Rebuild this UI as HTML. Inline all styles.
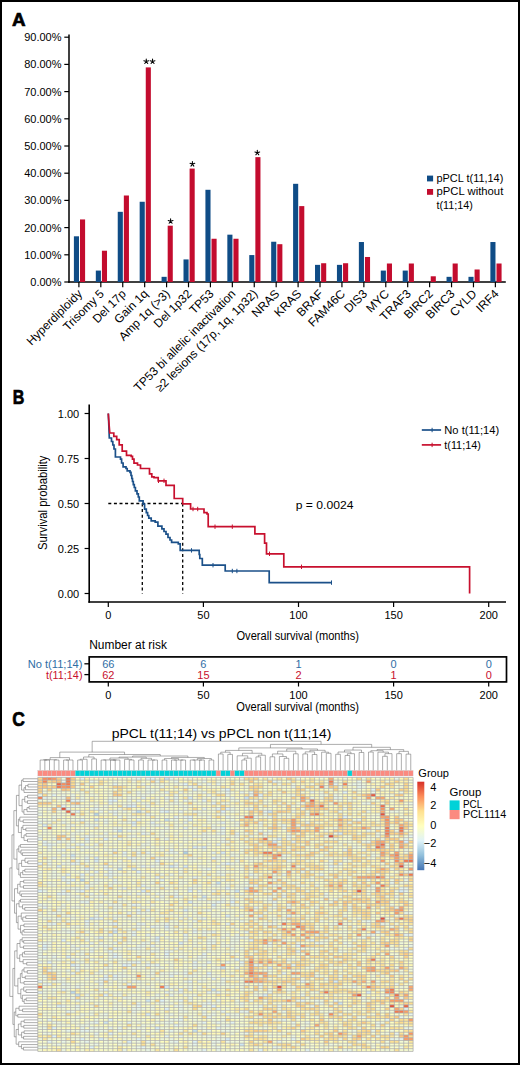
<!DOCTYPE html>
<html><head><meta charset="utf-8"><style>
html,body{margin:0;padding:0;background:#fff;}
svg{display:block;}
text{font-family:"Liberation Sans", sans-serif;}
</style></head><body>
<svg width="520" height="1065" viewBox="0 0 520 1065">
<rect width="520" height="1065" fill="#fff"/>
<text x="12.00" y="26.00" font-size="19" text-anchor="start" fill="#000" font-weight="bold" textLength="13.60" lengthAdjust="spacingAndGlyphs" stroke="#000" stroke-width="0.7">A</text>
<line x1="64.30" y1="282.00" x2="69.00" y2="282.00" stroke="#000" stroke-width="1.2" />
<text x="61.50" y="286.00" font-size="11" text-anchor="end" fill="#000" >0.00%</text>
<line x1="64.30" y1="254.80" x2="69.00" y2="254.80" stroke="#000" stroke-width="1.2" />
<text x="61.50" y="258.80" font-size="11" text-anchor="end" fill="#000" >10.00%</text>
<line x1="64.30" y1="227.60" x2="69.00" y2="227.60" stroke="#000" stroke-width="1.2" />
<text x="61.50" y="231.60" font-size="11" text-anchor="end" fill="#000" >20.00%</text>
<line x1="64.30" y1="200.40" x2="69.00" y2="200.40" stroke="#000" stroke-width="1.2" />
<text x="61.50" y="204.40" font-size="11" text-anchor="end" fill="#000" >30.00%</text>
<line x1="64.30" y1="173.20" x2="69.00" y2="173.20" stroke="#000" stroke-width="1.2" />
<text x="61.50" y="177.20" font-size="11" text-anchor="end" fill="#000" >40.00%</text>
<line x1="64.30" y1="146.00" x2="69.00" y2="146.00" stroke="#000" stroke-width="1.2" />
<text x="61.50" y="150.00" font-size="11" text-anchor="end" fill="#000" >50.00%</text>
<line x1="64.30" y1="118.80" x2="69.00" y2="118.80" stroke="#000" stroke-width="1.2" />
<text x="61.50" y="122.80" font-size="11" text-anchor="end" fill="#000" >60.00%</text>
<line x1="64.30" y1="91.60" x2="69.00" y2="91.60" stroke="#000" stroke-width="1.2" />
<text x="61.50" y="95.60" font-size="11" text-anchor="end" fill="#000" >70.00%</text>
<line x1="64.30" y1="64.40" x2="69.00" y2="64.40" stroke="#000" stroke-width="1.2" />
<text x="61.50" y="68.40" font-size="11" text-anchor="end" fill="#000" >80.00%</text>
<line x1="64.30" y1="37.20" x2="69.00" y2="37.20" stroke="#000" stroke-width="1.2" />
<text x="61.50" y="41.20" font-size="11" text-anchor="end" fill="#000" >90.00%</text>
<line x1="69.00" y1="34.60" x2="69.00" y2="282.75" stroke="#000" stroke-width="1.5" />
<line x1="68.30" y1="282.00" x2="505.80" y2="282.00" stroke="#000" stroke-width="1.5" />
<line x1="78.90" y1="282.00" x2="78.90" y2="287.30" stroke="#000" stroke-width="1.2" />
<rect x="73.90" y="236.30" width="5.1" height="45.70" fill="#0f4c86"/>
<rect x="80.00" y="219.44" width="5.1" height="62.56" fill="#c30c2e"/>
<text x="0" y="0" font-size="12" text-anchor="end" transform="translate(82.90,294.50) rotate(-45)">Hyperdiploidy</text>
<line x1="100.82" y1="282.00" x2="100.82" y2="287.30" stroke="#000" stroke-width="1.2" />
<rect x="95.82" y="270.58" width="5.1" height="11.42" fill="#0f4c86"/>
<rect x="101.92" y="250.72" width="5.1" height="31.28" fill="#c30c2e"/>
<text x="0" y="0" font-size="12" text-anchor="end" transform="translate(104.82,294.50) rotate(-45)">Trisomy 5</text>
<line x1="122.74" y1="282.00" x2="122.74" y2="287.30" stroke="#000" stroke-width="1.2" />
<rect x="117.74" y="211.82" width="5.1" height="70.18" fill="#0f4c86"/>
<rect x="123.84" y="195.50" width="5.1" height="86.50" fill="#c30c2e"/>
<text x="0" y="0" font-size="12" text-anchor="end" transform="translate(126.74,294.50) rotate(-45)">Del 17p</text>
<line x1="144.66" y1="282.00" x2="144.66" y2="287.30" stroke="#000" stroke-width="1.2" />
<rect x="139.66" y="201.76" width="5.1" height="80.24" fill="#0f4c86"/>
<rect x="145.76" y="67.39" width="5.1" height="214.61" fill="#c30c2e"/>
<text x="0" y="0" font-size="12" text-anchor="end" transform="translate(148.66,294.50) rotate(-45)">Gain 1q</text>
<line x1="166.58" y1="282.00" x2="166.58" y2="287.30" stroke="#000" stroke-width="1.2" />
<rect x="161.58" y="276.83" width="5.1" height="5.17" fill="#0f4c86"/>
<rect x="167.68" y="225.70" width="5.1" height="56.30" fill="#c30c2e"/>
<text x="0" y="0" font-size="12" text-anchor="end" transform="translate(170.58,294.50) rotate(-45)">Amp 1q (&gt;3)</text>
<line x1="188.50" y1="282.00" x2="188.50" y2="287.30" stroke="#000" stroke-width="1.2" />
<rect x="183.50" y="259.42" width="5.1" height="22.58" fill="#0f4c86"/>
<rect x="189.60" y="168.58" width="5.1" height="113.42" fill="#c30c2e"/>
<text x="0" y="0" font-size="12" text-anchor="end" transform="translate(192.50,294.50) rotate(-45)">Del 1p32</text>
<line x1="210.42" y1="282.00" x2="210.42" y2="287.30" stroke="#000" stroke-width="1.2" />
<rect x="205.42" y="189.79" width="5.1" height="92.21" fill="#0f4c86"/>
<rect x="211.52" y="238.75" width="5.1" height="43.25" fill="#c30c2e"/>
<text x="0" y="0" font-size="12" text-anchor="end" transform="translate(214.42,294.50) rotate(-45)">TP53</text>
<line x1="232.34" y1="282.00" x2="232.34" y2="287.30" stroke="#000" stroke-width="1.2" />
<rect x="227.34" y="234.67" width="5.1" height="47.33" fill="#0f4c86"/>
<rect x="233.44" y="238.75" width="5.1" height="43.25" fill="#c30c2e"/>
<text x="0" y="0" font-size="12" text-anchor="end" transform="translate(236.34,294.50) rotate(-45)">TP53 bi allelic inactivation</text>
<line x1="254.26" y1="282.00" x2="254.26" y2="287.30" stroke="#000" stroke-width="1.2" />
<rect x="249.26" y="255.07" width="5.1" height="26.93" fill="#0f4c86"/>
<rect x="255.36" y="157.15" width="5.1" height="124.85" fill="#c30c2e"/>
<text x="0" y="0" font-size="12" text-anchor="end" transform="translate(258.26,294.50) rotate(-45)">≥2 lesions (17p, 1q, 1p32)</text>
<line x1="276.18" y1="282.00" x2="276.18" y2="287.30" stroke="#000" stroke-width="1.2" />
<rect x="271.18" y="241.74" width="5.1" height="40.26" fill="#0f4c86"/>
<rect x="277.28" y="244.19" width="5.1" height="37.81" fill="#c30c2e"/>
<text x="0" y="0" font-size="12" text-anchor="end" transform="translate(280.18,294.50) rotate(-45)">NRAS</text>
<line x1="298.10" y1="282.00" x2="298.10" y2="287.30" stroke="#000" stroke-width="1.2" />
<rect x="293.10" y="183.81" width="5.1" height="98.19" fill="#0f4c86"/>
<rect x="299.20" y="206.11" width="5.1" height="75.89" fill="#c30c2e"/>
<text x="0" y="0" font-size="12" text-anchor="end" transform="translate(302.10,294.50) rotate(-45)">KRAS</text>
<line x1="320.02" y1="282.00" x2="320.02" y2="287.30" stroke="#000" stroke-width="1.2" />
<rect x="315.02" y="264.86" width="5.1" height="17.14" fill="#0f4c86"/>
<rect x="321.12" y="263.23" width="5.1" height="18.77" fill="#c30c2e"/>
<text x="0" y="0" font-size="12" text-anchor="end" transform="translate(324.02,294.50) rotate(-45)">BRAF</text>
<line x1="341.94" y1="282.00" x2="341.94" y2="287.30" stroke="#000" stroke-width="1.2" />
<rect x="336.94" y="264.86" width="5.1" height="17.14" fill="#0f4c86"/>
<rect x="343.04" y="263.23" width="5.1" height="18.77" fill="#c30c2e"/>
<text x="0" y="0" font-size="12" text-anchor="end" transform="translate(345.94,294.50) rotate(-45)">FAM46C</text>
<line x1="363.86" y1="282.00" x2="363.86" y2="287.30" stroke="#000" stroke-width="1.2" />
<rect x="358.86" y="242.02" width="5.1" height="39.98" fill="#0f4c86"/>
<rect x="364.96" y="256.98" width="5.1" height="25.02" fill="#c30c2e"/>
<text x="0" y="0" font-size="12" text-anchor="end" transform="translate(367.86,294.50) rotate(-45)">DIS3</text>
<line x1="385.78" y1="282.00" x2="385.78" y2="287.30" stroke="#000" stroke-width="1.2" />
<rect x="380.78" y="270.58" width="5.1" height="11.42" fill="#0f4c86"/>
<rect x="386.88" y="263.50" width="5.1" height="18.50" fill="#c30c2e"/>
<text x="0" y="0" font-size="12" text-anchor="end" transform="translate(389.78,294.50) rotate(-45)">MYC</text>
<line x1="407.70" y1="282.00" x2="407.70" y2="287.30" stroke="#000" stroke-width="1.2" />
<rect x="402.70" y="270.58" width="5.1" height="11.42" fill="#0f4c86"/>
<rect x="408.80" y="263.50" width="5.1" height="18.50" fill="#c30c2e"/>
<text x="0" y="0" font-size="12" text-anchor="end" transform="translate(411.70,294.50) rotate(-45)">TRAF3</text>
<line x1="429.62" y1="282.00" x2="429.62" y2="287.30" stroke="#000" stroke-width="1.2" />
<rect x="430.72" y="276.29" width="5.1" height="5.71" fill="#c30c2e"/>
<text x="0" y="0" font-size="12" text-anchor="end" transform="translate(433.62,294.50) rotate(-45)">BIRC2</text>
<line x1="451.54" y1="282.00" x2="451.54" y2="287.30" stroke="#000" stroke-width="1.2" />
<rect x="446.54" y="276.83" width="5.1" height="5.17" fill="#0f4c86"/>
<rect x="452.64" y="263.50" width="5.1" height="18.50" fill="#c30c2e"/>
<text x="0" y="0" font-size="12" text-anchor="end" transform="translate(455.54,294.50) rotate(-45)">BIRC3</text>
<line x1="473.46" y1="282.00" x2="473.46" y2="287.30" stroke="#000" stroke-width="1.2" />
<rect x="468.46" y="276.83" width="5.1" height="5.17" fill="#0f4c86"/>
<rect x="474.56" y="269.49" width="5.1" height="12.51" fill="#c30c2e"/>
<text x="0" y="0" font-size="12" text-anchor="end" transform="translate(477.46,294.50) rotate(-45)">CYLD</text>
<line x1="495.38" y1="282.00" x2="495.38" y2="287.30" stroke="#000" stroke-width="1.2" />
<rect x="490.38" y="242.02" width="5.1" height="39.98" fill="#0f4c86"/>
<rect x="496.48" y="263.50" width="5.1" height="18.50" fill="#c30c2e"/>
<text x="0" y="0" font-size="12" text-anchor="end" transform="translate(499.38,294.50) rotate(-45)">IRF4</text>
<path d="M146.25 61.50L146.25 59.00M146.25 61.50L148.63 60.73M146.25 61.50L147.72 63.52M146.25 61.50L144.78 63.52M146.25 61.50L143.87 60.73" stroke="#000" stroke-width="1.05" stroke-linecap="round" fill="none"/>
<path d="M152.55 61.50L152.55 59.00M152.55 61.50L154.93 60.73M152.55 61.50L154.02 63.52M152.55 61.50L151.08 63.52M152.55 61.50L150.17 60.73" stroke="#000" stroke-width="1.05" stroke-linecap="round" fill="none"/>
<path d="M170.60 221.20L170.60 218.70M170.60 221.20L172.98 220.43M170.60 221.20L172.07 223.22M170.60 221.20L169.13 223.22M170.60 221.20L168.22 220.43" stroke="#000" stroke-width="1.05" stroke-linecap="round" fill="none"/>
<path d="M192.40 164.10L192.40 161.60M192.40 164.10L194.78 163.33M192.40 164.10L193.87 166.12M192.40 164.10L190.93 166.12M192.40 164.10L190.02 163.33" stroke="#000" stroke-width="1.05" stroke-linecap="round" fill="none"/>
<path d="M257.30 152.80L257.30 150.30M257.30 152.80L259.68 152.03M257.30 152.80L258.77 154.82M257.30 152.80L255.83 154.82M257.30 152.80L254.92 152.03" stroke="#000" stroke-width="1.05" stroke-linecap="round" fill="none"/>
<rect x="427" y="175.6" width="6.1" height="5.8" fill="#0f4c86"/>
<rect x="427" y="189" width="6.1" height="5.8" fill="#c30c2e"/>
<text x="436.50" y="181.50" font-size="10.8" text-anchor="start" fill="#000" textLength="66.80" lengthAdjust="spacingAndGlyphs" >pPCL t(11,14)</text>
<text x="436.50" y="195.00" font-size="10.8" text-anchor="start" fill="#000" textLength="66.80" lengthAdjust="spacingAndGlyphs" >pPCL without</text>
<text x="436.50" y="208.50" font-size="10.8" text-anchor="start" fill="#000" >t(11;14)</text>
<text x="12.70" y="403.80" font-size="19.5" text-anchor="start" fill="#000" font-weight="bold" textLength="11.60" lengthAdjust="spacingAndGlyphs" stroke="#000" stroke-width="0.7">B</text>
<line x1="84.60" y1="413.50" x2="89.20" y2="413.50" stroke="#000" stroke-width="1.2" />
<text x="79.20" y="417.50" font-size="11" text-anchor="end" fill="#000" >1.00</text>
<line x1="84.60" y1="458.50" x2="89.20" y2="458.50" stroke="#000" stroke-width="1.2" />
<text x="79.20" y="462.50" font-size="11" text-anchor="end" fill="#000" >0.75</text>
<line x1="84.60" y1="503.50" x2="89.20" y2="503.50" stroke="#000" stroke-width="1.2" />
<text x="79.20" y="507.50" font-size="11" text-anchor="end" fill="#000" >0.50</text>
<line x1="84.60" y1="548.50" x2="89.20" y2="548.50" stroke="#000" stroke-width="1.2" />
<text x="79.20" y="552.50" font-size="11" text-anchor="end" fill="#000" >0.25</text>
<line x1="84.60" y1="593.50" x2="89.20" y2="593.50" stroke="#000" stroke-width="1.2" />
<text x="79.20" y="597.50" font-size="11" text-anchor="end" fill="#000" >0.00</text>
<line x1="89.20" y1="404.60" x2="89.20" y2="602.80" stroke="#000" stroke-width="1.6" />
<line x1="88.40" y1="602.00" x2="506.00" y2="602.00" stroke="#000" stroke-width="1.6" />
<line x1="108.30" y1="602.00" x2="108.30" y2="607.00" stroke="#000" stroke-width="1.2" />
<text x="108.30" y="619.00" font-size="11" text-anchor="middle" fill="#000" >0</text>
<line x1="203.40" y1="602.00" x2="203.40" y2="607.00" stroke="#000" stroke-width="1.2" />
<text x="203.40" y="619.00" font-size="11" text-anchor="middle" fill="#000" >50</text>
<line x1="298.50" y1="602.00" x2="298.50" y2="607.00" stroke="#000" stroke-width="1.2" />
<text x="298.50" y="619.00" font-size="11" text-anchor="middle" fill="#000" >100</text>
<line x1="393.60" y1="602.00" x2="393.60" y2="607.00" stroke="#000" stroke-width="1.2" />
<text x="393.60" y="619.00" font-size="11" text-anchor="middle" fill="#000" >150</text>
<line x1="488.70" y1="602.00" x2="488.70" y2="607.00" stroke="#000" stroke-width="1.2" />
<text x="488.70" y="619.00" font-size="11" text-anchor="middle" fill="#000" >200</text>
<text x="0" y="0" font-size="12" text-anchor="middle" textLength="94.5" lengthAdjust="spacingAndGlyphs" transform="translate(46.5,502.75) rotate(-90)">Survival probability</text>
<text x="236.50" y="639.80" font-size="12.5" text-anchor="start" fill="#000" textLength="122.50" lengthAdjust="spacingAndGlyphs" >Overall survival (months)</text>
<g stroke="#000" stroke-width="1.3" stroke-dasharray="3,2.6" fill="none">
<line x1="108.3" y1="503.5" x2="182.7" y2="503.5"/><line x1="142.3" y1="503.5" x2="142.3" y2="593.5"/><line x1="182.7" y1="503.5" x2="182.7" y2="593.5"/>
</g>
<polyline points="108.30,413.50 108.60,420.00 109.00,430.00 109.30,438.00 111.50,438.00 111.50,441.50 112.80,441.50 112.80,445.00 114.00,445.00 114.00,449.00 115.40,449.00 115.40,457.00 120.50,457.00 120.50,459.20 121.60,459.20 121.60,463.00 123.10,463.00 123.10,466.90 126.00,466.90 126.00,468.50 127.20,468.50 127.20,470.80 130.00,470.80 130.00,472.30 131.00,472.30 131.00,475.50 131.80,475.50 131.80,478.50 132.50,478.50 132.50,481.50 133.30,481.50 133.30,484.60 134.30,484.60 134.30,487.50 135.40,487.50 135.40,490.80 137.00,490.80 137.00,493.80 138.30,493.80 138.30,497.00 139.30,497.00 139.30,500.80 143.10,500.80 143.10,504.20 144.60,504.20 144.60,509.20 146.30,509.20 146.30,512.70 147.60,512.70 147.60,515.50 148.80,515.50 148.80,518.10 151.20,518.10 151.20,520.80 155.20,520.80 155.20,522.10 157.90,522.10 157.90,526.20 161.90,526.20 161.90,528.90 164.00,528.90 164.00,531.50 166.00,531.50 166.00,534.20 168.00,534.20 168.00,537.50 170.00,537.50 170.00,540.00 171.60,540.00 171.60,542.30 178.30,542.30 178.30,543.80 180.20,543.80 180.20,550.40 199.20,550.40 199.20,554.50 199.80,554.50 199.80,558.50 202.30,558.50 202.30,565.20 225.20,565.20 225.20,571.00 269.20,571.00 269.20,582.60 331.50,582.60" fill="none" stroke="#1b5089" stroke-width="1.7" stroke-linejoin="miter"/>
<polyline points="108.30,413.50 108.60,418.00 109.20,426.00 109.80,433.00 113.80,433.00 113.80,436.30 116.70,436.30 116.70,439.70 119.20,439.70 119.20,444.80 122.20,444.80 122.20,451.10 126.50,451.10 126.50,455.30 131.20,455.30 131.20,456.30 132.50,456.30 132.50,459.20 134.00,459.20 134.00,463.10 137.50,463.10 137.50,465.00 140.50,465.00 140.50,468.50 149.50,468.50 149.50,473.80 151.80,473.80 151.80,476.90 154.00,476.90 154.00,477.70 158.20,477.70 158.20,480.80 166.00,480.80 166.00,485.40 174.20,485.40 174.20,498.50 182.70,498.50 182.70,503.80 190.60,503.80 190.60,509.00 204.00,509.00 204.00,512.70 207.00,512.70 207.00,514.00 208.20,514.00 208.20,526.70 254.90,526.70 254.90,533.90 264.60,533.90 264.60,543.20 266.50,543.20 266.50,553.80 283.80,553.80 283.80,566.80 469.60,566.80 469.60,593.50" fill="none" stroke="#c8102e" stroke-width="1.7" stroke-linejoin="miter"/>
<line x1="158.50" y1="478.60" x2="158.50" y2="483.00" stroke="#c8102e" stroke-width="1.0" />
<line x1="164.00" y1="478.60" x2="164.00" y2="483.00" stroke="#c8102e" stroke-width="1.0" />
<line x1="193.00" y1="506.80" x2="193.00" y2="511.20" stroke="#c8102e" stroke-width="1.0" />
<line x1="197.70" y1="506.80" x2="197.70" y2="511.20" stroke="#c8102e" stroke-width="1.0" />
<line x1="215.00" y1="524.50" x2="215.00" y2="528.90" stroke="#c8102e" stroke-width="1.0" />
<line x1="232.30" y1="524.50" x2="232.30" y2="528.90" stroke="#c8102e" stroke-width="1.0" />
<line x1="269.50" y1="551.60" x2="269.50" y2="556.00" stroke="#c8102e" stroke-width="1.0" />
<line x1="301.50" y1="564.60" x2="301.50" y2="569.00" stroke="#c8102e" stroke-width="1.0" />
<line x1="191.50" y1="548.20" x2="191.50" y2="552.60" stroke="#1b5089" stroke-width="1.0" />
<line x1="213.00" y1="563.00" x2="213.00" y2="567.40" stroke="#1b5089" stroke-width="1.0" />
<line x1="232.30" y1="568.80" x2="232.30" y2="573.20" stroke="#1b5089" stroke-width="1.0" />
<line x1="236.90" y1="568.80" x2="236.90" y2="573.20" stroke="#1b5089" stroke-width="1.0" />
<line x1="331.50" y1="580.40" x2="331.50" y2="584.80" stroke="#1b5089" stroke-width="1.0" />
<line x1="421.80" y1="430.00" x2="441.10" y2="430.00" stroke="#1b5089" stroke-width="1.7" />
<line x1="432.10" y1="427.80" x2="432.10" y2="432.20" stroke="#1b5089" stroke-width="1.0" />
<line x1="421.80" y1="444.90" x2="441.10" y2="444.90" stroke="#c8102e" stroke-width="1.7" />
<line x1="432.10" y1="442.70" x2="432.10" y2="447.10" stroke="#c8102e" stroke-width="1.0" />
<text x="444.30" y="434.20" font-size="11.5" text-anchor="start" fill="#000" textLength="54.90" lengthAdjust="spacingAndGlyphs" >No t(11;14)</text>
<text x="444.30" y="449.10" font-size="11.5" text-anchor="start" fill="#000" textLength="36.50" lengthAdjust="spacingAndGlyphs" >t(11;14)</text>
<text x="295.70" y="508.80" font-size="11.5" text-anchor="start" fill="#000" textLength="57.70" lengthAdjust="spacingAndGlyphs" >p = 0.0024</text>
<text x="89.20" y="648.70" font-size="12" text-anchor="start" fill="#000" textLength="77.70" lengthAdjust="spacingAndGlyphs" >Number at risk</text>
<rect x="89.2" y="656.9" width="417.3" height="25" fill="none" stroke="#000" stroke-width="1.7"/>
<line x1="84.40" y1="663.80" x2="89.20" y2="663.80" stroke="#000" stroke-width="1.3" />
<line x1="84.40" y1="674.60" x2="89.20" y2="674.60" stroke="#000" stroke-width="1.3" />
<text x="82.50" y="667.60" font-size="11" text-anchor="end" fill="#2f6ea5" textLength="54.80" lengthAdjust="spacingAndGlyphs" >No t(11;14)</text>
<text x="82.50" y="679.40" font-size="11" text-anchor="end" fill="#c8102e" textLength="36.50" lengthAdjust="spacingAndGlyphs" >t(11;14)</text>
<text x="108.30" y="667.60" font-size="11" text-anchor="middle" fill="#2f6ea5" >66</text>
<text x="108.30" y="679.40" font-size="11" text-anchor="middle" fill="#c8102e" >62</text>
<line x1="108.30" y1="681.90" x2="108.30" y2="686.50" stroke="#000" stroke-width="1.2" />
<text x="108.30" y="699.00" font-size="11" text-anchor="middle" fill="#000" >0</text>
<text x="203.40" y="667.60" font-size="11" text-anchor="middle" fill="#2f6ea5" >6</text>
<text x="203.40" y="679.40" font-size="11" text-anchor="middle" fill="#c8102e" >15</text>
<line x1="203.40" y1="681.90" x2="203.40" y2="686.50" stroke="#000" stroke-width="1.2" />
<text x="203.40" y="699.00" font-size="11" text-anchor="middle" fill="#000" >50</text>
<text x="298.50" y="667.60" font-size="11" text-anchor="middle" fill="#2f6ea5" >1</text>
<text x="298.50" y="679.40" font-size="11" text-anchor="middle" fill="#c8102e" >2</text>
<line x1="298.50" y1="681.90" x2="298.50" y2="686.50" stroke="#000" stroke-width="1.2" />
<text x="298.50" y="699.00" font-size="11" text-anchor="middle" fill="#000" >100</text>
<text x="393.60" y="667.60" font-size="11" text-anchor="middle" fill="#2f6ea5" >0</text>
<text x="393.60" y="679.40" font-size="11" text-anchor="middle" fill="#c8102e" >1</text>
<line x1="393.60" y1="681.90" x2="393.60" y2="686.50" stroke="#000" stroke-width="1.2" />
<text x="393.60" y="699.00" font-size="11" text-anchor="middle" fill="#000" >150</text>
<text x="488.70" y="667.60" font-size="11" text-anchor="middle" fill="#2f6ea5" >0</text>
<text x="488.70" y="679.40" font-size="11" text-anchor="middle" fill="#c8102e" >0</text>
<line x1="488.70" y1="681.90" x2="488.70" y2="686.50" stroke="#000" stroke-width="1.2" />
<text x="488.70" y="699.00" font-size="11" text-anchor="middle" fill="#000" >200</text>
<text x="236.30" y="711.00" font-size="12.5" text-anchor="start" fill="#000" textLength="122.70" lengthAdjust="spacingAndGlyphs" >Overall survival (months)</text>
<text x="12.30" y="725.80" font-size="20" text-anchor="start" fill="#000" font-weight="bold" textLength="12.60" lengthAdjust="spacingAndGlyphs" stroke="#000" stroke-width="0.7">C</text>
<text x="111.70" y="738.20" font-size="12.5" text-anchor="start" fill="#000" textLength="219.80" lengthAdjust="spacingAndGlyphs" >pPCL t(11;14) vs pPCL non t(11;14)</text>
<rect x="37.80" y="770.5" width="4.69" height="5.5" fill="#fb8a80" stroke="#c8c8c8" stroke-width="0.3"/>
<rect x="42.49" y="770.5" width="4.69" height="5.5" fill="#fb8a80" stroke="#c8c8c8" stroke-width="0.3"/>
<rect x="47.18" y="770.5" width="4.69" height="5.5" fill="#fb8a80" stroke="#c8c8c8" stroke-width="0.3"/>
<rect x="51.87" y="770.5" width="4.69" height="5.5" fill="#fb8a80" stroke="#c8c8c8" stroke-width="0.3"/>
<rect x="56.56" y="770.5" width="4.69" height="5.5" fill="#fb8a80" stroke="#c8c8c8" stroke-width="0.3"/>
<rect x="61.26" y="770.5" width="4.69" height="5.5" fill="#fb8a80" stroke="#c8c8c8" stroke-width="0.3"/>
<rect x="65.95" y="770.5" width="4.69" height="5.5" fill="#fb8a80" stroke="#c8c8c8" stroke-width="0.3"/>
<rect x="70.64" y="770.5" width="4.69" height="5.5" fill="#fb8a80" stroke="#c8c8c8" stroke-width="0.3"/>
<rect x="75.33" y="770.5" width="4.69" height="5.5" fill="#00d2d8" stroke="#c8c8c8" stroke-width="0.3"/>
<rect x="80.02" y="770.5" width="4.69" height="5.5" fill="#00d2d8" stroke="#c8c8c8" stroke-width="0.3"/>
<rect x="84.71" y="770.5" width="4.69" height="5.5" fill="#00d2d8" stroke="#c8c8c8" stroke-width="0.3"/>
<rect x="89.40" y="770.5" width="4.69" height="5.5" fill="#00d2d8" stroke="#c8c8c8" stroke-width="0.3"/>
<rect x="94.09" y="770.5" width="4.69" height="5.5" fill="#00d2d8" stroke="#c8c8c8" stroke-width="0.3"/>
<rect x="98.79" y="770.5" width="4.69" height="5.5" fill="#00d2d8" stroke="#c8c8c8" stroke-width="0.3"/>
<rect x="103.48" y="770.5" width="4.69" height="5.5" fill="#00d2d8" stroke="#c8c8c8" stroke-width="0.3"/>
<rect x="108.17" y="770.5" width="4.69" height="5.5" fill="#00d2d8" stroke="#c8c8c8" stroke-width="0.3"/>
<rect x="112.86" y="770.5" width="4.69" height="5.5" fill="#00d2d8" stroke="#c8c8c8" stroke-width="0.3"/>
<rect x="117.55" y="770.5" width="4.69" height="5.5" fill="#00d2d8" stroke="#c8c8c8" stroke-width="0.3"/>
<rect x="122.24" y="770.5" width="4.69" height="5.5" fill="#00d2d8" stroke="#c8c8c8" stroke-width="0.3"/>
<rect x="126.93" y="770.5" width="4.69" height="5.5" fill="#00d2d8" stroke="#c8c8c8" stroke-width="0.3"/>
<rect x="131.62" y="770.5" width="4.69" height="5.5" fill="#00d2d8" stroke="#c8c8c8" stroke-width="0.3"/>
<rect x="136.32" y="770.5" width="4.69" height="5.5" fill="#00d2d8" stroke="#c8c8c8" stroke-width="0.3"/>
<rect x="141.01" y="770.5" width="4.69" height="5.5" fill="#00d2d8" stroke="#c8c8c8" stroke-width="0.3"/>
<rect x="145.70" y="770.5" width="4.69" height="5.5" fill="#00d2d8" stroke="#c8c8c8" stroke-width="0.3"/>
<rect x="150.39" y="770.5" width="4.69" height="5.5" fill="#00d2d8" stroke="#c8c8c8" stroke-width="0.3"/>
<rect x="155.08" y="770.5" width="4.69" height="5.5" fill="#00d2d8" stroke="#c8c8c8" stroke-width="0.3"/>
<rect x="159.77" y="770.5" width="4.69" height="5.5" fill="#00d2d8" stroke="#c8c8c8" stroke-width="0.3"/>
<rect x="164.46" y="770.5" width="4.69" height="5.5" fill="#00d2d8" stroke="#c8c8c8" stroke-width="0.3"/>
<rect x="169.16" y="770.5" width="4.69" height="5.5" fill="#00d2d8" stroke="#c8c8c8" stroke-width="0.3"/>
<rect x="173.85" y="770.5" width="4.69" height="5.5" fill="#00d2d8" stroke="#c8c8c8" stroke-width="0.3"/>
<rect x="178.54" y="770.5" width="4.69" height="5.5" fill="#00d2d8" stroke="#c8c8c8" stroke-width="0.3"/>
<rect x="183.23" y="770.5" width="4.69" height="5.5" fill="#00d2d8" stroke="#c8c8c8" stroke-width="0.3"/>
<rect x="187.92" y="770.5" width="4.69" height="5.5" fill="#00d2d8" stroke="#c8c8c8" stroke-width="0.3"/>
<rect x="192.61" y="770.5" width="4.69" height="5.5" fill="#00d2d8" stroke="#c8c8c8" stroke-width="0.3"/>
<rect x="197.30" y="770.5" width="4.69" height="5.5" fill="#00d2d8" stroke="#c8c8c8" stroke-width="0.3"/>
<rect x="201.99" y="770.5" width="4.69" height="5.5" fill="#00d2d8" stroke="#c8c8c8" stroke-width="0.3"/>
<rect x="206.69" y="770.5" width="4.69" height="5.5" fill="#00d2d8" stroke="#c8c8c8" stroke-width="0.3"/>
<rect x="211.38" y="770.5" width="4.69" height="5.5" fill="#00d2d8" stroke="#c8c8c8" stroke-width="0.3"/>
<rect x="216.07" y="770.5" width="4.69" height="5.5" fill="#fb8a80" stroke="#c8c8c8" stroke-width="0.3"/>
<rect x="220.76" y="770.5" width="4.69" height="5.5" fill="#00d2d8" stroke="#c8c8c8" stroke-width="0.3"/>
<rect x="225.45" y="770.5" width="4.69" height="5.5" fill="#00d2d8" stroke="#c8c8c8" stroke-width="0.3"/>
<rect x="230.14" y="770.5" width="4.69" height="5.5" fill="#fb8a80" stroke="#c8c8c8" stroke-width="0.3"/>
<rect x="234.83" y="770.5" width="4.69" height="5.5" fill="#00d2d8" stroke="#c8c8c8" stroke-width="0.3"/>
<rect x="239.52" y="770.5" width="4.69" height="5.5" fill="#00d2d8" stroke="#c8c8c8" stroke-width="0.3"/>
<rect x="244.22" y="770.5" width="4.69" height="5.5" fill="#fb8a80" stroke="#c8c8c8" stroke-width="0.3"/>
<rect x="248.91" y="770.5" width="4.69" height="5.5" fill="#fb8a80" stroke="#c8c8c8" stroke-width="0.3"/>
<rect x="253.60" y="770.5" width="4.69" height="5.5" fill="#fb8a80" stroke="#c8c8c8" stroke-width="0.3"/>
<rect x="258.29" y="770.5" width="4.69" height="5.5" fill="#fb8a80" stroke="#c8c8c8" stroke-width="0.3"/>
<rect x="262.98" y="770.5" width="4.69" height="5.5" fill="#fb8a80" stroke="#c8c8c8" stroke-width="0.3"/>
<rect x="267.67" y="770.5" width="4.69" height="5.5" fill="#fb8a80" stroke="#c8c8c8" stroke-width="0.3"/>
<rect x="272.36" y="770.5" width="4.69" height="5.5" fill="#fb8a80" stroke="#c8c8c8" stroke-width="0.3"/>
<rect x="277.05" y="770.5" width="4.69" height="5.5" fill="#fb8a80" stroke="#c8c8c8" stroke-width="0.3"/>
<rect x="281.75" y="770.5" width="4.69" height="5.5" fill="#fb8a80" stroke="#c8c8c8" stroke-width="0.3"/>
<rect x="286.44" y="770.5" width="4.69" height="5.5" fill="#fb8a80" stroke="#c8c8c8" stroke-width="0.3"/>
<rect x="291.13" y="770.5" width="4.69" height="5.5" fill="#fb8a80" stroke="#c8c8c8" stroke-width="0.3"/>
<rect x="295.82" y="770.5" width="4.69" height="5.5" fill="#fb8a80" stroke="#c8c8c8" stroke-width="0.3"/>
<rect x="300.51" y="770.5" width="4.69" height="5.5" fill="#fb8a80" stroke="#c8c8c8" stroke-width="0.3"/>
<rect x="305.20" y="770.5" width="4.69" height="5.5" fill="#fb8a80" stroke="#c8c8c8" stroke-width="0.3"/>
<rect x="309.89" y="770.5" width="4.69" height="5.5" fill="#fb8a80" stroke="#c8c8c8" stroke-width="0.3"/>
<rect x="314.58" y="770.5" width="4.69" height="5.5" fill="#fb8a80" stroke="#c8c8c8" stroke-width="0.3"/>
<rect x="319.28" y="770.5" width="4.69" height="5.5" fill="#fb8a80" stroke="#c8c8c8" stroke-width="0.3"/>
<rect x="323.97" y="770.5" width="4.69" height="5.5" fill="#fb8a80" stroke="#c8c8c8" stroke-width="0.3"/>
<rect x="328.66" y="770.5" width="4.69" height="5.5" fill="#fb8a80" stroke="#c8c8c8" stroke-width="0.3"/>
<rect x="333.35" y="770.5" width="4.69" height="5.5" fill="#fb8a80" stroke="#c8c8c8" stroke-width="0.3"/>
<rect x="338.04" y="770.5" width="4.69" height="5.5" fill="#fb8a80" stroke="#c8c8c8" stroke-width="0.3"/>
<rect x="342.73" y="770.5" width="4.69" height="5.5" fill="#fb8a80" stroke="#c8c8c8" stroke-width="0.3"/>
<rect x="347.42" y="770.5" width="4.69" height="5.5" fill="#00d2d8" stroke="#c8c8c8" stroke-width="0.3"/>
<rect x="352.11" y="770.5" width="4.69" height="5.5" fill="#fb8a80" stroke="#c8c8c8" stroke-width="0.3"/>
<rect x="356.81" y="770.5" width="4.69" height="5.5" fill="#fb8a80" stroke="#c8c8c8" stroke-width="0.3"/>
<rect x="361.50" y="770.5" width="4.69" height="5.5" fill="#fb8a80" stroke="#c8c8c8" stroke-width="0.3"/>
<rect x="366.19" y="770.5" width="4.69" height="5.5" fill="#fb8a80" stroke="#c8c8c8" stroke-width="0.3"/>
<rect x="370.88" y="770.5" width="4.69" height="5.5" fill="#fb8a80" stroke="#c8c8c8" stroke-width="0.3"/>
<rect x="375.57" y="770.5" width="4.69" height="5.5" fill="#fb8a80" stroke="#c8c8c8" stroke-width="0.3"/>
<rect x="380.26" y="770.5" width="4.69" height="5.5" fill="#fb8a80" stroke="#c8c8c8" stroke-width="0.3"/>
<rect x="384.95" y="770.5" width="4.69" height="5.5" fill="#fb8a80" stroke="#c8c8c8" stroke-width="0.3"/>
<rect x="389.64" y="770.5" width="4.69" height="5.5" fill="#fb8a80" stroke="#c8c8c8" stroke-width="0.3"/>
<rect x="394.34" y="770.5" width="4.69" height="5.5" fill="#fb8a80" stroke="#c8c8c8" stroke-width="0.3"/>
<rect x="399.03" y="770.5" width="4.69" height="5.5" fill="#fb8a80" stroke="#c8c8c8" stroke-width="0.3"/>
<rect x="403.72" y="770.5" width="4.69" height="5.5" fill="#fb8a80" stroke="#c8c8c8" stroke-width="0.3"/>
<rect x="408.41" y="770.5" width="4.69" height="5.5" fill="#fb8a80" stroke="#c8c8c8" stroke-width="0.3"/>
<path fill="#fed588" d="M37.80 777.40h4.69v2.74h-4.69zM253.60 777.40h4.69v2.74h-4.69zM150.39 780.14h4.69v2.74h-4.69zM300.51 780.14h4.69v2.74h-4.69zM394.34 780.14h4.69v2.74h-4.69zM230.14 782.88h4.69v2.74h-4.69zM319.28 782.88h4.69v2.74h-4.69zM384.95 782.88h4.69v2.74h-4.69zM403.72 782.88h4.69v2.74h-4.69zM89.40 785.62h4.69v2.74h-4.69zM112.86 785.62h4.69v2.74h-4.69zM117.55 785.62h4.69v2.74h-4.69zM248.91 785.62h4.69v2.74h-4.69zM380.26 785.62h4.69v2.74h-4.69zM37.80 788.36h4.69v2.74h-4.69zM47.18 788.36h4.69v2.74h-4.69zM183.23 788.36h4.69v2.74h-4.69zM253.60 788.36h4.69v2.74h-4.69zM295.82 788.36h4.69v2.74h-4.69zM300.51 788.36h4.69v2.74h-4.69zM333.35 788.36h4.69v2.74h-4.69zM399.03 788.36h4.69v2.74h-4.69zM37.80 791.10h4.69v2.74h-4.69zM112.86 791.10h4.69v2.74h-4.69zM352.11 791.10h4.69v2.74h-4.69zM300.51 793.84h4.69v2.74h-4.69zM394.34 793.84h4.69v2.74h-4.69zM291.13 796.58h4.69v2.74h-4.69zM305.20 796.58h4.69v2.74h-4.69zM187.92 802.06h4.69v2.74h-4.69zM244.22 802.06h4.69v2.74h-4.69zM248.91 802.06h4.69v2.74h-4.69zM281.75 802.06h4.69v2.74h-4.69zM305.20 802.06h4.69v2.74h-4.69zM319.28 802.06h4.69v2.74h-4.69zM347.42 802.06h4.69v2.74h-4.69zM370.88 802.06h4.69v2.74h-4.69zM384.95 802.06h4.69v2.74h-4.69zM220.76 804.80h4.69v2.74h-4.69zM253.60 804.80h4.69v2.74h-4.69zM286.44 807.54h4.69v2.74h-4.69zM305.20 807.54h4.69v2.74h-4.69zM314.58 807.54h4.69v2.74h-4.69zM319.28 807.54h4.69v2.74h-4.69zM323.97 807.54h4.69v2.74h-4.69zM51.87 810.28h4.69v2.74h-4.69zM281.75 810.28h4.69v2.74h-4.69zM314.58 810.28h4.69v2.74h-4.69zM248.91 813.02h4.69v2.74h-4.69zM272.36 813.02h4.69v2.74h-4.69zM300.51 813.02h4.69v2.74h-4.69zM295.82 815.76h4.69v2.74h-4.69zM239.52 818.50h4.69v2.74h-4.69zM248.91 818.50h4.69v2.74h-4.69zM281.75 818.50h4.69v2.74h-4.69zM380.26 818.50h4.69v2.74h-4.69zM338.04 821.24h4.69v2.74h-4.69zM403.72 821.24h4.69v2.74h-4.69zM300.51 823.98h4.69v2.74h-4.69zM309.89 823.98h4.69v2.74h-4.69zM347.42 823.98h4.69v2.74h-4.69zM403.72 823.98h4.69v2.74h-4.69zM295.82 826.72h4.69v2.74h-4.69zM338.04 826.72h4.69v2.74h-4.69zM403.72 826.72h4.69v2.74h-4.69zM300.51 829.46h4.69v2.74h-4.69zM333.35 829.46h4.69v2.74h-4.69zM375.57 829.46h4.69v2.74h-4.69zM389.64 829.46h4.69v2.74h-4.69zM291.13 832.20h4.69v2.74h-4.69zM300.51 832.20h4.69v2.74h-4.69zM328.66 832.20h4.69v2.74h-4.69zM389.64 832.20h4.69v2.74h-4.69zM394.34 832.20h4.69v2.74h-4.69zM319.28 834.94h4.69v2.74h-4.69zM333.35 834.94h4.69v2.74h-4.69zM352.11 834.94h4.69v2.74h-4.69zM258.29 837.68h4.69v2.74h-4.69zM352.11 837.68h4.69v2.74h-4.69zM384.95 837.68h4.69v2.74h-4.69zM394.34 837.68h4.69v2.74h-4.69zM258.29 840.42h4.69v2.74h-4.69zM370.88 840.42h4.69v2.74h-4.69zM408.41 840.42h4.69v2.74h-4.69zM253.60 843.16h4.69v2.74h-4.69zM305.20 843.16h4.69v2.74h-4.69zM366.19 843.16h4.69v2.74h-4.69zM389.64 843.16h4.69v2.74h-4.69zM403.72 843.16h4.69v2.74h-4.69zM253.60 845.90h4.69v2.74h-4.69zM267.67 845.90h4.69v2.74h-4.69zM277.05 845.90h4.69v2.74h-4.69zM366.19 845.90h4.69v2.74h-4.69zM389.64 845.90h4.69v2.74h-4.69zM253.60 848.64h4.69v2.74h-4.69zM272.36 848.64h4.69v2.74h-4.69zM319.28 848.64h4.69v2.74h-4.69zM112.86 851.38h4.69v2.74h-4.69zM244.22 851.38h4.69v2.74h-4.69zM258.29 851.38h4.69v2.74h-4.69zM277.05 851.38h4.69v2.74h-4.69zM384.95 851.38h4.69v2.74h-4.69zM408.41 851.38h4.69v2.74h-4.69zM187.92 854.12h4.69v2.74h-4.69zM295.82 854.12h4.69v2.74h-4.69zM309.89 854.12h4.69v2.74h-4.69zM328.66 854.12h4.69v2.74h-4.69zM403.72 854.12h4.69v2.74h-4.69zM150.39 856.86h4.69v2.74h-4.69zM399.03 856.86h4.69v2.74h-4.69zM272.36 859.60h4.69v2.74h-4.69zM319.28 859.60h4.69v2.74h-4.69zM103.48 862.34h4.69v2.74h-4.69zM159.77 862.34h4.69v2.74h-4.69zM291.13 862.34h4.69v2.74h-4.69zM384.95 862.34h4.69v2.74h-4.69zM394.34 862.34h4.69v2.74h-4.69zM244.22 865.08h4.69v2.74h-4.69zM277.05 865.08h4.69v2.74h-4.69zM314.58 865.08h4.69v2.74h-4.69zM272.36 867.82h4.69v2.74h-4.69zM277.05 867.82h4.69v2.74h-4.69zM319.28 867.82h4.69v2.74h-4.69zM384.95 867.82h4.69v2.74h-4.69zM394.34 867.82h4.69v2.74h-4.69zM380.26 870.56h4.69v2.74h-4.69zM333.35 873.30h4.69v2.74h-4.69zM380.26 873.30h4.69v2.74h-4.69zM192.61 878.78h4.69v2.74h-4.69zM408.41 878.78h4.69v2.74h-4.69zM155.08 881.52h4.69v2.74h-4.69zM281.75 881.52h4.69v2.74h-4.69zM291.13 884.26h4.69v2.74h-4.69zM352.11 884.26h4.69v2.74h-4.69zM384.95 884.26h4.69v2.74h-4.69zM108.17 887.00h4.69v2.74h-4.69zM338.04 887.00h4.69v2.74h-4.69zM244.22 889.74h4.69v2.74h-4.69zM281.75 889.74h4.69v2.74h-4.69zM295.82 889.74h4.69v2.74h-4.69zM342.73 889.74h4.69v2.74h-4.69zM389.64 889.74h4.69v2.74h-4.69zM291.13 892.48h4.69v2.74h-4.69zM375.57 892.48h4.69v2.74h-4.69zM384.95 892.48h4.69v2.74h-4.69zM244.22 897.96h4.69v2.74h-4.69zM272.36 897.96h4.69v2.74h-4.69zM305.20 897.96h4.69v2.74h-4.69zM366.19 897.96h4.69v2.74h-4.69zM380.26 897.96h4.69v2.74h-4.69zM248.91 900.70h4.69v2.74h-4.69zM295.82 900.70h4.69v2.74h-4.69zM309.89 900.70h4.69v2.74h-4.69zM347.42 900.70h4.69v2.74h-4.69zM361.50 900.70h4.69v2.74h-4.69zM380.26 900.70h4.69v2.74h-4.69zM399.03 900.70h4.69v2.74h-4.69zM169.16 903.44h4.69v2.74h-4.69zM328.66 903.44h4.69v2.74h-4.69zM352.11 903.44h4.69v2.74h-4.69zM366.19 903.44h4.69v2.74h-4.69zM244.22 906.18h4.69v2.74h-4.69zM248.91 906.18h4.69v2.74h-4.69zM262.98 906.18h4.69v2.74h-4.69zM319.28 906.18h4.69v2.74h-4.69zM352.11 906.18h4.69v2.74h-4.69zM37.80 908.92h4.69v2.74h-4.69zM277.05 908.92h4.69v2.74h-4.69zM314.58 911.66h4.69v2.74h-4.69zM361.50 911.66h4.69v2.74h-4.69zM366.19 911.66h4.69v2.74h-4.69zM126.93 914.40h4.69v2.74h-4.69zM277.05 914.40h4.69v2.74h-4.69zM286.44 917.14h4.69v2.74h-4.69zM300.51 917.14h4.69v2.74h-4.69zM342.73 917.14h4.69v2.74h-4.69zM403.72 917.14h4.69v2.74h-4.69zM408.41 917.14h4.69v2.74h-4.69zM248.91 919.88h4.69v2.74h-4.69zM338.04 919.88h4.69v2.74h-4.69zM408.41 919.88h4.69v2.74h-4.69zM65.95 922.62h4.69v2.74h-4.69zM230.14 922.62h4.69v2.74h-4.69zM375.57 922.62h4.69v2.74h-4.69zM248.91 925.36h4.69v2.74h-4.69zM309.89 925.36h4.69v2.74h-4.69zM375.57 925.36h4.69v2.74h-4.69zM380.26 925.36h4.69v2.74h-4.69zM309.89 928.10h4.69v2.74h-4.69zM356.81 928.10h4.69v2.74h-4.69zM80.02 930.84h4.69v2.74h-4.69zM248.91 930.84h4.69v2.74h-4.69zM262.98 930.84h4.69v2.74h-4.69zM380.26 930.84h4.69v2.74h-4.69zM399.03 933.58h4.69v2.74h-4.69zM122.24 936.32h4.69v2.74h-4.69zM323.97 936.32h4.69v2.74h-4.69zM338.04 936.32h4.69v2.74h-4.69zM253.60 939.06h4.69v2.74h-4.69zM300.51 939.06h4.69v2.74h-4.69zM333.35 939.06h4.69v2.74h-4.69zM408.41 939.06h4.69v2.74h-4.69zM380.26 941.80h4.69v2.74h-4.69zM305.20 944.54h4.69v2.74h-4.69zM361.50 944.54h4.69v2.74h-4.69zM248.91 947.28h4.69v2.74h-4.69zM286.44 947.28h4.69v2.74h-4.69zM244.22 950.02h4.69v2.74h-4.69zM262.98 950.02h4.69v2.74h-4.69zM323.97 950.02h4.69v2.74h-4.69zM375.57 952.76h4.69v2.74h-4.69zM136.32 955.50h4.69v2.74h-4.69zM230.14 955.50h4.69v2.74h-4.69zM300.51 955.50h4.69v2.74h-4.69zM338.04 955.50h4.69v2.74h-4.69zM389.64 955.50h4.69v2.74h-4.69zM403.72 955.50h4.69v2.74h-4.69zM173.85 958.24h4.69v2.74h-4.69zM300.51 958.24h4.69v2.74h-4.69zM342.73 958.24h4.69v2.74h-4.69zM366.19 958.24h4.69v2.74h-4.69zM244.22 960.98h4.69v2.74h-4.69zM272.36 960.98h4.69v2.74h-4.69zM281.75 960.98h4.69v2.74h-4.69zM399.03 960.98h4.69v2.74h-4.69zM295.82 963.72h4.69v2.74h-4.69zM300.51 963.72h4.69v2.74h-4.69zM319.28 963.72h4.69v2.74h-4.69zM122.24 966.46h4.69v2.74h-4.69zM253.60 966.46h4.69v2.74h-4.69zM281.75 966.46h4.69v2.74h-4.69zM361.50 966.46h4.69v2.74h-4.69zM42.49 969.20h4.69v2.74h-4.69zM277.05 969.20h4.69v2.74h-4.69zM333.35 969.20h4.69v2.74h-4.69zM389.64 969.20h4.69v2.74h-4.69zM155.08 971.94h4.69v2.74h-4.69zM356.81 974.68h4.69v2.74h-4.69zM361.50 974.68h4.69v2.74h-4.69zM262.98 977.42h4.69v2.74h-4.69zM291.13 977.42h4.69v2.74h-4.69zM295.82 977.42h4.69v2.74h-4.69zM399.03 977.42h4.69v2.74h-4.69zM103.48 980.16h4.69v2.74h-4.69zM267.67 980.16h4.69v2.74h-4.69zM286.44 980.16h4.69v2.74h-4.69zM328.66 980.16h4.69v2.74h-4.69zM319.28 982.90h4.69v2.74h-4.69zM338.04 982.90h4.69v2.74h-4.69zM253.60 985.64h4.69v2.74h-4.69zM272.36 985.64h4.69v2.74h-4.69zM305.20 985.64h4.69v2.74h-4.69zM389.64 985.64h4.69v2.74h-4.69zM253.60 988.38h4.69v2.74h-4.69zM309.89 988.38h4.69v2.74h-4.69zM370.88 988.38h4.69v2.74h-4.69zM319.28 991.12h4.69v2.74h-4.69zM352.11 991.12h4.69v2.74h-4.69zM399.03 991.12h4.69v2.74h-4.69zM244.22 993.86h4.69v2.74h-4.69zM291.13 996.60h4.69v2.74h-4.69zM384.95 996.60h4.69v2.74h-4.69zM244.22 999.34h4.69v2.74h-4.69zM281.75 999.34h4.69v2.74h-4.69zM323.97 999.34h4.69v2.74h-4.69zM375.57 999.34h4.69v2.74h-4.69zM380.26 999.34h4.69v2.74h-4.69zM295.82 1002.08h4.69v2.74h-4.69zM333.35 1002.08h4.69v2.74h-4.69zM352.11 1002.08h4.69v2.74h-4.69zM403.72 1002.08h4.69v2.74h-4.69zM94.09 1004.82h4.69v2.74h-4.69zM197.30 1004.82h4.69v2.74h-4.69zM295.82 1004.82h4.69v2.74h-4.69zM300.51 1004.82h4.69v2.74h-4.69zM314.58 1004.82h4.69v2.74h-4.69zM328.66 1004.82h4.69v2.74h-4.69zM366.19 1004.82h4.69v2.74h-4.69zM262.98 1007.56h4.69v2.74h-4.69zM267.67 1007.56h4.69v2.74h-4.69zM309.89 1007.56h4.69v2.74h-4.69zM384.95 1007.56h4.69v2.74h-4.69zM399.03 1007.56h4.69v2.74h-4.69zM248.91 1010.30h4.69v2.74h-4.69zM338.04 1010.30h4.69v2.74h-4.69zM366.19 1010.30h4.69v2.74h-4.69zM267.67 1013.04h4.69v2.74h-4.69zM277.05 1013.04h4.69v2.74h-4.69zM286.44 1013.04h4.69v2.74h-4.69zM375.57 1013.04h4.69v2.74h-4.69zM384.95 1013.04h4.69v2.74h-4.69zM272.36 1015.78h4.69v2.74h-4.69zM286.44 1015.78h4.69v2.74h-4.69zM338.04 1015.78h4.69v2.74h-4.69zM366.19 1015.78h4.69v2.74h-4.69zM384.95 1015.78h4.69v2.74h-4.69zM389.64 1018.52h4.69v2.74h-4.69zM267.67 1021.26h4.69v2.74h-4.69zM295.82 1024.00h4.69v2.74h-4.69zM342.73 1024.00h4.69v2.74h-4.69zM380.26 1024.00h4.69v2.74h-4.69zM291.13 1026.74h4.69v2.74h-4.69zM361.50 1026.74h4.69v2.74h-4.69zM244.22 1029.48h4.69v2.74h-4.69zM258.29 1029.48h4.69v2.74h-4.69zM262.98 1029.48h4.69v2.74h-4.69zM366.19 1029.48h4.69v2.74h-4.69zM220.76 1032.22h4.69v2.74h-4.69zM328.66 1032.22h4.69v2.74h-4.69zM356.81 1032.22h4.69v2.74h-4.69zM244.22 1034.96h4.69v2.74h-4.69zM319.28 1034.96h4.69v2.74h-4.69zM328.66 1034.96h4.69v2.74h-4.69zM370.88 1034.96h4.69v2.74h-4.69zM342.73 1037.70h4.69v2.74h-4.69zM352.11 1037.70h4.69v2.74h-4.69zM356.81 1037.70h4.69v2.74h-4.69zM248.91 1040.44h4.69v2.74h-4.69zM253.60 1043.18h4.69v2.74h-4.69zM286.44 1043.18h4.69v2.74h-4.69zM361.50 1043.18h4.69v2.74h-4.69zM291.13 1045.92h4.69v2.74h-4.69zM380.26 1045.92h4.69v2.74h-4.69z"/>
<path fill="#fc8d59" d="M42.49 777.40h4.69v2.74h-4.69zM61.26 782.88h4.69v2.74h-4.69zM65.95 785.62h4.69v2.74h-4.69zM384.95 818.50h4.69v2.74h-4.69zM394.34 859.60h4.69v2.74h-4.69zM399.03 873.30h4.69v2.74h-4.69zM384.95 991.12h4.69v2.74h-4.69zM328.66 1013.04h4.69v2.74h-4.69z"/>
<path fill="#f88354" d="M47.18 777.40h4.69v2.74h-4.69zM42.49 780.14h4.69v2.74h-4.69zM342.73 782.88h4.69v2.74h-4.69zM319.28 785.62h4.69v2.74h-4.69zM37.80 796.58h4.69v2.74h-4.69zM65.95 799.32h4.69v2.74h-4.69zM244.22 815.76h4.69v2.74h-4.69zM47.18 826.72h4.69v2.74h-4.69zM384.95 829.46h4.69v2.74h-4.69zM394.34 854.12h4.69v2.74h-4.69zM291.13 865.08h4.69v2.74h-4.69zM267.67 876.04h4.69v2.74h-4.69zM361.50 928.10h4.69v2.74h-4.69zM244.22 980.16h4.69v2.74h-4.69zM366.19 985.64h4.69v2.74h-4.69zM389.64 991.12h4.69v2.74h-4.69z"/>
<path fill="#fc965f" d="M51.87 777.40h4.69v2.74h-4.69zM61.26 785.62h4.69v2.74h-4.69zM380.26 807.54h4.69v2.74h-4.69zM291.13 829.46h4.69v2.74h-4.69zM253.60 865.08h4.69v2.74h-4.69zM399.03 908.92h4.69v2.74h-4.69zM281.75 928.10h4.69v2.74h-4.69zM291.13 928.10h4.69v2.74h-4.69zM262.98 939.06h4.69v2.74h-4.69zM220.76 963.72h4.69v2.74h-4.69zM136.32 974.68h4.69v2.74h-4.69zM258.29 1013.04h4.69v2.74h-4.69zM338.04 1032.22h4.69v2.74h-4.69zM408.41 1032.22h4.69v2.74h-4.69zM403.72 1034.96h4.69v2.74h-4.69z"/>
<path fill="#fecc83" d="M56.56 777.40h4.69v2.74h-4.69zM70.64 777.40h4.69v2.74h-4.69zM286.44 777.40h4.69v2.74h-4.69zM37.80 780.14h4.69v2.74h-4.69zM51.87 780.14h4.69v2.74h-4.69zM248.91 780.14h4.69v2.74h-4.69zM267.67 780.14h4.69v2.74h-4.69zM42.49 782.88h4.69v2.74h-4.69zM80.02 782.88h4.69v2.74h-4.69zM37.80 785.62h4.69v2.74h-4.69zM51.87 785.62h4.69v2.74h-4.69zM70.64 785.62h4.69v2.74h-4.69zM328.66 785.62h4.69v2.74h-4.69zM65.95 788.36h4.69v2.74h-4.69zM375.57 788.36h4.69v2.74h-4.69zM281.75 791.10h4.69v2.74h-4.69zM112.86 793.84h4.69v2.74h-4.69zM117.55 793.84h4.69v2.74h-4.69zM361.50 793.84h4.69v2.74h-4.69zM399.03 793.84h4.69v2.74h-4.69zM328.66 799.32h4.69v2.74h-4.69zM37.80 802.06h4.69v2.74h-4.69zM42.49 802.06h4.69v2.74h-4.69zM47.18 802.06h4.69v2.74h-4.69zM70.64 802.06h4.69v2.74h-4.69zM56.56 804.80h4.69v2.74h-4.69zM286.44 804.80h4.69v2.74h-4.69zM314.58 804.80h4.69v2.74h-4.69zM248.91 810.28h4.69v2.74h-4.69zM258.29 810.28h4.69v2.74h-4.69zM277.05 810.28h4.69v2.74h-4.69zM394.34 815.76h4.69v2.74h-4.69zM272.36 818.50h4.69v2.74h-4.69zM394.34 818.50h4.69v2.74h-4.69zM399.03 818.50h4.69v2.74h-4.69zM244.22 821.24h4.69v2.74h-4.69zM253.60 821.24h4.69v2.74h-4.69zM356.81 821.24h4.69v2.74h-4.69zM272.36 823.98h4.69v2.74h-4.69zM305.20 823.98h4.69v2.74h-4.69zM366.19 826.72h4.69v2.74h-4.69zM244.22 829.46h4.69v2.74h-4.69zM286.44 829.46h4.69v2.74h-4.69zM305.20 829.46h4.69v2.74h-4.69zM258.29 832.20h4.69v2.74h-4.69zM56.56 834.94h4.69v2.74h-4.69zM61.26 834.94h4.69v2.74h-4.69zM295.82 834.94h4.69v2.74h-4.69zM56.56 837.68h4.69v2.74h-4.69zM65.95 837.68h4.69v2.74h-4.69zM389.64 837.68h4.69v2.74h-4.69zM267.67 840.42h4.69v2.74h-4.69zM305.20 840.42h4.69v2.74h-4.69zM272.36 845.90h4.69v2.74h-4.69zM300.51 845.90h4.69v2.74h-4.69zM323.97 845.90h4.69v2.74h-4.69zM291.13 848.64h4.69v2.74h-4.69zM347.42 848.64h4.69v2.74h-4.69zM380.26 848.64h4.69v2.74h-4.69zM309.89 851.38h4.69v2.74h-4.69zM347.42 851.38h4.69v2.74h-4.69zM305.20 854.12h4.69v2.74h-4.69zM347.42 854.12h4.69v2.74h-4.69zM267.67 859.60h4.69v2.74h-4.69zM258.29 862.34h4.69v2.74h-4.69zM300.51 867.82h4.69v2.74h-4.69zM375.57 870.56h4.69v2.74h-4.69zM286.44 873.30h4.69v2.74h-4.69zM403.72 873.30h4.69v2.74h-4.69zM244.22 876.04h4.69v2.74h-4.69zM333.35 876.04h4.69v2.74h-4.69zM277.05 878.78h4.69v2.74h-4.69zM394.34 878.78h4.69v2.74h-4.69zM248.91 881.52h4.69v2.74h-4.69zM338.04 881.52h4.69v2.74h-4.69zM361.50 881.52h4.69v2.74h-4.69zM366.19 884.26h4.69v2.74h-4.69zM399.03 892.48h4.69v2.74h-4.69zM380.26 895.22h4.69v2.74h-4.69zM323.97 897.96h4.69v2.74h-4.69zM352.11 897.96h4.69v2.74h-4.69zM356.81 897.96h4.69v2.74h-4.69zM286.44 900.70h4.69v2.74h-4.69zM333.35 900.70h4.69v2.74h-4.69zM342.73 900.70h4.69v2.74h-4.69zM384.95 900.70h4.69v2.74h-4.69zM300.51 903.44h4.69v2.74h-4.69zM342.73 903.44h4.69v2.74h-4.69zM403.72 903.44h4.69v2.74h-4.69zM389.64 906.18h4.69v2.74h-4.69zM389.64 908.92h4.69v2.74h-4.69zM319.28 911.66h4.69v2.74h-4.69zM375.57 911.66h4.69v2.74h-4.69zM258.29 917.14h4.69v2.74h-4.69zM394.34 917.14h4.69v2.74h-4.69zM394.34 928.10h4.69v2.74h-4.69zM384.95 930.84h4.69v2.74h-4.69zM366.19 936.32h4.69v2.74h-4.69zM277.05 939.06h4.69v2.74h-4.69zM384.95 941.80h4.69v2.74h-4.69zM356.81 944.54h4.69v2.74h-4.69zM291.13 950.02h4.69v2.74h-4.69zM300.51 950.02h4.69v2.74h-4.69zM403.72 952.76h4.69v2.74h-4.69zM244.22 955.50h4.69v2.74h-4.69zM248.91 955.50h4.69v2.74h-4.69zM333.35 955.50h4.69v2.74h-4.69zM258.29 958.24h4.69v2.74h-4.69zM267.67 958.24h4.69v2.74h-4.69zM338.04 960.98h4.69v2.74h-4.69zM356.81 960.98h4.69v2.74h-4.69zM262.98 963.72h4.69v2.74h-4.69zM286.44 963.72h4.69v2.74h-4.69zM356.81 963.72h4.69v2.74h-4.69zM394.34 969.20h4.69v2.74h-4.69zM47.18 971.94h4.69v2.74h-4.69zM309.89 971.94h4.69v2.74h-4.69zM384.95 971.94h4.69v2.74h-4.69zM51.87 974.68h4.69v2.74h-4.69zM253.60 974.68h4.69v2.74h-4.69zM309.89 974.68h4.69v2.74h-4.69zM389.64 974.68h4.69v2.74h-4.69zM258.29 977.42h4.69v2.74h-4.69zM262.98 980.16h4.69v2.74h-4.69zM281.75 980.16h4.69v2.74h-4.69zM295.82 985.64h4.69v2.74h-4.69zM370.88 985.64h4.69v2.74h-4.69zM347.42 991.12h4.69v2.74h-4.69zM403.72 996.60h4.69v2.74h-4.69zM305.20 1002.08h4.69v2.74h-4.69zM366.19 1002.08h4.69v2.74h-4.69zM380.26 1002.08h4.69v2.74h-4.69zM394.34 1015.78h4.69v2.74h-4.69zM267.67 1018.52h4.69v2.74h-4.69zM319.28 1018.52h4.69v2.74h-4.69zM361.50 1021.26h4.69v2.74h-4.69zM253.60 1029.48h4.69v2.74h-4.69zM300.51 1029.48h4.69v2.74h-4.69zM333.35 1029.48h4.69v2.74h-4.69zM342.73 1032.22h4.69v2.74h-4.69zM399.03 1034.96h4.69v2.74h-4.69zM300.51 1037.70h4.69v2.74h-4.69zM323.97 1040.44h4.69v2.74h-4.69zM338.04 1045.92h4.69v2.74h-4.69z"/>
<path fill="#f0f9da" d="M61.26 777.40h4.69v2.74h-4.69zM155.08 777.40h4.69v2.74h-4.69zM187.92 777.40h4.69v2.74h-4.69zM220.76 777.40h4.69v2.74h-4.69zM342.73 777.40h4.69v2.74h-4.69zM94.09 780.14h4.69v2.74h-4.69zM112.86 780.14h4.69v2.74h-4.69zM131.62 780.14h4.69v2.74h-4.69zM216.07 780.14h4.69v2.74h-4.69zM220.76 780.14h4.69v2.74h-4.69zM333.35 780.14h4.69v2.74h-4.69zM408.41 780.14h4.69v2.74h-4.69zM75.33 782.88h4.69v2.74h-4.69zM150.39 782.88h4.69v2.74h-4.69zM155.08 782.88h4.69v2.74h-4.69zM164.46 782.88h4.69v2.74h-4.69zM173.85 782.88h4.69v2.74h-4.69zM277.05 782.88h4.69v2.74h-4.69zM291.13 782.88h4.69v2.74h-4.69zM361.50 782.88h4.69v2.74h-4.69zM192.61 785.62h4.69v2.74h-4.69zM244.22 785.62h4.69v2.74h-4.69zM399.03 785.62h4.69v2.74h-4.69zM51.87 788.36h4.69v2.74h-4.69zM145.70 788.36h4.69v2.74h-4.69zM150.39 788.36h4.69v2.74h-4.69zM155.08 788.36h4.69v2.74h-4.69zM42.49 791.10h4.69v2.74h-4.69zM56.56 791.10h4.69v2.74h-4.69zM80.02 791.10h4.69v2.74h-4.69zM187.92 791.10h4.69v2.74h-4.69zM216.07 791.10h4.69v2.74h-4.69zM319.28 791.10h4.69v2.74h-4.69zM80.02 793.84h4.69v2.74h-4.69zM89.40 793.84h4.69v2.74h-4.69zM145.70 793.84h4.69v2.74h-4.69zM159.77 793.84h4.69v2.74h-4.69zM286.44 793.84h4.69v2.74h-4.69zM291.13 793.84h4.69v2.74h-4.69zM131.62 796.58h4.69v2.74h-4.69zM155.08 796.58h4.69v2.74h-4.69zM201.99 796.58h4.69v2.74h-4.69zM258.29 796.58h4.69v2.74h-4.69zM319.28 796.58h4.69v2.74h-4.69zM347.42 796.58h4.69v2.74h-4.69zM37.80 799.32h4.69v2.74h-4.69zM150.39 799.32h4.69v2.74h-4.69zM253.60 799.32h4.69v2.74h-4.69zM338.04 799.32h4.69v2.74h-4.69zM347.42 799.32h4.69v2.74h-4.69zM89.40 802.06h4.69v2.74h-4.69zM126.93 802.06h4.69v2.74h-4.69zM155.08 802.06h4.69v2.74h-4.69zM169.16 802.06h4.69v2.74h-4.69zM220.76 802.06h4.69v2.74h-4.69zM225.45 802.06h4.69v2.74h-4.69zM262.98 802.06h4.69v2.74h-4.69zM300.51 802.06h4.69v2.74h-4.69zM80.02 804.80h4.69v2.74h-4.69zM164.46 804.80h4.69v2.74h-4.69zM178.54 804.80h4.69v2.74h-4.69zM291.13 804.80h4.69v2.74h-4.69zM211.38 807.54h4.69v2.74h-4.69zM37.80 810.28h4.69v2.74h-4.69zM169.16 810.28h4.69v2.74h-4.69zM201.99 813.02h4.69v2.74h-4.69zM216.07 813.02h4.69v2.74h-4.69zM220.76 813.02h4.69v2.74h-4.69zM305.20 813.02h4.69v2.74h-4.69zM375.57 813.02h4.69v2.74h-4.69zM126.93 815.76h4.69v2.74h-4.69zM131.62 815.76h4.69v2.74h-4.69zM286.44 815.76h4.69v2.74h-4.69zM70.64 818.50h4.69v2.74h-4.69zM126.93 818.50h4.69v2.74h-4.69zM206.69 818.50h4.69v2.74h-4.69zM408.41 818.50h4.69v2.74h-4.69zM84.71 821.24h4.69v2.74h-4.69zM117.55 821.24h4.69v2.74h-4.69zM347.42 821.24h4.69v2.74h-4.69zM65.95 823.98h4.69v2.74h-4.69zM173.85 823.98h4.69v2.74h-4.69zM178.54 823.98h4.69v2.74h-4.69zM89.40 826.72h4.69v2.74h-4.69zM173.85 826.72h4.69v2.74h-4.69zM192.61 826.72h4.69v2.74h-4.69zM333.35 826.72h4.69v2.74h-4.69zM375.57 826.72h4.69v2.74h-4.69zM42.49 829.46h4.69v2.74h-4.69zM136.32 829.46h4.69v2.74h-4.69zM164.46 829.46h4.69v2.74h-4.69zM159.77 832.20h4.69v2.74h-4.69zM173.85 832.20h4.69v2.74h-4.69zM244.22 832.20h4.69v2.74h-4.69zM253.60 832.20h4.69v2.74h-4.69zM333.35 832.20h4.69v2.74h-4.69zM375.57 832.20h4.69v2.74h-4.69zM37.80 834.94h4.69v2.74h-4.69zM70.64 834.94h4.69v2.74h-4.69zM103.48 834.94h4.69v2.74h-4.69zM211.38 834.94h4.69v2.74h-4.69zM216.07 834.94h4.69v2.74h-4.69zM262.98 834.94h4.69v2.74h-4.69zM61.26 837.68h4.69v2.74h-4.69zM136.32 837.68h4.69v2.74h-4.69zM145.70 837.68h4.69v2.74h-4.69zM183.23 837.68h4.69v2.74h-4.69zM272.36 837.68h4.69v2.74h-4.69zM47.18 840.42h4.69v2.74h-4.69zM61.26 840.42h4.69v2.74h-4.69zM145.70 840.42h4.69v2.74h-4.69zM197.30 840.42h4.69v2.74h-4.69zM225.45 840.42h4.69v2.74h-4.69zM65.95 843.16h4.69v2.74h-4.69zM178.54 843.16h4.69v2.74h-4.69zM206.69 843.16h4.69v2.74h-4.69zM141.01 845.90h4.69v2.74h-4.69zM150.39 845.90h4.69v2.74h-4.69zM159.77 845.90h4.69v2.74h-4.69zM225.45 845.90h4.69v2.74h-4.69zM244.22 845.90h4.69v2.74h-4.69zM286.44 845.90h4.69v2.74h-4.69zM384.95 845.90h4.69v2.74h-4.69zM103.48 848.64h4.69v2.74h-4.69zM136.32 848.64h4.69v2.74h-4.69zM201.99 848.64h4.69v2.74h-4.69zM239.52 848.64h4.69v2.74h-4.69zM70.64 851.38h4.69v2.74h-4.69zM164.46 851.38h4.69v2.74h-4.69zM230.14 851.38h4.69v2.74h-4.69zM295.82 851.38h4.69v2.74h-4.69zM403.72 851.38h4.69v2.74h-4.69zM84.71 854.12h4.69v2.74h-4.69zM89.40 854.12h4.69v2.74h-4.69zM112.86 854.12h4.69v2.74h-4.69zM136.32 854.12h4.69v2.74h-4.69zM150.39 854.12h4.69v2.74h-4.69zM234.83 854.12h4.69v2.74h-4.69zM286.44 854.12h4.69v2.74h-4.69zM192.61 856.86h4.69v2.74h-4.69zM225.45 856.86h4.69v2.74h-4.69zM244.22 856.86h4.69v2.74h-4.69zM248.91 856.86h4.69v2.74h-4.69zM309.89 856.86h4.69v2.74h-4.69zM65.95 859.60h4.69v2.74h-4.69zM136.32 859.60h4.69v2.74h-4.69zM141.01 859.60h4.69v2.74h-4.69zM187.92 859.60h4.69v2.74h-4.69zM206.69 859.60h4.69v2.74h-4.69zM216.07 859.60h4.69v2.74h-4.69zM248.91 859.60h4.69v2.74h-4.69zM342.73 859.60h4.69v2.74h-4.69zM65.95 862.34h4.69v2.74h-4.69zM323.97 862.34h4.69v2.74h-4.69zM403.72 862.34h4.69v2.74h-4.69zM47.18 865.08h4.69v2.74h-4.69zM112.86 865.08h4.69v2.74h-4.69zM117.55 865.08h4.69v2.74h-4.69zM136.32 865.08h4.69v2.74h-4.69zM145.70 865.08h4.69v2.74h-4.69zM155.08 865.08h4.69v2.74h-4.69zM295.82 865.08h4.69v2.74h-4.69zM333.35 865.08h4.69v2.74h-4.69zM80.02 867.82h4.69v2.74h-4.69zM220.76 867.82h4.69v2.74h-4.69zM366.19 867.82h4.69v2.74h-4.69zM112.86 870.56h4.69v2.74h-4.69zM178.54 870.56h4.69v2.74h-4.69zM220.76 870.56h4.69v2.74h-4.69zM309.89 870.56h4.69v2.74h-4.69zM56.56 873.30h4.69v2.74h-4.69zM145.70 873.30h4.69v2.74h-4.69zM178.54 873.30h4.69v2.74h-4.69zM201.99 873.30h4.69v2.74h-4.69zM216.07 873.30h4.69v2.74h-4.69zM338.04 876.04h4.69v2.74h-4.69zM98.79 878.78h4.69v2.74h-4.69zM178.54 878.78h4.69v2.74h-4.69zM389.64 878.78h4.69v2.74h-4.69zM108.17 881.52h4.69v2.74h-4.69zM117.55 881.52h4.69v2.74h-4.69zM131.62 881.52h4.69v2.74h-4.69zM178.54 881.52h4.69v2.74h-4.69zM183.23 881.52h4.69v2.74h-4.69zM291.13 881.52h4.69v2.74h-4.69zM399.03 881.52h4.69v2.74h-4.69zM51.87 884.26h4.69v2.74h-4.69zM89.40 884.26h4.69v2.74h-4.69zM192.61 884.26h4.69v2.74h-4.69zM234.83 884.26h4.69v2.74h-4.69zM239.52 884.26h4.69v2.74h-4.69zM277.05 884.26h4.69v2.74h-4.69zM300.51 884.26h4.69v2.74h-4.69zM98.79 887.00h4.69v2.74h-4.69zM117.55 887.00h4.69v2.74h-4.69zM192.61 887.00h4.69v2.74h-4.69zM220.76 887.00h4.69v2.74h-4.69zM234.83 887.00h4.69v2.74h-4.69zM239.52 887.00h4.69v2.74h-4.69zM370.88 887.00h4.69v2.74h-4.69zM305.20 889.74h4.69v2.74h-4.69zM394.34 889.74h4.69v2.74h-4.69zM117.55 892.48h4.69v2.74h-4.69zM122.24 892.48h4.69v2.74h-4.69zM164.46 892.48h4.69v2.74h-4.69zM169.16 892.48h4.69v2.74h-4.69zM197.30 892.48h4.69v2.74h-4.69zM281.75 892.48h4.69v2.74h-4.69zM366.19 892.48h4.69v2.74h-4.69zM65.95 895.22h4.69v2.74h-4.69zM70.64 895.22h4.69v2.74h-4.69zM103.48 895.22h4.69v2.74h-4.69zM150.39 895.22h4.69v2.74h-4.69zM211.38 895.22h4.69v2.74h-4.69zM216.07 895.22h4.69v2.74h-4.69zM225.45 895.22h4.69v2.74h-4.69zM300.51 895.22h4.69v2.74h-4.69zM84.71 897.96h4.69v2.74h-4.69zM159.77 897.96h4.69v2.74h-4.69zM234.83 897.96h4.69v2.74h-4.69zM239.52 897.96h4.69v2.74h-4.69zM319.28 897.96h4.69v2.74h-4.69zM370.88 897.96h4.69v2.74h-4.69zM408.41 897.96h4.69v2.74h-4.69zM103.48 900.70h4.69v2.74h-4.69zM145.70 900.70h4.69v2.74h-4.69zM164.46 900.70h4.69v2.74h-4.69zM206.69 900.70h4.69v2.74h-4.69zM267.67 900.70h4.69v2.74h-4.69zM328.66 900.70h4.69v2.74h-4.69zM42.49 903.44h4.69v2.74h-4.69zM389.64 903.44h4.69v2.74h-4.69zM56.56 906.18h4.69v2.74h-4.69zM61.26 906.18h4.69v2.74h-4.69zM94.09 906.18h4.69v2.74h-4.69zM141.01 906.18h4.69v2.74h-4.69zM98.79 908.92h4.69v2.74h-4.69zM112.86 908.92h4.69v2.74h-4.69zM187.92 908.92h4.69v2.74h-4.69zM192.61 908.92h4.69v2.74h-4.69zM201.99 908.92h4.69v2.74h-4.69zM225.45 908.92h4.69v2.74h-4.69zM267.67 908.92h4.69v2.74h-4.69zM347.42 908.92h4.69v2.74h-4.69zM37.80 911.66h4.69v2.74h-4.69zM56.56 911.66h4.69v2.74h-4.69zM94.09 911.66h4.69v2.74h-4.69zM141.01 911.66h4.69v2.74h-4.69zM145.70 911.66h4.69v2.74h-4.69zM169.16 911.66h4.69v2.74h-4.69zM192.61 911.66h4.69v2.74h-4.69zM262.98 911.66h4.69v2.74h-4.69zM37.80 914.40h4.69v2.74h-4.69zM61.26 914.40h4.69v2.74h-4.69zM122.24 914.40h4.69v2.74h-4.69zM131.62 914.40h4.69v2.74h-4.69zM173.85 914.40h4.69v2.74h-4.69zM192.61 914.40h4.69v2.74h-4.69zM211.38 914.40h4.69v2.74h-4.69zM216.07 914.40h4.69v2.74h-4.69zM126.93 917.14h4.69v2.74h-4.69zM131.62 917.14h4.69v2.74h-4.69zM272.36 917.14h4.69v2.74h-4.69zM281.75 917.14h4.69v2.74h-4.69zM328.66 917.14h4.69v2.74h-4.69zM56.56 919.88h4.69v2.74h-4.69zM131.62 919.88h4.69v2.74h-4.69zM169.16 919.88h4.69v2.74h-4.69zM272.36 919.88h4.69v2.74h-4.69zM281.75 919.88h4.69v2.74h-4.69zM300.51 919.88h4.69v2.74h-4.69zM122.24 922.62h4.69v2.74h-4.69zM159.77 922.62h4.69v2.74h-4.69zM173.85 922.62h4.69v2.74h-4.69zM187.92 922.62h4.69v2.74h-4.69zM366.19 922.62h4.69v2.74h-4.69zM384.95 922.62h4.69v2.74h-4.69zM70.64 925.36h4.69v2.74h-4.69zM131.62 925.36h4.69v2.74h-4.69zM159.77 925.36h4.69v2.74h-4.69zM169.16 925.36h4.69v2.74h-4.69zM230.14 925.36h4.69v2.74h-4.69zM65.95 928.10h4.69v2.74h-4.69zM103.48 928.10h4.69v2.74h-4.69zM126.93 928.10h4.69v2.74h-4.69zM155.08 928.10h4.69v2.74h-4.69zM169.16 928.10h4.69v2.74h-4.69zM272.36 928.10h4.69v2.74h-4.69zM37.80 930.84h4.69v2.74h-4.69zM51.87 930.84h4.69v2.74h-4.69zM61.26 930.84h4.69v2.74h-4.69zM126.93 930.84h4.69v2.74h-4.69zM70.64 933.58h4.69v2.74h-4.69zM323.97 933.58h4.69v2.74h-4.69zM150.39 936.32h4.69v2.74h-4.69zM277.05 936.32h4.69v2.74h-4.69zM356.81 936.32h4.69v2.74h-4.69zM51.87 939.06h4.69v2.74h-4.69zM108.17 939.06h4.69v2.74h-4.69zM126.93 939.06h4.69v2.74h-4.69zM305.20 939.06h4.69v2.74h-4.69zM323.97 939.06h4.69v2.74h-4.69zM352.11 939.06h4.69v2.74h-4.69zM131.62 941.80h4.69v2.74h-4.69zM155.08 941.80h4.69v2.74h-4.69zM192.61 941.80h4.69v2.74h-4.69zM220.76 941.80h4.69v2.74h-4.69zM234.83 941.80h4.69v2.74h-4.69zM399.03 941.80h4.69v2.74h-4.69zM94.09 944.54h4.69v2.74h-4.69zM192.61 944.54h4.69v2.74h-4.69zM206.69 944.54h4.69v2.74h-4.69zM220.76 944.54h4.69v2.74h-4.69zM230.14 944.54h4.69v2.74h-4.69zM37.80 947.28h4.69v2.74h-4.69zM56.56 947.28h4.69v2.74h-4.69zM70.64 947.28h4.69v2.74h-4.69zM103.48 947.28h4.69v2.74h-4.69zM206.69 947.28h4.69v2.74h-4.69zM394.34 947.28h4.69v2.74h-4.69zM65.95 950.02h4.69v2.74h-4.69zM70.64 950.02h4.69v2.74h-4.69zM103.48 950.02h4.69v2.74h-4.69zM178.54 950.02h4.69v2.74h-4.69zM253.60 950.02h4.69v2.74h-4.69zM352.11 950.02h4.69v2.74h-4.69zM51.87 952.76h4.69v2.74h-4.69zM75.33 952.76h4.69v2.74h-4.69zM117.55 952.76h4.69v2.74h-4.69zM136.32 952.76h4.69v2.74h-4.69zM145.70 952.76h4.69v2.74h-4.69zM211.38 952.76h4.69v2.74h-4.69zM155.08 955.50h4.69v2.74h-4.69zM169.16 955.50h4.69v2.74h-4.69zM183.23 955.50h4.69v2.74h-4.69zM394.34 955.50h4.69v2.74h-4.69zM47.18 958.24h4.69v2.74h-4.69zM51.87 958.24h4.69v2.74h-4.69zM117.55 958.24h4.69v2.74h-4.69zM141.01 958.24h4.69v2.74h-4.69zM291.13 958.24h4.69v2.74h-4.69zM122.24 960.98h4.69v2.74h-4.69zM145.70 960.98h4.69v2.74h-4.69zM164.46 960.98h4.69v2.74h-4.69zM169.16 963.72h4.69v2.74h-4.69zM197.30 963.72h4.69v2.74h-4.69zM328.66 963.72h4.69v2.74h-4.69zM342.73 963.72h4.69v2.74h-4.69zM51.87 966.46h4.69v2.74h-4.69zM84.71 966.46h4.69v2.74h-4.69zM108.17 966.46h4.69v2.74h-4.69zM141.01 966.46h4.69v2.74h-4.69zM155.08 966.46h4.69v2.74h-4.69zM169.16 966.46h4.69v2.74h-4.69zM201.99 966.46h4.69v2.74h-4.69zM211.38 966.46h4.69v2.74h-4.69zM305.20 966.46h4.69v2.74h-4.69zM356.81 966.46h4.69v2.74h-4.69zM37.80 969.20h4.69v2.74h-4.69zM51.87 969.20h4.69v2.74h-4.69zM56.56 969.20h4.69v2.74h-4.69zM122.24 969.20h4.69v2.74h-4.69zM150.39 969.20h4.69v2.74h-4.69zM262.98 969.20h4.69v2.74h-4.69zM291.13 969.20h4.69v2.74h-4.69zM295.82 969.20h4.69v2.74h-4.69zM399.03 969.20h4.69v2.74h-4.69zM408.41 969.20h4.69v2.74h-4.69zM56.56 971.94h4.69v2.74h-4.69zM94.09 971.94h4.69v2.74h-4.69zM164.46 971.94h4.69v2.74h-4.69zM178.54 971.94h4.69v2.74h-4.69zM192.61 971.94h4.69v2.74h-4.69zM230.14 971.94h4.69v2.74h-4.69zM267.67 971.94h4.69v2.74h-4.69zM394.34 971.94h4.69v2.74h-4.69zM399.03 971.94h4.69v2.74h-4.69zM126.93 974.68h4.69v2.74h-4.69zM150.39 974.68h4.69v2.74h-4.69zM159.77 974.68h4.69v2.74h-4.69zM201.99 974.68h4.69v2.74h-4.69zM216.07 974.68h4.69v2.74h-4.69zM277.05 974.68h4.69v2.74h-4.69zM291.13 974.68h4.69v2.74h-4.69zM347.42 974.68h4.69v2.74h-4.69zM380.26 974.68h4.69v2.74h-4.69zM408.41 974.68h4.69v2.74h-4.69zM70.64 977.42h4.69v2.74h-4.69zM75.33 977.42h4.69v2.74h-4.69zM117.55 977.42h4.69v2.74h-4.69zM201.99 977.42h4.69v2.74h-4.69zM234.83 977.42h4.69v2.74h-4.69zM239.52 977.42h4.69v2.74h-4.69zM267.67 977.42h4.69v2.74h-4.69zM300.51 977.42h4.69v2.74h-4.69zM108.17 980.16h4.69v2.74h-4.69zM117.55 980.16h4.69v2.74h-4.69zM201.99 980.16h4.69v2.74h-4.69zM375.57 980.16h4.69v2.74h-4.69zM75.33 982.90h4.69v2.74h-4.69zM80.02 982.90h4.69v2.74h-4.69zM164.46 982.90h4.69v2.74h-4.69zM187.92 982.90h4.69v2.74h-4.69zM211.38 982.90h4.69v2.74h-4.69zM216.07 982.90h4.69v2.74h-4.69zM234.83 982.90h4.69v2.74h-4.69zM239.52 982.90h4.69v2.74h-4.69zM244.22 982.90h4.69v2.74h-4.69zM286.44 982.90h4.69v2.74h-4.69zM352.11 982.90h4.69v2.74h-4.69zM61.26 985.64h4.69v2.74h-4.69zM98.79 985.64h4.69v2.74h-4.69zM117.55 985.64h4.69v2.74h-4.69zM173.85 985.64h4.69v2.74h-4.69zM216.07 985.64h4.69v2.74h-4.69zM230.14 985.64h4.69v2.74h-4.69zM239.52 985.64h4.69v2.74h-4.69zM399.03 985.64h4.69v2.74h-4.69zM42.49 988.38h4.69v2.74h-4.69zM65.95 988.38h4.69v2.74h-4.69zM136.32 988.38h4.69v2.74h-4.69zM150.39 988.38h4.69v2.74h-4.69zM197.30 988.38h4.69v2.74h-4.69zM291.13 988.38h4.69v2.74h-4.69zM42.49 991.12h4.69v2.74h-4.69zM89.40 991.12h4.69v2.74h-4.69zM108.17 991.12h4.69v2.74h-4.69zM117.55 991.12h4.69v2.74h-4.69zM173.85 991.12h4.69v2.74h-4.69zM211.38 991.12h4.69v2.74h-4.69zM253.60 991.12h4.69v2.74h-4.69zM314.58 991.12h4.69v2.74h-4.69zM42.49 993.86h4.69v2.74h-4.69zM51.87 993.86h4.69v2.74h-4.69zM112.86 993.86h4.69v2.74h-4.69zM253.60 993.86h4.69v2.74h-4.69zM277.05 993.86h4.69v2.74h-4.69zM42.49 996.60h4.69v2.74h-4.69zM80.02 996.60h4.69v2.74h-4.69zM98.79 996.60h4.69v2.74h-4.69zM136.32 996.60h4.69v2.74h-4.69zM286.44 996.60h4.69v2.74h-4.69zM47.18 999.34h4.69v2.74h-4.69zM112.86 999.34h4.69v2.74h-4.69zM173.85 999.34h4.69v2.74h-4.69zM262.98 999.34h4.69v2.74h-4.69zM319.28 999.34h4.69v2.74h-4.69zM361.50 999.34h4.69v2.74h-4.69zM403.72 999.34h4.69v2.74h-4.69zM117.55 1002.08h4.69v2.74h-4.69zM145.70 1002.08h4.69v2.74h-4.69zM155.08 1002.08h4.69v2.74h-4.69zM164.46 1002.08h4.69v2.74h-4.69zM178.54 1002.08h4.69v2.74h-4.69zM216.07 1002.08h4.69v2.74h-4.69zM234.83 1002.08h4.69v2.74h-4.69zM47.18 1004.82h4.69v2.74h-4.69zM89.40 1004.82h4.69v2.74h-4.69zM112.86 1004.82h4.69v2.74h-4.69zM150.39 1004.82h4.69v2.74h-4.69zM399.03 1004.82h4.69v2.74h-4.69zM206.69 1007.56h4.69v2.74h-4.69zM225.45 1007.56h4.69v2.74h-4.69zM277.05 1007.56h4.69v2.74h-4.69zM89.40 1010.30h4.69v2.74h-4.69zM211.38 1010.30h4.69v2.74h-4.69zM319.28 1010.30h4.69v2.74h-4.69zM328.66 1010.30h4.69v2.74h-4.69zM389.64 1010.30h4.69v2.74h-4.69zM61.26 1013.04h4.69v2.74h-4.69zM98.79 1013.04h4.69v2.74h-4.69zM131.62 1013.04h4.69v2.74h-4.69zM230.14 1013.04h4.69v2.74h-4.69zM323.97 1013.04h4.69v2.74h-4.69zM338.04 1013.04h4.69v2.74h-4.69zM65.95 1015.78h4.69v2.74h-4.69zM98.79 1015.78h4.69v2.74h-4.69zM103.48 1015.78h4.69v2.74h-4.69zM150.39 1015.78h4.69v2.74h-4.69zM155.08 1015.78h4.69v2.74h-4.69zM187.92 1015.78h4.69v2.74h-4.69zM230.14 1015.78h4.69v2.74h-4.69zM234.83 1015.78h4.69v2.74h-4.69zM258.29 1015.78h4.69v2.74h-4.69zM314.58 1015.78h4.69v2.74h-4.69zM347.42 1015.78h4.69v2.74h-4.69zM356.81 1015.78h4.69v2.74h-4.69zM131.62 1018.52h4.69v2.74h-4.69zM141.01 1018.52h4.69v2.74h-4.69zM192.61 1018.52h4.69v2.74h-4.69zM211.38 1018.52h4.69v2.74h-4.69zM328.66 1018.52h4.69v2.74h-4.69zM366.19 1018.52h4.69v2.74h-4.69zM70.64 1021.26h4.69v2.74h-4.69zM84.71 1021.26h4.69v2.74h-4.69zM159.77 1021.26h4.69v2.74h-4.69zM211.38 1021.26h4.69v2.74h-4.69zM220.76 1021.26h4.69v2.74h-4.69zM380.26 1021.26h4.69v2.74h-4.69zM56.56 1024.00h4.69v2.74h-4.69zM61.26 1024.00h4.69v2.74h-4.69zM65.95 1024.00h4.69v2.74h-4.69zM75.33 1024.00h4.69v2.74h-4.69zM164.46 1024.00h4.69v2.74h-4.69zM183.23 1024.00h4.69v2.74h-4.69zM197.30 1024.00h4.69v2.74h-4.69zM239.52 1024.00h4.69v2.74h-4.69zM262.98 1024.00h4.69v2.74h-4.69zM291.13 1024.00h4.69v2.74h-4.69zM305.20 1024.00h4.69v2.74h-4.69zM37.80 1026.74h4.69v2.74h-4.69zM126.93 1026.74h4.69v2.74h-4.69zM141.01 1026.74h4.69v2.74h-4.69zM159.77 1026.74h4.69v2.74h-4.69zM220.76 1026.74h4.69v2.74h-4.69zM262.98 1026.74h4.69v2.74h-4.69zM356.81 1026.74h4.69v2.74h-4.69zM61.26 1029.48h4.69v2.74h-4.69zM94.09 1029.48h4.69v2.74h-4.69zM164.46 1029.48h4.69v2.74h-4.69zM173.85 1029.48h4.69v2.74h-4.69zM234.83 1029.48h4.69v2.74h-4.69zM295.82 1029.48h4.69v2.74h-4.69zM145.70 1032.22h4.69v2.74h-4.69zM230.14 1032.22h4.69v2.74h-4.69zM258.29 1032.22h4.69v2.74h-4.69zM277.05 1032.22h4.69v2.74h-4.69zM384.95 1032.22h4.69v2.74h-4.69zM84.71 1034.96h4.69v2.74h-4.69zM94.09 1034.96h4.69v2.74h-4.69zM117.55 1034.96h4.69v2.74h-4.69zM126.93 1034.96h4.69v2.74h-4.69zM201.99 1034.96h4.69v2.74h-4.69zM267.67 1034.96h4.69v2.74h-4.69zM309.89 1034.96h4.69v2.74h-4.69zM61.26 1037.70h4.69v2.74h-4.69zM103.48 1037.70h4.69v2.74h-4.69zM122.24 1037.70h4.69v2.74h-4.69zM131.62 1037.70h4.69v2.74h-4.69zM141.01 1037.70h4.69v2.74h-4.69zM159.77 1037.70h4.69v2.74h-4.69zM281.75 1037.70h4.69v2.74h-4.69zM51.87 1040.44h4.69v2.74h-4.69zM65.95 1040.44h4.69v2.74h-4.69zM103.48 1040.44h4.69v2.74h-4.69zM112.86 1040.44h4.69v2.74h-4.69zM117.55 1040.44h4.69v2.74h-4.69zM230.14 1040.44h4.69v2.74h-4.69zM234.83 1040.44h4.69v2.74h-4.69zM239.52 1040.44h4.69v2.74h-4.69zM305.20 1040.44h4.69v2.74h-4.69zM366.19 1040.44h4.69v2.74h-4.69zM375.57 1040.44h4.69v2.74h-4.69zM384.95 1040.44h4.69v2.74h-4.69zM51.87 1043.18h4.69v2.74h-4.69zM80.02 1043.18h4.69v2.74h-4.69zM89.40 1043.18h4.69v2.74h-4.69zM117.55 1043.18h4.69v2.74h-4.69zM126.93 1043.18h4.69v2.74h-4.69zM155.08 1043.18h4.69v2.74h-4.69zM159.77 1043.18h4.69v2.74h-4.69zM187.92 1043.18h4.69v2.74h-4.69zM295.82 1043.18h4.69v2.74h-4.69zM319.28 1043.18h4.69v2.74h-4.69zM384.95 1043.18h4.69v2.74h-4.69zM131.62 1045.92h4.69v2.74h-4.69zM145.70 1045.92h4.69v2.74h-4.69zM169.16 1045.92h4.69v2.74h-4.69zM187.92 1045.92h4.69v2.74h-4.69zM192.61 1045.92h4.69v2.74h-4.69zM211.38 1045.92h4.69v2.74h-4.69zM253.60 1045.92h4.69v2.74h-4.69zM356.81 1045.92h4.69v2.74h-4.69zM370.88 1045.92h4.69v2.74h-4.69zM141.01 1048.66h4.69v2.74h-4.69zM169.16 1048.66h4.69v2.74h-4.69zM187.92 1048.66h4.69v2.74h-4.69zM192.61 1048.66h4.69v2.74h-4.69zM314.58 1048.66h4.69v2.74h-4.69zM319.28 1048.66h4.69v2.74h-4.69zM384.95 1048.66h4.69v2.74h-4.69z"/>
<path fill="#f4794e" d="M65.95 777.40h4.69v2.74h-4.69zM65.95 780.14h4.69v2.74h-4.69zM328.66 780.14h4.69v2.74h-4.69zM65.95 782.88h4.69v2.74h-4.69zM56.56 785.62h4.69v2.74h-4.69zM319.28 804.80h4.69v2.74h-4.69zM70.64 813.02h4.69v2.74h-4.69zM314.58 813.02h4.69v2.74h-4.69zM248.91 815.76h4.69v2.74h-4.69zM384.95 826.72h4.69v2.74h-4.69zM399.03 826.72h4.69v2.74h-4.69zM399.03 829.46h4.69v2.74h-4.69zM384.95 832.20h4.69v2.74h-4.69zM262.98 837.68h4.69v2.74h-4.69zM262.98 851.38h4.69v2.74h-4.69zM267.67 851.38h4.69v2.74h-4.69zM277.05 854.12h4.69v2.74h-4.69zM403.72 859.60h4.69v2.74h-4.69zM408.41 873.30h4.69v2.74h-4.69zM375.57 876.04h4.69v2.74h-4.69zM380.26 884.26h4.69v2.74h-4.69zM399.03 917.14h4.69v2.74h-4.69zM281.75 922.62h4.69v2.74h-4.69zM338.04 922.62h4.69v2.74h-4.69zM295.82 925.36h4.69v2.74h-4.69zM370.88 958.24h4.69v2.74h-4.69zM248.91 960.98h4.69v2.74h-4.69zM248.91 971.94h4.69v2.74h-4.69zM248.91 980.16h4.69v2.74h-4.69zM37.80 985.64h4.69v2.74h-4.69zM159.77 985.64h4.69v2.74h-4.69zM389.64 988.38h4.69v2.74h-4.69zM323.97 991.12h4.69v2.74h-4.69zM394.34 1010.30h4.69v2.74h-4.69zM399.03 1010.30h4.69v2.74h-4.69z"/>
<path fill="#fefec1" d="M75.33 777.40h4.69v2.74h-4.69zM94.09 777.40h4.69v2.74h-4.69zM112.86 777.40h4.69v2.74h-4.69zM126.93 777.40h4.69v2.74h-4.69zM197.30 777.40h4.69v2.74h-4.69zM206.69 777.40h4.69v2.74h-4.69zM314.58 777.40h4.69v2.74h-4.69zM338.04 777.40h4.69v2.74h-4.69zM183.23 780.14h4.69v2.74h-4.69zM225.45 780.14h4.69v2.74h-4.69zM347.42 780.14h4.69v2.74h-4.69zM47.18 782.88h4.69v2.74h-4.69zM51.87 782.88h4.69v2.74h-4.69zM89.40 782.88h4.69v2.74h-4.69zM94.09 782.88h4.69v2.74h-4.69zM136.32 782.88h4.69v2.74h-4.69zM225.45 782.88h4.69v2.74h-4.69zM244.22 782.88h4.69v2.74h-4.69zM248.91 782.88h4.69v2.74h-4.69zM262.98 782.88h4.69v2.74h-4.69zM295.82 782.88h4.69v2.74h-4.69zM399.03 782.88h4.69v2.74h-4.69zM408.41 782.88h4.69v2.74h-4.69zM80.02 785.62h4.69v2.74h-4.69zM103.48 785.62h4.69v2.74h-4.69zM150.39 785.62h4.69v2.74h-4.69zM178.54 785.62h4.69v2.74h-4.69zM201.99 785.62h4.69v2.74h-4.69zM239.52 785.62h4.69v2.74h-4.69zM267.67 785.62h4.69v2.74h-4.69zM277.05 785.62h4.69v2.74h-4.69zM286.44 785.62h4.69v2.74h-4.69zM366.19 785.62h4.69v2.74h-4.69zM122.24 788.36h4.69v2.74h-4.69zM169.16 788.36h4.69v2.74h-4.69zM201.99 788.36h4.69v2.74h-4.69zM258.29 788.36h4.69v2.74h-4.69zM267.67 788.36h4.69v2.74h-4.69zM272.36 788.36h4.69v2.74h-4.69zM281.75 788.36h4.69v2.74h-4.69zM323.97 788.36h4.69v2.74h-4.69zM342.73 788.36h4.69v2.74h-4.69zM384.95 788.36h4.69v2.74h-4.69zM394.34 788.36h4.69v2.74h-4.69zM408.41 788.36h4.69v2.74h-4.69zM47.18 791.10h4.69v2.74h-4.69zM70.64 791.10h4.69v2.74h-4.69zM98.79 791.10h4.69v2.74h-4.69zM272.36 791.10h4.69v2.74h-4.69zM384.95 791.10h4.69v2.74h-4.69zM122.24 793.84h4.69v2.74h-4.69zM164.46 793.84h4.69v2.74h-4.69zM201.99 793.84h4.69v2.74h-4.69zM230.14 793.84h4.69v2.74h-4.69zM281.75 793.84h4.69v2.74h-4.69zM305.20 793.84h4.69v2.74h-4.69zM375.57 793.84h4.69v2.74h-4.69zM403.72 793.84h4.69v2.74h-4.69zM122.24 796.58h4.69v2.74h-4.69zM136.32 796.58h4.69v2.74h-4.69zM145.70 796.58h4.69v2.74h-4.69zM206.69 796.58h4.69v2.74h-4.69zM220.76 796.58h4.69v2.74h-4.69zM234.83 796.58h4.69v2.74h-4.69zM281.75 796.58h4.69v2.74h-4.69zM286.44 796.58h4.69v2.74h-4.69zM384.95 796.58h4.69v2.74h-4.69zM394.34 796.58h4.69v2.74h-4.69zM403.72 796.58h4.69v2.74h-4.69zM178.54 799.32h4.69v2.74h-4.69zM216.07 799.32h4.69v2.74h-4.69zM286.44 799.32h4.69v2.74h-4.69zM319.28 799.32h4.69v2.74h-4.69zM356.81 799.32h4.69v2.74h-4.69zM51.87 802.06h4.69v2.74h-4.69zM159.77 802.06h4.69v2.74h-4.69zM89.40 804.80h4.69v2.74h-4.69zM108.17 804.80h4.69v2.74h-4.69zM155.08 804.80h4.69v2.74h-4.69zM197.30 804.80h4.69v2.74h-4.69zM206.69 804.80h4.69v2.74h-4.69zM248.91 804.80h4.69v2.74h-4.69zM333.35 804.80h4.69v2.74h-4.69zM356.81 804.80h4.69v2.74h-4.69zM366.19 804.80h4.69v2.74h-4.69zM384.95 804.80h4.69v2.74h-4.69zM389.64 804.80h4.69v2.74h-4.69zM399.03 804.80h4.69v2.74h-4.69zM403.72 804.80h4.69v2.74h-4.69zM75.33 807.54h4.69v2.74h-4.69zM239.52 807.54h4.69v2.74h-4.69zM366.19 807.54h4.69v2.74h-4.69zM408.41 807.54h4.69v2.74h-4.69zM103.48 810.28h4.69v2.74h-4.69zM239.52 810.28h4.69v2.74h-4.69zM342.73 810.28h4.69v2.74h-4.69zM408.41 810.28h4.69v2.74h-4.69zM65.95 813.02h4.69v2.74h-4.69zM155.08 813.02h4.69v2.74h-4.69zM164.46 813.02h4.69v2.74h-4.69zM169.16 813.02h4.69v2.74h-4.69zM225.45 813.02h4.69v2.74h-4.69zM230.14 813.02h4.69v2.74h-4.69zM244.22 813.02h4.69v2.74h-4.69zM253.60 813.02h4.69v2.74h-4.69zM333.35 813.02h4.69v2.74h-4.69zM389.64 813.02h4.69v2.74h-4.69zM94.09 815.76h4.69v2.74h-4.69zM136.32 815.76h4.69v2.74h-4.69zM169.16 815.76h4.69v2.74h-4.69zM192.61 815.76h4.69v2.74h-4.69zM309.89 815.76h4.69v2.74h-4.69zM356.81 815.76h4.69v2.74h-4.69zM145.70 818.50h4.69v2.74h-4.69zM159.77 818.50h4.69v2.74h-4.69zM192.61 818.50h4.69v2.74h-4.69zM234.83 818.50h4.69v2.74h-4.69zM253.60 818.50h4.69v2.74h-4.69zM366.19 818.50h4.69v2.74h-4.69zM239.52 821.24h4.69v2.74h-4.69zM319.28 821.24h4.69v2.74h-4.69zM56.56 823.98h4.69v2.74h-4.69zM108.17 823.98h4.69v2.74h-4.69zM183.23 823.98h4.69v2.74h-4.69zM206.69 823.98h4.69v2.74h-4.69zM42.49 826.72h4.69v2.74h-4.69zM56.56 826.72h4.69v2.74h-4.69zM84.71 826.72h4.69v2.74h-4.69zM145.70 826.72h4.69v2.74h-4.69zM178.54 826.72h4.69v2.74h-4.69zM187.92 826.72h4.69v2.74h-4.69zM225.45 826.72h4.69v2.74h-4.69zM262.98 826.72h4.69v2.74h-4.69zM323.97 826.72h4.69v2.74h-4.69zM328.66 826.72h4.69v2.74h-4.69zM408.41 826.72h4.69v2.74h-4.69zM51.87 829.46h4.69v2.74h-4.69zM56.56 829.46h4.69v2.74h-4.69zM89.40 829.46h4.69v2.74h-4.69zM225.45 829.46h4.69v2.74h-4.69zM253.60 829.46h4.69v2.74h-4.69zM319.28 829.46h4.69v2.74h-4.69zM51.87 832.20h4.69v2.74h-4.69zM56.56 832.20h4.69v2.74h-4.69zM122.24 832.20h4.69v2.74h-4.69zM178.54 832.20h4.69v2.74h-4.69zM211.38 832.20h4.69v2.74h-4.69zM225.45 832.20h4.69v2.74h-4.69zM281.75 832.20h4.69v2.74h-4.69zM187.92 834.94h4.69v2.74h-4.69zM253.60 834.94h4.69v2.74h-4.69zM305.20 834.94h4.69v2.74h-4.69zM309.89 834.94h4.69v2.74h-4.69zM389.64 834.94h4.69v2.74h-4.69zM112.86 837.68h4.69v2.74h-4.69zM131.62 837.68h4.69v2.74h-4.69zM150.39 837.68h4.69v2.74h-4.69zM197.30 837.68h4.69v2.74h-4.69zM319.28 837.68h4.69v2.74h-4.69zM342.73 837.68h4.69v2.74h-4.69zM108.17 840.42h4.69v2.74h-4.69zM136.32 840.42h4.69v2.74h-4.69zM141.01 840.42h4.69v2.74h-4.69zM178.54 840.42h4.69v2.74h-4.69zM37.80 843.16h4.69v2.74h-4.69zM117.55 843.16h4.69v2.74h-4.69zM131.62 843.16h4.69v2.74h-4.69zM150.39 843.16h4.69v2.74h-4.69zM183.23 843.16h4.69v2.74h-4.69zM230.14 843.16h4.69v2.74h-4.69zM234.83 843.16h4.69v2.74h-4.69zM328.66 843.16h4.69v2.74h-4.69zM347.42 843.16h4.69v2.74h-4.69zM56.56 845.90h4.69v2.74h-4.69zM61.26 845.90h4.69v2.74h-4.69zM117.55 845.90h4.69v2.74h-4.69zM145.70 845.90h4.69v2.74h-4.69zM216.07 845.90h4.69v2.74h-4.69zM248.91 845.90h4.69v2.74h-4.69zM262.98 845.90h4.69v2.74h-4.69zM98.79 848.64h4.69v2.74h-4.69zM122.24 848.64h4.69v2.74h-4.69zM192.61 848.64h4.69v2.74h-4.69zM333.35 848.64h4.69v2.74h-4.69zM338.04 848.64h4.69v2.74h-4.69zM352.11 848.64h4.69v2.74h-4.69zM356.81 848.64h4.69v2.74h-4.69zM84.71 851.38h4.69v2.74h-4.69zM89.40 851.38h4.69v2.74h-4.69zM103.48 851.38h4.69v2.74h-4.69zM178.54 851.38h4.69v2.74h-4.69zM201.99 851.38h4.69v2.74h-4.69zM319.28 851.38h4.69v2.74h-4.69zM338.04 851.38h4.69v2.74h-4.69zM352.11 851.38h4.69v2.74h-4.69zM389.64 851.38h4.69v2.74h-4.69zM94.09 854.12h4.69v2.74h-4.69zM126.93 854.12h4.69v2.74h-4.69zM201.99 854.12h4.69v2.74h-4.69zM211.38 854.12h4.69v2.74h-4.69zM244.22 854.12h4.69v2.74h-4.69zM122.24 856.86h4.69v2.74h-4.69zM178.54 856.86h4.69v2.74h-4.69zM267.67 856.86h4.69v2.74h-4.69zM286.44 856.86h4.69v2.74h-4.69zM291.13 856.86h4.69v2.74h-4.69zM314.58 856.86h4.69v2.74h-4.69zM319.28 856.86h4.69v2.74h-4.69zM61.26 859.60h4.69v2.74h-4.69zM103.48 859.60h4.69v2.74h-4.69zM159.77 859.60h4.69v2.74h-4.69zM201.99 859.60h4.69v2.74h-4.69zM220.76 859.60h4.69v2.74h-4.69zM244.22 859.60h4.69v2.74h-4.69zM361.50 859.60h4.69v2.74h-4.69zM145.70 862.34h4.69v2.74h-4.69zM183.23 862.34h4.69v2.74h-4.69zM192.61 862.34h4.69v2.74h-4.69zM201.99 862.34h4.69v2.74h-4.69zM216.07 862.34h4.69v2.74h-4.69zM244.22 862.34h4.69v2.74h-4.69zM314.58 862.34h4.69v2.74h-4.69zM408.41 862.34h4.69v2.74h-4.69zM94.09 865.08h4.69v2.74h-4.69zM211.38 865.08h4.69v2.74h-4.69zM286.44 865.08h4.69v2.74h-4.69zM122.24 867.82h4.69v2.74h-4.69zM65.95 870.56h4.69v2.74h-4.69zM80.02 870.56h4.69v2.74h-4.69zM117.55 870.56h4.69v2.74h-4.69zM145.70 870.56h4.69v2.74h-4.69zM192.61 870.56h4.69v2.74h-4.69zM323.97 870.56h4.69v2.74h-4.69zM70.64 873.30h4.69v2.74h-4.69zM173.85 873.30h4.69v2.74h-4.69zM187.92 873.30h4.69v2.74h-4.69zM295.82 873.30h4.69v2.74h-4.69zM323.97 873.30h4.69v2.74h-4.69zM384.95 873.30h4.69v2.74h-4.69zM65.95 876.04h4.69v2.74h-4.69zM131.62 876.04h4.69v2.74h-4.69zM150.39 876.04h4.69v2.74h-4.69zM169.16 876.04h4.69v2.74h-4.69zM281.75 876.04h4.69v2.74h-4.69zM342.73 876.04h4.69v2.74h-4.69zM399.03 876.04h4.69v2.74h-4.69zM47.18 878.78h4.69v2.74h-4.69zM51.87 878.78h4.69v2.74h-4.69zM89.40 878.78h4.69v2.74h-4.69zM108.17 878.78h4.69v2.74h-4.69zM122.24 878.78h4.69v2.74h-4.69zM155.08 878.78h4.69v2.74h-4.69zM164.46 878.78h4.69v2.74h-4.69zM262.98 878.78h4.69v2.74h-4.69zM286.44 878.78h4.69v2.74h-4.69zM352.11 878.78h4.69v2.74h-4.69zM61.26 881.52h4.69v2.74h-4.69zM70.64 881.52h4.69v2.74h-4.69zM103.48 881.52h4.69v2.74h-4.69zM122.24 884.26h4.69v2.74h-4.69zM131.62 884.26h4.69v2.74h-4.69zM183.23 884.26h4.69v2.74h-4.69zM187.92 884.26h4.69v2.74h-4.69zM201.99 884.26h4.69v2.74h-4.69zM206.69 884.26h4.69v2.74h-4.69zM230.14 887.00h4.69v2.74h-4.69zM272.36 887.00h4.69v2.74h-4.69zM47.18 889.74h4.69v2.74h-4.69zM51.87 889.74h4.69v2.74h-4.69zM89.40 889.74h4.69v2.74h-4.69zM117.55 889.74h4.69v2.74h-4.69zM136.32 889.74h4.69v2.74h-4.69zM323.97 889.74h4.69v2.74h-4.69zM333.35 889.74h4.69v2.74h-4.69zM75.33 892.48h4.69v2.74h-4.69zM94.09 892.48h4.69v2.74h-4.69zM187.92 892.48h4.69v2.74h-4.69zM192.61 892.48h4.69v2.74h-4.69zM333.35 892.48h4.69v2.74h-4.69zM338.04 892.48h4.69v2.74h-4.69zM37.80 895.22h4.69v2.74h-4.69zM258.29 895.22h4.69v2.74h-4.69zM333.35 895.22h4.69v2.74h-4.69zM370.88 895.22h4.69v2.74h-4.69zM403.72 895.22h4.69v2.74h-4.69zM94.09 897.96h4.69v2.74h-4.69zM103.48 897.96h4.69v2.74h-4.69zM150.39 897.96h4.69v2.74h-4.69zM173.85 897.96h4.69v2.74h-4.69zM225.45 897.96h4.69v2.74h-4.69zM281.75 897.96h4.69v2.74h-4.69zM47.18 900.70h4.69v2.74h-4.69zM141.01 900.70h4.69v2.74h-4.69zM155.08 900.70h4.69v2.74h-4.69zM159.77 900.70h4.69v2.74h-4.69zM244.22 900.70h4.69v2.74h-4.69zM319.28 900.70h4.69v2.74h-4.69zM389.64 900.70h4.69v2.74h-4.69zM51.87 903.44h4.69v2.74h-4.69zM65.95 903.44h4.69v2.74h-4.69zM103.48 903.44h4.69v2.74h-4.69zM141.01 903.44h4.69v2.74h-4.69zM145.70 903.44h4.69v2.74h-4.69zM220.76 903.44h4.69v2.74h-4.69zM248.91 903.44h4.69v2.74h-4.69zM295.82 903.44h4.69v2.74h-4.69zM323.97 903.44h4.69v2.74h-4.69zM338.04 903.44h4.69v2.74h-4.69zM84.71 906.18h4.69v2.74h-4.69zM89.40 906.18h4.69v2.74h-4.69zM122.24 906.18h4.69v2.74h-4.69zM136.32 906.18h4.69v2.74h-4.69zM173.85 906.18h4.69v2.74h-4.69zM192.61 906.18h4.69v2.74h-4.69zM225.45 906.18h4.69v2.74h-4.69zM258.29 906.18h4.69v2.74h-4.69zM65.95 908.92h4.69v2.74h-4.69zM70.64 908.92h4.69v2.74h-4.69zM75.33 908.92h4.69v2.74h-4.69zM126.93 908.92h4.69v2.74h-4.69zM211.38 908.92h4.69v2.74h-4.69zM234.83 908.92h4.69v2.74h-4.69zM305.20 908.92h4.69v2.74h-4.69zM370.88 908.92h4.69v2.74h-4.69zM375.57 908.92h4.69v2.74h-4.69zM70.64 911.66h4.69v2.74h-4.69zM112.86 911.66h4.69v2.74h-4.69zM122.24 911.66h4.69v2.74h-4.69zM187.92 911.66h4.69v2.74h-4.69zM206.69 911.66h4.69v2.74h-4.69zM300.51 911.66h4.69v2.74h-4.69zM309.89 911.66h4.69v2.74h-4.69zM75.33 914.40h4.69v2.74h-4.69zM98.79 914.40h4.69v2.74h-4.69zM136.32 914.40h4.69v2.74h-4.69zM155.08 914.40h4.69v2.74h-4.69zM187.92 914.40h4.69v2.74h-4.69zM201.99 914.40h4.69v2.74h-4.69zM253.60 914.40h4.69v2.74h-4.69zM375.57 914.40h4.69v2.74h-4.69zM399.03 914.40h4.69v2.74h-4.69zM117.55 917.14h4.69v2.74h-4.69zM192.61 917.14h4.69v2.74h-4.69zM239.52 917.14h4.69v2.74h-4.69zM319.28 917.14h4.69v2.74h-4.69zM338.04 917.14h4.69v2.74h-4.69zM375.57 917.14h4.69v2.74h-4.69zM37.80 919.88h4.69v2.74h-4.69zM70.64 919.88h4.69v2.74h-4.69zM80.02 919.88h4.69v2.74h-4.69zM206.69 919.88h4.69v2.74h-4.69zM234.83 919.88h4.69v2.74h-4.69zM399.03 919.88h4.69v2.74h-4.69zM201.99 922.62h4.69v2.74h-4.69zM220.76 922.62h4.69v2.74h-4.69zM323.97 922.62h4.69v2.74h-4.69zM56.56 925.36h4.69v2.74h-4.69zM103.48 925.36h4.69v2.74h-4.69zM108.17 925.36h4.69v2.74h-4.69zM145.70 925.36h4.69v2.74h-4.69zM197.30 925.36h4.69v2.74h-4.69zM253.60 925.36h4.69v2.74h-4.69zM281.75 925.36h4.69v2.74h-4.69zM286.44 925.36h4.69v2.74h-4.69zM366.19 925.36h4.69v2.74h-4.69zM384.95 925.36h4.69v2.74h-4.69zM141.01 928.10h4.69v2.74h-4.69zM178.54 928.10h4.69v2.74h-4.69zM211.38 928.10h4.69v2.74h-4.69zM248.91 928.10h4.69v2.74h-4.69zM42.49 930.84h4.69v2.74h-4.69zM89.40 930.84h4.69v2.74h-4.69zM164.46 930.84h4.69v2.74h-4.69zM216.07 930.84h4.69v2.74h-4.69zM234.83 930.84h4.69v2.74h-4.69zM347.42 930.84h4.69v2.74h-4.69zM94.09 933.58h4.69v2.74h-4.69zM112.86 933.58h4.69v2.74h-4.69zM136.32 933.58h4.69v2.74h-4.69zM141.01 933.58h4.69v2.74h-4.69zM164.46 933.58h4.69v2.74h-4.69zM169.16 933.58h4.69v2.74h-4.69zM187.92 933.58h4.69v2.74h-4.69zM258.29 933.58h4.69v2.74h-4.69zM295.82 933.58h4.69v2.74h-4.69zM352.11 933.58h4.69v2.74h-4.69zM70.64 936.32h4.69v2.74h-4.69zM352.11 936.32h4.69v2.74h-4.69zM42.49 939.06h4.69v2.74h-4.69zM239.52 939.06h4.69v2.74h-4.69zM338.04 939.06h4.69v2.74h-4.69zM347.42 939.06h4.69v2.74h-4.69zM225.45 941.80h4.69v2.74h-4.69zM244.22 941.80h4.69v2.74h-4.69zM300.51 941.80h4.69v2.74h-4.69zM65.95 944.54h4.69v2.74h-4.69zM89.40 944.54h4.69v2.74h-4.69zM112.86 944.54h4.69v2.74h-4.69zM131.62 944.54h4.69v2.74h-4.69zM187.92 944.54h4.69v2.74h-4.69zM258.29 944.54h4.69v2.74h-4.69zM323.97 944.54h4.69v2.74h-4.69zM80.02 947.28h4.69v2.74h-4.69zM84.71 947.28h4.69v2.74h-4.69zM122.24 947.28h4.69v2.74h-4.69zM183.23 947.28h4.69v2.74h-4.69zM197.30 947.28h4.69v2.74h-4.69zM277.05 947.28h4.69v2.74h-4.69zM281.75 947.28h4.69v2.74h-4.69zM295.82 947.28h4.69v2.74h-4.69zM342.73 947.28h4.69v2.74h-4.69zM356.81 947.28h4.69v2.74h-4.69zM370.88 947.28h4.69v2.74h-4.69zM98.79 950.02h4.69v2.74h-4.69zM183.23 950.02h4.69v2.74h-4.69zM309.89 950.02h4.69v2.74h-4.69zM389.64 950.02h4.69v2.74h-4.69zM197.30 952.76h4.69v2.74h-4.69zM206.69 952.76h4.69v2.74h-4.69zM220.76 952.76h4.69v2.74h-4.69zM309.89 952.76h4.69v2.74h-4.69zM323.97 952.76h4.69v2.74h-4.69zM338.04 952.76h4.69v2.74h-4.69zM356.81 952.76h4.69v2.74h-4.69zM89.40 955.50h4.69v2.74h-4.69zM122.24 955.50h4.69v2.74h-4.69zM131.62 955.50h4.69v2.74h-4.69zM141.01 955.50h4.69v2.74h-4.69zM267.67 955.50h4.69v2.74h-4.69zM281.75 955.50h4.69v2.74h-4.69zM384.95 955.50h4.69v2.74h-4.69zM131.62 958.24h4.69v2.74h-4.69zM159.77 958.24h4.69v2.74h-4.69zM211.38 958.24h4.69v2.74h-4.69zM408.41 958.24h4.69v2.74h-4.69zM89.40 960.98h4.69v2.74h-4.69zM155.08 960.98h4.69v2.74h-4.69zM183.23 960.98h4.69v2.74h-4.69zM216.07 960.98h4.69v2.74h-4.69zM323.97 960.98h4.69v2.74h-4.69zM352.11 960.98h4.69v2.74h-4.69zM56.56 963.72h4.69v2.74h-4.69zM61.26 963.72h4.69v2.74h-4.69zM112.86 963.72h4.69v2.74h-4.69zM173.85 963.72h4.69v2.74h-4.69zM206.69 963.72h4.69v2.74h-4.69zM230.14 963.72h4.69v2.74h-4.69zM361.50 963.72h4.69v2.74h-4.69zM384.95 963.72h4.69v2.74h-4.69zM206.69 966.46h4.69v2.74h-4.69zM230.14 966.46h4.69v2.74h-4.69zM277.05 966.46h4.69v2.74h-4.69zM84.71 969.20h4.69v2.74h-4.69zM117.55 969.20h4.69v2.74h-4.69zM187.92 969.20h4.69v2.74h-4.69zM201.99 969.20h4.69v2.74h-4.69zM211.38 969.20h4.69v2.74h-4.69zM216.07 969.20h4.69v2.74h-4.69zM272.36 969.20h4.69v2.74h-4.69zM281.75 969.20h4.69v2.74h-4.69zM286.44 969.20h4.69v2.74h-4.69zM305.20 969.20h4.69v2.74h-4.69zM361.50 969.20h4.69v2.74h-4.69zM201.99 971.94h4.69v2.74h-4.69zM80.02 974.68h4.69v2.74h-4.69zM155.08 974.68h4.69v2.74h-4.69zM173.85 974.68h4.69v2.74h-4.69zM94.09 977.42h4.69v2.74h-4.69zM169.16 977.42h4.69v2.74h-4.69zM206.69 977.42h4.69v2.74h-4.69zM375.57 977.42h4.69v2.74h-4.69zM47.18 980.16h4.69v2.74h-4.69zM112.86 980.16h4.69v2.74h-4.69zM173.85 980.16h4.69v2.74h-4.69zM112.86 982.90h4.69v2.74h-4.69zM230.14 982.90h4.69v2.74h-4.69zM314.58 982.90h4.69v2.74h-4.69zM342.73 982.90h4.69v2.74h-4.69zM366.19 982.90h4.69v2.74h-4.69zM51.87 985.64h4.69v2.74h-4.69zM103.48 985.64h4.69v2.74h-4.69zM108.17 985.64h4.69v2.74h-4.69zM178.54 985.64h4.69v2.74h-4.69zM248.91 985.64h4.69v2.74h-4.69zM267.67 985.64h4.69v2.74h-4.69zM70.64 988.38h4.69v2.74h-4.69zM89.40 988.38h4.69v2.74h-4.69zM112.86 988.38h4.69v2.74h-4.69zM122.24 988.38h4.69v2.74h-4.69zM201.99 988.38h4.69v2.74h-4.69zM305.20 988.38h4.69v2.74h-4.69zM375.57 988.38h4.69v2.74h-4.69zM399.03 988.38h4.69v2.74h-4.69zM403.72 988.38h4.69v2.74h-4.69zM122.24 991.12h4.69v2.74h-4.69zM136.32 991.12h4.69v2.74h-4.69zM141.01 991.12h4.69v2.74h-4.69zM197.30 991.12h4.69v2.74h-4.69zM230.14 991.12h4.69v2.74h-4.69zM234.83 991.12h4.69v2.74h-4.69zM239.52 991.12h4.69v2.74h-4.69zM380.26 991.12h4.69v2.74h-4.69zM37.80 993.86h4.69v2.74h-4.69zM47.18 993.86h4.69v2.74h-4.69zM56.56 993.86h4.69v2.74h-4.69zM201.99 993.86h4.69v2.74h-4.69zM366.19 993.86h4.69v2.74h-4.69zM56.56 996.60h4.69v2.74h-4.69zM159.77 996.60h4.69v2.74h-4.69zM192.61 996.60h4.69v2.74h-4.69zM211.38 996.60h4.69v2.74h-4.69zM216.07 996.60h4.69v2.74h-4.69zM220.76 996.60h4.69v2.74h-4.69zM225.45 996.60h4.69v2.74h-4.69zM234.83 996.60h4.69v2.74h-4.69zM248.91 996.60h4.69v2.74h-4.69zM253.60 996.60h4.69v2.74h-4.69zM356.81 996.60h4.69v2.74h-4.69zM42.49 999.34h4.69v2.74h-4.69zM122.24 999.34h4.69v2.74h-4.69zM192.61 999.34h4.69v2.74h-4.69zM347.42 999.34h4.69v2.74h-4.69zM42.49 1002.08h4.69v2.74h-4.69zM84.71 1002.08h4.69v2.74h-4.69zM230.14 1002.08h4.69v2.74h-4.69zM342.73 1002.08h4.69v2.74h-4.69zM384.95 1002.08h4.69v2.74h-4.69zM394.34 1002.08h4.69v2.74h-4.69zM80.02 1004.82h4.69v2.74h-4.69zM98.79 1004.82h4.69v2.74h-4.69zM141.01 1004.82h4.69v2.74h-4.69zM155.08 1004.82h4.69v2.74h-4.69zM225.45 1004.82h4.69v2.74h-4.69zM230.14 1004.82h4.69v2.74h-4.69zM342.73 1004.82h4.69v2.74h-4.69zM356.81 1004.82h4.69v2.74h-4.69zM375.57 1004.82h4.69v2.74h-4.69zM65.95 1007.56h4.69v2.74h-4.69zM89.40 1007.56h4.69v2.74h-4.69zM159.77 1007.56h4.69v2.74h-4.69zM220.76 1007.56h4.69v2.74h-4.69zM248.91 1007.56h4.69v2.74h-4.69zM258.29 1007.56h4.69v2.74h-4.69zM291.13 1007.56h4.69v2.74h-4.69zM319.28 1007.56h4.69v2.74h-4.69zM380.26 1007.56h4.69v2.74h-4.69zM84.71 1010.30h4.69v2.74h-4.69zM94.09 1010.30h4.69v2.74h-4.69zM108.17 1010.30h4.69v2.74h-4.69zM197.30 1010.30h4.69v2.74h-4.69zM295.82 1010.30h4.69v2.74h-4.69zM239.52 1013.04h4.69v2.74h-4.69zM380.26 1013.04h4.69v2.74h-4.69zM389.64 1013.04h4.69v2.74h-4.69zM399.03 1013.04h4.69v2.74h-4.69zM89.40 1015.78h4.69v2.74h-4.69zM94.09 1015.78h4.69v2.74h-4.69zM141.01 1015.78h4.69v2.74h-4.69zM323.97 1015.78h4.69v2.74h-4.69zM89.40 1018.52h4.69v2.74h-4.69zM117.55 1018.52h4.69v2.74h-4.69zM122.24 1018.52h4.69v2.74h-4.69zM314.58 1018.52h4.69v2.74h-4.69zM333.35 1018.52h4.69v2.74h-4.69zM356.81 1018.52h4.69v2.74h-4.69zM370.88 1018.52h4.69v2.74h-4.69zM47.18 1021.26h4.69v2.74h-4.69zM80.02 1021.26h4.69v2.74h-4.69zM98.79 1021.26h4.69v2.74h-4.69zM112.86 1021.26h4.69v2.74h-4.69zM244.22 1021.26h4.69v2.74h-4.69zM281.75 1021.26h4.69v2.74h-4.69zM309.89 1021.26h4.69v2.74h-4.69zM370.88 1021.26h4.69v2.74h-4.69zM389.64 1021.26h4.69v2.74h-4.69zM51.87 1024.00h4.69v2.74h-4.69zM103.48 1024.00h4.69v2.74h-4.69zM112.86 1024.00h4.69v2.74h-4.69zM206.69 1024.00h4.69v2.74h-4.69zM281.75 1024.00h4.69v2.74h-4.69zM366.19 1024.00h4.69v2.74h-4.69zM389.64 1024.00h4.69v2.74h-4.69zM394.34 1024.00h4.69v2.74h-4.69zM65.95 1026.74h4.69v2.74h-4.69zM84.71 1026.74h4.69v2.74h-4.69zM192.61 1026.74h4.69v2.74h-4.69zM234.83 1026.74h4.69v2.74h-4.69zM239.52 1026.74h4.69v2.74h-4.69zM253.60 1026.74h4.69v2.74h-4.69zM314.58 1026.74h4.69v2.74h-4.69zM366.19 1026.74h4.69v2.74h-4.69zM384.95 1026.74h4.69v2.74h-4.69zM47.18 1029.48h4.69v2.74h-4.69zM145.70 1029.48h4.69v2.74h-4.69zM216.07 1029.48h4.69v2.74h-4.69zM239.52 1029.48h4.69v2.74h-4.69zM281.75 1029.48h4.69v2.74h-4.69zM291.13 1029.48h4.69v2.74h-4.69zM394.34 1029.48h4.69v2.74h-4.69zM37.80 1032.22h4.69v2.74h-4.69zM51.87 1032.22h4.69v2.74h-4.69zM61.26 1032.22h4.69v2.74h-4.69zM98.79 1032.22h4.69v2.74h-4.69zM295.82 1032.22h4.69v2.74h-4.69zM305.20 1032.22h4.69v2.74h-4.69zM309.89 1032.22h4.69v2.74h-4.69zM333.35 1032.22h4.69v2.74h-4.69zM98.79 1034.96h4.69v2.74h-4.69zM159.77 1034.96h4.69v2.74h-4.69zM169.16 1034.96h4.69v2.74h-4.69zM183.23 1034.96h4.69v2.74h-4.69zM230.14 1034.96h4.69v2.74h-4.69zM286.44 1034.96h4.69v2.74h-4.69zM323.97 1034.96h4.69v2.74h-4.69zM366.19 1034.96h4.69v2.74h-4.69zM145.70 1037.70h4.69v2.74h-4.69zM178.54 1037.70h4.69v2.74h-4.69zM267.67 1037.70h4.69v2.74h-4.69zM98.79 1040.44h4.69v2.74h-4.69zM159.77 1040.44h4.69v2.74h-4.69zM244.22 1040.44h4.69v2.74h-4.69zM291.13 1040.44h4.69v2.74h-4.69zM300.51 1040.44h4.69v2.74h-4.69zM370.88 1040.44h4.69v2.74h-4.69zM47.18 1043.18h4.69v2.74h-4.69zM65.95 1043.18h4.69v2.74h-4.69zM70.64 1043.18h4.69v2.74h-4.69zM112.86 1043.18h4.69v2.74h-4.69zM131.62 1043.18h4.69v2.74h-4.69zM234.83 1043.18h4.69v2.74h-4.69zM244.22 1043.18h4.69v2.74h-4.69zM305.20 1043.18h4.69v2.74h-4.69zM399.03 1043.18h4.69v2.74h-4.69zM122.24 1045.92h4.69v2.74h-4.69zM126.93 1045.92h4.69v2.74h-4.69zM164.46 1045.92h4.69v2.74h-4.69zM201.99 1045.92h4.69v2.74h-4.69zM206.69 1045.92h4.69v2.74h-4.69zM244.22 1045.92h4.69v2.74h-4.69zM258.29 1045.92h4.69v2.74h-4.69zM98.79 1048.66h4.69v2.74h-4.69zM211.38 1048.66h4.69v2.74h-4.69zM234.83 1048.66h4.69v2.74h-4.69zM281.75 1048.66h4.69v2.74h-4.69zM291.13 1048.66h4.69v2.74h-4.69zM295.82 1048.66h4.69v2.74h-4.69zM338.04 1048.66h4.69v2.74h-4.69zM361.50 1048.66h4.69v2.74h-4.69zM366.19 1048.66h4.69v2.74h-4.69zM375.57 1048.66h4.69v2.74h-4.69z"/>
<path fill="#e3f4f2" d="M80.02 777.40h4.69v2.74h-4.69zM145.70 777.40h4.69v2.74h-4.69zM150.39 777.40h4.69v2.74h-4.69zM272.36 780.14h4.69v2.74h-4.69zM333.35 782.88h4.69v2.74h-4.69zM187.92 785.62h4.69v2.74h-4.69zM370.88 788.36h4.69v2.74h-4.69zM51.87 793.84h4.69v2.74h-4.69zM141.01 796.58h4.69v2.74h-4.69zM70.64 799.32h4.69v2.74h-4.69zM201.99 799.32h4.69v2.74h-4.69zM211.38 802.06h4.69v2.74h-4.69zM61.26 804.80h4.69v2.74h-4.69zM94.09 807.54h4.69v2.74h-4.69zM216.07 807.54h4.69v2.74h-4.69zM75.33 810.28h4.69v2.74h-4.69zM159.77 810.28h4.69v2.74h-4.69zM173.85 815.76h4.69v2.74h-4.69zM187.92 815.76h4.69v2.74h-4.69zM136.32 818.50h4.69v2.74h-4.69zM150.39 821.24h4.69v2.74h-4.69zM220.76 821.24h4.69v2.74h-4.69zM94.09 823.98h4.69v2.74h-4.69zM141.01 832.20h4.69v2.74h-4.69zM42.49 840.42h4.69v2.74h-4.69zM47.18 843.16h4.69v2.74h-4.69zM169.16 848.64h4.69v2.74h-4.69zM122.24 851.38h4.69v2.74h-4.69zM37.80 862.34h4.69v2.74h-4.69zM70.64 862.34h4.69v2.74h-4.69zM338.04 862.34h4.69v2.74h-4.69zM141.01 865.08h4.69v2.74h-4.69zM173.85 865.08h4.69v2.74h-4.69zM328.66 865.08h4.69v2.74h-4.69zM103.48 867.82h4.69v2.74h-4.69zM206.69 867.82h4.69v2.74h-4.69zM94.09 870.56h4.69v2.74h-4.69zM61.26 876.04h4.69v2.74h-4.69zM155.08 876.04h4.69v2.74h-4.69zM159.77 878.78h4.69v2.74h-4.69zM141.01 884.26h4.69v2.74h-4.69zM253.60 884.26h4.69v2.74h-4.69zM56.56 892.48h4.69v2.74h-4.69zM61.26 892.48h4.69v2.74h-4.69zM173.85 895.22h4.69v2.74h-4.69zM216.07 900.70h4.69v2.74h-4.69zM272.36 900.70h4.69v2.74h-4.69zM131.62 903.44h4.69v2.74h-4.69zM42.49 906.18h4.69v2.74h-4.69zM136.32 908.92h4.69v2.74h-4.69zM145.70 908.92h4.69v2.74h-4.69zM258.29 914.40h4.69v2.74h-4.69zM94.09 917.14h4.69v2.74h-4.69zM84.71 919.88h4.69v2.74h-4.69zM51.87 922.62h4.69v2.74h-4.69zM150.39 925.36h4.69v2.74h-4.69zM136.32 928.10h4.69v2.74h-4.69zM192.61 930.84h4.69v2.74h-4.69zM131.62 933.58h4.69v2.74h-4.69zM183.23 933.58h4.69v2.74h-4.69zM403.72 933.58h4.69v2.74h-4.69zM155.08 939.06h4.69v2.74h-4.69zM248.91 939.06h4.69v2.74h-4.69zM309.89 939.06h4.69v2.74h-4.69zM150.39 944.54h4.69v2.74h-4.69zM112.86 947.28h4.69v2.74h-4.69zM403.72 947.28h4.69v2.74h-4.69zM112.86 952.76h4.69v2.74h-4.69zM201.99 952.76h4.69v2.74h-4.69zM136.32 960.98h4.69v2.74h-4.69zM192.61 960.98h4.69v2.74h-4.69zM206.69 960.98h4.69v2.74h-4.69zM239.52 960.98h4.69v2.74h-4.69zM126.93 963.72h4.69v2.74h-4.69zM145.70 963.72h4.69v2.74h-4.69zM155.08 963.72h4.69v2.74h-4.69zM281.75 971.94h4.69v2.74h-4.69zM103.48 974.68h4.69v2.74h-4.69zM169.16 974.68h4.69v2.74h-4.69zM211.38 977.42h4.69v2.74h-4.69zM37.80 980.16h4.69v2.74h-4.69zM187.92 980.16h4.69v2.74h-4.69zM37.80 991.12h4.69v2.74h-4.69zM216.07 991.12h4.69v2.74h-4.69zM178.54 999.34h4.69v2.74h-4.69zM300.51 999.34h4.69v2.74h-4.69zM333.35 999.34h4.69v2.74h-4.69zM206.69 1002.08h4.69v2.74h-4.69zM136.32 1004.82h4.69v2.74h-4.69zM403.72 1007.56h4.69v2.74h-4.69zM47.18 1018.52h4.69v2.74h-4.69zM178.54 1018.52h4.69v2.74h-4.69zM384.95 1018.52h4.69v2.74h-4.69zM94.09 1021.26h4.69v2.74h-4.69zM126.93 1021.26h4.69v2.74h-4.69zM201.99 1021.26h4.69v2.74h-4.69zM230.14 1021.26h4.69v2.74h-4.69zM173.85 1024.00h4.69v2.74h-4.69zM216.07 1026.74h4.69v2.74h-4.69zM84.71 1029.48h4.69v2.74h-4.69zM164.46 1034.96h4.69v2.74h-4.69zM136.32 1037.70h4.69v2.74h-4.69zM291.13 1037.70h4.69v2.74h-4.69zM399.03 1037.70h4.69v2.74h-4.69zM47.18 1040.44h4.69v2.74h-4.69zM141.01 1045.92h4.69v2.74h-4.69zM201.99 1048.66h4.69v2.74h-4.69zM305.20 1048.66h4.69v2.74h-4.69z"/>
<path fill="#fff6b2" d="M84.71 777.40h4.69v2.74h-4.69zM272.36 777.40h4.69v2.74h-4.69zM384.95 777.40h4.69v2.74h-4.69zM80.02 780.14h4.69v2.74h-4.69zM103.48 780.14h4.69v2.74h-4.69zM211.38 782.88h4.69v2.74h-4.69zM141.01 785.62h4.69v2.74h-4.69zM206.69 788.36h4.69v2.74h-4.69zM183.23 791.10h4.69v2.74h-4.69zM380.26 791.10h4.69v2.74h-4.69zM380.26 793.84h4.69v2.74h-4.69zM89.40 796.58h4.69v2.74h-4.69zM150.39 796.58h4.69v2.74h-4.69zM277.05 796.58h4.69v2.74h-4.69zM295.82 796.58h4.69v2.74h-4.69zM361.50 796.58h4.69v2.74h-4.69zM225.45 799.32h4.69v2.74h-4.69zM403.72 799.32h4.69v2.74h-4.69zM408.41 799.32h4.69v2.74h-4.69zM352.11 802.06h4.69v2.74h-4.69zM394.34 802.06h4.69v2.74h-4.69zM42.49 804.80h4.69v2.74h-4.69zM323.97 804.80h4.69v2.74h-4.69zM333.35 807.54h4.69v2.74h-4.69zM370.88 807.54h4.69v2.74h-4.69zM375.57 807.54h4.69v2.74h-4.69zM295.82 810.28h4.69v2.74h-4.69zM347.42 810.28h4.69v2.74h-4.69zM370.88 810.28h4.69v2.74h-4.69zM408.41 813.02h4.69v2.74h-4.69zM211.38 815.76h4.69v2.74h-4.69zM281.75 815.76h4.69v2.74h-4.69zM323.97 815.76h4.69v2.74h-4.69zM201.99 818.50h4.69v2.74h-4.69zM309.89 818.50h4.69v2.74h-4.69zM112.86 821.24h4.69v2.74h-4.69zM361.50 821.24h4.69v2.74h-4.69zM61.26 823.98h4.69v2.74h-4.69zM112.86 823.98h4.69v2.74h-4.69zM333.35 823.98h4.69v2.74h-4.69zM366.19 823.98h4.69v2.74h-4.69zM201.99 826.72h4.69v2.74h-4.69zM394.34 826.72h4.69v2.74h-4.69zM197.30 829.46h4.69v2.74h-4.69zM84.71 832.20h4.69v2.74h-4.69zM136.32 832.20h4.69v2.74h-4.69zM272.36 832.20h4.69v2.74h-4.69zM122.24 834.94h4.69v2.74h-4.69zM370.88 834.94h4.69v2.74h-4.69zM169.16 837.68h4.69v2.74h-4.69zM192.61 837.68h4.69v2.74h-4.69zM300.51 837.68h4.69v2.74h-4.69zM389.64 840.42h4.69v2.74h-4.69zM295.82 843.16h4.69v2.74h-4.69zM75.33 845.90h4.69v2.74h-4.69zM187.92 845.90h4.69v2.74h-4.69zM230.14 845.90h4.69v2.74h-4.69zM65.95 848.64h4.69v2.74h-4.69zM164.46 848.64h4.69v2.74h-4.69zM220.76 848.64h4.69v2.74h-4.69zM258.29 848.64h4.69v2.74h-4.69zM399.03 848.64h4.69v2.74h-4.69zM155.08 851.38h4.69v2.74h-4.69zM159.77 851.38h4.69v2.74h-4.69zM216.07 851.38h4.69v2.74h-4.69zM272.36 851.38h4.69v2.74h-4.69zM305.20 851.38h4.69v2.74h-4.69zM399.03 851.38h4.69v2.74h-4.69zM356.81 854.12h4.69v2.74h-4.69zM197.30 856.86h4.69v2.74h-4.69zM122.24 859.60h4.69v2.74h-4.69zM126.93 859.60h4.69v2.74h-4.69zM230.14 859.60h4.69v2.74h-4.69zM370.88 859.60h4.69v2.74h-4.69zM347.42 865.08h4.69v2.74h-4.69zM380.26 865.08h4.69v2.74h-4.69zM145.70 867.82h4.69v2.74h-4.69zM225.45 867.82h4.69v2.74h-4.69zM333.35 867.82h4.69v2.74h-4.69zM98.79 870.56h4.69v2.74h-4.69zM173.85 870.56h4.69v2.74h-4.69zM197.30 870.56h4.69v2.74h-4.69zM258.29 870.56h4.69v2.74h-4.69zM314.58 870.56h4.69v2.74h-4.69zM230.14 873.30h4.69v2.74h-4.69zM244.22 873.30h4.69v2.74h-4.69zM291.13 873.30h4.69v2.74h-4.69zM103.48 876.04h4.69v2.74h-4.69zM126.93 876.04h4.69v2.74h-4.69zM225.45 876.04h4.69v2.74h-4.69zM56.56 878.78h4.69v2.74h-4.69zM295.82 878.78h4.69v2.74h-4.69zM314.58 878.78h4.69v2.74h-4.69zM201.99 881.52h4.69v2.74h-4.69zM408.41 881.52h4.69v2.74h-4.69zM56.56 884.26h4.69v2.74h-4.69zM399.03 884.26h4.69v2.74h-4.69zM342.73 887.00h4.69v2.74h-4.69zM98.79 889.74h4.69v2.74h-4.69zM408.41 889.74h4.69v2.74h-4.69zM244.22 892.48h4.69v2.74h-4.69zM347.42 892.48h4.69v2.74h-4.69zM126.93 895.22h4.69v2.74h-4.69zM42.49 897.96h4.69v2.74h-4.69zM136.32 900.70h4.69v2.74h-4.69zM183.23 900.70h4.69v2.74h-4.69zM230.14 906.18h4.69v2.74h-4.69zM234.83 906.18h4.69v2.74h-4.69zM403.72 906.18h4.69v2.74h-4.69zM319.28 908.92h4.69v2.74h-4.69zM403.72 908.92h4.69v2.74h-4.69zM131.62 911.66h4.69v2.74h-4.69zM272.36 911.66h4.69v2.74h-4.69zM380.26 911.66h4.69v2.74h-4.69zM80.02 917.14h4.69v2.74h-4.69zM141.01 917.14h4.69v2.74h-4.69zM183.23 917.14h4.69v2.74h-4.69zM277.05 917.14h4.69v2.74h-4.69zM75.33 922.62h4.69v2.74h-4.69zM89.40 922.62h4.69v2.74h-4.69zM206.69 922.62h4.69v2.74h-4.69zM80.02 928.10h4.69v2.74h-4.69zM89.40 928.10h4.69v2.74h-4.69zM183.23 928.10h4.69v2.74h-4.69zM216.07 928.10h4.69v2.74h-4.69zM239.52 928.10h4.69v2.74h-4.69zM338.04 928.10h4.69v2.74h-4.69zM94.09 930.84h4.69v2.74h-4.69zM291.13 930.84h4.69v2.74h-4.69zM51.87 933.58h4.69v2.74h-4.69zM248.91 933.58h4.69v2.74h-4.69zM291.13 936.32h4.69v2.74h-4.69zM70.64 939.06h4.69v2.74h-4.69zM112.86 939.06h4.69v2.74h-4.69zM159.77 939.06h4.69v2.74h-4.69zM356.81 939.06h4.69v2.74h-4.69zM51.87 941.80h4.69v2.74h-4.69zM197.30 941.80h4.69v2.74h-4.69zM159.77 947.28h4.69v2.74h-4.69zM169.16 947.28h4.69v2.74h-4.69zM192.61 947.28h4.69v2.74h-4.69zM328.66 947.28h4.69v2.74h-4.69zM347.42 947.28h4.69v2.74h-4.69zM347.42 950.02h4.69v2.74h-4.69zM394.34 950.02h4.69v2.74h-4.69zM61.26 952.76h4.69v2.74h-4.69zM225.45 952.76h4.69v2.74h-4.69zM267.67 952.76h4.69v2.74h-4.69zM281.75 952.76h4.69v2.74h-4.69zM295.82 955.50h4.69v2.74h-4.69zM403.72 958.24h4.69v2.74h-4.69zM173.85 960.98h4.69v2.74h-4.69zM187.92 960.98h4.69v2.74h-4.69zM389.64 960.98h4.69v2.74h-4.69zM394.34 960.98h4.69v2.74h-4.69zM216.07 963.72h4.69v2.74h-4.69zM267.67 963.72h4.69v2.74h-4.69zM375.57 963.72h4.69v2.74h-4.69zM70.64 969.20h4.69v2.74h-4.69zM89.40 969.20h4.69v2.74h-4.69zM286.44 971.94h4.69v2.74h-4.69zM403.72 974.68h4.69v2.74h-4.69zM281.75 977.42h4.69v2.74h-4.69zM126.93 980.16h4.69v2.74h-4.69zM295.82 982.90h4.69v2.74h-4.69zM37.80 988.38h4.69v2.74h-4.69zM126.93 988.38h4.69v2.74h-4.69zM173.85 988.38h4.69v2.74h-4.69zM216.07 988.38h4.69v2.74h-4.69zM201.99 991.12h4.69v2.74h-4.69zM145.70 993.86h4.69v2.74h-4.69zM239.52 993.86h4.69v2.74h-4.69zM112.86 996.60h4.69v2.74h-4.69zM277.05 996.60h4.69v2.74h-4.69zM375.57 996.60h4.69v2.74h-4.69zM117.55 999.34h4.69v2.74h-4.69zM201.99 999.34h4.69v2.74h-4.69zM220.76 999.34h4.69v2.74h-4.69zM239.52 999.34h4.69v2.74h-4.69zM75.33 1002.08h4.69v2.74h-4.69zM150.39 1002.08h4.69v2.74h-4.69zM183.23 1002.08h4.69v2.74h-4.69zM248.91 1002.08h4.69v2.74h-4.69zM347.42 1002.08h4.69v2.74h-4.69zM370.88 1004.82h4.69v2.74h-4.69zM155.08 1007.56h4.69v2.74h-4.69zM239.52 1007.56h4.69v2.74h-4.69zM338.04 1007.56h4.69v2.74h-4.69zM361.50 1007.56h4.69v2.74h-4.69zM75.33 1010.30h4.69v2.74h-4.69zM145.70 1010.30h4.69v2.74h-4.69zM370.88 1010.30h4.69v2.74h-4.69zM375.57 1010.30h4.69v2.74h-4.69zM220.76 1013.04h4.69v2.74h-4.69zM272.36 1013.04h4.69v2.74h-4.69zM225.45 1015.78h4.69v2.74h-4.69zM159.77 1018.52h4.69v2.74h-4.69zM65.95 1021.26h4.69v2.74h-4.69zM314.58 1021.26h4.69v2.74h-4.69zM136.32 1024.00h4.69v2.74h-4.69zM272.36 1024.00h4.69v2.74h-4.69zM286.44 1024.00h4.69v2.74h-4.69zM333.35 1024.00h4.69v2.74h-4.69zM169.16 1026.74h4.69v2.74h-4.69zM206.69 1026.74h4.69v2.74h-4.69zM244.22 1026.74h4.69v2.74h-4.69zM295.82 1026.74h4.69v2.74h-4.69zM305.20 1026.74h4.69v2.74h-4.69zM197.30 1029.48h4.69v2.74h-4.69zM328.66 1029.48h4.69v2.74h-4.69zM103.48 1032.22h4.69v2.74h-4.69zM159.77 1032.22h4.69v2.74h-4.69zM192.61 1032.22h4.69v2.74h-4.69zM347.42 1032.22h4.69v2.74h-4.69zM244.22 1037.70h4.69v2.74h-4.69zM277.05 1037.70h4.69v2.74h-4.69zM380.26 1037.70h4.69v2.74h-4.69zM206.69 1040.44h4.69v2.74h-4.69zM230.14 1043.18h4.69v2.74h-4.69zM75.33 1045.92h4.69v2.74h-4.69zM262.98 1045.92h4.69v2.74h-4.69zM286.44 1045.92h4.69v2.74h-4.69zM295.82 1045.92h4.69v2.74h-4.69zM408.41 1045.92h4.69v2.74h-4.69zM89.40 1048.66h4.69v2.74h-4.69zM277.05 1048.66h4.69v2.74h-4.69zM370.88 1048.66h4.69v2.74h-4.69z"/>
<path fill="#f7fcce" d="M89.40 777.40h4.69v2.74h-4.69zM98.79 777.40h4.69v2.74h-4.69zM122.24 777.40h4.69v2.74h-4.69zM173.85 777.40h4.69v2.74h-4.69zM319.28 777.40h4.69v2.74h-4.69zM375.57 777.40h4.69v2.74h-4.69zM122.24 780.14h4.69v2.74h-4.69zM145.70 780.14h4.69v2.74h-4.69zM192.61 780.14h4.69v2.74h-4.69zM262.98 780.14h4.69v2.74h-4.69zM352.11 780.14h4.69v2.74h-4.69zM108.17 782.88h4.69v2.74h-4.69zM117.55 782.88h4.69v2.74h-4.69zM131.62 782.88h4.69v2.74h-4.69zM201.99 782.88h4.69v2.74h-4.69zM155.08 785.62h4.69v2.74h-4.69zM206.69 785.62h4.69v2.74h-4.69zM211.38 785.62h4.69v2.74h-4.69zM230.14 785.62h4.69v2.74h-4.69zM262.98 785.62h4.69v2.74h-4.69zM314.58 785.62h4.69v2.74h-4.69zM347.42 785.62h4.69v2.74h-4.69zM42.49 788.36h4.69v2.74h-4.69zM70.64 788.36h4.69v2.74h-4.69zM108.17 788.36h4.69v2.74h-4.69zM141.01 788.36h4.69v2.74h-4.69zM234.83 788.36h4.69v2.74h-4.69zM262.98 788.36h4.69v2.74h-4.69zM61.26 791.10h4.69v2.74h-4.69zM75.33 791.10h4.69v2.74h-4.69zM89.40 791.10h4.69v2.74h-4.69zM103.48 791.10h4.69v2.74h-4.69zM122.24 791.10h4.69v2.74h-4.69zM131.62 791.10h4.69v2.74h-4.69zM141.01 791.10h4.69v2.74h-4.69zM155.08 791.10h4.69v2.74h-4.69zM159.77 791.10h4.69v2.74h-4.69zM244.22 791.10h4.69v2.74h-4.69zM262.98 791.10h4.69v2.74h-4.69zM277.05 791.10h4.69v2.74h-4.69zM300.51 791.10h4.69v2.74h-4.69zM338.04 791.10h4.69v2.74h-4.69zM56.56 793.84h4.69v2.74h-4.69zM187.92 793.84h4.69v2.74h-4.69zM384.95 793.84h4.69v2.74h-4.69zM51.87 796.58h4.69v2.74h-4.69zM94.09 796.58h4.69v2.74h-4.69zM272.36 796.58h4.69v2.74h-4.69zM356.81 796.58h4.69v2.74h-4.69zM399.03 796.58h4.69v2.74h-4.69zM42.49 799.32h4.69v2.74h-4.69zM84.71 799.32h4.69v2.74h-4.69zM248.91 799.32h4.69v2.74h-4.69zM267.67 799.32h4.69v2.74h-4.69zM305.20 799.32h4.69v2.74h-4.69zM61.26 802.06h4.69v2.74h-4.69zM112.86 802.06h4.69v2.74h-4.69zM117.55 802.06h4.69v2.74h-4.69zM239.52 802.06h4.69v2.74h-4.69zM380.26 802.06h4.69v2.74h-4.69zM403.72 802.06h4.69v2.74h-4.69zM51.87 804.80h4.69v2.74h-4.69zM112.86 804.80h4.69v2.74h-4.69zM169.16 804.80h4.69v2.74h-4.69zM187.92 804.80h4.69v2.74h-4.69zM230.14 804.80h4.69v2.74h-4.69zM272.36 804.80h4.69v2.74h-4.69zM281.75 804.80h4.69v2.74h-4.69zM370.88 804.80h4.69v2.74h-4.69zM42.49 807.54h4.69v2.74h-4.69zM145.70 807.54h4.69v2.74h-4.69zM155.08 807.54h4.69v2.74h-4.69zM169.16 807.54h4.69v2.74h-4.69zM234.83 807.54h4.69v2.74h-4.69zM258.29 807.54h4.69v2.74h-4.69zM384.95 807.54h4.69v2.74h-4.69zM399.03 807.54h4.69v2.74h-4.69zM61.26 810.28h4.69v2.74h-4.69zM84.71 810.28h4.69v2.74h-4.69zM187.92 810.28h4.69v2.74h-4.69zM201.99 810.28h4.69v2.74h-4.69zM206.69 810.28h4.69v2.74h-4.69zM211.38 810.28h4.69v2.74h-4.69zM225.45 810.28h4.69v2.74h-4.69zM305.20 810.28h4.69v2.74h-4.69zM384.95 810.28h4.69v2.74h-4.69zM399.03 810.28h4.69v2.74h-4.69zM47.18 813.02h4.69v2.74h-4.69zM51.87 813.02h4.69v2.74h-4.69zM56.56 813.02h4.69v2.74h-4.69zM89.40 813.02h4.69v2.74h-4.69zM117.55 813.02h4.69v2.74h-4.69zM126.93 813.02h4.69v2.74h-4.69zM277.05 813.02h4.69v2.74h-4.69zM281.75 813.02h4.69v2.74h-4.69zM286.44 813.02h4.69v2.74h-4.69zM323.97 813.02h4.69v2.74h-4.69zM342.73 813.02h4.69v2.74h-4.69zM361.50 813.02h4.69v2.74h-4.69zM399.03 813.02h4.69v2.74h-4.69zM70.64 815.76h4.69v2.74h-4.69zM197.30 815.76h4.69v2.74h-4.69zM201.99 815.76h4.69v2.74h-4.69zM234.83 815.76h4.69v2.74h-4.69zM262.98 815.76h4.69v2.74h-4.69zM333.35 815.76h4.69v2.74h-4.69zM347.42 815.76h4.69v2.74h-4.69zM366.19 815.76h4.69v2.74h-4.69zM375.57 815.76h4.69v2.74h-4.69zM399.03 815.76h4.69v2.74h-4.69zM408.41 815.76h4.69v2.74h-4.69zM47.18 818.50h4.69v2.74h-4.69zM65.95 818.50h4.69v2.74h-4.69zM98.79 818.50h4.69v2.74h-4.69zM108.17 818.50h4.69v2.74h-4.69zM211.38 818.50h4.69v2.74h-4.69zM225.45 818.50h4.69v2.74h-4.69zM375.57 818.50h4.69v2.74h-4.69zM403.72 818.50h4.69v2.74h-4.69zM42.49 821.24h4.69v2.74h-4.69zM56.56 821.24h4.69v2.74h-4.69zM89.40 821.24h4.69v2.74h-4.69zM94.09 821.24h4.69v2.74h-4.69zM108.17 821.24h4.69v2.74h-4.69zM159.77 821.24h4.69v2.74h-4.69zM211.38 821.24h4.69v2.74h-4.69zM225.45 821.24h4.69v2.74h-4.69zM230.14 821.24h4.69v2.74h-4.69zM277.05 821.24h4.69v2.74h-4.69zM314.58 821.24h4.69v2.74h-4.69zM37.80 823.98h4.69v2.74h-4.69zM80.02 823.98h4.69v2.74h-4.69zM145.70 823.98h4.69v2.74h-4.69zM164.46 823.98h4.69v2.74h-4.69zM220.76 823.98h4.69v2.74h-4.69zM389.64 823.98h4.69v2.74h-4.69zM80.02 826.72h4.69v2.74h-4.69zM370.88 826.72h4.69v2.74h-4.69zM389.64 826.72h4.69v2.74h-4.69zM47.18 829.46h4.69v2.74h-4.69zM122.24 829.46h4.69v2.74h-4.69zM155.08 829.46h4.69v2.74h-4.69zM187.92 829.46h4.69v2.74h-4.69zM192.61 829.46h4.69v2.74h-4.69zM234.83 829.46h4.69v2.74h-4.69zM239.52 829.46h4.69v2.74h-4.69zM281.75 829.46h4.69v2.74h-4.69zM370.88 829.46h4.69v2.74h-4.69zM37.80 832.20h4.69v2.74h-4.69zM131.62 832.20h4.69v2.74h-4.69zM192.61 832.20h4.69v2.74h-4.69zM239.52 832.20h4.69v2.74h-4.69zM380.26 832.20h4.69v2.74h-4.69zM42.49 834.94h4.69v2.74h-4.69zM47.18 834.94h4.69v2.74h-4.69zM108.17 834.94h4.69v2.74h-4.69zM155.08 834.94h4.69v2.74h-4.69zM220.76 834.94h4.69v2.74h-4.69zM225.45 834.94h4.69v2.74h-4.69zM258.29 834.94h4.69v2.74h-4.69zM277.05 834.94h4.69v2.74h-4.69zM342.73 834.94h4.69v2.74h-4.69zM347.42 834.94h4.69v2.74h-4.69zM394.34 834.94h4.69v2.74h-4.69zM47.18 837.68h4.69v2.74h-4.69zM108.17 837.68h4.69v2.74h-4.69zM126.93 837.68h4.69v2.74h-4.69zM206.69 837.68h4.69v2.74h-4.69zM211.38 837.68h4.69v2.74h-4.69zM323.97 837.68h4.69v2.74h-4.69zM328.66 837.68h4.69v2.74h-4.69zM347.42 837.68h4.69v2.74h-4.69zM366.19 837.68h4.69v2.74h-4.69zM51.87 840.42h4.69v2.74h-4.69zM65.95 840.42h4.69v2.74h-4.69zM89.40 840.42h4.69v2.74h-4.69zM173.85 840.42h4.69v2.74h-4.69zM192.61 840.42h4.69v2.74h-4.69zM201.99 840.42h4.69v2.74h-4.69zM206.69 840.42h4.69v2.74h-4.69zM239.52 840.42h4.69v2.74h-4.69zM309.89 840.42h4.69v2.74h-4.69zM338.04 840.42h4.69v2.74h-4.69zM342.73 840.42h4.69v2.74h-4.69zM108.17 843.16h4.69v2.74h-4.69zM112.86 843.16h4.69v2.74h-4.69zM239.52 843.16h4.69v2.74h-4.69zM258.29 843.16h4.69v2.74h-4.69zM352.11 843.16h4.69v2.74h-4.69zM384.95 843.16h4.69v2.74h-4.69zM94.09 845.90h4.69v2.74h-4.69zM103.48 845.90h4.69v2.74h-4.69zM164.46 845.90h4.69v2.74h-4.69zM178.54 845.90h4.69v2.74h-4.69zM183.23 845.90h4.69v2.74h-4.69zM206.69 845.90h4.69v2.74h-4.69zM305.20 845.90h4.69v2.74h-4.69zM333.35 845.90h4.69v2.74h-4.69zM370.88 845.90h4.69v2.74h-4.69zM51.87 848.64h4.69v2.74h-4.69zM84.71 848.64h4.69v2.74h-4.69zM155.08 848.64h4.69v2.74h-4.69zM178.54 848.64h4.69v2.74h-4.69zM197.30 848.64h4.69v2.74h-4.69zM277.05 848.64h4.69v2.74h-4.69zM286.44 848.64h4.69v2.74h-4.69zM314.58 848.64h4.69v2.74h-4.69zM328.66 848.64h4.69v2.74h-4.69zM47.18 851.38h4.69v2.74h-4.69zM75.33 851.38h4.69v2.74h-4.69zM187.92 851.38h4.69v2.74h-4.69zM234.83 851.38h4.69v2.74h-4.69zM300.51 851.38h4.69v2.74h-4.69zM51.87 854.12h4.69v2.74h-4.69zM141.01 854.12h4.69v2.74h-4.69zM197.30 854.12h4.69v2.74h-4.69zM206.69 854.12h4.69v2.74h-4.69zM220.76 854.12h4.69v2.74h-4.69zM314.58 854.12h4.69v2.74h-4.69zM47.18 856.86h4.69v2.74h-4.69zM103.48 856.86h4.69v2.74h-4.69zM220.76 856.86h4.69v2.74h-4.69zM234.83 856.86h4.69v2.74h-4.69zM262.98 856.86h4.69v2.74h-4.69zM300.51 856.86h4.69v2.74h-4.69zM328.66 856.86h4.69v2.74h-4.69zM366.19 856.86h4.69v2.74h-4.69zM89.40 859.60h4.69v2.74h-4.69zM98.79 859.60h4.69v2.74h-4.69zM145.70 859.60h4.69v2.74h-4.69zM389.64 859.60h4.69v2.74h-4.69zM51.87 862.34h4.69v2.74h-4.69zM84.71 862.34h4.69v2.74h-4.69zM178.54 862.34h4.69v2.74h-4.69zM206.69 862.34h4.69v2.74h-4.69zM267.67 862.34h4.69v2.74h-4.69zM286.44 862.34h4.69v2.74h-4.69zM389.64 862.34h4.69v2.74h-4.69zM65.95 865.08h4.69v2.74h-4.69zM159.77 865.08h4.69v2.74h-4.69zM206.69 865.08h4.69v2.74h-4.69zM220.76 865.08h4.69v2.74h-4.69zM230.14 865.08h4.69v2.74h-4.69zM239.52 865.08h4.69v2.74h-4.69zM338.04 865.08h4.69v2.74h-4.69zM384.95 865.08h4.69v2.74h-4.69zM37.80 867.82h4.69v2.74h-4.69zM51.87 867.82h4.69v2.74h-4.69zM112.86 867.82h4.69v2.74h-4.69zM141.01 867.82h4.69v2.74h-4.69zM155.08 867.82h4.69v2.74h-4.69zM187.92 867.82h4.69v2.74h-4.69zM197.30 867.82h4.69v2.74h-4.69zM216.07 867.82h4.69v2.74h-4.69zM286.44 867.82h4.69v2.74h-4.69zM305.20 867.82h4.69v2.74h-4.69zM352.11 867.82h4.69v2.74h-4.69zM47.18 870.56h4.69v2.74h-4.69zM70.64 870.56h4.69v2.74h-4.69zM126.93 870.56h4.69v2.74h-4.69zM141.01 870.56h4.69v2.74h-4.69zM155.08 870.56h4.69v2.74h-4.69zM187.92 870.56h4.69v2.74h-4.69zM201.99 870.56h4.69v2.74h-4.69zM230.14 870.56h4.69v2.74h-4.69zM319.28 870.56h4.69v2.74h-4.69zM394.34 870.56h4.69v2.74h-4.69zM94.09 873.30h4.69v2.74h-4.69zM122.24 873.30h4.69v2.74h-4.69zM141.01 873.30h4.69v2.74h-4.69zM234.83 873.30h4.69v2.74h-4.69zM253.60 873.30h4.69v2.74h-4.69zM389.64 873.30h4.69v2.74h-4.69zM56.56 876.04h4.69v2.74h-4.69zM84.71 876.04h4.69v2.74h-4.69zM94.09 876.04h4.69v2.74h-4.69zM136.32 876.04h4.69v2.74h-4.69zM187.92 876.04h4.69v2.74h-4.69zM230.14 876.04h4.69v2.74h-4.69zM272.36 876.04h4.69v2.74h-4.69zM403.72 876.04h4.69v2.74h-4.69zM84.71 878.78h4.69v2.74h-4.69zM126.93 878.78h4.69v2.74h-4.69zM145.70 878.78h4.69v2.74h-4.69zM169.16 878.78h4.69v2.74h-4.69zM183.23 878.78h4.69v2.74h-4.69zM244.22 878.78h4.69v2.74h-4.69zM267.67 878.78h4.69v2.74h-4.69zM281.75 878.78h4.69v2.74h-4.69zM305.20 878.78h4.69v2.74h-4.69zM319.28 878.78h4.69v2.74h-4.69zM347.42 878.78h4.69v2.74h-4.69zM375.57 878.78h4.69v2.74h-4.69zM42.49 881.52h4.69v2.74h-4.69zM56.56 881.52h4.69v2.74h-4.69zM98.79 881.52h4.69v2.74h-4.69zM164.46 881.52h4.69v2.74h-4.69zM230.14 881.52h4.69v2.74h-4.69zM314.58 881.52h4.69v2.74h-4.69zM323.97 881.52h4.69v2.74h-4.69zM155.08 884.26h4.69v2.74h-4.69zM169.16 884.26h4.69v2.74h-4.69zM220.76 884.26h4.69v2.74h-4.69zM248.91 884.26h4.69v2.74h-4.69zM342.73 884.26h4.69v2.74h-4.69zM389.64 884.26h4.69v2.74h-4.69zM394.34 884.26h4.69v2.74h-4.69zM61.26 887.00h4.69v2.74h-4.69zM183.23 887.00h4.69v2.74h-4.69zM56.56 889.74h4.69v2.74h-4.69zM70.64 889.74h4.69v2.74h-4.69zM126.93 889.74h4.69v2.74h-4.69zM155.08 889.74h4.69v2.74h-4.69zM169.16 889.74h4.69v2.74h-4.69zM178.54 889.74h4.69v2.74h-4.69zM225.45 889.74h4.69v2.74h-4.69zM366.19 889.74h4.69v2.74h-4.69zM370.88 889.74h4.69v2.74h-4.69zM37.80 892.48h4.69v2.74h-4.69zM42.49 892.48h4.69v2.74h-4.69zM70.64 892.48h4.69v2.74h-4.69zM84.71 892.48h4.69v2.74h-4.69zM108.17 892.48h4.69v2.74h-4.69zM220.76 892.48h4.69v2.74h-4.69zM230.14 892.48h4.69v2.74h-4.69zM295.82 892.48h4.69v2.74h-4.69zM131.62 895.22h4.69v2.74h-4.69zM248.91 895.22h4.69v2.74h-4.69zM272.36 895.22h4.69v2.74h-4.69zM295.82 895.22h4.69v2.74h-4.69zM356.81 895.22h4.69v2.74h-4.69zM37.80 897.96h4.69v2.74h-4.69zM70.64 897.96h4.69v2.74h-4.69zM108.17 897.96h4.69v2.74h-4.69zM145.70 897.96h4.69v2.74h-4.69zM178.54 897.96h4.69v2.74h-4.69zM211.38 897.96h4.69v2.74h-4.69zM258.29 897.96h4.69v2.74h-4.69zM262.98 897.96h4.69v2.74h-4.69zM277.05 897.96h4.69v2.74h-4.69zM65.95 900.70h4.69v2.74h-4.69zM70.64 900.70h4.69v2.74h-4.69zM108.17 900.70h4.69v2.74h-4.69zM126.93 900.70h4.69v2.74h-4.69zM201.99 900.70h4.69v2.74h-4.69zM225.45 900.70h4.69v2.74h-4.69zM239.52 900.70h4.69v2.74h-4.69zM262.98 900.70h4.69v2.74h-4.69zM305.20 900.70h4.69v2.74h-4.69zM70.64 903.44h4.69v2.74h-4.69zM314.58 903.44h4.69v2.74h-4.69zM47.18 906.18h4.69v2.74h-4.69zM103.48 906.18h4.69v2.74h-4.69zM145.70 906.18h4.69v2.74h-4.69zM169.16 906.18h4.69v2.74h-4.69zM267.67 906.18h4.69v2.74h-4.69zM370.88 906.18h4.69v2.74h-4.69zM108.17 908.92h4.69v2.74h-4.69zM131.62 908.92h4.69v2.74h-4.69zM173.85 908.92h4.69v2.74h-4.69zM216.07 908.92h4.69v2.74h-4.69zM281.75 908.92h4.69v2.74h-4.69zM333.35 908.92h4.69v2.74h-4.69zM408.41 908.92h4.69v2.74h-4.69zM61.26 911.66h4.69v2.74h-4.69zM80.02 911.66h4.69v2.74h-4.69zM89.40 911.66h4.69v2.74h-4.69zM155.08 911.66h4.69v2.74h-4.69zM239.52 911.66h4.69v2.74h-4.69zM244.22 911.66h4.69v2.74h-4.69zM342.73 911.66h4.69v2.74h-4.69zM42.49 914.40h4.69v2.74h-4.69zM47.18 914.40h4.69v2.74h-4.69zM51.87 914.40h4.69v2.74h-4.69zM141.01 914.40h4.69v2.74h-4.69zM164.46 914.40h4.69v2.74h-4.69zM267.67 914.40h4.69v2.74h-4.69zM272.36 914.40h4.69v2.74h-4.69zM281.75 914.40h4.69v2.74h-4.69zM291.13 914.40h4.69v2.74h-4.69zM37.80 917.14h4.69v2.74h-4.69zM75.33 917.14h4.69v2.74h-4.69zM216.07 917.14h4.69v2.74h-4.69zM225.45 917.14h4.69v2.74h-4.69zM248.91 917.14h4.69v2.74h-4.69zM267.67 917.14h4.69v2.74h-4.69zM370.88 917.14h4.69v2.74h-4.69zM51.87 919.88h4.69v2.74h-4.69zM89.40 919.88h4.69v2.74h-4.69zM136.32 919.88h4.69v2.74h-4.69zM145.70 919.88h4.69v2.74h-4.69zM173.85 919.88h4.69v2.74h-4.69zM183.23 919.88h4.69v2.74h-4.69zM220.76 919.88h4.69v2.74h-4.69zM230.14 919.88h4.69v2.74h-4.69zM244.22 919.88h4.69v2.74h-4.69zM253.60 919.88h4.69v2.74h-4.69zM262.98 919.88h4.69v2.74h-4.69zM277.05 919.88h4.69v2.74h-4.69zM309.89 919.88h4.69v2.74h-4.69zM333.35 919.88h4.69v2.74h-4.69zM342.73 919.88h4.69v2.74h-4.69zM370.88 919.88h4.69v2.74h-4.69zM61.26 922.62h4.69v2.74h-4.69zM126.93 922.62h4.69v2.74h-4.69zM169.16 922.62h4.69v2.74h-4.69zM347.42 922.62h4.69v2.74h-4.69zM37.80 925.36h4.69v2.74h-4.69zM61.26 925.36h4.69v2.74h-4.69zM94.09 925.36h4.69v2.74h-4.69zM122.24 925.36h4.69v2.74h-4.69zM141.01 925.36h4.69v2.74h-4.69zM183.23 925.36h4.69v2.74h-4.69zM206.69 925.36h4.69v2.74h-4.69zM262.98 925.36h4.69v2.74h-4.69zM342.73 925.36h4.69v2.74h-4.69zM70.64 928.10h4.69v2.74h-4.69zM94.09 928.10h4.69v2.74h-4.69zM108.17 928.10h4.69v2.74h-4.69zM122.24 928.10h4.69v2.74h-4.69zM342.73 928.10h4.69v2.74h-4.69zM366.19 928.10h4.69v2.74h-4.69zM47.18 930.84h4.69v2.74h-4.69zM103.48 930.84h4.69v2.74h-4.69zM187.92 930.84h4.69v2.74h-4.69zM197.30 930.84h4.69v2.74h-4.69zM258.29 930.84h4.69v2.74h-4.69zM333.35 930.84h4.69v2.74h-4.69zM47.18 933.58h4.69v2.74h-4.69zM61.26 933.58h4.69v2.74h-4.69zM65.95 933.58h4.69v2.74h-4.69zM122.24 933.58h4.69v2.74h-4.69zM150.39 933.58h4.69v2.74h-4.69zM220.76 933.58h4.69v2.74h-4.69zM277.05 933.58h4.69v2.74h-4.69zM380.26 933.58h4.69v2.74h-4.69zM42.49 936.32h4.69v2.74h-4.69zM47.18 936.32h4.69v2.74h-4.69zM56.56 936.32h4.69v2.74h-4.69zM65.95 936.32h4.69v2.74h-4.69zM80.02 936.32h4.69v2.74h-4.69zM103.48 936.32h4.69v2.74h-4.69zM108.17 936.32h4.69v2.74h-4.69zM131.62 936.32h4.69v2.74h-4.69zM206.69 936.32h4.69v2.74h-4.69zM300.51 936.32h4.69v2.74h-4.69zM333.35 936.32h4.69v2.74h-4.69zM75.33 939.06h4.69v2.74h-4.69zM94.09 939.06h4.69v2.74h-4.69zM103.48 939.06h4.69v2.74h-4.69zM136.32 939.06h4.69v2.74h-4.69zM145.70 939.06h4.69v2.74h-4.69zM244.22 939.06h4.69v2.74h-4.69zM291.13 939.06h4.69v2.74h-4.69zM319.28 939.06h4.69v2.74h-4.69zM342.73 939.06h4.69v2.74h-4.69zM370.88 939.06h4.69v2.74h-4.69zM384.95 939.06h4.69v2.74h-4.69zM56.56 941.80h4.69v2.74h-4.69zM75.33 941.80h4.69v2.74h-4.69zM103.48 941.80h4.69v2.74h-4.69zM108.17 941.80h4.69v2.74h-4.69zM122.24 941.80h4.69v2.74h-4.69zM239.52 941.80h4.69v2.74h-4.69zM323.97 941.80h4.69v2.74h-4.69zM347.42 941.80h4.69v2.74h-4.69zM403.72 941.80h4.69v2.74h-4.69zM61.26 944.54h4.69v2.74h-4.69zM117.55 944.54h4.69v2.74h-4.69zM145.70 944.54h4.69v2.74h-4.69zM155.08 944.54h4.69v2.74h-4.69zM197.30 944.54h4.69v2.74h-4.69zM234.83 944.54h4.69v2.74h-4.69zM262.98 944.54h4.69v2.74h-4.69zM281.75 944.54h4.69v2.74h-4.69zM352.11 944.54h4.69v2.74h-4.69zM389.64 944.54h4.69v2.74h-4.69zM150.39 947.28h4.69v2.74h-4.69zM234.83 947.28h4.69v2.74h-4.69zM305.20 947.28h4.69v2.74h-4.69zM366.19 947.28h4.69v2.74h-4.69zM399.03 947.28h4.69v2.74h-4.69zM84.71 950.02h4.69v2.74h-4.69zM159.77 950.02h4.69v2.74h-4.69zM192.61 950.02h4.69v2.74h-4.69zM201.99 950.02h4.69v2.74h-4.69zM211.38 950.02h4.69v2.74h-4.69zM216.07 950.02h4.69v2.74h-4.69zM220.76 950.02h4.69v2.74h-4.69zM225.45 950.02h4.69v2.74h-4.69zM277.05 950.02h4.69v2.74h-4.69zM314.58 950.02h4.69v2.74h-4.69zM328.66 950.02h4.69v2.74h-4.69zM370.88 950.02h4.69v2.74h-4.69zM65.95 952.76h4.69v2.74h-4.69zM89.40 952.76h4.69v2.74h-4.69zM131.62 952.76h4.69v2.74h-4.69zM155.08 952.76h4.69v2.74h-4.69zM173.85 952.76h4.69v2.74h-4.69zM178.54 952.76h4.69v2.74h-4.69zM216.07 952.76h4.69v2.74h-4.69zM248.91 952.76h4.69v2.74h-4.69zM295.82 952.76h4.69v2.74h-4.69zM300.51 952.76h4.69v2.74h-4.69zM314.58 952.76h4.69v2.74h-4.69zM380.26 952.76h4.69v2.74h-4.69zM389.64 952.76h4.69v2.74h-4.69zM56.56 955.50h4.69v2.74h-4.69zM70.64 955.50h4.69v2.74h-4.69zM173.85 955.50h4.69v2.74h-4.69zM192.61 955.50h4.69v2.74h-4.69zM206.69 955.50h4.69v2.74h-4.69zM216.07 955.50h4.69v2.74h-4.69zM272.36 955.50h4.69v2.74h-4.69zM42.49 958.24h4.69v2.74h-4.69zM80.02 958.24h4.69v2.74h-4.69zM230.14 958.24h4.69v2.74h-4.69zM239.52 958.24h4.69v2.74h-4.69zM272.36 958.24h4.69v2.74h-4.69zM295.82 958.24h4.69v2.74h-4.69zM309.89 958.24h4.69v2.74h-4.69zM399.03 958.24h4.69v2.74h-4.69zM42.49 960.98h4.69v2.74h-4.69zM51.87 960.98h4.69v2.74h-4.69zM56.56 960.98h4.69v2.74h-4.69zM75.33 960.98h4.69v2.74h-4.69zM286.44 960.98h4.69v2.74h-4.69zM408.41 960.98h4.69v2.74h-4.69zM94.09 963.72h4.69v2.74h-4.69zM187.92 963.72h4.69v2.74h-4.69zM211.38 963.72h4.69v2.74h-4.69zM37.80 966.46h4.69v2.74h-4.69zM80.02 966.46h4.69v2.74h-4.69zM89.40 966.46h4.69v2.74h-4.69zM225.45 966.46h4.69v2.74h-4.69zM333.35 966.46h4.69v2.74h-4.69zM61.26 969.20h4.69v2.74h-4.69zM131.62 969.20h4.69v2.74h-4.69zM169.16 969.20h4.69v2.74h-4.69zM197.30 969.20h4.69v2.74h-4.69zM206.69 969.20h4.69v2.74h-4.69zM225.45 969.20h4.69v2.74h-4.69zM84.71 971.94h4.69v2.74h-4.69zM103.48 971.94h4.69v2.74h-4.69zM131.62 971.94h4.69v2.74h-4.69zM145.70 971.94h4.69v2.74h-4.69zM314.58 971.94h4.69v2.74h-4.69zM403.72 971.94h4.69v2.74h-4.69zM75.33 974.68h4.69v2.74h-4.69zM84.71 974.68h4.69v2.74h-4.69zM295.82 974.68h4.69v2.74h-4.69zM319.28 974.68h4.69v2.74h-4.69zM122.24 977.42h4.69v2.74h-4.69zM159.77 977.42h4.69v2.74h-4.69zM164.46 977.42h4.69v2.74h-4.69zM178.54 977.42h4.69v2.74h-4.69zM197.30 977.42h4.69v2.74h-4.69zM230.14 977.42h4.69v2.74h-4.69zM352.11 977.42h4.69v2.74h-4.69zM370.88 977.42h4.69v2.74h-4.69zM384.95 977.42h4.69v2.74h-4.69zM403.72 977.42h4.69v2.74h-4.69zM80.02 980.16h4.69v2.74h-4.69zM84.71 980.16h4.69v2.74h-4.69zM155.08 980.16h4.69v2.74h-4.69zM178.54 980.16h4.69v2.74h-4.69zM206.69 980.16h4.69v2.74h-4.69zM216.07 980.16h4.69v2.74h-4.69zM366.19 980.16h4.69v2.74h-4.69zM70.64 982.90h4.69v2.74h-4.69zM253.60 982.90h4.69v2.74h-4.69zM277.05 982.90h4.69v2.74h-4.69zM384.95 982.90h4.69v2.74h-4.69zM89.40 985.64h4.69v2.74h-4.69zM136.32 985.64h4.69v2.74h-4.69zM150.39 985.64h4.69v2.74h-4.69zM169.16 985.64h4.69v2.74h-4.69zM220.76 985.64h4.69v2.74h-4.69zM286.44 985.64h4.69v2.74h-4.69zM347.42 985.64h4.69v2.74h-4.69zM356.81 985.64h4.69v2.74h-4.69zM403.72 985.64h4.69v2.74h-4.69zM56.56 988.38h4.69v2.74h-4.69zM80.02 988.38h4.69v2.74h-4.69zM47.18 991.12h4.69v2.74h-4.69zM80.02 991.12h4.69v2.74h-4.69zM84.71 991.12h4.69v2.74h-4.69zM94.09 991.12h4.69v2.74h-4.69zM225.45 991.12h4.69v2.74h-4.69zM262.98 991.12h4.69v2.74h-4.69zM70.64 993.86h4.69v2.74h-4.69zM173.85 993.86h4.69v2.74h-4.69zM309.89 993.86h4.69v2.74h-4.69zM61.26 996.60h4.69v2.74h-4.69zM84.71 996.60h4.69v2.74h-4.69zM145.70 996.60h4.69v2.74h-4.69zM164.46 996.60h4.69v2.74h-4.69zM178.54 996.60h4.69v2.74h-4.69zM380.26 996.60h4.69v2.74h-4.69zM51.87 999.34h4.69v2.74h-4.69zM56.56 999.34h4.69v2.74h-4.69zM70.64 999.34h4.69v2.74h-4.69zM80.02 999.34h4.69v2.74h-4.69zM98.79 999.34h4.69v2.74h-4.69zM108.17 999.34h4.69v2.74h-4.69zM126.93 999.34h4.69v2.74h-4.69zM131.62 999.34h4.69v2.74h-4.69zM141.01 999.34h4.69v2.74h-4.69zM169.16 999.34h4.69v2.74h-4.69zM338.04 999.34h4.69v2.74h-4.69zM47.18 1002.08h4.69v2.74h-4.69zM141.01 1002.08h4.69v2.74h-4.69zM197.30 1002.08h4.69v2.74h-4.69zM225.45 1002.08h4.69v2.74h-4.69zM262.98 1002.08h4.69v2.74h-4.69zM272.36 1002.08h4.69v2.74h-4.69zM277.05 1002.08h4.69v2.74h-4.69zM286.44 1002.08h4.69v2.74h-4.69zM51.87 1004.82h4.69v2.74h-4.69zM122.24 1004.82h4.69v2.74h-4.69zM183.23 1004.82h4.69v2.74h-4.69zM220.76 1004.82h4.69v2.74h-4.69zM248.91 1004.82h4.69v2.74h-4.69zM267.67 1004.82h4.69v2.74h-4.69zM94.09 1007.56h4.69v2.74h-4.69zM103.48 1007.56h4.69v2.74h-4.69zM145.70 1007.56h4.69v2.74h-4.69zM183.23 1007.56h4.69v2.74h-4.69zM187.92 1007.56h4.69v2.74h-4.69zM197.30 1007.56h4.69v2.74h-4.69zM253.60 1007.56h4.69v2.74h-4.69zM295.82 1007.56h4.69v2.74h-4.69zM328.66 1007.56h4.69v2.74h-4.69zM389.64 1007.56h4.69v2.74h-4.69zM47.18 1010.30h4.69v2.74h-4.69zM61.26 1010.30h4.69v2.74h-4.69zM103.48 1010.30h4.69v2.74h-4.69zM159.77 1010.30h4.69v2.74h-4.69zM187.92 1010.30h4.69v2.74h-4.69zM305.20 1010.30h4.69v2.74h-4.69zM309.89 1010.30h4.69v2.74h-4.69zM323.97 1010.30h4.69v2.74h-4.69zM51.87 1013.04h4.69v2.74h-4.69zM173.85 1013.04h4.69v2.74h-4.69zM183.23 1013.04h4.69v2.74h-4.69zM187.92 1013.04h4.69v2.74h-4.69zM216.07 1013.04h4.69v2.74h-4.69zM394.34 1013.04h4.69v2.74h-4.69zM42.49 1015.78h4.69v2.74h-4.69zM47.18 1015.78h4.69v2.74h-4.69zM126.93 1015.78h4.69v2.74h-4.69zM136.32 1015.78h4.69v2.74h-4.69zM173.85 1015.78h4.69v2.74h-4.69zM192.61 1015.78h4.69v2.74h-4.69zM197.30 1015.78h4.69v2.74h-4.69zM211.38 1015.78h4.69v2.74h-4.69zM112.86 1018.52h4.69v2.74h-4.69zM136.32 1018.52h4.69v2.74h-4.69zM187.92 1018.52h4.69v2.74h-4.69zM197.30 1018.52h4.69v2.74h-4.69zM206.69 1018.52h4.69v2.74h-4.69zM286.44 1018.52h4.69v2.74h-4.69zM323.97 1018.52h4.69v2.74h-4.69zM394.34 1018.52h4.69v2.74h-4.69zM42.49 1021.26h4.69v2.74h-4.69zM61.26 1021.26h4.69v2.74h-4.69zM131.62 1021.26h4.69v2.74h-4.69zM192.61 1021.26h4.69v2.74h-4.69zM225.45 1021.26h4.69v2.74h-4.69zM234.83 1021.26h4.69v2.74h-4.69zM239.52 1021.26h4.69v2.74h-4.69zM333.35 1021.26h4.69v2.74h-4.69zM37.80 1024.00h4.69v2.74h-4.69zM89.40 1024.00h4.69v2.74h-4.69zM117.55 1024.00h4.69v2.74h-4.69zM131.62 1024.00h4.69v2.74h-4.69zM169.16 1024.00h4.69v2.74h-4.69zM201.99 1024.00h4.69v2.74h-4.69zM230.14 1024.00h4.69v2.74h-4.69zM277.05 1024.00h4.69v2.74h-4.69zM328.66 1024.00h4.69v2.74h-4.69zM338.04 1024.00h4.69v2.74h-4.69zM399.03 1024.00h4.69v2.74h-4.69zM56.56 1026.74h4.69v2.74h-4.69zM112.86 1026.74h4.69v2.74h-4.69zM131.62 1026.74h4.69v2.74h-4.69zM173.85 1026.74h4.69v2.74h-4.69zM258.29 1026.74h4.69v2.74h-4.69zM328.66 1026.74h4.69v2.74h-4.69zM375.57 1026.74h4.69v2.74h-4.69zM37.80 1029.48h4.69v2.74h-4.69zM112.86 1029.48h4.69v2.74h-4.69zM126.93 1029.48h4.69v2.74h-4.69zM323.97 1029.48h4.69v2.74h-4.69zM338.04 1029.48h4.69v2.74h-4.69zM384.95 1029.48h4.69v2.74h-4.69zM141.01 1032.22h4.69v2.74h-4.69zM169.16 1032.22h4.69v2.74h-4.69zM267.67 1032.22h4.69v2.74h-4.69zM370.88 1032.22h4.69v2.74h-4.69zM380.26 1032.22h4.69v2.74h-4.69zM61.26 1034.96h4.69v2.74h-4.69zM65.95 1034.96h4.69v2.74h-4.69zM70.64 1034.96h4.69v2.74h-4.69zM272.36 1034.96h4.69v2.74h-4.69zM277.05 1034.96h4.69v2.74h-4.69zM300.51 1034.96h4.69v2.74h-4.69zM394.34 1034.96h4.69v2.74h-4.69zM89.40 1037.70h4.69v2.74h-4.69zM94.09 1037.70h4.69v2.74h-4.69zM183.23 1037.70h4.69v2.74h-4.69zM197.30 1037.70h4.69v2.74h-4.69zM211.38 1037.70h4.69v2.74h-4.69zM230.14 1037.70h4.69v2.74h-4.69zM234.83 1037.70h4.69v2.74h-4.69zM286.44 1037.70h4.69v2.74h-4.69zM295.82 1037.70h4.69v2.74h-4.69zM42.49 1040.44h4.69v2.74h-4.69zM150.39 1040.44h4.69v2.74h-4.69zM187.92 1040.44h4.69v2.74h-4.69zM272.36 1040.44h4.69v2.74h-4.69zM37.80 1043.18h4.69v2.74h-4.69zM42.49 1043.18h4.69v2.74h-4.69zM61.26 1043.18h4.69v2.74h-4.69zM98.79 1043.18h4.69v2.74h-4.69zM136.32 1043.18h4.69v2.74h-4.69zM164.46 1043.18h4.69v2.74h-4.69zM178.54 1043.18h4.69v2.74h-4.69zM267.67 1043.18h4.69v2.74h-4.69zM291.13 1043.18h4.69v2.74h-4.69zM309.89 1043.18h4.69v2.74h-4.69zM338.04 1043.18h4.69v2.74h-4.69zM342.73 1043.18h4.69v2.74h-4.69zM389.64 1043.18h4.69v2.74h-4.69zM394.34 1043.18h4.69v2.74h-4.69zM61.26 1045.92h4.69v2.74h-4.69zM98.79 1045.92h4.69v2.74h-4.69zM112.86 1045.92h4.69v2.74h-4.69zM197.30 1045.92h4.69v2.74h-4.69zM300.51 1045.92h4.69v2.74h-4.69zM319.28 1045.92h4.69v2.74h-4.69zM328.66 1045.92h4.69v2.74h-4.69zM389.64 1045.92h4.69v2.74h-4.69zM37.80 1048.66h4.69v2.74h-4.69zM70.64 1048.66h4.69v2.74h-4.69zM94.09 1048.66h4.69v2.74h-4.69zM206.69 1048.66h4.69v2.74h-4.69zM230.14 1048.66h4.69v2.74h-4.69zM253.60 1048.66h4.69v2.74h-4.69zM272.36 1048.66h4.69v2.74h-4.69zM300.51 1048.66h4.69v2.74h-4.69zM352.11 1048.66h4.69v2.74h-4.69zM389.64 1048.66h4.69v2.74h-4.69zM399.03 1048.66h4.69v2.74h-4.69zM403.72 1048.66h4.69v2.74h-4.69z"/>
<path fill="#f4fbd4" d="M103.48 777.40h4.69v2.74h-4.69zM117.55 777.40h4.69v2.74h-4.69zM183.23 777.40h4.69v2.74h-4.69zM201.99 777.40h4.69v2.74h-4.69zM216.07 777.40h4.69v2.74h-4.69zM267.67 777.40h4.69v2.74h-4.69zM361.50 777.40h4.69v2.74h-4.69zM169.16 780.14h4.69v2.74h-4.69zM197.30 780.14h4.69v2.74h-4.69zM234.83 780.14h4.69v2.74h-4.69zM239.52 780.14h4.69v2.74h-4.69zM286.44 780.14h4.69v2.74h-4.69zM323.97 780.14h4.69v2.74h-4.69zM338.04 780.14h4.69v2.74h-4.69zM370.88 780.14h4.69v2.74h-4.69zM384.95 780.14h4.69v2.74h-4.69zM84.71 782.88h4.69v2.74h-4.69zM122.24 782.88h4.69v2.74h-4.69zM159.77 782.88h4.69v2.74h-4.69zM309.89 782.88h4.69v2.74h-4.69zM347.42 782.88h4.69v2.74h-4.69zM75.33 785.62h4.69v2.74h-4.69zM98.79 785.62h4.69v2.74h-4.69zM183.23 785.62h4.69v2.74h-4.69zM272.36 785.62h4.69v2.74h-4.69zM281.75 785.62h4.69v2.74h-4.69zM300.51 785.62h4.69v2.74h-4.69zM394.34 785.62h4.69v2.74h-4.69zM84.71 788.36h4.69v2.74h-4.69zM126.93 788.36h4.69v2.74h-4.69zM173.85 788.36h4.69v2.74h-4.69zM197.30 788.36h4.69v2.74h-4.69zM305.20 788.36h4.69v2.74h-4.69zM328.66 788.36h4.69v2.74h-4.69zM356.81 788.36h4.69v2.74h-4.69zM380.26 788.36h4.69v2.74h-4.69zM389.64 788.36h4.69v2.74h-4.69zM51.87 791.10h4.69v2.74h-4.69zM65.95 791.10h4.69v2.74h-4.69zM108.17 791.10h4.69v2.74h-4.69zM192.61 791.10h4.69v2.74h-4.69zM197.30 791.10h4.69v2.74h-4.69zM220.76 791.10h4.69v2.74h-4.69zM230.14 791.10h4.69v2.74h-4.69zM356.81 791.10h4.69v2.74h-4.69zM47.18 793.84h4.69v2.74h-4.69zM94.09 793.84h4.69v2.74h-4.69zM108.17 793.84h4.69v2.74h-4.69zM126.93 793.84h4.69v2.74h-4.69zM183.23 793.84h4.69v2.74h-4.69zM323.97 793.84h4.69v2.74h-4.69zM338.04 793.84h4.69v2.74h-4.69zM389.64 793.84h4.69v2.74h-4.69zM112.86 796.58h4.69v2.74h-4.69zM216.07 796.58h4.69v2.74h-4.69zM56.56 799.32h4.69v2.74h-4.69zM103.48 799.32h4.69v2.74h-4.69zM187.92 799.32h4.69v2.74h-4.69zM211.38 799.32h4.69v2.74h-4.69zM230.14 799.32h4.69v2.74h-4.69zM262.98 799.32h4.69v2.74h-4.69zM352.11 799.32h4.69v2.74h-4.69zM366.19 799.32h4.69v2.74h-4.69zM370.88 799.32h4.69v2.74h-4.69zM375.57 799.32h4.69v2.74h-4.69zM389.64 799.32h4.69v2.74h-4.69zM94.09 802.06h4.69v2.74h-4.69zM122.24 802.06h4.69v2.74h-4.69zM145.70 802.06h4.69v2.74h-4.69zM178.54 802.06h4.69v2.74h-4.69zM197.30 802.06h4.69v2.74h-4.69zM201.99 802.06h4.69v2.74h-4.69zM277.05 802.06h4.69v2.74h-4.69zM295.82 802.06h4.69v2.74h-4.69zM328.66 802.06h4.69v2.74h-4.69zM84.71 804.80h4.69v2.74h-4.69zM352.11 804.80h4.69v2.74h-4.69zM408.41 804.80h4.69v2.74h-4.69zM98.79 807.54h4.69v2.74h-4.69zM103.48 807.54h4.69v2.74h-4.69zM150.39 807.54h4.69v2.74h-4.69zM262.98 807.54h4.69v2.74h-4.69zM267.67 807.54h4.69v2.74h-4.69zM356.81 807.54h4.69v2.74h-4.69zM47.18 810.28h4.69v2.74h-4.69zM56.56 810.28h4.69v2.74h-4.69zM117.55 810.28h4.69v2.74h-4.69zM173.85 810.28h4.69v2.74h-4.69zM234.83 810.28h4.69v2.74h-4.69zM61.26 813.02h4.69v2.74h-4.69zM103.48 813.02h4.69v2.74h-4.69zM150.39 813.02h4.69v2.74h-4.69zM197.30 813.02h4.69v2.74h-4.69zM56.56 815.76h4.69v2.74h-4.69zM80.02 815.76h4.69v2.74h-4.69zM145.70 815.76h4.69v2.74h-4.69zM155.08 815.76h4.69v2.74h-4.69zM164.46 815.76h4.69v2.74h-4.69zM178.54 815.76h4.69v2.74h-4.69zM230.14 815.76h4.69v2.74h-4.69zM277.05 815.76h4.69v2.74h-4.69zM370.88 815.76h4.69v2.74h-4.69zM403.72 815.76h4.69v2.74h-4.69zM61.26 818.50h4.69v2.74h-4.69zM84.71 818.50h4.69v2.74h-4.69zM150.39 818.50h4.69v2.74h-4.69zM183.23 818.50h4.69v2.74h-4.69zM352.11 818.50h4.69v2.74h-4.69zM65.95 821.24h4.69v2.74h-4.69zM122.24 821.24h4.69v2.74h-4.69zM145.70 821.24h4.69v2.74h-4.69zM173.85 821.24h4.69v2.74h-4.69zM206.69 821.24h4.69v2.74h-4.69zM103.48 823.98h4.69v2.74h-4.69zM187.92 823.98h4.69v2.74h-4.69zM201.99 823.98h4.69v2.74h-4.69zM230.14 823.98h4.69v2.74h-4.69zM267.67 823.98h4.69v2.74h-4.69zM277.05 823.98h4.69v2.74h-4.69zM150.39 826.72h4.69v2.74h-4.69zM300.51 826.72h4.69v2.74h-4.69zM65.95 829.46h4.69v2.74h-4.69zM94.09 829.46h4.69v2.74h-4.69zM98.79 829.46h4.69v2.74h-4.69zM103.48 829.46h4.69v2.74h-4.69zM108.17 829.46h4.69v2.74h-4.69zM150.39 829.46h4.69v2.74h-4.69zM178.54 829.46h4.69v2.74h-4.69zM216.07 829.46h4.69v2.74h-4.69zM403.72 829.46h4.69v2.74h-4.69zM42.49 832.20h4.69v2.74h-4.69zM47.18 832.20h4.69v2.74h-4.69zM75.33 832.20h4.69v2.74h-4.69zM89.40 832.20h4.69v2.74h-4.69zM183.23 832.20h4.69v2.74h-4.69zM187.92 832.20h4.69v2.74h-4.69zM206.69 832.20h4.69v2.74h-4.69zM267.67 832.20h4.69v2.74h-4.69zM286.44 832.20h4.69v2.74h-4.69zM356.81 832.20h4.69v2.74h-4.69zM408.41 832.20h4.69v2.74h-4.69zM51.87 834.94h4.69v2.74h-4.69zM65.95 834.94h4.69v2.74h-4.69zM150.39 834.94h4.69v2.74h-4.69zM164.46 834.94h4.69v2.74h-4.69zM173.85 834.94h4.69v2.74h-4.69zM183.23 834.94h4.69v2.74h-4.69zM230.14 834.94h4.69v2.74h-4.69zM366.19 834.94h4.69v2.74h-4.69zM403.72 834.94h4.69v2.74h-4.69zM159.77 837.68h4.69v2.74h-4.69zM178.54 837.68h4.69v2.74h-4.69zM187.92 837.68h4.69v2.74h-4.69zM216.07 837.68h4.69v2.74h-4.69zM234.83 837.68h4.69v2.74h-4.69zM244.22 837.68h4.69v2.74h-4.69zM370.88 837.68h4.69v2.74h-4.69zM98.79 840.42h4.69v2.74h-4.69zM112.86 840.42h4.69v2.74h-4.69zM183.23 840.42h4.69v2.74h-4.69zM347.42 840.42h4.69v2.74h-4.69zM103.48 843.16h4.69v2.74h-4.69zM169.16 843.16h4.69v2.74h-4.69zM338.04 843.16h4.69v2.74h-4.69zM37.80 845.90h4.69v2.74h-4.69zM80.02 845.90h4.69v2.74h-4.69zM126.93 845.90h4.69v2.74h-4.69zM136.32 845.90h4.69v2.74h-4.69zM169.16 845.90h4.69v2.74h-4.69zM239.52 845.90h4.69v2.74h-4.69zM356.81 845.90h4.69v2.74h-4.69zM37.80 848.64h4.69v2.74h-4.69zM89.40 848.64h4.69v2.74h-4.69zM108.17 848.64h4.69v2.74h-4.69zM145.70 848.64h4.69v2.74h-4.69zM309.89 848.64h4.69v2.74h-4.69zM394.34 848.64h4.69v2.74h-4.69zM56.56 851.38h4.69v2.74h-4.69zM108.17 851.38h4.69v2.74h-4.69zM239.52 851.38h4.69v2.74h-4.69zM370.88 851.38h4.69v2.74h-4.69zM37.80 854.12h4.69v2.74h-4.69zM65.95 854.12h4.69v2.74h-4.69zM75.33 854.12h4.69v2.74h-4.69zM80.02 854.12h4.69v2.74h-4.69zM145.70 854.12h4.69v2.74h-4.69zM178.54 854.12h4.69v2.74h-4.69zM319.28 854.12h4.69v2.74h-4.69zM361.50 854.12h4.69v2.74h-4.69zM375.57 854.12h4.69v2.74h-4.69zM61.26 856.86h4.69v2.74h-4.69zM80.02 856.86h4.69v2.74h-4.69zM173.85 856.86h4.69v2.74h-4.69zM253.60 856.86h4.69v2.74h-4.69zM258.29 856.86h4.69v2.74h-4.69zM323.97 856.86h4.69v2.74h-4.69zM370.88 856.86h4.69v2.74h-4.69zM56.56 859.60h4.69v2.74h-4.69zM164.46 859.60h4.69v2.74h-4.69zM178.54 859.60h4.69v2.74h-4.69zM192.61 859.60h4.69v2.74h-4.69zM197.30 859.60h4.69v2.74h-4.69zM225.45 859.60h4.69v2.74h-4.69zM258.29 859.60h4.69v2.74h-4.69zM291.13 859.60h4.69v2.74h-4.69zM305.20 859.60h4.69v2.74h-4.69zM347.42 859.60h4.69v2.74h-4.69zM94.09 862.34h4.69v2.74h-4.69zM112.86 862.34h4.69v2.74h-4.69zM117.55 862.34h4.69v2.74h-4.69zM122.24 862.34h4.69v2.74h-4.69zM136.32 862.34h4.69v2.74h-4.69zM141.01 862.34h4.69v2.74h-4.69zM150.39 862.34h4.69v2.74h-4.69zM187.92 862.34h4.69v2.74h-4.69zM234.83 862.34h4.69v2.74h-4.69zM328.66 862.34h4.69v2.74h-4.69zM380.26 862.34h4.69v2.74h-4.69zM80.02 865.08h4.69v2.74h-4.69zM89.40 865.08h4.69v2.74h-4.69zM98.79 865.08h4.69v2.74h-4.69zM122.24 865.08h4.69v2.74h-4.69zM201.99 865.08h4.69v2.74h-4.69zM70.64 867.82h4.69v2.74h-4.69zM234.83 867.82h4.69v2.74h-4.69zM248.91 867.82h4.69v2.74h-4.69zM328.66 867.82h4.69v2.74h-4.69zM75.33 870.56h4.69v2.74h-4.69zM225.45 870.56h4.69v2.74h-4.69zM239.52 870.56h4.69v2.74h-4.69zM248.91 870.56h4.69v2.74h-4.69zM291.13 870.56h4.69v2.74h-4.69zM328.66 870.56h4.69v2.74h-4.69zM342.73 870.56h4.69v2.74h-4.69zM366.19 870.56h4.69v2.74h-4.69zM37.80 873.30h4.69v2.74h-4.69zM47.18 873.30h4.69v2.74h-4.69zM126.93 873.30h4.69v2.74h-4.69zM131.62 873.30h4.69v2.74h-4.69zM136.32 873.30h4.69v2.74h-4.69zM375.57 873.30h4.69v2.74h-4.69zM47.18 876.04h4.69v2.74h-4.69zM145.70 876.04h4.69v2.74h-4.69zM164.46 876.04h4.69v2.74h-4.69zM197.30 876.04h4.69v2.74h-4.69zM295.82 876.04h4.69v2.74h-4.69zM309.89 876.04h4.69v2.74h-4.69zM323.97 876.04h4.69v2.74h-4.69zM347.42 876.04h4.69v2.74h-4.69zM384.95 876.04h4.69v2.74h-4.69zM103.48 878.78h4.69v2.74h-4.69zM150.39 878.78h4.69v2.74h-4.69zM234.83 878.78h4.69v2.74h-4.69zM51.87 881.52h4.69v2.74h-4.69zM75.33 881.52h4.69v2.74h-4.69zM141.01 881.52h4.69v2.74h-4.69zM145.70 881.52h4.69v2.74h-4.69zM211.38 881.52h4.69v2.74h-4.69zM225.45 881.52h4.69v2.74h-4.69zM239.52 881.52h4.69v2.74h-4.69zM295.82 881.52h4.69v2.74h-4.69zM356.81 881.52h4.69v2.74h-4.69zM403.72 881.52h4.69v2.74h-4.69zM47.18 884.26h4.69v2.74h-4.69zM145.70 884.26h4.69v2.74h-4.69zM178.54 884.26h4.69v2.74h-4.69zM244.22 884.26h4.69v2.74h-4.69zM267.67 884.26h4.69v2.74h-4.69zM295.82 884.26h4.69v2.74h-4.69zM37.80 887.00h4.69v2.74h-4.69zM150.39 887.00h4.69v2.74h-4.69zM155.08 887.00h4.69v2.74h-4.69zM206.69 887.00h4.69v2.74h-4.69zM216.07 887.00h4.69v2.74h-4.69zM262.98 887.00h4.69v2.74h-4.69zM281.75 887.00h4.69v2.74h-4.69zM347.42 887.00h4.69v2.74h-4.69zM366.19 887.00h4.69v2.74h-4.69zM94.09 889.74h4.69v2.74h-4.69zM131.62 889.74h4.69v2.74h-4.69zM150.39 889.74h4.69v2.74h-4.69zM159.77 889.74h4.69v2.74h-4.69zM267.67 889.74h4.69v2.74h-4.69zM291.13 889.74h4.69v2.74h-4.69zM47.18 892.48h4.69v2.74h-4.69zM98.79 892.48h4.69v2.74h-4.69zM112.86 892.48h4.69v2.74h-4.69zM141.01 892.48h4.69v2.74h-4.69zM159.77 892.48h4.69v2.74h-4.69zM183.23 892.48h4.69v2.74h-4.69zM201.99 892.48h4.69v2.74h-4.69zM206.69 892.48h4.69v2.74h-4.69zM342.73 892.48h4.69v2.74h-4.69zM56.56 895.22h4.69v2.74h-4.69zM89.40 895.22h4.69v2.74h-4.69zM220.76 895.22h4.69v2.74h-4.69zM244.22 895.22h4.69v2.74h-4.69zM338.04 895.22h4.69v2.74h-4.69zM384.95 895.22h4.69v2.74h-4.69zM61.26 897.96h4.69v2.74h-4.69zM75.33 897.96h4.69v2.74h-4.69zM98.79 897.96h4.69v2.74h-4.69zM122.24 897.96h4.69v2.74h-4.69zM253.60 897.96h4.69v2.74h-4.69zM117.55 900.70h4.69v2.74h-4.69zM122.24 900.70h4.69v2.74h-4.69zM178.54 900.70h4.69v2.74h-4.69zM192.61 900.70h4.69v2.74h-4.69zM197.30 900.70h4.69v2.74h-4.69zM47.18 903.44h4.69v2.74h-4.69zM75.33 903.44h4.69v2.74h-4.69zM84.71 903.44h4.69v2.74h-4.69zM94.09 903.44h4.69v2.74h-4.69zM126.93 903.44h4.69v2.74h-4.69zM178.54 903.44h4.69v2.74h-4.69zM197.30 903.44h4.69v2.74h-4.69zM216.07 903.44h4.69v2.74h-4.69zM272.36 903.44h4.69v2.74h-4.69zM37.80 906.18h4.69v2.74h-4.69zM80.02 906.18h4.69v2.74h-4.69zM98.79 906.18h4.69v2.74h-4.69zM126.93 906.18h4.69v2.74h-4.69zM183.23 906.18h4.69v2.74h-4.69zM187.92 906.18h4.69v2.74h-4.69zM216.07 906.18h4.69v2.74h-4.69zM338.04 906.18h4.69v2.74h-4.69zM380.26 906.18h4.69v2.74h-4.69zM47.18 908.92h4.69v2.74h-4.69zM122.24 908.92h4.69v2.74h-4.69zM155.08 908.92h4.69v2.74h-4.69zM178.54 908.92h4.69v2.74h-4.69zM230.14 908.92h4.69v2.74h-4.69zM309.89 908.92h4.69v2.74h-4.69zM183.23 911.66h4.69v2.74h-4.69zM211.38 911.66h4.69v2.74h-4.69zM216.07 911.66h4.69v2.74h-4.69zM230.14 911.66h4.69v2.74h-4.69zM248.91 911.66h4.69v2.74h-4.69zM333.35 911.66h4.69v2.74h-4.69zM70.64 914.40h4.69v2.74h-4.69zM84.71 914.40h4.69v2.74h-4.69zM197.30 914.40h4.69v2.74h-4.69zM230.14 914.40h4.69v2.74h-4.69zM295.82 914.40h4.69v2.74h-4.69zM305.20 914.40h4.69v2.74h-4.69zM323.97 914.40h4.69v2.74h-4.69zM370.88 914.40h4.69v2.74h-4.69zM394.34 914.40h4.69v2.74h-4.69zM51.87 917.14h4.69v2.74h-4.69zM122.24 917.14h4.69v2.74h-4.69zM136.32 917.14h4.69v2.74h-4.69zM150.39 917.14h4.69v2.74h-4.69zM230.14 917.14h4.69v2.74h-4.69zM253.60 917.14h4.69v2.74h-4.69zM347.42 917.14h4.69v2.74h-4.69zM384.95 917.14h4.69v2.74h-4.69zM389.64 917.14h4.69v2.74h-4.69zM103.48 919.88h4.69v2.74h-4.69zM108.17 919.88h4.69v2.74h-4.69zM150.39 919.88h4.69v2.74h-4.69zM286.44 919.88h4.69v2.74h-4.69zM352.11 919.88h4.69v2.74h-4.69zM389.64 919.88h4.69v2.74h-4.69zM103.48 922.62h4.69v2.74h-4.69zM155.08 922.62h4.69v2.74h-4.69zM267.67 922.62h4.69v2.74h-4.69zM328.66 922.62h4.69v2.74h-4.69zM342.73 922.62h4.69v2.74h-4.69zM394.34 922.62h4.69v2.74h-4.69zM47.18 925.36h4.69v2.74h-4.69zM98.79 925.36h4.69v2.74h-4.69zM117.55 925.36h4.69v2.74h-4.69zM220.76 925.36h4.69v2.74h-4.69zM314.58 925.36h4.69v2.74h-4.69zM328.66 925.36h4.69v2.74h-4.69zM338.04 925.36h4.69v2.74h-4.69zM173.85 928.10h4.69v2.74h-4.69zM201.99 928.10h4.69v2.74h-4.69zM220.76 928.10h4.69v2.74h-4.69zM295.82 928.10h4.69v2.74h-4.69zM319.28 928.10h4.69v2.74h-4.69zM155.08 930.84h4.69v2.74h-4.69zM169.16 930.84h4.69v2.74h-4.69zM178.54 930.84h4.69v2.74h-4.69zM220.76 930.84h4.69v2.74h-4.69zM225.45 930.84h4.69v2.74h-4.69zM239.52 930.84h4.69v2.74h-4.69zM338.04 930.84h4.69v2.74h-4.69zM342.73 930.84h4.69v2.74h-4.69zM75.33 933.58h4.69v2.74h-4.69zM80.02 933.58h4.69v2.74h-4.69zM89.40 933.58h4.69v2.74h-4.69zM126.93 933.58h4.69v2.74h-4.69zM192.61 933.58h4.69v2.74h-4.69zM267.67 933.58h4.69v2.74h-4.69zM342.73 933.58h4.69v2.74h-4.69zM61.26 936.32h4.69v2.74h-4.69zM126.93 936.32h4.69v2.74h-4.69zM136.32 936.32h4.69v2.74h-4.69zM211.38 936.32h4.69v2.74h-4.69zM272.36 936.32h4.69v2.74h-4.69zM342.73 936.32h4.69v2.74h-4.69zM47.18 939.06h4.69v2.74h-4.69zM173.85 939.06h4.69v2.74h-4.69zM192.61 939.06h4.69v2.74h-4.69zM197.30 939.06h4.69v2.74h-4.69zM286.44 939.06h4.69v2.74h-4.69zM375.57 939.06h4.69v2.74h-4.69zM403.72 939.06h4.69v2.74h-4.69zM183.23 941.80h4.69v2.74h-4.69zM375.57 941.80h4.69v2.74h-4.69zM408.41 941.80h4.69v2.74h-4.69zM98.79 944.54h4.69v2.74h-4.69zM122.24 944.54h4.69v2.74h-4.69zM178.54 944.54h4.69v2.74h-4.69zM47.18 947.28h4.69v2.74h-4.69zM94.09 947.28h4.69v2.74h-4.69zM141.01 947.28h4.69v2.74h-4.69zM164.46 947.28h4.69v2.74h-4.69zM187.92 947.28h4.69v2.74h-4.69zM319.28 947.28h4.69v2.74h-4.69zM338.04 947.28h4.69v2.74h-4.69zM384.95 947.28h4.69v2.74h-4.69zM42.49 950.02h4.69v2.74h-4.69zM136.32 950.02h4.69v2.74h-4.69zM141.01 950.02h4.69v2.74h-4.69zM145.70 950.02h4.69v2.74h-4.69zM230.14 950.02h4.69v2.74h-4.69zM239.52 950.02h4.69v2.74h-4.69zM281.75 950.02h4.69v2.74h-4.69zM342.73 950.02h4.69v2.74h-4.69zM366.19 950.02h4.69v2.74h-4.69zM47.18 952.76h4.69v2.74h-4.69zM56.56 952.76h4.69v2.74h-4.69zM98.79 952.76h4.69v2.74h-4.69zM141.01 952.76h4.69v2.74h-4.69zM183.23 952.76h4.69v2.74h-4.69zM230.14 952.76h4.69v2.74h-4.69zM277.05 952.76h4.69v2.74h-4.69zM366.19 952.76h4.69v2.74h-4.69zM394.34 952.76h4.69v2.74h-4.69zM47.18 955.50h4.69v2.74h-4.69zM80.02 955.50h4.69v2.74h-4.69zM159.77 955.50h4.69v2.74h-4.69zM239.52 955.50h4.69v2.74h-4.69zM352.11 955.50h4.69v2.74h-4.69zM37.80 958.24h4.69v2.74h-4.69zM61.26 958.24h4.69v2.74h-4.69zM94.09 958.24h4.69v2.74h-4.69zM98.79 958.24h4.69v2.74h-4.69zM122.24 958.24h4.69v2.74h-4.69zM136.32 958.24h4.69v2.74h-4.69zM183.23 958.24h4.69v2.74h-4.69zM192.61 958.24h4.69v2.74h-4.69zM201.99 958.24h4.69v2.74h-4.69zM206.69 958.24h4.69v2.74h-4.69zM338.04 958.24h4.69v2.74h-4.69zM375.57 958.24h4.69v2.74h-4.69zM65.95 960.98h4.69v2.74h-4.69zM98.79 960.98h4.69v2.74h-4.69zM169.16 960.98h4.69v2.74h-4.69zM201.99 960.98h4.69v2.74h-4.69zM230.14 960.98h4.69v2.74h-4.69zM117.55 963.72h4.69v2.74h-4.69zM136.32 963.72h4.69v2.74h-4.69zM141.01 963.72h4.69v2.74h-4.69zM183.23 963.72h4.69v2.74h-4.69zM258.29 963.72h4.69v2.74h-4.69zM309.89 963.72h4.69v2.74h-4.69zM70.64 966.46h4.69v2.74h-4.69zM136.32 966.46h4.69v2.74h-4.69zM150.39 966.46h4.69v2.74h-4.69zM183.23 966.46h4.69v2.74h-4.69zM309.89 966.46h4.69v2.74h-4.69zM338.04 966.46h4.69v2.74h-4.69zM408.41 966.46h4.69v2.74h-4.69zM136.32 969.20h4.69v2.74h-4.69zM145.70 969.20h4.69v2.74h-4.69zM173.85 969.20h4.69v2.74h-4.69zM267.67 969.20h4.69v2.74h-4.69zM338.04 969.20h4.69v2.74h-4.69zM37.80 971.94h4.69v2.74h-4.69zM65.95 971.94h4.69v2.74h-4.69zM112.86 971.94h4.69v2.74h-4.69zM122.24 971.94h4.69v2.74h-4.69zM197.30 971.94h4.69v2.74h-4.69zM211.38 971.94h4.69v2.74h-4.69zM328.66 971.94h4.69v2.74h-4.69zM375.57 971.94h4.69v2.74h-4.69zM389.64 971.94h4.69v2.74h-4.69zM37.80 974.68h4.69v2.74h-4.69zM56.56 974.68h4.69v2.74h-4.69zM89.40 974.68h4.69v2.74h-4.69zM131.62 974.68h4.69v2.74h-4.69zM164.46 974.68h4.69v2.74h-4.69zM211.38 974.68h4.69v2.74h-4.69zM258.29 974.68h4.69v2.74h-4.69zM370.88 974.68h4.69v2.74h-4.69zM56.56 977.42h4.69v2.74h-4.69zM131.62 977.42h4.69v2.74h-4.69zM187.92 977.42h4.69v2.74h-4.69zM225.45 977.42h4.69v2.74h-4.69zM42.49 980.16h4.69v2.74h-4.69zM141.01 980.16h4.69v2.74h-4.69zM145.70 980.16h4.69v2.74h-4.69zM150.39 980.16h4.69v2.74h-4.69zM164.46 980.16h4.69v2.74h-4.69zM239.52 980.16h4.69v2.74h-4.69zM295.82 980.16h4.69v2.74h-4.69zM305.20 980.16h4.69v2.74h-4.69zM408.41 980.16h4.69v2.74h-4.69zM84.71 982.90h4.69v2.74h-4.69zM89.40 982.90h4.69v2.74h-4.69zM108.17 982.90h4.69v2.74h-4.69zM117.55 982.90h4.69v2.74h-4.69zM136.32 982.90h4.69v2.74h-4.69zM141.01 982.90h4.69v2.74h-4.69zM150.39 982.90h4.69v2.74h-4.69zM178.54 982.90h4.69v2.74h-4.69zM225.45 982.90h4.69v2.74h-4.69zM375.57 982.90h4.69v2.74h-4.69zM408.41 982.90h4.69v2.74h-4.69zM56.56 985.64h4.69v2.74h-4.69zM70.64 985.64h4.69v2.74h-4.69zM80.02 985.64h4.69v2.74h-4.69zM94.09 985.64h4.69v2.74h-4.69zM141.01 985.64h4.69v2.74h-4.69zM183.23 985.64h4.69v2.74h-4.69zM206.69 985.64h4.69v2.74h-4.69zM225.45 985.64h4.69v2.74h-4.69zM291.13 985.64h4.69v2.74h-4.69zM342.73 985.64h4.69v2.74h-4.69zM47.18 988.38h4.69v2.74h-4.69zM159.77 988.38h4.69v2.74h-4.69zM248.91 988.38h4.69v2.74h-4.69zM258.29 988.38h4.69v2.74h-4.69zM51.87 991.12h4.69v2.74h-4.69zM65.95 991.12h4.69v2.74h-4.69zM98.79 991.12h4.69v2.74h-4.69zM112.86 991.12h4.69v2.74h-4.69zM169.16 991.12h4.69v2.74h-4.69zM286.44 991.12h4.69v2.74h-4.69zM300.51 991.12h4.69v2.74h-4.69zM309.89 991.12h4.69v2.74h-4.69zM61.26 993.86h4.69v2.74h-4.69zM65.95 993.86h4.69v2.74h-4.69zM126.93 993.86h4.69v2.74h-4.69zM136.32 993.86h4.69v2.74h-4.69zM159.77 993.86h4.69v2.74h-4.69zM187.92 993.86h4.69v2.74h-4.69zM234.83 993.86h4.69v2.74h-4.69zM333.35 993.86h4.69v2.74h-4.69zM380.26 993.86h4.69v2.74h-4.69zM89.40 996.60h4.69v2.74h-4.69zM108.17 996.60h4.69v2.74h-4.69zM155.08 996.60h4.69v2.74h-4.69zM197.30 996.60h4.69v2.74h-4.69zM230.14 996.60h4.69v2.74h-4.69zM305.20 996.60h4.69v2.74h-4.69zM370.88 996.60h4.69v2.74h-4.69zM61.26 999.34h4.69v2.74h-4.69zM89.40 999.34h4.69v2.74h-4.69zM136.32 999.34h4.69v2.74h-4.69zM150.39 999.34h4.69v2.74h-4.69zM305.20 999.34h4.69v2.74h-4.69zM309.89 999.34h4.69v2.74h-4.69zM366.19 999.34h4.69v2.74h-4.69zM408.41 999.34h4.69v2.74h-4.69zM80.02 1002.08h4.69v2.74h-4.69zM94.09 1002.08h4.69v2.74h-4.69zM98.79 1002.08h4.69v2.74h-4.69zM112.86 1002.08h4.69v2.74h-4.69zM126.93 1002.08h4.69v2.74h-4.69zM211.38 1002.08h4.69v2.74h-4.69zM281.75 1002.08h4.69v2.74h-4.69zM291.13 1002.08h4.69v2.74h-4.69zM314.58 1002.08h4.69v2.74h-4.69zM328.66 1002.08h4.69v2.74h-4.69zM37.80 1004.82h4.69v2.74h-4.69zM65.95 1004.82h4.69v2.74h-4.69zM70.64 1004.82h4.69v2.74h-4.69zM103.48 1004.82h4.69v2.74h-4.69zM117.55 1004.82h4.69v2.74h-4.69zM131.62 1004.82h4.69v2.74h-4.69zM159.77 1004.82h4.69v2.74h-4.69zM164.46 1004.82h4.69v2.74h-4.69zM206.69 1004.82h4.69v2.74h-4.69zM253.60 1004.82h4.69v2.74h-4.69zM352.11 1004.82h4.69v2.74h-4.69zM361.50 1004.82h4.69v2.74h-4.69zM380.26 1004.82h4.69v2.74h-4.69zM61.26 1007.56h4.69v2.74h-4.69zM70.64 1007.56h4.69v2.74h-4.69zM98.79 1007.56h4.69v2.74h-4.69zM117.55 1007.56h4.69v2.74h-4.69zM342.73 1007.56h4.69v2.74h-4.69zM347.42 1007.56h4.69v2.74h-4.69zM375.57 1007.56h4.69v2.74h-4.69zM42.49 1010.30h4.69v2.74h-4.69zM51.87 1010.30h4.69v2.74h-4.69zM136.32 1010.30h4.69v2.74h-4.69zM192.61 1010.30h4.69v2.74h-4.69zM347.42 1010.30h4.69v2.74h-4.69zM380.26 1010.30h4.69v2.74h-4.69zM42.49 1013.04h4.69v2.74h-4.69zM84.71 1013.04h4.69v2.74h-4.69zM122.24 1013.04h4.69v2.74h-4.69zM164.46 1013.04h4.69v2.74h-4.69zM178.54 1013.04h4.69v2.74h-4.69zM192.61 1013.04h4.69v2.74h-4.69zM206.69 1013.04h4.69v2.74h-4.69zM244.22 1013.04h4.69v2.74h-4.69zM305.20 1013.04h4.69v2.74h-4.69zM370.88 1013.04h4.69v2.74h-4.69zM80.02 1015.78h4.69v2.74h-4.69zM117.55 1015.78h4.69v2.74h-4.69zM131.62 1015.78h4.69v2.74h-4.69zM220.76 1015.78h4.69v2.74h-4.69zM239.52 1015.78h4.69v2.74h-4.69zM253.60 1015.78h4.69v2.74h-4.69zM403.72 1015.78h4.69v2.74h-4.69zM70.64 1018.52h4.69v2.74h-4.69zM75.33 1018.52h4.69v2.74h-4.69zM84.71 1018.52h4.69v2.74h-4.69zM155.08 1018.52h4.69v2.74h-4.69zM164.46 1018.52h4.69v2.74h-4.69zM239.52 1018.52h4.69v2.74h-4.69zM272.36 1018.52h4.69v2.74h-4.69zM295.82 1018.52h4.69v2.74h-4.69zM342.73 1018.52h4.69v2.74h-4.69zM75.33 1021.26h4.69v2.74h-4.69zM183.23 1021.26h4.69v2.74h-4.69zM300.51 1021.26h4.69v2.74h-4.69zM328.66 1021.26h4.69v2.74h-4.69zM42.49 1024.00h4.69v2.74h-4.69zM145.70 1024.00h4.69v2.74h-4.69zM234.83 1024.00h4.69v2.74h-4.69zM244.22 1024.00h4.69v2.74h-4.69zM248.91 1024.00h4.69v2.74h-4.69zM300.51 1024.00h4.69v2.74h-4.69zM352.11 1024.00h4.69v2.74h-4.69zM164.46 1026.74h4.69v2.74h-4.69zM225.45 1026.74h4.69v2.74h-4.69zM230.14 1026.74h4.69v2.74h-4.69zM42.49 1029.48h4.69v2.74h-4.69zM70.64 1029.48h4.69v2.74h-4.69zM122.24 1029.48h4.69v2.74h-4.69zM150.39 1029.48h4.69v2.74h-4.69zM201.99 1029.48h4.69v2.74h-4.69zM230.14 1029.48h4.69v2.74h-4.69zM286.44 1029.48h4.69v2.74h-4.69zM347.42 1029.48h4.69v2.74h-4.69zM80.02 1032.22h4.69v2.74h-4.69zM112.86 1032.22h4.69v2.74h-4.69zM126.93 1032.22h4.69v2.74h-4.69zM183.23 1032.22h4.69v2.74h-4.69zM262.98 1032.22h4.69v2.74h-4.69zM281.75 1032.22h4.69v2.74h-4.69zM352.11 1032.22h4.69v2.74h-4.69zM403.72 1032.22h4.69v2.74h-4.69zM75.33 1034.96h4.69v2.74h-4.69zM108.17 1034.96h4.69v2.74h-4.69zM173.85 1034.96h4.69v2.74h-4.69zM197.30 1034.96h4.69v2.74h-4.69zM211.38 1034.96h4.69v2.74h-4.69zM220.76 1034.96h4.69v2.74h-4.69zM314.58 1034.96h4.69v2.74h-4.69zM47.18 1037.70h4.69v2.74h-4.69zM56.56 1037.70h4.69v2.74h-4.69zM70.64 1037.70h4.69v2.74h-4.69zM84.71 1037.70h4.69v2.74h-4.69zM112.86 1037.70h4.69v2.74h-4.69zM164.46 1037.70h4.69v2.74h-4.69zM206.69 1037.70h4.69v2.74h-4.69zM319.28 1037.70h4.69v2.74h-4.69zM361.50 1037.70h4.69v2.74h-4.69zM89.40 1040.44h4.69v2.74h-4.69zM94.09 1040.44h4.69v2.74h-4.69zM108.17 1040.44h4.69v2.74h-4.69zM131.62 1040.44h4.69v2.74h-4.69zM399.03 1040.44h4.69v2.74h-4.69zM403.72 1040.44h4.69v2.74h-4.69zM103.48 1043.18h4.69v2.74h-4.69zM145.70 1043.18h4.69v2.74h-4.69zM169.16 1043.18h4.69v2.74h-4.69zM173.85 1043.18h4.69v2.74h-4.69zM333.35 1043.18h4.69v2.74h-4.69zM370.88 1043.18h4.69v2.74h-4.69zM380.26 1043.18h4.69v2.74h-4.69zM65.95 1045.92h4.69v2.74h-4.69zM70.64 1045.92h4.69v2.74h-4.69zM80.02 1045.92h4.69v2.74h-4.69zM103.48 1045.92h4.69v2.74h-4.69zM108.17 1045.92h4.69v2.74h-4.69zM178.54 1045.92h4.69v2.74h-4.69zM230.14 1045.92h4.69v2.74h-4.69zM234.83 1045.92h4.69v2.74h-4.69zM239.52 1045.92h4.69v2.74h-4.69zM309.89 1045.92h4.69v2.74h-4.69zM323.97 1045.92h4.69v2.74h-4.69zM80.02 1048.66h4.69v2.74h-4.69zM136.32 1048.66h4.69v2.74h-4.69zM150.39 1048.66h4.69v2.74h-4.69zM225.45 1048.66h4.69v2.74h-4.69zM244.22 1048.66h4.69v2.74h-4.69zM286.44 1048.66h4.69v2.74h-4.69zM380.26 1048.66h4.69v2.74h-4.69zM408.41 1048.66h4.69v2.74h-4.69z"/>
<path fill="#fafdc8" d="M108.17 777.40h4.69v2.74h-4.69zM141.01 777.40h4.69v2.74h-4.69zM192.61 777.40h4.69v2.74h-4.69zM225.45 777.40h4.69v2.74h-4.69zM230.14 777.40h4.69v2.74h-4.69zM258.29 777.40h4.69v2.74h-4.69zM333.35 777.40h4.69v2.74h-4.69zM352.11 777.40h4.69v2.74h-4.69zM408.41 777.40h4.69v2.74h-4.69zM75.33 780.14h4.69v2.74h-4.69zM108.17 780.14h4.69v2.74h-4.69zM117.55 780.14h4.69v2.74h-4.69zM141.01 780.14h4.69v2.74h-4.69zM244.22 780.14h4.69v2.74h-4.69zM253.60 780.14h4.69v2.74h-4.69zM314.58 780.14h4.69v2.74h-4.69zM361.50 780.14h4.69v2.74h-4.69zM103.48 782.88h4.69v2.74h-4.69zM126.93 782.88h4.69v2.74h-4.69zM169.16 782.88h4.69v2.74h-4.69zM220.76 782.88h4.69v2.74h-4.69zM234.83 782.88h4.69v2.74h-4.69zM267.67 782.88h4.69v2.74h-4.69zM323.97 782.88h4.69v2.74h-4.69zM338.04 782.88h4.69v2.74h-4.69zM375.57 782.88h4.69v2.74h-4.69zM394.34 782.88h4.69v2.74h-4.69zM131.62 785.62h4.69v2.74h-4.69zM169.16 785.62h4.69v2.74h-4.69zM216.07 785.62h4.69v2.74h-4.69zM234.83 785.62h4.69v2.74h-4.69zM352.11 785.62h4.69v2.74h-4.69zM370.88 785.62h4.69v2.74h-4.69zM384.95 785.62h4.69v2.74h-4.69zM408.41 785.62h4.69v2.74h-4.69zM56.56 788.36h4.69v2.74h-4.69zM89.40 788.36h4.69v2.74h-4.69zM103.48 788.36h4.69v2.74h-4.69zM112.86 788.36h4.69v2.74h-4.69zM136.32 788.36h4.69v2.74h-4.69zM187.92 788.36h4.69v2.74h-4.69zM244.22 788.36h4.69v2.74h-4.69zM286.44 788.36h4.69v2.74h-4.69zM338.04 788.36h4.69v2.74h-4.69zM361.50 788.36h4.69v2.74h-4.69zM314.58 791.10h4.69v2.74h-4.69zM333.35 791.10h4.69v2.74h-4.69zM65.95 793.84h4.69v2.74h-4.69zM84.71 793.84h4.69v2.74h-4.69zM103.48 793.84h4.69v2.74h-4.69zM131.62 793.84h4.69v2.74h-4.69zM150.39 793.84h4.69v2.74h-4.69zM155.08 793.84h4.69v2.74h-4.69zM192.61 793.84h4.69v2.74h-4.69zM272.36 793.84h4.69v2.74h-4.69zM277.05 793.84h4.69v2.74h-4.69zM408.41 793.84h4.69v2.74h-4.69zM84.71 796.58h4.69v2.74h-4.69zM103.48 796.58h4.69v2.74h-4.69zM169.16 796.58h4.69v2.74h-4.69zM178.54 796.58h4.69v2.74h-4.69zM192.61 796.58h4.69v2.74h-4.69zM225.45 796.58h4.69v2.74h-4.69zM239.52 796.58h4.69v2.74h-4.69zM267.67 796.58h4.69v2.74h-4.69zM370.88 796.58h4.69v2.74h-4.69zM408.41 796.58h4.69v2.74h-4.69zM61.26 799.32h4.69v2.74h-4.69zM94.09 799.32h4.69v2.74h-4.69zM122.24 799.32h4.69v2.74h-4.69zM197.30 799.32h4.69v2.74h-4.69zM281.75 799.32h4.69v2.74h-4.69zM291.13 799.32h4.69v2.74h-4.69zM333.35 799.32h4.69v2.74h-4.69zM361.50 799.32h4.69v2.74h-4.69zM84.71 802.06h4.69v2.74h-4.69zM164.46 802.06h4.69v2.74h-4.69zM192.61 802.06h4.69v2.74h-4.69zM206.69 802.06h4.69v2.74h-4.69zM267.67 802.06h4.69v2.74h-4.69zM286.44 802.06h4.69v2.74h-4.69zM389.64 802.06h4.69v2.74h-4.69zM65.95 804.80h4.69v2.74h-4.69zM98.79 804.80h4.69v2.74h-4.69zM141.01 804.80h4.69v2.74h-4.69zM159.77 804.80h4.69v2.74h-4.69zM173.85 804.80h4.69v2.74h-4.69zM201.99 804.80h4.69v2.74h-4.69zM216.07 804.80h4.69v2.74h-4.69zM234.83 804.80h4.69v2.74h-4.69zM258.29 804.80h4.69v2.74h-4.69zM295.82 804.80h4.69v2.74h-4.69zM342.73 804.80h4.69v2.74h-4.69zM361.50 804.80h4.69v2.74h-4.69zM80.02 807.54h4.69v2.74h-4.69zM112.86 807.54h4.69v2.74h-4.69zM136.32 807.54h4.69v2.74h-4.69zM164.46 807.54h4.69v2.74h-4.69zM173.85 807.54h4.69v2.74h-4.69zM178.54 807.54h4.69v2.74h-4.69zM206.69 807.54h4.69v2.74h-4.69zM291.13 807.54h4.69v2.74h-4.69zM361.50 807.54h4.69v2.74h-4.69zM126.93 810.28h4.69v2.74h-4.69zM150.39 810.28h4.69v2.74h-4.69zM155.08 810.28h4.69v2.74h-4.69zM183.23 810.28h4.69v2.74h-4.69zM323.97 810.28h4.69v2.74h-4.69zM352.11 810.28h4.69v2.74h-4.69zM42.49 813.02h4.69v2.74h-4.69zM75.33 813.02h4.69v2.74h-4.69zM84.71 813.02h4.69v2.74h-4.69zM98.79 813.02h4.69v2.74h-4.69zM122.24 813.02h4.69v2.74h-4.69zM159.77 813.02h4.69v2.74h-4.69zM178.54 813.02h4.69v2.74h-4.69zM206.69 813.02h4.69v2.74h-4.69zM352.11 813.02h4.69v2.74h-4.69zM370.88 813.02h4.69v2.74h-4.69zM384.95 813.02h4.69v2.74h-4.69zM37.80 815.76h4.69v2.74h-4.69zM42.49 815.76h4.69v2.74h-4.69zM47.18 815.76h4.69v2.74h-4.69zM61.26 815.76h4.69v2.74h-4.69zM75.33 815.76h4.69v2.74h-4.69zM84.71 815.76h4.69v2.74h-4.69zM141.01 815.76h4.69v2.74h-4.69zM159.77 815.76h4.69v2.74h-4.69zM258.29 815.76h4.69v2.74h-4.69zM89.40 818.50h4.69v2.74h-4.69zM112.86 818.50h4.69v2.74h-4.69zM117.55 818.50h4.69v2.74h-4.69zM141.01 818.50h4.69v2.74h-4.69zM216.07 818.50h4.69v2.74h-4.69zM300.51 818.50h4.69v2.74h-4.69zM305.20 818.50h4.69v2.74h-4.69zM370.88 818.50h4.69v2.74h-4.69zM75.33 821.24h4.69v2.74h-4.69zM155.08 821.24h4.69v2.74h-4.69zM178.54 821.24h4.69v2.74h-4.69zM192.61 821.24h4.69v2.74h-4.69zM375.57 821.24h4.69v2.74h-4.69zM141.01 823.98h4.69v2.74h-4.69zM216.07 823.98h4.69v2.74h-4.69zM225.45 823.98h4.69v2.74h-4.69zM51.87 826.72h4.69v2.74h-4.69zM61.26 826.72h4.69v2.74h-4.69zM75.33 826.72h4.69v2.74h-4.69zM98.79 826.72h4.69v2.74h-4.69zM103.48 826.72h4.69v2.74h-4.69zM108.17 826.72h4.69v2.74h-4.69zM122.24 826.72h4.69v2.74h-4.69zM126.93 826.72h4.69v2.74h-4.69zM136.32 826.72h4.69v2.74h-4.69zM159.77 826.72h4.69v2.74h-4.69zM230.14 826.72h4.69v2.74h-4.69zM234.83 826.72h4.69v2.74h-4.69zM239.52 826.72h4.69v2.74h-4.69zM258.29 826.72h4.69v2.74h-4.69zM309.89 826.72h4.69v2.74h-4.69zM380.26 826.72h4.69v2.74h-4.69zM84.71 829.46h4.69v2.74h-4.69zM145.70 829.46h4.69v2.74h-4.69zM169.16 829.46h4.69v2.74h-4.69zM173.85 829.46h4.69v2.74h-4.69zM183.23 829.46h4.69v2.74h-4.69zM206.69 829.46h4.69v2.74h-4.69zM262.98 829.46h4.69v2.74h-4.69zM80.02 832.20h4.69v2.74h-4.69zM94.09 832.20h4.69v2.74h-4.69zM117.55 832.20h4.69v2.74h-4.69zM155.08 832.20h4.69v2.74h-4.69zM164.46 832.20h4.69v2.74h-4.69zM277.05 832.20h4.69v2.74h-4.69zM295.82 832.20h4.69v2.74h-4.69zM136.32 834.94h4.69v2.74h-4.69zM291.13 834.94h4.69v2.74h-4.69zM89.40 837.68h4.69v2.74h-4.69zM122.24 837.68h4.69v2.74h-4.69zM141.01 837.68h4.69v2.74h-4.69zM230.14 837.68h4.69v2.74h-4.69zM267.67 837.68h4.69v2.74h-4.69zM305.20 837.68h4.69v2.74h-4.69zM399.03 837.68h4.69v2.74h-4.69zM408.41 837.68h4.69v2.74h-4.69zM37.80 840.42h4.69v2.74h-4.69zM75.33 840.42h4.69v2.74h-4.69zM80.02 840.42h4.69v2.74h-4.69zM103.48 840.42h4.69v2.74h-4.69zM122.24 840.42h4.69v2.74h-4.69zM131.62 840.42h4.69v2.74h-4.69zM150.39 840.42h4.69v2.74h-4.69zM159.77 840.42h4.69v2.74h-4.69zM211.38 840.42h4.69v2.74h-4.69zM216.07 840.42h4.69v2.74h-4.69zM234.83 840.42h4.69v2.74h-4.69zM253.60 840.42h4.69v2.74h-4.69zM277.05 840.42h4.69v2.74h-4.69zM314.58 840.42h4.69v2.74h-4.69zM352.11 840.42h4.69v2.74h-4.69zM56.56 843.16h4.69v2.74h-4.69zM84.71 843.16h4.69v2.74h-4.69zM159.77 843.16h4.69v2.74h-4.69zM187.92 843.16h4.69v2.74h-4.69zM192.61 843.16h4.69v2.74h-4.69zM300.51 843.16h4.69v2.74h-4.69zM323.97 843.16h4.69v2.74h-4.69zM356.81 843.16h4.69v2.74h-4.69zM51.87 845.90h4.69v2.74h-4.69zM112.86 845.90h4.69v2.74h-4.69zM131.62 845.90h4.69v2.74h-4.69zM155.08 845.90h4.69v2.74h-4.69zM211.38 845.90h4.69v2.74h-4.69zM220.76 845.90h4.69v2.74h-4.69zM234.83 845.90h4.69v2.74h-4.69zM309.89 845.90h4.69v2.74h-4.69zM342.73 845.90h4.69v2.74h-4.69zM361.50 845.90h4.69v2.74h-4.69zM42.49 848.64h4.69v2.74h-4.69zM70.64 848.64h4.69v2.74h-4.69zM126.93 848.64h4.69v2.74h-4.69zM150.39 848.64h4.69v2.74h-4.69zM173.85 848.64h4.69v2.74h-4.69zM187.92 848.64h4.69v2.74h-4.69zM206.69 848.64h4.69v2.74h-4.69zM216.07 848.64h4.69v2.74h-4.69zM267.67 848.64h4.69v2.74h-4.69zM305.20 848.64h4.69v2.74h-4.69zM408.41 848.64h4.69v2.74h-4.69zM42.49 851.38h4.69v2.74h-4.69zM51.87 851.38h4.69v2.74h-4.69zM61.26 851.38h4.69v2.74h-4.69zM65.95 851.38h4.69v2.74h-4.69zM80.02 851.38h4.69v2.74h-4.69zM98.79 851.38h4.69v2.74h-4.69zM126.93 851.38h4.69v2.74h-4.69zM150.39 851.38h4.69v2.74h-4.69zM192.61 851.38h4.69v2.74h-4.69zM197.30 851.38h4.69v2.74h-4.69zM206.69 851.38h4.69v2.74h-4.69zM248.91 851.38h4.69v2.74h-4.69zM42.49 854.12h4.69v2.74h-4.69zM47.18 854.12h4.69v2.74h-4.69zM117.55 854.12h4.69v2.74h-4.69zM173.85 854.12h4.69v2.74h-4.69zM192.61 854.12h4.69v2.74h-4.69zM258.29 854.12h4.69v2.74h-4.69zM37.80 856.86h4.69v2.74h-4.69zM56.56 856.86h4.69v2.74h-4.69zM98.79 856.86h4.69v2.74h-4.69zM136.32 856.86h4.69v2.74h-4.69zM145.70 856.86h4.69v2.74h-4.69zM206.69 856.86h4.69v2.74h-4.69zM239.52 856.86h4.69v2.74h-4.69zM333.35 856.86h4.69v2.74h-4.69zM42.49 859.60h4.69v2.74h-4.69zM80.02 859.60h4.69v2.74h-4.69zM108.17 859.60h4.69v2.74h-4.69zM150.39 859.60h4.69v2.74h-4.69zM253.60 859.60h4.69v2.74h-4.69zM314.58 859.60h4.69v2.74h-4.69zM89.40 862.34h4.69v2.74h-4.69zM131.62 862.34h4.69v2.74h-4.69zM197.30 862.34h4.69v2.74h-4.69zM211.38 862.34h4.69v2.74h-4.69zM239.52 862.34h4.69v2.74h-4.69zM248.91 862.34h4.69v2.74h-4.69zM281.75 862.34h4.69v2.74h-4.69zM352.11 862.34h4.69v2.74h-4.69zM356.81 862.34h4.69v2.74h-4.69zM370.88 862.34h4.69v2.74h-4.69zM42.49 865.08h4.69v2.74h-4.69zM51.87 865.08h4.69v2.74h-4.69zM70.64 865.08h4.69v2.74h-4.69zM178.54 865.08h4.69v2.74h-4.69zM234.83 865.08h4.69v2.74h-4.69zM323.97 865.08h4.69v2.74h-4.69zM408.41 865.08h4.69v2.74h-4.69zM56.56 867.82h4.69v2.74h-4.69zM94.09 867.82h4.69v2.74h-4.69zM150.39 867.82h4.69v2.74h-4.69zM159.77 867.82h4.69v2.74h-4.69zM169.16 867.82h4.69v2.74h-4.69zM173.85 867.82h4.69v2.74h-4.69zM323.97 867.82h4.69v2.74h-4.69zM338.04 867.82h4.69v2.74h-4.69zM56.56 870.56h4.69v2.74h-4.69zM103.48 870.56h4.69v2.74h-4.69zM159.77 870.56h4.69v2.74h-4.69zM164.46 870.56h4.69v2.74h-4.69zM206.69 870.56h4.69v2.74h-4.69zM234.83 870.56h4.69v2.74h-4.69zM267.67 870.56h4.69v2.74h-4.69zM281.75 870.56h4.69v2.74h-4.69zM333.35 870.56h4.69v2.74h-4.69zM61.26 873.30h4.69v2.74h-4.69zM75.33 873.30h4.69v2.74h-4.69zM150.39 873.30h4.69v2.74h-4.69zM183.23 873.30h4.69v2.74h-4.69zM211.38 873.30h4.69v2.74h-4.69zM258.29 873.30h4.69v2.74h-4.69zM314.58 873.30h4.69v2.74h-4.69zM352.11 873.30h4.69v2.74h-4.69zM356.81 873.30h4.69v2.74h-4.69zM173.85 876.04h4.69v2.74h-4.69zM183.23 876.04h4.69v2.74h-4.69zM234.83 876.04h4.69v2.74h-4.69zM248.91 876.04h4.69v2.74h-4.69zM277.05 876.04h4.69v2.74h-4.69zM328.66 876.04h4.69v2.74h-4.69zM37.80 878.78h4.69v2.74h-4.69zM117.55 878.78h4.69v2.74h-4.69zM131.62 878.78h4.69v2.74h-4.69zM141.01 878.78h4.69v2.74h-4.69zM187.92 878.78h4.69v2.74h-4.69zM201.99 878.78h4.69v2.74h-4.69zM239.52 878.78h4.69v2.74h-4.69zM333.35 878.78h4.69v2.74h-4.69zM80.02 881.52h4.69v2.74h-4.69zM122.24 881.52h4.69v2.74h-4.69zM159.77 881.52h4.69v2.74h-4.69zM197.30 881.52h4.69v2.74h-4.69zM220.76 881.52h4.69v2.74h-4.69zM234.83 881.52h4.69v2.74h-4.69zM258.29 881.52h4.69v2.74h-4.69zM286.44 881.52h4.69v2.74h-4.69zM319.28 881.52h4.69v2.74h-4.69zM347.42 881.52h4.69v2.74h-4.69zM94.09 884.26h4.69v2.74h-4.69zM98.79 884.26h4.69v2.74h-4.69zM150.39 884.26h4.69v2.74h-4.69zM164.46 884.26h4.69v2.74h-4.69zM173.85 884.26h4.69v2.74h-4.69zM305.20 884.26h4.69v2.74h-4.69zM347.42 884.26h4.69v2.74h-4.69zM375.57 884.26h4.69v2.74h-4.69zM42.49 887.00h4.69v2.74h-4.69zM51.87 887.00h4.69v2.74h-4.69zM56.56 887.00h4.69v2.74h-4.69zM80.02 887.00h4.69v2.74h-4.69zM94.09 887.00h4.69v2.74h-4.69zM112.86 887.00h4.69v2.74h-4.69zM131.62 887.00h4.69v2.74h-4.69zM169.16 887.00h4.69v2.74h-4.69zM178.54 887.00h4.69v2.74h-4.69zM197.30 887.00h4.69v2.74h-4.69zM211.38 887.00h4.69v2.74h-4.69zM319.28 887.00h4.69v2.74h-4.69zM384.95 887.00h4.69v2.74h-4.69zM108.17 889.74h4.69v2.74h-4.69zM112.86 889.74h4.69v2.74h-4.69zM164.46 889.74h4.69v2.74h-4.69zM183.23 889.74h4.69v2.74h-4.69zM201.99 889.74h4.69v2.74h-4.69zM206.69 889.74h4.69v2.74h-4.69zM239.52 889.74h4.69v2.74h-4.69zM262.98 889.74h4.69v2.74h-4.69zM277.05 889.74h4.69v2.74h-4.69zM51.87 892.48h4.69v2.74h-4.69zM131.62 892.48h4.69v2.74h-4.69zM394.34 892.48h4.69v2.74h-4.69zM403.72 892.48h4.69v2.74h-4.69zM61.26 895.22h4.69v2.74h-4.69zM80.02 895.22h4.69v2.74h-4.69zM108.17 895.22h4.69v2.74h-4.69zM112.86 895.22h4.69v2.74h-4.69zM122.24 895.22h4.69v2.74h-4.69zM141.01 895.22h4.69v2.74h-4.69zM164.46 895.22h4.69v2.74h-4.69zM187.92 895.22h4.69v2.74h-4.69zM197.30 895.22h4.69v2.74h-4.69zM206.69 895.22h4.69v2.74h-4.69zM239.52 895.22h4.69v2.74h-4.69zM262.98 895.22h4.69v2.74h-4.69zM328.66 895.22h4.69v2.74h-4.69zM352.11 895.22h4.69v2.74h-4.69zM80.02 897.96h4.69v2.74h-4.69zM112.86 897.96h4.69v2.74h-4.69zM131.62 897.96h4.69v2.74h-4.69zM164.46 897.96h4.69v2.74h-4.69zM169.16 897.96h4.69v2.74h-4.69zM187.92 897.96h4.69v2.74h-4.69zM295.82 897.96h4.69v2.74h-4.69zM314.58 897.96h4.69v2.74h-4.69zM328.66 897.96h4.69v2.74h-4.69zM394.34 897.96h4.69v2.74h-4.69zM403.72 897.96h4.69v2.74h-4.69zM42.49 900.70h4.69v2.74h-4.69zM75.33 900.70h4.69v2.74h-4.69zM94.09 900.70h4.69v2.74h-4.69zM323.97 900.70h4.69v2.74h-4.69zM408.41 900.70h4.69v2.74h-4.69zM155.08 903.44h4.69v2.74h-4.69zM159.77 903.44h4.69v2.74h-4.69zM201.99 903.44h4.69v2.74h-4.69zM239.52 903.44h4.69v2.74h-4.69zM258.29 903.44h4.69v2.74h-4.69zM305.20 903.44h4.69v2.74h-4.69zM347.42 903.44h4.69v2.74h-4.69zM361.50 903.44h4.69v2.74h-4.69zM150.39 906.18h4.69v2.74h-4.69zM155.08 906.18h4.69v2.74h-4.69zM159.77 906.18h4.69v2.74h-4.69zM164.46 906.18h4.69v2.74h-4.69zM220.76 906.18h4.69v2.74h-4.69zM291.13 906.18h4.69v2.74h-4.69zM309.89 906.18h4.69v2.74h-4.69zM323.97 906.18h4.69v2.74h-4.69zM333.35 906.18h4.69v2.74h-4.69zM361.50 906.18h4.69v2.74h-4.69zM80.02 908.92h4.69v2.74h-4.69zM84.71 908.92h4.69v2.74h-4.69zM89.40 908.92h4.69v2.74h-4.69zM117.55 908.92h4.69v2.74h-4.69zM159.77 908.92h4.69v2.74h-4.69zM197.30 908.92h4.69v2.74h-4.69zM253.60 908.92h4.69v2.74h-4.69zM328.66 908.92h4.69v2.74h-4.69zM84.71 911.66h4.69v2.74h-4.69zM98.79 911.66h4.69v2.74h-4.69zM103.48 911.66h4.69v2.74h-4.69zM150.39 911.66h4.69v2.74h-4.69zM225.45 911.66h4.69v2.74h-4.69zM234.83 911.66h4.69v2.74h-4.69zM281.75 911.66h4.69v2.74h-4.69zM328.66 911.66h4.69v2.74h-4.69zM347.42 911.66h4.69v2.74h-4.69zM108.17 914.40h4.69v2.74h-4.69zM145.70 914.40h4.69v2.74h-4.69zM150.39 914.40h4.69v2.74h-4.69zM169.16 914.40h4.69v2.74h-4.69zM178.54 914.40h4.69v2.74h-4.69zM309.89 914.40h4.69v2.74h-4.69zM380.26 914.40h4.69v2.74h-4.69zM84.71 917.14h4.69v2.74h-4.69zM211.38 917.14h4.69v2.74h-4.69zM220.76 917.14h4.69v2.74h-4.69zM244.22 917.14h4.69v2.74h-4.69zM305.20 917.14h4.69v2.74h-4.69zM42.49 919.88h4.69v2.74h-4.69zM94.09 919.88h4.69v2.74h-4.69zM117.55 919.88h4.69v2.74h-4.69zM122.24 919.88h4.69v2.74h-4.69zM126.93 919.88h4.69v2.74h-4.69zM159.77 919.88h4.69v2.74h-4.69zM187.92 919.88h4.69v2.74h-4.69zM216.07 919.88h4.69v2.74h-4.69zM323.97 919.88h4.69v2.74h-4.69zM37.80 922.62h4.69v2.74h-4.69zM42.49 922.62h4.69v2.74h-4.69zM117.55 922.62h4.69v2.74h-4.69zM145.70 922.62h4.69v2.74h-4.69zM150.39 922.62h4.69v2.74h-4.69zM178.54 922.62h4.69v2.74h-4.69zM192.61 922.62h4.69v2.74h-4.69zM197.30 922.62h4.69v2.74h-4.69zM234.83 922.62h4.69v2.74h-4.69zM258.29 922.62h4.69v2.74h-4.69zM314.58 922.62h4.69v2.74h-4.69zM51.87 925.36h4.69v2.74h-4.69zM80.02 925.36h4.69v2.74h-4.69zM89.40 925.36h4.69v2.74h-4.69zM126.93 925.36h4.69v2.74h-4.69zM192.61 925.36h4.69v2.74h-4.69zM216.07 925.36h4.69v2.74h-4.69zM234.83 925.36h4.69v2.74h-4.69zM356.81 925.36h4.69v2.74h-4.69zM399.03 925.36h4.69v2.74h-4.69zM75.33 928.10h4.69v2.74h-4.69zM84.71 928.10h4.69v2.74h-4.69zM159.77 928.10h4.69v2.74h-4.69zM314.58 928.10h4.69v2.74h-4.69zM352.11 928.10h4.69v2.74h-4.69zM370.88 928.10h4.69v2.74h-4.69zM145.70 930.84h4.69v2.74h-4.69zM159.77 930.84h4.69v2.74h-4.69zM272.36 930.84h4.69v2.74h-4.69zM328.66 930.84h4.69v2.74h-4.69zM361.50 930.84h4.69v2.74h-4.69zM389.64 930.84h4.69v2.74h-4.69zM399.03 930.84h4.69v2.74h-4.69zM403.72 930.84h4.69v2.74h-4.69zM98.79 933.58h4.69v2.74h-4.69zM103.48 933.58h4.69v2.74h-4.69zM155.08 933.58h4.69v2.74h-4.69zM361.50 933.58h4.69v2.74h-4.69zM37.80 936.32h4.69v2.74h-4.69zM51.87 936.32h4.69v2.74h-4.69zM89.40 936.32h4.69v2.74h-4.69zM141.01 936.32h4.69v2.74h-4.69zM145.70 936.32h4.69v2.74h-4.69zM169.16 936.32h4.69v2.74h-4.69zM173.85 936.32h4.69v2.74h-4.69zM187.92 936.32h4.69v2.74h-4.69zM192.61 936.32h4.69v2.74h-4.69zM225.45 936.32h4.69v2.74h-4.69zM258.29 936.32h4.69v2.74h-4.69zM328.66 936.32h4.69v2.74h-4.69zM370.88 936.32h4.69v2.74h-4.69zM164.46 939.06h4.69v2.74h-4.69zM220.76 939.06h4.69v2.74h-4.69zM328.66 939.06h4.69v2.74h-4.69zM399.03 939.06h4.69v2.74h-4.69zM70.64 941.80h4.69v2.74h-4.69zM136.32 941.80h4.69v2.74h-4.69zM159.77 941.80h4.69v2.74h-4.69zM164.46 941.80h4.69v2.74h-4.69zM201.99 941.80h4.69v2.74h-4.69zM277.05 941.80h4.69v2.74h-4.69zM333.35 941.80h4.69v2.74h-4.69zM56.56 944.54h4.69v2.74h-4.69zM75.33 944.54h4.69v2.74h-4.69zM159.77 944.54h4.69v2.74h-4.69zM164.46 944.54h4.69v2.74h-4.69zM169.16 944.54h4.69v2.74h-4.69zM239.52 944.54h4.69v2.74h-4.69zM291.13 944.54h4.69v2.74h-4.69zM342.73 944.54h4.69v2.74h-4.69zM399.03 944.54h4.69v2.74h-4.69zM403.72 944.54h4.69v2.74h-4.69zM65.95 947.28h4.69v2.74h-4.69zM216.07 947.28h4.69v2.74h-4.69zM220.76 947.28h4.69v2.74h-4.69zM262.98 947.28h4.69v2.74h-4.69zM314.58 947.28h4.69v2.74h-4.69zM380.26 947.28h4.69v2.74h-4.69zM47.18 950.02h4.69v2.74h-4.69zM56.56 950.02h4.69v2.74h-4.69zM112.86 950.02h4.69v2.74h-4.69zM117.55 950.02h4.69v2.74h-4.69zM131.62 950.02h4.69v2.74h-4.69zM267.67 950.02h4.69v2.74h-4.69zM375.57 950.02h4.69v2.74h-4.69zM94.09 952.76h4.69v2.74h-4.69zM122.24 952.76h4.69v2.74h-4.69zM159.77 952.76h4.69v2.74h-4.69zM187.92 952.76h4.69v2.74h-4.69zM192.61 952.76h4.69v2.74h-4.69zM239.52 952.76h4.69v2.74h-4.69zM75.33 955.50h4.69v2.74h-4.69zM103.48 955.50h4.69v2.74h-4.69zM126.93 955.50h4.69v2.74h-4.69zM225.45 955.50h4.69v2.74h-4.69zM253.60 955.50h4.69v2.74h-4.69zM291.13 955.50h4.69v2.74h-4.69zM305.20 955.50h4.69v2.74h-4.69zM328.66 955.50h4.69v2.74h-4.69zM399.03 955.50h4.69v2.74h-4.69zM112.86 958.24h4.69v2.74h-4.69zM150.39 958.24h4.69v2.74h-4.69zM164.46 958.24h4.69v2.74h-4.69zM169.16 958.24h4.69v2.74h-4.69zM187.92 958.24h4.69v2.74h-4.69zM244.22 958.24h4.69v2.74h-4.69zM319.28 958.24h4.69v2.74h-4.69zM333.35 958.24h4.69v2.74h-4.69zM361.50 958.24h4.69v2.74h-4.69zM108.17 960.98h4.69v2.74h-4.69zM159.77 960.98h4.69v2.74h-4.69zM197.30 960.98h4.69v2.74h-4.69zM211.38 960.98h4.69v2.74h-4.69zM220.76 960.98h4.69v2.74h-4.69zM234.83 960.98h4.69v2.74h-4.69zM361.50 960.98h4.69v2.74h-4.69zM80.02 963.72h4.69v2.74h-4.69zM89.40 963.72h4.69v2.74h-4.69zM159.77 963.72h4.69v2.74h-4.69zM234.83 963.72h4.69v2.74h-4.69zM352.11 963.72h4.69v2.74h-4.69zM394.34 963.72h4.69v2.74h-4.69zM56.56 966.46h4.69v2.74h-4.69zM112.86 966.46h4.69v2.74h-4.69zM126.93 966.46h4.69v2.74h-4.69zM164.46 966.46h4.69v2.74h-4.69zM178.54 966.46h4.69v2.74h-4.69zM328.66 966.46h4.69v2.74h-4.69zM375.57 966.46h4.69v2.74h-4.69zM103.48 969.20h4.69v2.74h-4.69zM141.01 969.20h4.69v2.74h-4.69zM155.08 969.20h4.69v2.74h-4.69zM164.46 969.20h4.69v2.74h-4.69zM178.54 969.20h4.69v2.74h-4.69zM258.29 969.20h4.69v2.74h-4.69zM356.81 969.20h4.69v2.74h-4.69zM141.01 971.94h4.69v2.74h-4.69zM216.07 971.94h4.69v2.74h-4.69zM225.45 971.94h4.69v2.74h-4.69zM342.73 971.94h4.69v2.74h-4.69zM370.88 971.94h4.69v2.74h-4.69zM65.95 974.68h4.69v2.74h-4.69zM94.09 974.68h4.69v2.74h-4.69zM178.54 974.68h4.69v2.74h-4.69zM197.30 974.68h4.69v2.74h-4.69zM234.83 974.68h4.69v2.74h-4.69zM394.34 974.68h4.69v2.74h-4.69zM37.80 977.42h4.69v2.74h-4.69zM89.40 977.42h4.69v2.74h-4.69zM108.17 977.42h4.69v2.74h-4.69zM126.93 977.42h4.69v2.74h-4.69zM145.70 977.42h4.69v2.74h-4.69zM173.85 977.42h4.69v2.74h-4.69zM192.61 977.42h4.69v2.74h-4.69zM309.89 977.42h4.69v2.74h-4.69zM338.04 977.42h4.69v2.74h-4.69zM394.34 977.42h4.69v2.74h-4.69zM65.95 980.16h4.69v2.74h-4.69zM70.64 980.16h4.69v2.74h-4.69zM75.33 980.16h4.69v2.74h-4.69zM169.16 980.16h4.69v2.74h-4.69zM211.38 980.16h4.69v2.74h-4.69zM323.97 980.16h4.69v2.74h-4.69zM399.03 980.16h4.69v2.74h-4.69zM183.23 982.90h4.69v2.74h-4.69zM192.61 982.90h4.69v2.74h-4.69zM206.69 982.90h4.69v2.74h-4.69zM403.72 982.90h4.69v2.74h-4.69zM42.49 985.64h4.69v2.74h-4.69zM192.61 985.64h4.69v2.74h-4.69zM84.71 988.38h4.69v2.74h-4.69zM108.17 988.38h4.69v2.74h-4.69zM131.62 988.38h4.69v2.74h-4.69zM155.08 988.38h4.69v2.74h-4.69zM220.76 988.38h4.69v2.74h-4.69zM244.22 988.38h4.69v2.74h-4.69zM319.28 988.38h4.69v2.74h-4.69zM361.50 988.38h4.69v2.74h-4.69zM366.19 988.38h4.69v2.74h-4.69zM394.34 988.38h4.69v2.74h-4.69zM126.93 991.12h4.69v2.74h-4.69zM155.08 991.12h4.69v2.74h-4.69zM159.77 991.12h4.69v2.74h-4.69zM220.76 991.12h4.69v2.74h-4.69zM258.29 991.12h4.69v2.74h-4.69zM394.34 991.12h4.69v2.74h-4.69zM141.01 993.86h4.69v2.74h-4.69zM150.39 993.86h4.69v2.74h-4.69zM206.69 993.86h4.69v2.74h-4.69zM272.36 993.86h4.69v2.74h-4.69zM281.75 993.86h4.69v2.74h-4.69zM295.82 993.86h4.69v2.74h-4.69zM323.97 993.86h4.69v2.74h-4.69zM338.04 993.86h4.69v2.74h-4.69zM342.73 993.86h4.69v2.74h-4.69zM361.50 993.86h4.69v2.74h-4.69zM65.95 996.60h4.69v2.74h-4.69zM103.48 996.60h4.69v2.74h-4.69zM131.62 996.60h4.69v2.74h-4.69zM141.01 996.60h4.69v2.74h-4.69zM169.16 996.60h4.69v2.74h-4.69zM173.85 996.60h4.69v2.74h-4.69zM201.99 996.60h4.69v2.74h-4.69zM281.75 996.60h4.69v2.74h-4.69zM389.64 996.60h4.69v2.74h-4.69zM94.09 999.34h4.69v2.74h-4.69zM197.30 999.34h4.69v2.74h-4.69zM61.26 1002.08h4.69v2.74h-4.69zM103.48 1002.08h4.69v2.74h-4.69zM244.22 1002.08h4.69v2.74h-4.69zM253.60 1002.08h4.69v2.74h-4.69zM84.71 1004.82h4.69v2.74h-4.69zM145.70 1004.82h4.69v2.74h-4.69zM234.83 1004.82h4.69v2.74h-4.69zM286.44 1004.82h4.69v2.74h-4.69zM319.28 1004.82h4.69v2.74h-4.69zM333.35 1004.82h4.69v2.74h-4.69zM51.87 1007.56h4.69v2.74h-4.69zM56.56 1007.56h4.69v2.74h-4.69zM108.17 1007.56h4.69v2.74h-4.69zM169.16 1007.56h4.69v2.74h-4.69zM173.85 1007.56h4.69v2.74h-4.69zM201.99 1007.56h4.69v2.74h-4.69zM323.97 1007.56h4.69v2.74h-4.69zM37.80 1010.30h4.69v2.74h-4.69zM122.24 1010.30h4.69v2.74h-4.69zM150.39 1010.30h4.69v2.74h-4.69zM169.16 1010.30h4.69v2.74h-4.69zM173.85 1010.30h4.69v2.74h-4.69zM216.07 1010.30h4.69v2.74h-4.69zM230.14 1010.30h4.69v2.74h-4.69zM277.05 1010.30h4.69v2.74h-4.69zM342.73 1010.30h4.69v2.74h-4.69zM361.50 1010.30h4.69v2.74h-4.69zM384.95 1010.30h4.69v2.74h-4.69zM47.18 1013.04h4.69v2.74h-4.69zM56.56 1013.04h4.69v2.74h-4.69zM108.17 1013.04h4.69v2.74h-4.69zM117.55 1013.04h4.69v2.74h-4.69zM126.93 1013.04h4.69v2.74h-4.69zM150.39 1013.04h4.69v2.74h-4.69zM159.77 1013.04h4.69v2.74h-4.69zM281.75 1013.04h4.69v2.74h-4.69zM352.11 1013.04h4.69v2.74h-4.69zM61.26 1015.78h4.69v2.74h-4.69zM70.64 1015.78h4.69v2.74h-4.69zM112.86 1015.78h4.69v2.74h-4.69zM122.24 1015.78h4.69v2.74h-4.69zM145.70 1015.78h4.69v2.74h-4.69zM159.77 1015.78h4.69v2.74h-4.69zM169.16 1015.78h4.69v2.74h-4.69zM216.07 1015.78h4.69v2.74h-4.69zM305.20 1015.78h4.69v2.74h-4.69zM408.41 1015.78h4.69v2.74h-4.69zM42.49 1018.52h4.69v2.74h-4.69zM51.87 1018.52h4.69v2.74h-4.69zM98.79 1018.52h4.69v2.74h-4.69zM103.48 1018.52h4.69v2.74h-4.69zM126.93 1018.52h4.69v2.74h-4.69zM216.07 1018.52h4.69v2.74h-4.69zM234.83 1018.52h4.69v2.74h-4.69zM244.22 1018.52h4.69v2.74h-4.69zM262.98 1018.52h4.69v2.74h-4.69zM305.20 1018.52h4.69v2.74h-4.69zM380.26 1018.52h4.69v2.74h-4.69zM108.17 1021.26h4.69v2.74h-4.69zM122.24 1021.26h4.69v2.74h-4.69zM141.01 1021.26h4.69v2.74h-4.69zM145.70 1021.26h4.69v2.74h-4.69zM150.39 1021.26h4.69v2.74h-4.69zM187.92 1021.26h4.69v2.74h-4.69zM286.44 1021.26h4.69v2.74h-4.69zM98.79 1024.00h4.69v2.74h-4.69zM108.17 1024.00h4.69v2.74h-4.69zM122.24 1024.00h4.69v2.74h-4.69zM187.92 1024.00h4.69v2.74h-4.69zM216.07 1024.00h4.69v2.74h-4.69zM253.60 1024.00h4.69v2.74h-4.69zM319.28 1024.00h4.69v2.74h-4.69zM361.50 1024.00h4.69v2.74h-4.69zM103.48 1026.74h4.69v2.74h-4.69zM150.39 1026.74h4.69v2.74h-4.69zM178.54 1026.74h4.69v2.74h-4.69zM211.38 1026.74h4.69v2.74h-4.69zM338.04 1026.74h4.69v2.74h-4.69zM51.87 1029.48h4.69v2.74h-4.69zM187.92 1029.48h4.69v2.74h-4.69zM399.03 1029.48h4.69v2.74h-4.69zM65.95 1032.22h4.69v2.74h-4.69zM84.71 1032.22h4.69v2.74h-4.69zM89.40 1032.22h4.69v2.74h-4.69zM136.32 1032.22h4.69v2.74h-4.69zM164.46 1032.22h4.69v2.74h-4.69zM272.36 1032.22h4.69v2.74h-4.69zM291.13 1032.22h4.69v2.74h-4.69zM319.28 1032.22h4.69v2.74h-4.69zM80.02 1034.96h4.69v2.74h-4.69zM155.08 1034.96h4.69v2.74h-4.69zM187.92 1034.96h4.69v2.74h-4.69zM192.61 1034.96h4.69v2.74h-4.69zM225.45 1034.96h4.69v2.74h-4.69zM234.83 1034.96h4.69v2.74h-4.69zM239.52 1034.96h4.69v2.74h-4.69zM51.87 1037.70h4.69v2.74h-4.69zM126.93 1037.70h4.69v2.74h-4.69zM173.85 1037.70h4.69v2.74h-4.69zM192.61 1037.70h4.69v2.74h-4.69zM201.99 1037.70h4.69v2.74h-4.69zM347.42 1037.70h4.69v2.74h-4.69zM370.88 1037.70h4.69v2.74h-4.69zM37.80 1040.44h4.69v2.74h-4.69zM56.56 1040.44h4.69v2.74h-4.69zM75.33 1040.44h4.69v2.74h-4.69zM253.60 1040.44h4.69v2.74h-4.69zM281.75 1040.44h4.69v2.74h-4.69zM286.44 1040.44h4.69v2.74h-4.69zM319.28 1040.44h4.69v2.74h-4.69zM342.73 1040.44h4.69v2.74h-4.69zM84.71 1043.18h4.69v2.74h-4.69zM108.17 1043.18h4.69v2.74h-4.69zM197.30 1043.18h4.69v2.74h-4.69zM216.07 1043.18h4.69v2.74h-4.69zM47.18 1045.92h4.69v2.74h-4.69zM84.71 1045.92h4.69v2.74h-4.69zM150.39 1045.92h4.69v2.74h-4.69zM155.08 1045.92h4.69v2.74h-4.69zM220.76 1045.92h4.69v2.74h-4.69zM305.20 1045.92h4.69v2.74h-4.69zM394.34 1045.92h4.69v2.74h-4.69zM103.48 1048.66h4.69v2.74h-4.69zM108.17 1048.66h4.69v2.74h-4.69zM131.62 1048.66h4.69v2.74h-4.69zM159.77 1048.66h4.69v2.74h-4.69zM164.46 1048.66h4.69v2.74h-4.69zM183.23 1048.66h4.69v2.74h-4.69zM220.76 1048.66h4.69v2.74h-4.69zM267.67 1048.66h4.69v2.74h-4.69zM309.89 1048.66h4.69v2.74h-4.69zM323.97 1048.66h4.69v2.74h-4.69z"/>
<path fill="#edf8e0" d="M131.62 777.40h4.69v2.74h-4.69zM295.82 777.40h4.69v2.74h-4.69zM277.05 780.14h4.69v2.74h-4.69zM178.54 782.88h4.69v2.74h-4.69zM323.97 785.62h4.69v2.74h-4.69zM338.04 785.62h4.69v2.74h-4.69zM361.50 785.62h4.69v2.74h-4.69zM75.33 788.36h4.69v2.74h-4.69zM220.76 788.36h4.69v2.74h-4.69zM352.11 788.36h4.69v2.74h-4.69zM61.26 793.84h4.69v2.74h-4.69zM136.32 793.84h4.69v2.74h-4.69zM141.01 793.84h4.69v2.74h-4.69zM319.28 793.84h4.69v2.74h-4.69zM333.35 793.84h4.69v2.74h-4.69zM47.18 796.58h4.69v2.74h-4.69zM56.56 796.58h4.69v2.74h-4.69zM70.64 796.58h4.69v2.74h-4.69zM80.02 796.58h4.69v2.74h-4.69zM108.17 796.58h4.69v2.74h-4.69zM117.55 796.58h4.69v2.74h-4.69zM126.93 796.58h4.69v2.74h-4.69zM338.04 796.58h4.69v2.74h-4.69zM155.08 799.32h4.69v2.74h-4.69zM164.46 799.32h4.69v2.74h-4.69zM192.61 799.32h4.69v2.74h-4.69zM234.83 799.32h4.69v2.74h-4.69zM141.01 802.06h4.69v2.74h-4.69zM173.85 802.06h4.69v2.74h-4.69zM361.50 802.06h4.69v2.74h-4.69zM408.41 802.06h4.69v2.74h-4.69zM94.09 804.80h4.69v2.74h-4.69zM103.48 804.80h4.69v2.74h-4.69zM122.24 804.80h4.69v2.74h-4.69zM183.23 804.80h4.69v2.74h-4.69zM89.40 807.54h4.69v2.74h-4.69zM183.23 807.54h4.69v2.74h-4.69zM230.14 807.54h4.69v2.74h-4.69zM244.22 807.54h4.69v2.74h-4.69zM300.51 807.54h4.69v2.74h-4.69zM342.73 807.54h4.69v2.74h-4.69zM70.64 810.28h4.69v2.74h-4.69zM122.24 810.28h4.69v2.74h-4.69zM141.01 810.28h4.69v2.74h-4.69zM197.30 810.28h4.69v2.74h-4.69zM230.14 810.28h4.69v2.74h-4.69zM291.13 810.28h4.69v2.74h-4.69zM338.04 810.28h4.69v2.74h-4.69zM366.19 810.28h4.69v2.74h-4.69zM389.64 810.28h4.69v2.74h-4.69zM394.34 810.28h4.69v2.74h-4.69zM262.98 813.02h4.69v2.74h-4.69zM51.87 815.76h4.69v2.74h-4.69zM206.69 815.76h4.69v2.74h-4.69zM239.52 815.76h4.69v2.74h-4.69zM253.60 815.76h4.69v2.74h-4.69zM37.80 818.50h4.69v2.74h-4.69zM42.49 818.50h4.69v2.74h-4.69zM51.87 818.50h4.69v2.74h-4.69zM75.33 818.50h4.69v2.74h-4.69zM169.16 818.50h4.69v2.74h-4.69zM173.85 818.50h4.69v2.74h-4.69zM230.14 818.50h4.69v2.74h-4.69zM47.18 821.24h4.69v2.74h-4.69zM126.93 821.24h4.69v2.74h-4.69zM216.07 821.24h4.69v2.74h-4.69zM234.83 821.24h4.69v2.74h-4.69zM51.87 823.98h4.69v2.74h-4.69zM89.40 823.98h4.69v2.74h-4.69zM150.39 823.98h4.69v2.74h-4.69zM159.77 823.98h4.69v2.74h-4.69zM211.38 823.98h4.69v2.74h-4.69zM234.83 823.98h4.69v2.74h-4.69zM258.29 823.98h4.69v2.74h-4.69zM295.82 823.98h4.69v2.74h-4.69zM37.80 826.72h4.69v2.74h-4.69zM65.95 826.72h4.69v2.74h-4.69zM112.86 826.72h4.69v2.74h-4.69zM117.55 826.72h4.69v2.74h-4.69zM141.01 826.72h4.69v2.74h-4.69zM211.38 826.72h4.69v2.74h-4.69zM216.07 826.72h4.69v2.74h-4.69zM281.75 826.72h4.69v2.74h-4.69zM75.33 829.46h4.69v2.74h-4.69zM80.02 829.46h4.69v2.74h-4.69zM131.62 829.46h4.69v2.74h-4.69zM141.01 829.46h4.69v2.74h-4.69zM159.77 829.46h4.69v2.74h-4.69zM323.97 829.46h4.69v2.74h-4.69zM394.34 829.46h4.69v2.74h-4.69zM61.26 832.20h4.69v2.74h-4.69zM70.64 832.20h4.69v2.74h-4.69zM145.70 832.20h4.69v2.74h-4.69zM80.02 834.94h4.69v2.74h-4.69zM89.40 834.94h4.69v2.74h-4.69zM94.09 834.94h4.69v2.74h-4.69zM126.93 834.94h4.69v2.74h-4.69zM159.77 834.94h4.69v2.74h-4.69zM192.61 834.94h4.69v2.74h-4.69zM197.30 834.94h4.69v2.74h-4.69zM201.99 834.94h4.69v2.74h-4.69zM206.69 834.94h4.69v2.74h-4.69zM248.91 834.94h4.69v2.74h-4.69zM323.97 834.94h4.69v2.74h-4.69zM375.57 834.94h4.69v2.74h-4.69zM51.87 837.68h4.69v2.74h-4.69zM201.99 837.68h4.69v2.74h-4.69zM220.76 837.68h4.69v2.74h-4.69zM333.35 837.68h4.69v2.74h-4.69zM380.26 837.68h4.69v2.74h-4.69zM361.50 840.42h4.69v2.74h-4.69zM141.01 843.16h4.69v2.74h-4.69zM145.70 843.16h4.69v2.74h-4.69zM65.95 845.90h4.69v2.74h-4.69zM89.40 845.90h4.69v2.74h-4.69zM197.30 845.90h4.69v2.74h-4.69zM352.11 845.90h4.69v2.74h-4.69zM47.18 848.64h4.69v2.74h-4.69zM56.56 848.64h4.69v2.74h-4.69zM80.02 848.64h4.69v2.74h-4.69zM131.62 848.64h4.69v2.74h-4.69zM159.77 848.64h4.69v2.74h-4.69zM403.72 848.64h4.69v2.74h-4.69zM323.97 851.38h4.69v2.74h-4.69zM230.14 854.12h4.69v2.74h-4.69zM281.75 854.12h4.69v2.74h-4.69zM370.88 854.12h4.69v2.74h-4.69zM141.01 856.86h4.69v2.74h-4.69zM159.77 856.86h4.69v2.74h-4.69zM164.46 856.86h4.69v2.74h-4.69zM169.16 856.86h4.69v2.74h-4.69zM187.92 856.86h4.69v2.74h-4.69zM216.07 856.86h4.69v2.74h-4.69zM281.75 856.86h4.69v2.74h-4.69zM342.73 856.86h4.69v2.74h-4.69zM47.18 859.60h4.69v2.74h-4.69zM117.55 859.60h4.69v2.74h-4.69zM169.16 859.60h4.69v2.74h-4.69zM108.17 862.34h4.69v2.74h-4.69zM155.08 862.34h4.69v2.74h-4.69zM230.14 862.34h4.69v2.74h-4.69zM164.46 865.08h4.69v2.74h-4.69zM197.30 865.08h4.69v2.74h-4.69zM403.72 865.08h4.69v2.74h-4.69zM201.99 867.82h4.69v2.74h-4.69zM239.52 867.82h4.69v2.74h-4.69zM389.64 867.82h4.69v2.74h-4.69zM37.80 870.56h4.69v2.74h-4.69zM51.87 870.56h4.69v2.74h-4.69zM84.71 870.56h4.69v2.74h-4.69zM216.07 870.56h4.69v2.74h-4.69zM403.72 870.56h4.69v2.74h-4.69zM51.87 873.30h4.69v2.74h-4.69zM112.86 873.30h4.69v2.74h-4.69zM117.55 873.30h4.69v2.74h-4.69zM159.77 873.30h4.69v2.74h-4.69zM272.36 873.30h4.69v2.74h-4.69zM37.80 876.04h4.69v2.74h-4.69zM51.87 876.04h4.69v2.74h-4.69zM80.02 876.04h4.69v2.74h-4.69zM206.69 876.04h4.69v2.74h-4.69zM253.60 876.04h4.69v2.74h-4.69zM220.76 878.78h4.69v2.74h-4.69zM272.36 878.78h4.69v2.74h-4.69zM309.89 878.78h4.69v2.74h-4.69zM89.40 881.52h4.69v2.74h-4.69zM94.09 881.52h4.69v2.74h-4.69zM150.39 881.52h4.69v2.74h-4.69zM244.22 881.52h4.69v2.74h-4.69zM197.30 884.26h4.69v2.74h-4.69zM211.38 884.26h4.69v2.74h-4.69zM216.07 884.26h4.69v2.74h-4.69zM225.45 884.26h4.69v2.74h-4.69zM314.58 884.26h4.69v2.74h-4.69zM370.88 884.26h4.69v2.74h-4.69zM65.95 887.00h4.69v2.74h-4.69zM70.64 887.00h4.69v2.74h-4.69zM164.46 887.00h4.69v2.74h-4.69zM173.85 889.74h4.69v2.74h-4.69zM230.14 889.74h4.69v2.74h-4.69zM239.52 892.48h4.69v2.74h-4.69zM253.60 892.48h4.69v2.74h-4.69zM272.36 892.48h4.69v2.74h-4.69zM94.09 895.22h4.69v2.74h-4.69zM230.14 895.22h4.69v2.74h-4.69zM267.67 895.22h4.69v2.74h-4.69zM323.97 895.22h4.69v2.74h-4.69zM47.18 897.96h4.69v2.74h-4.69zM56.56 897.96h4.69v2.74h-4.69zM136.32 897.96h4.69v2.74h-4.69zM333.35 897.96h4.69v2.74h-4.69zM211.38 900.70h4.69v2.74h-4.69zM61.26 903.44h4.69v2.74h-4.69zM98.79 903.44h4.69v2.74h-4.69zM112.86 903.44h4.69v2.74h-4.69zM117.55 903.44h4.69v2.74h-4.69zM150.39 903.44h4.69v2.74h-4.69zM192.61 903.44h4.69v2.74h-4.69zM230.14 903.44h4.69v2.74h-4.69zM234.83 903.44h4.69v2.74h-4.69zM70.64 906.18h4.69v2.74h-4.69zM75.33 906.18h4.69v2.74h-4.69zM112.86 906.18h4.69v2.74h-4.69zM117.55 906.18h4.69v2.74h-4.69zM272.36 906.18h4.69v2.74h-4.69zM314.58 906.18h4.69v2.74h-4.69zM394.34 906.18h4.69v2.74h-4.69zM103.48 908.92h4.69v2.74h-4.69zM220.76 908.92h4.69v2.74h-4.69zM47.18 911.66h4.69v2.74h-4.69zM408.41 911.66h4.69v2.74h-4.69zM103.48 914.40h4.69v2.74h-4.69zM112.86 914.40h4.69v2.74h-4.69zM117.55 914.40h4.69v2.74h-4.69zM159.77 914.40h4.69v2.74h-4.69zM183.23 914.40h4.69v2.74h-4.69zM239.52 914.40h4.69v2.74h-4.69zM342.73 914.40h4.69v2.74h-4.69zM42.49 917.14h4.69v2.74h-4.69zM47.18 917.14h4.69v2.74h-4.69zM70.64 917.14h4.69v2.74h-4.69zM145.70 917.14h4.69v2.74h-4.69zM197.30 917.14h4.69v2.74h-4.69zM234.83 917.14h4.69v2.74h-4.69zM356.81 917.14h4.69v2.74h-4.69zM65.95 919.88h4.69v2.74h-4.69zM319.28 919.88h4.69v2.74h-4.69zM361.50 919.88h4.69v2.74h-4.69zM94.09 922.62h4.69v2.74h-4.69zM333.35 922.62h4.69v2.74h-4.69zM75.33 925.36h4.69v2.74h-4.69zM84.71 925.36h4.69v2.74h-4.69zM136.32 925.36h4.69v2.74h-4.69zM178.54 925.36h4.69v2.74h-4.69zM187.92 925.36h4.69v2.74h-4.69zM352.11 925.36h4.69v2.74h-4.69zM389.64 925.36h4.69v2.74h-4.69zM408.41 925.36h4.69v2.74h-4.69zM61.26 928.10h4.69v2.74h-4.69zM145.70 928.10h4.69v2.74h-4.69zM234.83 928.10h4.69v2.74h-4.69zM56.56 930.84h4.69v2.74h-4.69zM84.71 930.84h4.69v2.74h-4.69zM206.69 930.84h4.69v2.74h-4.69zM42.49 933.58h4.69v2.74h-4.69zM159.77 933.58h4.69v2.74h-4.69zM201.99 933.58h4.69v2.74h-4.69zM225.45 933.58h4.69v2.74h-4.69zM366.19 933.58h4.69v2.74h-4.69zM84.71 936.32h4.69v2.74h-4.69zM94.09 936.32h4.69v2.74h-4.69zM164.46 936.32h4.69v2.74h-4.69zM183.23 936.32h4.69v2.74h-4.69zM230.14 936.32h4.69v2.74h-4.69zM361.50 936.32h4.69v2.74h-4.69zM375.57 936.32h4.69v2.74h-4.69zM150.39 939.06h4.69v2.74h-4.69zM169.16 939.06h4.69v2.74h-4.69zM211.38 939.06h4.69v2.74h-4.69zM230.14 939.06h4.69v2.74h-4.69zM234.83 939.06h4.69v2.74h-4.69zM37.80 941.80h4.69v2.74h-4.69zM126.93 941.80h4.69v2.74h-4.69zM145.70 941.80h4.69v2.74h-4.69zM230.14 941.80h4.69v2.74h-4.69zM295.82 941.80h4.69v2.74h-4.69zM319.28 941.80h4.69v2.74h-4.69zM47.18 944.54h4.69v2.74h-4.69zM80.02 944.54h4.69v2.74h-4.69zM108.17 944.54h4.69v2.74h-4.69zM225.45 944.54h4.69v2.74h-4.69zM267.67 944.54h4.69v2.74h-4.69zM347.42 944.54h4.69v2.74h-4.69zM117.55 947.28h4.69v2.74h-4.69zM155.08 947.28h4.69v2.74h-4.69zM173.85 947.28h4.69v2.74h-4.69zM239.52 947.28h4.69v2.74h-4.69zM300.51 947.28h4.69v2.74h-4.69zM309.89 947.28h4.69v2.74h-4.69zM80.02 950.02h4.69v2.74h-4.69zM155.08 950.02h4.69v2.74h-4.69zM206.69 950.02h4.69v2.74h-4.69zM338.04 950.02h4.69v2.74h-4.69zM37.80 952.76h4.69v2.74h-4.69zM80.02 952.76h4.69v2.74h-4.69zM108.17 952.76h4.69v2.74h-4.69zM234.83 952.76h4.69v2.74h-4.69zM361.50 952.76h4.69v2.74h-4.69zM84.71 955.50h4.69v2.74h-4.69zM108.17 955.50h4.69v2.74h-4.69zM197.30 958.24h4.69v2.74h-4.69zM80.02 960.98h4.69v2.74h-4.69zM103.48 960.98h4.69v2.74h-4.69zM117.55 960.98h4.69v2.74h-4.69zM84.71 963.72h4.69v2.74h-4.69zM108.17 963.72h4.69v2.74h-4.69zM150.39 963.72h4.69v2.74h-4.69zM239.52 963.72h4.69v2.74h-4.69zM103.48 966.46h4.69v2.74h-4.69zM159.77 966.46h4.69v2.74h-4.69zM216.07 966.46h4.69v2.74h-4.69zM394.34 966.46h4.69v2.74h-4.69zM183.23 969.20h4.69v2.74h-4.69zM98.79 971.94h4.69v2.74h-4.69zM108.17 971.94h4.69v2.74h-4.69zM117.55 971.94h4.69v2.74h-4.69zM150.39 971.94h4.69v2.74h-4.69zM159.77 971.94h4.69v2.74h-4.69zM42.49 974.68h4.69v2.74h-4.69zM117.55 974.68h4.69v2.74h-4.69zM145.70 974.68h4.69v2.74h-4.69zM183.23 974.68h4.69v2.74h-4.69zM192.61 974.68h4.69v2.74h-4.69zM42.49 977.42h4.69v2.74h-4.69zM61.26 977.42h4.69v2.74h-4.69zM84.71 977.42h4.69v2.74h-4.69zM155.08 977.42h4.69v2.74h-4.69zM323.97 977.42h4.69v2.74h-4.69zM51.87 980.16h4.69v2.74h-4.69zM56.56 980.16h4.69v2.74h-4.69zM61.26 980.16h4.69v2.74h-4.69zM94.09 980.16h4.69v2.74h-4.69zM122.24 980.16h4.69v2.74h-4.69zM183.23 980.16h4.69v2.74h-4.69zM220.76 980.16h4.69v2.74h-4.69zM65.95 982.90h4.69v2.74h-4.69zM220.76 982.90h4.69v2.74h-4.69zM65.95 985.64h4.69v2.74h-4.69zM122.24 985.64h4.69v2.74h-4.69zM145.70 985.64h4.69v2.74h-4.69zM197.30 985.64h4.69v2.74h-4.69zM145.70 988.38h4.69v2.74h-4.69zM239.52 988.38h4.69v2.74h-4.69zM117.55 993.86h4.69v2.74h-4.69zM131.62 993.86h4.69v2.74h-4.69zM183.23 993.86h4.69v2.74h-4.69zM192.61 993.86h4.69v2.74h-4.69zM258.29 993.86h4.69v2.74h-4.69zM126.93 996.60h4.69v2.74h-4.69zM150.39 996.60h4.69v2.74h-4.69zM361.50 996.60h4.69v2.74h-4.69zM399.03 996.60h4.69v2.74h-4.69zM84.71 999.34h4.69v2.74h-4.69zM164.46 999.34h4.69v2.74h-4.69zM206.69 999.34h4.69v2.74h-4.69zM234.83 999.34h4.69v2.74h-4.69zM37.80 1002.08h4.69v2.74h-4.69zM169.16 1002.08h4.69v2.74h-4.69zM201.99 1002.08h4.69v2.74h-4.69zM239.52 1004.82h4.69v2.74h-4.69zM408.41 1004.82h4.69v2.74h-4.69zM75.33 1007.56h4.69v2.74h-4.69zM122.24 1007.56h4.69v2.74h-4.69zM141.01 1007.56h4.69v2.74h-4.69zM150.39 1007.56h4.69v2.74h-4.69zM70.64 1010.30h4.69v2.74h-4.69zM178.54 1010.30h4.69v2.74h-4.69zM183.23 1010.30h4.69v2.74h-4.69zM80.02 1013.04h4.69v2.74h-4.69zM89.40 1013.04h4.69v2.74h-4.69zM75.33 1015.78h4.69v2.74h-4.69zM164.46 1015.78h4.69v2.74h-4.69zM361.50 1015.78h4.69v2.74h-4.69zM37.80 1018.52h4.69v2.74h-4.69zM94.09 1018.52h4.69v2.74h-4.69zM173.85 1018.52h4.69v2.74h-4.69zM220.76 1018.52h4.69v2.74h-4.69zM248.91 1018.52h4.69v2.74h-4.69zM277.05 1018.52h4.69v2.74h-4.69zM56.56 1021.26h4.69v2.74h-4.69zM117.55 1021.26h4.69v2.74h-4.69zM136.32 1021.26h4.69v2.74h-4.69zM178.54 1021.26h4.69v2.74h-4.69zM197.30 1021.26h4.69v2.74h-4.69zM80.02 1024.00h4.69v2.74h-4.69zM141.01 1024.00h4.69v2.74h-4.69zM150.39 1024.00h4.69v2.74h-4.69zM220.76 1024.00h4.69v2.74h-4.69zM375.57 1024.00h4.69v2.74h-4.69zM384.95 1024.00h4.69v2.74h-4.69zM94.09 1026.74h4.69v2.74h-4.69zM98.79 1026.74h4.69v2.74h-4.69zM197.30 1026.74h4.69v2.74h-4.69zM201.99 1026.74h4.69v2.74h-4.69zM277.05 1026.74h4.69v2.74h-4.69zM300.51 1026.74h4.69v2.74h-4.69zM75.33 1029.48h4.69v2.74h-4.69zM89.40 1029.48h4.69v2.74h-4.69zM98.79 1029.48h4.69v2.74h-4.69zM103.48 1029.48h4.69v2.74h-4.69zM141.01 1029.48h4.69v2.74h-4.69zM155.08 1029.48h4.69v2.74h-4.69zM178.54 1029.48h4.69v2.74h-4.69zM220.76 1029.48h4.69v2.74h-4.69zM352.11 1029.48h4.69v2.74h-4.69zM389.64 1029.48h4.69v2.74h-4.69zM42.49 1032.22h4.69v2.74h-4.69zM47.18 1032.22h4.69v2.74h-4.69zM197.30 1032.22h4.69v2.74h-4.69zM239.52 1032.22h4.69v2.74h-4.69zM253.60 1032.22h4.69v2.74h-4.69zM122.24 1034.96h4.69v2.74h-4.69zM131.62 1034.96h4.69v2.74h-4.69zM141.01 1034.96h4.69v2.74h-4.69zM150.39 1034.96h4.69v2.74h-4.69zM216.07 1034.96h4.69v2.74h-4.69zM291.13 1034.96h4.69v2.74h-4.69zM375.57 1034.96h4.69v2.74h-4.69zM37.80 1037.70h4.69v2.74h-4.69zM75.33 1037.70h4.69v2.74h-4.69zM187.92 1037.70h4.69v2.74h-4.69zM216.07 1037.70h4.69v2.74h-4.69zM220.76 1037.70h4.69v2.74h-4.69zM239.52 1037.70h4.69v2.74h-4.69zM338.04 1037.70h4.69v2.74h-4.69zM80.02 1040.44h4.69v2.74h-4.69zM136.32 1040.44h4.69v2.74h-4.69zM155.08 1040.44h4.69v2.74h-4.69zM356.81 1040.44h4.69v2.74h-4.69zM75.33 1043.18h4.69v2.74h-4.69zM262.98 1043.18h4.69v2.74h-4.69zM328.66 1043.18h4.69v2.74h-4.69zM347.42 1043.18h4.69v2.74h-4.69zM277.05 1045.92h4.69v2.74h-4.69zM61.26 1048.66h4.69v2.74h-4.69zM197.30 1048.66h4.69v2.74h-4.69zM333.35 1048.66h4.69v2.74h-4.69z"/>
<path fill="#e6f5ec" d="M136.32 777.40h4.69v2.74h-4.69zM61.26 780.14h4.69v2.74h-4.69zM89.40 780.14h4.69v2.74h-4.69zM356.81 780.14h4.69v2.74h-4.69zM112.86 782.88h4.69v2.74h-4.69zM206.69 782.88h4.69v2.74h-4.69zM216.07 782.88h4.69v2.74h-4.69zM356.81 785.62h4.69v2.74h-4.69zM164.46 791.10h4.69v2.74h-4.69zM225.45 791.10h4.69v2.74h-4.69zM239.52 791.10h4.69v2.74h-4.69zM248.91 791.10h4.69v2.74h-4.69zM309.89 791.10h4.69v2.74h-4.69zM42.49 796.58h4.69v2.74h-4.69zM164.46 796.58h4.69v2.74h-4.69zM173.85 796.58h4.69v2.74h-4.69zM75.33 799.32h4.69v2.74h-4.69zM136.32 799.32h4.69v2.74h-4.69zM183.23 799.32h4.69v2.74h-4.69zM108.17 802.06h4.69v2.74h-4.69zM145.70 804.80h4.69v2.74h-4.69zM65.95 807.54h4.69v2.74h-4.69zM201.99 807.54h4.69v2.74h-4.69zM248.91 807.54h4.69v2.74h-4.69zM112.86 810.28h4.69v2.74h-4.69zM178.54 810.28h4.69v2.74h-4.69zM262.98 810.28h4.69v2.74h-4.69zM112.86 813.02h4.69v2.74h-4.69zM145.70 813.02h4.69v2.74h-4.69zM183.23 815.76h4.69v2.74h-4.69zM225.45 815.76h4.69v2.74h-4.69zM267.67 815.76h4.69v2.74h-4.69zM356.81 818.50h4.69v2.74h-4.69zM37.80 821.24h4.69v2.74h-4.69zM183.23 821.24h4.69v2.74h-4.69zM131.62 823.98h4.69v2.74h-4.69zM155.08 823.98h4.69v2.74h-4.69zM183.23 826.72h4.69v2.74h-4.69zM126.93 829.46h4.69v2.74h-4.69zM258.29 829.46h4.69v2.74h-4.69zM366.19 829.46h4.69v2.74h-4.69zM220.76 832.20h4.69v2.74h-4.69zM234.83 832.20h4.69v2.74h-4.69zM84.71 834.94h4.69v2.74h-4.69zM112.86 834.94h4.69v2.74h-4.69zM286.44 834.94h4.69v2.74h-4.69zM408.41 834.94h4.69v2.74h-4.69zM37.80 837.68h4.69v2.74h-4.69zM117.55 837.68h4.69v2.74h-4.69zM164.46 837.68h4.69v2.74h-4.69zM403.72 837.68h4.69v2.74h-4.69zM291.13 840.42h4.69v2.74h-4.69zM42.49 843.16h4.69v2.74h-4.69zM94.09 843.16h4.69v2.74h-4.69zM216.07 843.16h4.69v2.74h-4.69zM84.71 845.90h4.69v2.74h-4.69zM61.26 848.64h4.69v2.74h-4.69zM112.86 848.64h4.69v2.74h-4.69zM183.23 848.64h4.69v2.74h-4.69zM342.73 848.64h4.69v2.74h-4.69zM136.32 851.38h4.69v2.74h-4.69zM145.70 851.38h4.69v2.74h-4.69zM211.38 851.38h4.69v2.74h-4.69zM61.26 854.12h4.69v2.74h-4.69zM51.87 856.86h4.69v2.74h-4.69zM84.71 856.86h4.69v2.74h-4.69zM126.93 856.86h4.69v2.74h-4.69zM131.62 856.86h4.69v2.74h-4.69zM75.33 859.60h4.69v2.74h-4.69zM84.71 859.60h4.69v2.74h-4.69zM103.48 865.08h4.69v2.74h-4.69zM150.39 865.08h4.69v2.74h-4.69zM216.07 865.08h4.69v2.74h-4.69zM108.17 867.82h4.69v2.74h-4.69zM108.17 870.56h4.69v2.74h-4.69zM89.40 873.30h4.69v2.74h-4.69zM103.48 873.30h4.69v2.74h-4.69zM108.17 873.30h4.69v2.74h-4.69zM248.91 873.30h4.69v2.74h-4.69zM319.28 873.30h4.69v2.74h-4.69zM192.61 876.04h4.69v2.74h-4.69zM61.26 878.78h4.69v2.74h-4.69zM112.86 878.78h4.69v2.74h-4.69zM65.95 881.52h4.69v2.74h-4.69zM389.64 881.52h4.69v2.74h-4.69zM84.71 884.26h4.69v2.74h-4.69zM84.71 887.00h4.69v2.74h-4.69zM122.24 887.00h4.69v2.74h-4.69zM145.70 887.00h4.69v2.74h-4.69zM187.92 887.00h4.69v2.74h-4.69zM399.03 887.00h4.69v2.74h-4.69zM61.26 889.74h4.69v2.74h-4.69zM197.30 889.74h4.69v2.74h-4.69zM403.72 889.74h4.69v2.74h-4.69zM65.95 892.48h4.69v2.74h-4.69zM136.32 892.48h4.69v2.74h-4.69zM145.70 892.48h4.69v2.74h-4.69zM281.75 895.22h4.69v2.74h-4.69zM394.34 895.22h4.69v2.74h-4.69zM117.55 897.96h4.69v2.74h-4.69zM197.30 897.96h4.69v2.74h-4.69zM230.14 897.96h4.69v2.74h-4.69zM267.67 897.96h4.69v2.74h-4.69zM80.02 900.70h4.69v2.74h-4.69zM84.71 900.70h4.69v2.74h-4.69zM37.80 903.44h4.69v2.74h-4.69zM239.52 906.18h4.69v2.74h-4.69zM253.60 906.18h4.69v2.74h-4.69zM136.32 911.66h4.69v2.74h-4.69zM56.56 917.14h4.69v2.74h-4.69zM98.79 917.14h4.69v2.74h-4.69zM201.99 917.14h4.69v2.74h-4.69zM366.19 919.88h4.69v2.74h-4.69zM47.18 922.62h4.69v2.74h-4.69zM84.71 922.62h4.69v2.74h-4.69zM136.32 922.62h4.69v2.74h-4.69zM141.01 922.62h4.69v2.74h-4.69zM164.46 922.62h4.69v2.74h-4.69zM225.45 922.62h4.69v2.74h-4.69zM112.86 928.10h4.69v2.74h-4.69zM131.62 930.84h4.69v2.74h-4.69zM211.38 930.84h4.69v2.74h-4.69zM244.22 930.84h4.69v2.74h-4.69zM375.57 930.84h4.69v2.74h-4.69zM145.70 933.58h4.69v2.74h-4.69zM370.88 933.58h4.69v2.74h-4.69zM408.41 933.58h4.69v2.74h-4.69zM239.52 936.32h4.69v2.74h-4.69zM89.40 941.80h4.69v2.74h-4.69zM267.67 941.80h4.69v2.74h-4.69zM75.33 947.28h4.69v2.74h-4.69zM89.40 950.02h4.69v2.74h-4.69zM108.17 950.02h4.69v2.74h-4.69zM164.46 950.02h4.69v2.74h-4.69zM295.82 950.02h4.69v2.74h-4.69zM408.41 950.02h4.69v2.74h-4.69zM42.49 955.50h4.69v2.74h-4.69zM51.87 955.50h4.69v2.74h-4.69zM70.64 958.24h4.69v2.74h-4.69zM286.44 958.24h4.69v2.74h-4.69zM37.80 960.98h4.69v2.74h-4.69zM131.62 960.98h4.69v2.74h-4.69zM225.45 960.98h4.69v2.74h-4.69zM75.33 963.72h4.69v2.74h-4.69zM192.61 963.72h4.69v2.74h-4.69zM253.60 963.72h4.69v2.74h-4.69zM291.13 963.72h4.69v2.74h-4.69zM75.33 966.46h4.69v2.74h-4.69zM47.18 969.20h4.69v2.74h-4.69zM75.33 969.20h4.69v2.74h-4.69zM70.64 971.94h4.69v2.74h-4.69zM183.23 971.94h4.69v2.74h-4.69zM112.86 977.42h4.69v2.74h-4.69zM220.76 977.42h4.69v2.74h-4.69zM300.51 980.16h4.69v2.74h-4.69zM42.49 982.90h4.69v2.74h-4.69zM47.18 982.90h4.69v2.74h-4.69zM61.26 982.90h4.69v2.74h-4.69zM98.79 982.90h4.69v2.74h-4.69zM126.93 982.90h4.69v2.74h-4.69zM75.33 985.64h4.69v2.74h-4.69zM103.48 988.38h4.69v2.74h-4.69zM169.16 988.38h4.69v2.74h-4.69zM187.92 988.38h4.69v2.74h-4.69zM164.46 991.12h4.69v2.74h-4.69zM178.54 991.12h4.69v2.74h-4.69zM206.69 991.12h4.69v2.74h-4.69zM169.16 993.86h4.69v2.74h-4.69zM75.33 999.34h4.69v2.74h-4.69zM136.32 1002.08h4.69v2.74h-4.69zM61.26 1004.82h4.69v2.74h-4.69zM75.33 1004.82h4.69v2.74h-4.69zM178.54 1004.82h4.69v2.74h-4.69zM201.99 1004.82h4.69v2.74h-4.69zM258.29 1004.82h4.69v2.74h-4.69zM277.05 1004.82h4.69v2.74h-4.69zM65.95 1010.30h4.69v2.74h-4.69zM220.76 1010.30h4.69v2.74h-4.69zM239.52 1010.30h4.69v2.74h-4.69zM244.22 1010.30h4.69v2.74h-4.69zM225.45 1013.04h4.69v2.74h-4.69zM408.41 1013.04h4.69v2.74h-4.69zM206.69 1015.78h4.69v2.74h-4.69zM399.03 1015.78h4.69v2.74h-4.69zM281.75 1018.52h4.69v2.74h-4.69zM216.07 1021.26h4.69v2.74h-4.69zM225.45 1024.00h4.69v2.74h-4.69zM80.02 1026.74h4.69v2.74h-4.69zM89.40 1026.74h4.69v2.74h-4.69zM108.17 1026.74h4.69v2.74h-4.69zM117.55 1026.74h4.69v2.74h-4.69zM65.95 1029.48h4.69v2.74h-4.69zM80.02 1029.48h4.69v2.74h-4.69zM169.16 1029.48h4.69v2.74h-4.69zM94.09 1032.22h4.69v2.74h-4.69zM394.34 1032.22h4.69v2.74h-4.69zM178.54 1034.96h4.69v2.74h-4.69zM389.64 1037.70h4.69v2.74h-4.69zM84.71 1040.44h4.69v2.74h-4.69zM145.70 1040.44h4.69v2.74h-4.69zM173.85 1040.44h4.69v2.74h-4.69zM277.05 1040.44h4.69v2.74h-4.69zM192.61 1043.18h4.69v2.74h-4.69zM42.49 1045.92h4.69v2.74h-4.69zM272.36 1045.92h4.69v2.74h-4.69z"/>
<path fill="#fff0a8" d="M159.77 777.40h4.69v2.74h-4.69zM389.64 780.14h4.69v2.74h-4.69zM403.72 780.14h4.69v2.74h-4.69zM117.55 791.10h4.69v2.74h-4.69zM75.33 796.58h4.69v2.74h-4.69zM197.30 796.58h4.69v2.74h-4.69zM51.87 799.32h4.69v2.74h-4.69zM89.40 799.32h4.69v2.74h-4.69zM394.34 799.32h4.69v2.74h-4.69zM37.80 804.80h4.69v2.74h-4.69zM375.57 804.80h4.69v2.74h-4.69zM122.24 807.54h4.69v2.74h-4.69zM141.01 807.54h4.69v2.74h-4.69zM98.79 815.76h4.69v2.74h-4.69zM300.51 815.76h4.69v2.74h-4.69zM56.56 818.50h4.69v2.74h-4.69zM47.18 823.98h4.69v2.74h-4.69zM192.61 823.98h4.69v2.74h-4.69zM126.93 840.42h4.69v2.74h-4.69zM37.80 851.38h4.69v2.74h-4.69zM183.23 854.12h4.69v2.74h-4.69zM356.81 865.08h4.69v2.74h-4.69zM183.23 867.82h4.69v2.74h-4.69zM244.22 870.56h4.69v2.74h-4.69zM225.45 873.30h4.69v2.74h-4.69zM216.07 876.04h4.69v2.74h-4.69zM173.85 881.52h4.69v2.74h-4.69zM136.32 884.26h4.69v2.74h-4.69zM89.40 887.00h4.69v2.74h-4.69zM216.07 889.74h4.69v2.74h-4.69zM234.83 900.70h4.69v2.74h-4.69zM178.54 906.18h4.69v2.74h-4.69zM108.17 917.14h4.69v2.74h-4.69zM309.89 917.14h4.69v2.74h-4.69zM305.20 919.88h4.69v2.74h-4.69zM239.52 925.36h4.69v2.74h-4.69zM300.51 930.84h4.69v2.74h-4.69zM187.92 939.06h4.69v2.74h-4.69zM248.91 944.54h4.69v2.74h-4.69zM178.54 947.28h4.69v2.74h-4.69zM126.93 952.76h4.69v2.74h-4.69zM380.26 955.50h4.69v2.74h-4.69zM155.08 958.24h4.69v2.74h-4.69zM61.26 960.98h4.69v2.74h-4.69zM305.20 960.98h4.69v2.74h-4.69zM338.04 963.72h4.69v2.74h-4.69zM136.32 971.94h4.69v2.74h-4.69zM319.28 971.94h4.69v2.74h-4.69zM234.83 980.16h4.69v2.74h-4.69zM342.73 980.16h4.69v2.74h-4.69zM37.80 982.90h4.69v2.74h-4.69zM122.24 982.90h4.69v2.74h-4.69zM201.99 985.64h4.69v2.74h-4.69zM323.97 985.64h4.69v2.74h-4.69zM234.83 988.38h4.69v2.74h-4.69zM80.02 993.86h4.69v2.74h-4.69zM108.17 993.86h4.69v2.74h-4.69zM122.24 993.86h4.69v2.74h-4.69zM333.35 996.60h4.69v2.74h-4.69zM108.17 1002.08h4.69v2.74h-4.69zM356.81 1002.08h4.69v2.74h-4.69zM291.13 1010.30h4.69v2.74h-4.69zM141.01 1013.04h4.69v2.74h-4.69zM197.30 1013.04h4.69v2.74h-4.69zM187.92 1026.74h4.69v2.74h-4.69zM305.20 1029.48h4.69v2.74h-4.69zM89.40 1034.96h4.69v2.74h-4.69zM281.75 1034.96h4.69v2.74h-4.69zM262.98 1048.66h4.69v2.74h-4.69zM328.66 1048.66h4.69v2.74h-4.69z"/>
<path fill="#c6e2ee" d="M164.46 777.40h4.69v2.74h-4.69zM164.46 818.50h4.69v2.74h-4.69zM117.55 829.46h4.69v2.74h-4.69zM117.55 867.82h4.69v2.74h-4.69zM216.07 881.52h4.69v2.74h-4.69zM220.76 966.46h4.69v2.74h-4.69zM75.33 993.86h4.69v2.74h-4.69zM192.61 1029.48h4.69v2.74h-4.69z"/>
<path fill="#eaf7e6" d="M169.16 777.40h4.69v2.74h-4.69zM239.52 777.40h4.69v2.74h-4.69zM394.34 777.40h4.69v2.74h-4.69zM155.08 780.14h4.69v2.74h-4.69zM173.85 780.14h4.69v2.74h-4.69zM201.99 780.14h4.69v2.74h-4.69zM141.01 782.88h4.69v2.74h-4.69zM197.30 782.88h4.69v2.74h-4.69zM352.11 782.88h4.69v2.74h-4.69zM356.81 782.88h4.69v2.74h-4.69zM145.70 785.62h4.69v2.74h-4.69zM159.77 785.62h4.69v2.74h-4.69zM291.13 785.62h4.69v2.74h-4.69zM136.32 791.10h4.69v2.74h-4.69zM145.70 791.10h4.69v2.74h-4.69zM150.39 791.10h4.69v2.74h-4.69zM178.54 791.10h4.69v2.74h-4.69zM201.99 791.10h4.69v2.74h-4.69zM370.88 791.10h4.69v2.74h-4.69zM399.03 791.10h4.69v2.74h-4.69zM37.80 793.84h4.69v2.74h-4.69zM70.64 793.84h4.69v2.74h-4.69zM173.85 793.84h4.69v2.74h-4.69zM206.69 793.84h4.69v2.74h-4.69zM225.45 793.84h4.69v2.74h-4.69zM248.91 793.84h4.69v2.74h-4.69zM61.26 796.58h4.69v2.74h-4.69zM211.38 796.58h4.69v2.74h-4.69zM230.14 796.58h4.69v2.74h-4.69zM309.89 796.58h4.69v2.74h-4.69zM333.35 796.58h4.69v2.74h-4.69zM47.18 799.32h4.69v2.74h-4.69zM80.02 799.32h4.69v2.74h-4.69zM126.93 799.32h4.69v2.74h-4.69zM173.85 799.32h4.69v2.74h-4.69zM131.62 802.06h4.69v2.74h-4.69zM366.19 802.06h4.69v2.74h-4.69zM70.64 804.80h4.69v2.74h-4.69zM75.33 804.80h4.69v2.74h-4.69zM37.80 807.54h4.69v2.74h-4.69zM47.18 807.54h4.69v2.74h-4.69zM56.56 807.54h4.69v2.74h-4.69zM117.55 807.54h4.69v2.74h-4.69zM159.77 807.54h4.69v2.74h-4.69zM98.79 810.28h4.69v2.74h-4.69zM108.17 810.28h4.69v2.74h-4.69zM131.62 810.28h4.69v2.74h-4.69zM192.61 810.28h4.69v2.74h-4.69zM37.80 813.02h4.69v2.74h-4.69zM117.55 815.76h4.69v2.74h-4.69zM103.48 818.50h4.69v2.74h-4.69zM155.08 818.50h4.69v2.74h-4.69zM61.26 821.24h4.69v2.74h-4.69zM103.48 821.24h4.69v2.74h-4.69zM258.29 821.24h4.69v2.74h-4.69zM305.20 821.24h4.69v2.74h-4.69zM70.64 823.98h4.69v2.74h-4.69zM84.71 823.98h4.69v2.74h-4.69zM281.75 823.98h4.69v2.74h-4.69zM164.46 826.72h4.69v2.74h-4.69zM112.86 829.46h4.69v2.74h-4.69zM220.76 829.46h4.69v2.74h-4.69zM267.67 829.46h4.69v2.74h-4.69zM103.48 832.20h4.69v2.74h-4.69zM201.99 832.20h4.69v2.74h-4.69zM216.07 832.20h4.69v2.74h-4.69zM262.98 832.20h4.69v2.74h-4.69zM98.79 834.94h4.69v2.74h-4.69zM131.62 834.94h4.69v2.74h-4.69zM234.83 834.94h4.69v2.74h-4.69zM70.64 837.68h4.69v2.74h-4.69zM286.44 837.68h4.69v2.74h-4.69zM56.56 840.42h4.69v2.74h-4.69zM70.64 840.42h4.69v2.74h-4.69zM84.71 840.42h4.69v2.74h-4.69zM220.76 840.42h4.69v2.74h-4.69zM366.19 840.42h4.69v2.74h-4.69zM51.87 843.16h4.69v2.74h-4.69zM75.33 843.16h4.69v2.74h-4.69zM277.05 843.16h4.69v2.74h-4.69zM47.18 845.90h4.69v2.74h-4.69zM70.64 845.90h4.69v2.74h-4.69zM319.28 845.90h4.69v2.74h-4.69zM94.09 848.64h4.69v2.74h-4.69zM361.50 848.64h4.69v2.74h-4.69zM169.16 851.38h4.69v2.74h-4.69zM173.85 851.38h4.69v2.74h-4.69zM122.24 854.12h4.69v2.74h-4.69zM216.07 854.12h4.69v2.74h-4.69zM70.64 856.86h4.69v2.74h-4.69zM155.08 856.86h4.69v2.74h-4.69zM131.62 859.60h4.69v2.74h-4.69zM234.83 859.60h4.69v2.74h-4.69zM286.44 859.60h4.69v2.74h-4.69zM328.66 859.60h4.69v2.74h-4.69zM47.18 862.34h4.69v2.74h-4.69zM61.26 862.34h4.69v2.74h-4.69zM75.33 862.34h4.69v2.74h-4.69zM173.85 862.34h4.69v2.74h-4.69zM220.76 862.34h4.69v2.74h-4.69zM89.40 867.82h4.69v2.74h-4.69zM178.54 867.82h4.69v2.74h-4.69zM300.51 870.56h4.69v2.74h-4.69zM408.41 870.56h4.69v2.74h-4.69zM169.16 873.30h4.69v2.74h-4.69zM220.76 873.30h4.69v2.74h-4.69zM281.75 873.30h4.69v2.74h-4.69zM108.17 876.04h4.69v2.74h-4.69zM65.95 878.78h4.69v2.74h-4.69zM94.09 878.78h4.69v2.74h-4.69zM366.19 878.78h4.69v2.74h-4.69zM403.72 878.78h4.69v2.74h-4.69zM47.18 881.52h4.69v2.74h-4.69zM112.86 881.52h4.69v2.74h-4.69zM108.17 884.26h4.69v2.74h-4.69zM159.77 884.26h4.69v2.74h-4.69zM272.36 884.26h4.69v2.74h-4.69zM75.33 887.00h4.69v2.74h-4.69zM136.32 887.00h4.69v2.74h-4.69zM403.72 887.00h4.69v2.74h-4.69zM42.49 889.74h4.69v2.74h-4.69zM75.33 889.74h4.69v2.74h-4.69zM211.38 889.74h4.69v2.74h-4.69zM89.40 892.48h4.69v2.74h-4.69zM126.93 892.48h4.69v2.74h-4.69zM155.08 892.48h4.69v2.74h-4.69zM173.85 892.48h4.69v2.74h-4.69zM323.97 892.48h4.69v2.74h-4.69zM75.33 895.22h4.69v2.74h-4.69zM98.79 895.22h4.69v2.74h-4.69zM159.77 895.22h4.69v2.74h-4.69zM178.54 895.22h4.69v2.74h-4.69zM65.95 897.96h4.69v2.74h-4.69zM89.40 897.96h4.69v2.74h-4.69zM155.08 897.96h4.69v2.74h-4.69zM201.99 897.96h4.69v2.74h-4.69zM220.76 897.96h4.69v2.74h-4.69zM220.76 900.70h4.69v2.74h-4.69zM108.17 903.44h4.69v2.74h-4.69zM136.32 903.44h4.69v2.74h-4.69zM286.44 903.44h4.69v2.74h-4.69zM211.38 906.18h4.69v2.74h-4.69zM286.44 906.18h4.69v2.74h-4.69zM347.42 906.18h4.69v2.74h-4.69zM56.56 908.92h4.69v2.74h-4.69zM206.69 908.92h4.69v2.74h-4.69zM51.87 911.66h4.69v2.74h-4.69zM126.93 911.66h4.69v2.74h-4.69zM403.72 911.66h4.69v2.74h-4.69zM65.95 914.40h4.69v2.74h-4.69zM94.09 914.40h4.69v2.74h-4.69zM112.86 917.14h4.69v2.74h-4.69zM178.54 917.14h4.69v2.74h-4.69zM187.92 917.14h4.69v2.74h-4.69zM192.61 919.88h4.69v2.74h-4.69zM239.52 919.88h4.69v2.74h-4.69zM108.17 922.62h4.69v2.74h-4.69zM262.98 922.62h4.69v2.74h-4.69zM272.36 922.62h4.69v2.74h-4.69zM380.26 922.62h4.69v2.74h-4.69zM155.08 925.36h4.69v2.74h-4.69zM277.05 925.36h4.69v2.74h-4.69zM164.46 928.10h4.69v2.74h-4.69zM192.61 928.10h4.69v2.74h-4.69zM399.03 928.10h4.69v2.74h-4.69zM65.95 930.84h4.69v2.74h-4.69zM70.64 930.84h4.69v2.74h-4.69zM201.99 930.84h4.69v2.74h-4.69zM117.55 933.58h4.69v2.74h-4.69zM234.83 933.58h4.69v2.74h-4.69zM314.58 933.58h4.69v2.74h-4.69zM220.76 936.32h4.69v2.74h-4.69zM234.83 936.32h4.69v2.74h-4.69zM244.22 936.32h4.69v2.74h-4.69zM84.71 939.06h4.69v2.74h-4.69zM117.55 939.06h4.69v2.74h-4.69zM183.23 939.06h4.69v2.74h-4.69zM206.69 939.06h4.69v2.74h-4.69zM281.75 939.06h4.69v2.74h-4.69zM42.49 941.80h4.69v2.74h-4.69zM47.18 941.80h4.69v2.74h-4.69zM65.95 941.80h4.69v2.74h-4.69zM98.79 941.80h4.69v2.74h-4.69zM112.86 941.80h4.69v2.74h-4.69zM141.01 941.80h4.69v2.74h-4.69zM206.69 941.80h4.69v2.74h-4.69zM211.38 941.80h4.69v2.74h-4.69zM314.58 941.80h4.69v2.74h-4.69zM342.73 941.80h4.69v2.74h-4.69zM70.64 944.54h4.69v2.74h-4.69zM84.71 944.54h4.69v2.74h-4.69zM103.48 944.54h4.69v2.74h-4.69zM136.32 944.54h4.69v2.74h-4.69zM141.01 944.54h4.69v2.74h-4.69zM408.41 944.54h4.69v2.74h-4.69zM89.40 947.28h4.69v2.74h-4.69zM126.93 947.28h4.69v2.74h-4.69zM131.62 947.28h4.69v2.74h-4.69zM136.32 947.28h4.69v2.74h-4.69zM230.14 947.28h4.69v2.74h-4.69zM389.64 947.28h4.69v2.74h-4.69zM37.80 950.02h4.69v2.74h-4.69zM150.39 950.02h4.69v2.74h-4.69zM169.16 950.02h4.69v2.74h-4.69zM37.80 955.50h4.69v2.74h-4.69zM117.55 955.50h4.69v2.74h-4.69zM164.46 955.50h4.69v2.74h-4.69zM178.54 955.50h4.69v2.74h-4.69zM197.30 955.50h4.69v2.74h-4.69zM201.99 955.50h4.69v2.74h-4.69zM56.56 958.24h4.69v2.74h-4.69zM75.33 958.24h4.69v2.74h-4.69zM89.40 958.24h4.69v2.74h-4.69zM108.17 958.24h4.69v2.74h-4.69zM126.93 960.98h4.69v2.74h-4.69zM51.87 963.72h4.69v2.74h-4.69zM201.99 963.72h4.69v2.74h-4.69zM131.62 966.46h4.69v2.74h-4.69zM192.61 966.46h4.69v2.74h-4.69zM234.83 966.46h4.69v2.74h-4.69zM65.95 969.20h4.69v2.74h-4.69zM98.79 969.20h4.69v2.74h-4.69zM169.16 971.94h4.69v2.74h-4.69zM173.85 971.94h4.69v2.74h-4.69zM122.24 974.68h4.69v2.74h-4.69zM187.92 974.68h4.69v2.74h-4.69zM206.69 974.68h4.69v2.74h-4.69zM314.58 974.68h4.69v2.74h-4.69zM338.04 974.68h4.69v2.74h-4.69zM98.79 977.42h4.69v2.74h-4.69zM98.79 980.16h4.69v2.74h-4.69zM131.62 980.16h4.69v2.74h-4.69zM136.32 980.16h4.69v2.74h-4.69zM159.77 980.16h4.69v2.74h-4.69zM197.30 980.16h4.69v2.74h-4.69zM258.29 982.90h4.69v2.74h-4.69zM394.34 982.90h4.69v2.74h-4.69zM187.92 985.64h4.69v2.74h-4.69zM258.29 985.64h4.69v2.74h-4.69zM352.11 985.64h4.69v2.74h-4.69zM51.87 988.38h4.69v2.74h-4.69zM98.79 988.38h4.69v2.74h-4.69zM267.67 988.38h4.69v2.74h-4.69zM286.44 988.38h4.69v2.74h-4.69zM380.26 988.38h4.69v2.74h-4.69zM267.67 991.12h4.69v2.74h-4.69zM84.71 993.86h4.69v2.74h-4.69zM155.08 993.86h4.69v2.74h-4.69zM300.51 993.86h4.69v2.74h-4.69zM384.95 993.86h4.69v2.74h-4.69zM70.64 996.60h4.69v2.74h-4.69zM122.24 996.60h4.69v2.74h-4.69zM187.92 996.60h4.69v2.74h-4.69zM187.92 999.34h4.69v2.74h-4.69zM216.07 999.34h4.69v2.74h-4.69zM248.91 999.34h4.69v2.74h-4.69zM295.82 999.34h4.69v2.74h-4.69zM314.58 999.34h4.69v2.74h-4.69zM159.77 1002.08h4.69v2.74h-4.69zM239.52 1002.08h4.69v2.74h-4.69zM319.28 1002.08h4.69v2.74h-4.69zM173.85 1004.82h4.69v2.74h-4.69zM187.92 1004.82h4.69v2.74h-4.69zM309.89 1004.82h4.69v2.74h-4.69zM112.86 1007.56h4.69v2.74h-4.69zM131.62 1007.56h4.69v2.74h-4.69zM136.32 1007.56h4.69v2.74h-4.69zM178.54 1007.56h4.69v2.74h-4.69zM216.07 1007.56h4.69v2.74h-4.69zM131.62 1010.30h4.69v2.74h-4.69zM201.99 1010.30h4.69v2.74h-4.69zM281.75 1010.30h4.69v2.74h-4.69zM103.48 1013.04h4.69v2.74h-4.69zM169.16 1013.04h4.69v2.74h-4.69zM201.99 1013.04h4.69v2.74h-4.69zM211.38 1013.04h4.69v2.74h-4.69zM234.83 1013.04h4.69v2.74h-4.69zM178.54 1015.78h4.69v2.74h-4.69zM295.82 1015.78h4.69v2.74h-4.69zM169.16 1018.52h4.69v2.74h-4.69zM51.87 1021.26h4.69v2.74h-4.69zM89.40 1021.26h4.69v2.74h-4.69zM155.08 1021.26h4.69v2.74h-4.69zM164.46 1021.26h4.69v2.74h-4.69zM169.16 1021.26h4.69v2.74h-4.69zM291.13 1021.26h4.69v2.74h-4.69zM305.20 1021.26h4.69v2.74h-4.69zM375.57 1021.26h4.69v2.74h-4.69zM84.71 1024.00h4.69v2.74h-4.69zM178.54 1024.00h4.69v2.74h-4.69zM42.49 1026.74h4.69v2.74h-4.69zM136.32 1026.74h4.69v2.74h-4.69zM403.72 1026.74h4.69v2.74h-4.69zM408.41 1026.74h4.69v2.74h-4.69zM117.55 1029.48h4.69v2.74h-4.69zM131.62 1029.48h4.69v2.74h-4.69zM206.69 1029.48h4.69v2.74h-4.69zM225.45 1029.48h4.69v2.74h-4.69zM370.88 1029.48h4.69v2.74h-4.69zM244.22 1032.22h4.69v2.74h-4.69zM206.69 1034.96h4.69v2.74h-4.69zM347.42 1034.96h4.69v2.74h-4.69zM169.16 1037.70h4.69v2.74h-4.69zM394.34 1037.70h4.69v2.74h-4.69zM61.26 1040.44h4.69v2.74h-4.69zM169.16 1040.44h4.69v2.74h-4.69zM211.38 1040.44h4.69v2.74h-4.69zM216.07 1040.44h4.69v2.74h-4.69zM225.45 1040.44h4.69v2.74h-4.69zM56.56 1043.18h4.69v2.74h-4.69zM94.09 1043.18h4.69v2.74h-4.69zM122.24 1043.18h4.69v2.74h-4.69zM211.38 1043.18h4.69v2.74h-4.69zM37.80 1045.92h4.69v2.74h-4.69zM136.32 1045.92h4.69v2.74h-4.69zM159.77 1045.92h4.69v2.74h-4.69zM216.07 1045.92h4.69v2.74h-4.69zM399.03 1045.92h4.69v2.74h-4.69zM122.24 1048.66h4.69v2.74h-4.69zM145.70 1048.66h4.69v2.74h-4.69zM216.07 1048.66h4.69v2.74h-4.69zM342.73 1048.66h4.69v2.74h-4.69zM347.42 1048.66h4.69v2.74h-4.69z"/>
<path fill="#fffdbc" d="M178.54 777.40h4.69v2.74h-4.69zM211.38 777.40h4.69v2.74h-4.69zM234.83 777.40h4.69v2.74h-4.69zM281.75 777.40h4.69v2.74h-4.69zM300.51 777.40h4.69v2.74h-4.69zM305.20 777.40h4.69v2.74h-4.69zM323.97 777.40h4.69v2.74h-4.69zM347.42 777.40h4.69v2.74h-4.69zM370.88 777.40h4.69v2.74h-4.69zM380.26 777.40h4.69v2.74h-4.69zM281.75 780.14h4.69v2.74h-4.69zM295.82 780.14h4.69v2.74h-4.69zM305.20 780.14h4.69v2.74h-4.69zM375.57 780.14h4.69v2.74h-4.69zM145.70 782.88h4.69v2.74h-4.69zM366.19 782.88h4.69v2.74h-4.69zM84.71 785.62h4.69v2.74h-4.69zM94.09 785.62h4.69v2.74h-4.69zM94.09 788.36h4.69v2.74h-4.69zM98.79 788.36h4.69v2.74h-4.69zM164.46 788.36h4.69v2.74h-4.69zM178.54 788.36h4.69v2.74h-4.69zM239.52 788.36h4.69v2.74h-4.69zM291.13 788.36h4.69v2.74h-4.69zM347.42 788.36h4.69v2.74h-4.69zM234.83 791.10h4.69v2.74h-4.69zM305.20 791.10h4.69v2.74h-4.69zM328.66 791.10h4.69v2.74h-4.69zM347.42 791.10h4.69v2.74h-4.69zM361.50 791.10h4.69v2.74h-4.69zM366.19 791.10h4.69v2.74h-4.69zM394.34 791.10h4.69v2.74h-4.69zM75.33 793.84h4.69v2.74h-4.69zM178.54 793.84h4.69v2.74h-4.69zM239.52 793.84h4.69v2.74h-4.69zM309.89 793.84h4.69v2.74h-4.69zM159.77 796.58h4.69v2.74h-4.69zM117.55 799.32h4.69v2.74h-4.69zM131.62 799.32h4.69v2.74h-4.69zM141.01 799.32h4.69v2.74h-4.69zM159.77 799.32h4.69v2.74h-4.69zM295.82 799.32h4.69v2.74h-4.69zM342.73 799.32h4.69v2.74h-4.69zM56.56 802.06h4.69v2.74h-4.69zM103.48 802.06h4.69v2.74h-4.69zM136.32 802.06h4.69v2.74h-4.69zM183.23 802.06h4.69v2.74h-4.69zM47.18 804.80h4.69v2.74h-4.69zM150.39 804.80h4.69v2.74h-4.69zM192.61 804.80h4.69v2.74h-4.69zM239.52 804.80h4.69v2.74h-4.69zM394.34 804.80h4.69v2.74h-4.69zM131.62 807.54h4.69v2.74h-4.69zM197.30 807.54h4.69v2.74h-4.69zM272.36 807.54h4.69v2.74h-4.69zM281.75 807.54h4.69v2.74h-4.69zM394.34 807.54h4.69v2.74h-4.69zM94.09 810.28h4.69v2.74h-4.69zM244.22 810.28h4.69v2.74h-4.69zM319.28 810.28h4.69v2.74h-4.69zM403.72 810.28h4.69v2.74h-4.69zM108.17 813.02h4.69v2.74h-4.69zM239.52 813.02h4.69v2.74h-4.69zM291.13 813.02h4.69v2.74h-4.69zM366.19 813.02h4.69v2.74h-4.69zM394.34 813.02h4.69v2.74h-4.69zM65.95 815.76h4.69v2.74h-4.69zM112.86 815.76h4.69v2.74h-4.69zM122.24 815.76h4.69v2.74h-4.69zM220.76 815.76h4.69v2.74h-4.69zM305.20 815.76h4.69v2.74h-4.69zM314.58 815.76h4.69v2.74h-4.69zM352.11 815.76h4.69v2.74h-4.69zM389.64 815.76h4.69v2.74h-4.69zM131.62 818.50h4.69v2.74h-4.69zM178.54 818.50h4.69v2.74h-4.69zM220.76 818.50h4.69v2.74h-4.69zM267.67 818.50h4.69v2.74h-4.69zM323.97 818.50h4.69v2.74h-4.69zM389.64 818.50h4.69v2.74h-4.69zM98.79 821.24h4.69v2.74h-4.69zM141.01 821.24h4.69v2.74h-4.69zM164.46 821.24h4.69v2.74h-4.69zM169.16 821.24h4.69v2.74h-4.69zM187.92 821.24h4.69v2.74h-4.69zM197.30 821.24h4.69v2.74h-4.69zM201.99 821.24h4.69v2.74h-4.69zM262.98 821.24h4.69v2.74h-4.69zM267.67 821.24h4.69v2.74h-4.69zM333.35 821.24h4.69v2.74h-4.69zM75.33 823.98h4.69v2.74h-4.69zM98.79 823.98h4.69v2.74h-4.69zM352.11 823.98h4.69v2.74h-4.69zM356.81 823.98h4.69v2.74h-4.69zM155.08 826.72h4.69v2.74h-4.69zM197.30 826.72h4.69v2.74h-4.69zM244.22 826.72h4.69v2.74h-4.69zM248.91 826.72h4.69v2.74h-4.69zM37.80 829.46h4.69v2.74h-4.69zM61.26 829.46h4.69v2.74h-4.69zM70.64 829.46h4.69v2.74h-4.69zM277.05 829.46h4.69v2.74h-4.69zM328.66 829.46h4.69v2.74h-4.69zM361.50 829.46h4.69v2.74h-4.69zM108.17 832.20h4.69v2.74h-4.69zM112.86 832.20h4.69v2.74h-4.69zM126.93 832.20h4.69v2.74h-4.69zM169.16 832.20h4.69v2.74h-4.69zM197.30 832.20h4.69v2.74h-4.69zM305.20 832.20h4.69v2.74h-4.69zM314.58 832.20h4.69v2.74h-4.69zM75.33 834.94h4.69v2.74h-4.69zM145.70 834.94h4.69v2.74h-4.69zM239.52 834.94h4.69v2.74h-4.69zM75.33 837.68h4.69v2.74h-4.69zM94.09 837.68h4.69v2.74h-4.69zM173.85 837.68h4.69v2.74h-4.69zM338.04 837.68h4.69v2.74h-4.69zM94.09 840.42h4.69v2.74h-4.69zM117.55 840.42h4.69v2.74h-4.69zM164.46 840.42h4.69v2.74h-4.69zM187.92 840.42h4.69v2.74h-4.69zM89.40 843.16h4.69v2.74h-4.69zM122.24 843.16h4.69v2.74h-4.69zM164.46 843.16h4.69v2.74h-4.69zM173.85 843.16h4.69v2.74h-4.69zM201.99 843.16h4.69v2.74h-4.69zM211.38 843.16h4.69v2.74h-4.69zM220.76 843.16h4.69v2.74h-4.69zM309.89 843.16h4.69v2.74h-4.69zM394.34 843.16h4.69v2.74h-4.69zM408.41 843.16h4.69v2.74h-4.69zM42.49 845.90h4.69v2.74h-4.69zM122.24 845.90h4.69v2.74h-4.69zM338.04 845.90h4.69v2.74h-4.69zM75.33 848.64h4.69v2.74h-4.69zM117.55 848.64h4.69v2.74h-4.69zM211.38 848.64h4.69v2.74h-4.69zM225.45 848.64h4.69v2.74h-4.69zM94.09 851.38h4.69v2.74h-4.69zM98.79 854.12h4.69v2.74h-4.69zM164.46 854.12h4.69v2.74h-4.69zM169.16 854.12h4.69v2.74h-4.69zM65.95 856.86h4.69v2.74h-4.69zM75.33 856.86h4.69v2.74h-4.69zM108.17 856.86h4.69v2.74h-4.69zM112.86 856.86h4.69v2.74h-4.69zM117.55 856.86h4.69v2.74h-4.69zM201.99 856.86h4.69v2.74h-4.69zM338.04 856.86h4.69v2.74h-4.69zM384.95 856.86h4.69v2.74h-4.69zM51.87 859.60h4.69v2.74h-4.69zM173.85 859.60h4.69v2.74h-4.69zM183.23 859.60h4.69v2.74h-4.69zM384.95 859.60h4.69v2.74h-4.69zM56.56 862.34h4.69v2.74h-4.69zM262.98 862.34h4.69v2.74h-4.69zM319.28 862.34h4.69v2.74h-4.69zM342.73 862.34h4.69v2.74h-4.69zM375.57 862.34h4.69v2.74h-4.69zM61.26 865.08h4.69v2.74h-4.69zM187.92 865.08h4.69v2.74h-4.69zM192.61 865.08h4.69v2.74h-4.69zM342.73 865.08h4.69v2.74h-4.69zM366.19 865.08h4.69v2.74h-4.69zM75.33 867.82h4.69v2.74h-4.69zM98.79 867.82h4.69v2.74h-4.69zM126.93 867.82h4.69v2.74h-4.69zM136.32 867.82h4.69v2.74h-4.69zM164.46 867.82h4.69v2.74h-4.69zM211.38 867.82h4.69v2.74h-4.69zM281.75 867.82h4.69v2.74h-4.69zM356.81 867.82h4.69v2.74h-4.69zM370.88 867.82h4.69v2.74h-4.69zM89.40 870.56h4.69v2.74h-4.69zM169.16 870.56h4.69v2.74h-4.69zM356.81 870.56h4.69v2.74h-4.69zM389.64 870.56h4.69v2.74h-4.69zM42.49 873.30h4.69v2.74h-4.69zM192.61 873.30h4.69v2.74h-4.69zM239.52 873.30h4.69v2.74h-4.69zM70.64 876.04h4.69v2.74h-4.69zM117.55 876.04h4.69v2.74h-4.69zM122.24 876.04h4.69v2.74h-4.69zM239.52 876.04h4.69v2.74h-4.69zM291.13 876.04h4.69v2.74h-4.69zM75.33 878.78h4.69v2.74h-4.69zM173.85 878.78h4.69v2.74h-4.69zM197.30 878.78h4.69v2.74h-4.69zM206.69 878.78h4.69v2.74h-4.69zM216.07 878.78h4.69v2.74h-4.69zM126.93 881.52h4.69v2.74h-4.69zM187.92 881.52h4.69v2.74h-4.69zM262.98 881.52h4.69v2.74h-4.69zM305.20 881.52h4.69v2.74h-4.69zM366.19 881.52h4.69v2.74h-4.69zM380.26 881.52h4.69v2.74h-4.69zM61.26 884.26h4.69v2.74h-4.69zM75.33 884.26h4.69v2.74h-4.69zM112.86 884.26h4.69v2.74h-4.69zM126.93 884.26h4.69v2.74h-4.69zM319.28 884.26h4.69v2.74h-4.69zM47.18 887.00h4.69v2.74h-4.69zM103.48 887.00h4.69v2.74h-4.69zM141.01 887.00h4.69v2.74h-4.69zM201.99 887.00h4.69v2.74h-4.69zM253.60 887.00h4.69v2.74h-4.69zM300.51 887.00h4.69v2.74h-4.69zM103.48 889.74h4.69v2.74h-4.69zM192.61 889.74h4.69v2.74h-4.69zM286.44 889.74h4.69v2.74h-4.69zM319.28 889.74h4.69v2.74h-4.69zM178.54 892.48h4.69v2.74h-4.69zM258.29 892.48h4.69v2.74h-4.69zM42.49 895.22h4.69v2.74h-4.69zM51.87 895.22h4.69v2.74h-4.69zM183.23 895.22h4.69v2.74h-4.69zM366.19 895.22h4.69v2.74h-4.69zM126.93 897.96h4.69v2.74h-4.69zM141.01 897.96h4.69v2.74h-4.69zM192.61 897.96h4.69v2.74h-4.69zM216.07 897.96h4.69v2.74h-4.69zM309.89 897.96h4.69v2.74h-4.69zM37.80 900.70h4.69v2.74h-4.69zM51.87 900.70h4.69v2.74h-4.69zM61.26 900.70h4.69v2.74h-4.69zM169.16 900.70h4.69v2.74h-4.69zM277.05 900.70h4.69v2.74h-4.69zM281.75 900.70h4.69v2.74h-4.69zM300.51 900.70h4.69v2.74h-4.69zM370.88 900.70h4.69v2.74h-4.69zM80.02 903.44h4.69v2.74h-4.69zM164.46 903.44h4.69v2.74h-4.69zM187.92 903.44h4.69v2.74h-4.69zM206.69 903.44h4.69v2.74h-4.69zM356.81 903.44h4.69v2.74h-4.69zM51.87 906.18h4.69v2.74h-4.69zM65.95 906.18h4.69v2.74h-4.69zM201.99 906.18h4.69v2.74h-4.69zM408.41 906.18h4.69v2.74h-4.69zM272.36 908.92h4.69v2.74h-4.69zM300.51 908.92h4.69v2.74h-4.69zM42.49 911.66h4.69v2.74h-4.69zM75.33 911.66h4.69v2.74h-4.69zM220.76 911.66h4.69v2.74h-4.69zM277.05 911.66h4.69v2.74h-4.69zM370.88 911.66h4.69v2.74h-4.69zM389.64 911.66h4.69v2.74h-4.69zM80.02 914.40h4.69v2.74h-4.69zM89.40 914.40h4.69v2.74h-4.69zM206.69 914.40h4.69v2.74h-4.69zM220.76 914.40h4.69v2.74h-4.69zM347.42 914.40h4.69v2.74h-4.69zM384.95 914.40h4.69v2.74h-4.69zM65.95 917.14h4.69v2.74h-4.69zM173.85 917.14h4.69v2.74h-4.69zM206.69 917.14h4.69v2.74h-4.69zM352.11 917.14h4.69v2.74h-4.69zM141.01 919.88h4.69v2.74h-4.69zM201.99 919.88h4.69v2.74h-4.69zM225.45 919.88h4.69v2.74h-4.69zM258.29 919.88h4.69v2.74h-4.69zM328.66 919.88h4.69v2.74h-4.69zM98.79 922.62h4.69v2.74h-4.69zM131.62 922.62h4.69v2.74h-4.69zM183.23 922.62h4.69v2.74h-4.69zM319.28 922.62h4.69v2.74h-4.69zM352.11 922.62h4.69v2.74h-4.69zM65.95 925.36h4.69v2.74h-4.69zM211.38 925.36h4.69v2.74h-4.69zM244.22 925.36h4.69v2.74h-4.69zM291.13 925.36h4.69v2.74h-4.69zM37.80 928.10h4.69v2.74h-4.69zM42.49 928.10h4.69v2.74h-4.69zM56.56 928.10h4.69v2.74h-4.69zM187.92 928.10h4.69v2.74h-4.69zM225.45 928.10h4.69v2.74h-4.69zM267.67 928.10h4.69v2.74h-4.69zM328.66 928.10h4.69v2.74h-4.69zM141.01 930.84h4.69v2.74h-4.69zM56.56 933.58h4.69v2.74h-4.69zM173.85 933.58h4.69v2.74h-4.69zM178.54 933.58h4.69v2.74h-4.69zM197.30 933.58h4.69v2.74h-4.69zM206.69 933.58h4.69v2.74h-4.69zM230.14 933.58h4.69v2.74h-4.69zM375.57 933.58h4.69v2.74h-4.69zM112.86 936.32h4.69v2.74h-4.69zM117.55 936.32h4.69v2.74h-4.69zM178.54 936.32h4.69v2.74h-4.69zM216.07 936.32h4.69v2.74h-4.69zM286.44 936.32h4.69v2.74h-4.69zM389.64 936.32h4.69v2.74h-4.69zM56.56 939.06h4.69v2.74h-4.69zM65.95 939.06h4.69v2.74h-4.69zM89.40 939.06h4.69v2.74h-4.69zM178.54 939.06h4.69v2.74h-4.69zM216.07 939.06h4.69v2.74h-4.69zM225.45 939.06h4.69v2.74h-4.69zM61.26 941.80h4.69v2.74h-4.69zM80.02 941.80h4.69v2.74h-4.69zM84.71 941.80h4.69v2.74h-4.69zM94.09 941.80h4.69v2.74h-4.69zM169.16 941.80h4.69v2.74h-4.69zM173.85 941.80h4.69v2.74h-4.69zM305.20 941.80h4.69v2.74h-4.69zM356.81 941.80h4.69v2.74h-4.69zM366.19 941.80h4.69v2.74h-4.69zM37.80 944.54h4.69v2.74h-4.69zM51.87 944.54h4.69v2.74h-4.69zM126.93 944.54h4.69v2.74h-4.69zM201.99 944.54h4.69v2.74h-4.69zM216.07 944.54h4.69v2.74h-4.69zM272.36 944.54h4.69v2.74h-4.69zM338.04 944.54h4.69v2.74h-4.69zM98.79 947.28h4.69v2.74h-4.69zM267.67 947.28h4.69v2.74h-4.69zM323.97 947.28h4.69v2.74h-4.69zM51.87 950.02h4.69v2.74h-4.69zM75.33 950.02h4.69v2.74h-4.69zM94.09 950.02h4.69v2.74h-4.69zM187.92 950.02h4.69v2.74h-4.69zM197.30 950.02h4.69v2.74h-4.69zM234.83 950.02h4.69v2.74h-4.69zM42.49 952.76h4.69v2.74h-4.69zM103.48 952.76h4.69v2.74h-4.69zM169.16 952.76h4.69v2.74h-4.69zM333.35 952.76h4.69v2.74h-4.69zM61.26 955.50h4.69v2.74h-4.69zM94.09 955.50h4.69v2.74h-4.69zM145.70 955.50h4.69v2.74h-4.69zM150.39 955.50h4.69v2.74h-4.69zM211.38 955.50h4.69v2.74h-4.69zM220.76 955.50h4.69v2.74h-4.69zM234.83 955.50h4.69v2.74h-4.69zM361.50 955.50h4.69v2.74h-4.69zM375.57 955.50h4.69v2.74h-4.69zM408.41 955.50h4.69v2.74h-4.69zM103.48 958.24h4.69v2.74h-4.69zM220.76 958.24h4.69v2.74h-4.69zM225.45 958.24h4.69v2.74h-4.69zM277.05 958.24h4.69v2.74h-4.69zM356.81 958.24h4.69v2.74h-4.69zM384.95 958.24h4.69v2.74h-4.69zM394.34 958.24h4.69v2.74h-4.69zM314.58 960.98h4.69v2.74h-4.69zM347.42 960.98h4.69v2.74h-4.69zM384.95 960.98h4.69v2.74h-4.69zM42.49 963.72h4.69v2.74h-4.69zM47.18 963.72h4.69v2.74h-4.69zM65.95 963.72h4.69v2.74h-4.69zM98.79 963.72h4.69v2.74h-4.69zM164.46 963.72h4.69v2.74h-4.69zM225.45 963.72h4.69v2.74h-4.69zM61.26 966.46h4.69v2.74h-4.69zM65.95 966.46h4.69v2.74h-4.69zM98.79 966.46h4.69v2.74h-4.69zM187.92 966.46h4.69v2.74h-4.69zM197.30 966.46h4.69v2.74h-4.69zM342.73 966.46h4.69v2.74h-4.69zM108.17 969.20h4.69v2.74h-4.69zM112.86 969.20h4.69v2.74h-4.69zM230.14 969.20h4.69v2.74h-4.69zM300.51 969.20h4.69v2.74h-4.69zM328.66 969.20h4.69v2.74h-4.69zM347.42 969.20h4.69v2.74h-4.69zM352.11 969.20h4.69v2.74h-4.69zM61.26 971.94h4.69v2.74h-4.69zM80.02 971.94h4.69v2.74h-4.69zM126.93 971.94h4.69v2.74h-4.69zM220.76 971.94h4.69v2.74h-4.69zM234.83 971.94h4.69v2.74h-4.69zM239.52 971.94h4.69v2.74h-4.69zM272.36 971.94h4.69v2.74h-4.69zM338.04 971.94h4.69v2.74h-4.69zM61.26 974.68h4.69v2.74h-4.69zM98.79 974.68h4.69v2.74h-4.69zM244.22 974.68h4.69v2.74h-4.69zM323.97 974.68h4.69v2.74h-4.69zM366.19 974.68h4.69v2.74h-4.69zM384.95 974.68h4.69v2.74h-4.69zM80.02 977.42h4.69v2.74h-4.69zM141.01 977.42h4.69v2.74h-4.69zM216.07 977.42h4.69v2.74h-4.69zM366.19 977.42h4.69v2.74h-4.69zM89.40 980.16h4.69v2.74h-4.69zM314.58 980.16h4.69v2.74h-4.69zM319.28 980.16h4.69v2.74h-4.69zM56.56 982.90h4.69v2.74h-4.69zM94.09 982.90h4.69v2.74h-4.69zM103.48 982.90h4.69v2.74h-4.69zM155.08 982.90h4.69v2.74h-4.69zM197.30 982.90h4.69v2.74h-4.69zM201.99 982.90h4.69v2.74h-4.69zM248.91 982.90h4.69v2.74h-4.69zM361.50 982.90h4.69v2.74h-4.69zM84.71 985.64h4.69v2.74h-4.69zM155.08 985.64h4.69v2.74h-4.69zM211.38 985.64h4.69v2.74h-4.69zM234.83 985.64h4.69v2.74h-4.69zM394.34 985.64h4.69v2.74h-4.69zM141.01 988.38h4.69v2.74h-4.69zM164.46 988.38h4.69v2.74h-4.69zM230.14 988.38h4.69v2.74h-4.69zM272.36 988.38h4.69v2.74h-4.69zM281.75 988.38h4.69v2.74h-4.69zM300.51 988.38h4.69v2.74h-4.69zM352.11 988.38h4.69v2.74h-4.69zM356.81 988.38h4.69v2.74h-4.69zM131.62 991.12h4.69v2.74h-4.69zM150.39 991.12h4.69v2.74h-4.69zM192.61 991.12h4.69v2.74h-4.69zM295.82 991.12h4.69v2.74h-4.69zM361.50 991.12h4.69v2.74h-4.69zM370.88 991.12h4.69v2.74h-4.69zM89.40 993.86h4.69v2.74h-4.69zM211.38 993.86h4.69v2.74h-4.69zM230.14 993.86h4.69v2.74h-4.69zM248.91 993.86h4.69v2.74h-4.69zM286.44 993.86h4.69v2.74h-4.69zM347.42 993.86h4.69v2.74h-4.69zM408.41 993.86h4.69v2.74h-4.69zM117.55 996.60h4.69v2.74h-4.69zM206.69 996.60h4.69v2.74h-4.69zM37.80 999.34h4.69v2.74h-4.69zM103.48 999.34h4.69v2.74h-4.69zM225.45 999.34h4.69v2.74h-4.69zM328.66 999.34h4.69v2.74h-4.69zM342.73 999.34h4.69v2.74h-4.69zM70.64 1002.08h4.69v2.74h-4.69zM122.24 1002.08h4.69v2.74h-4.69zM42.49 1004.82h4.69v2.74h-4.69zM108.17 1004.82h4.69v2.74h-4.69zM126.93 1004.82h4.69v2.74h-4.69zM169.16 1004.82h4.69v2.74h-4.69zM244.22 1004.82h4.69v2.74h-4.69zM305.20 1004.82h4.69v2.74h-4.69zM323.97 1004.82h4.69v2.74h-4.69zM384.95 1004.82h4.69v2.74h-4.69zM394.34 1004.82h4.69v2.74h-4.69zM37.80 1007.56h4.69v2.74h-4.69zM80.02 1007.56h4.69v2.74h-4.69zM84.71 1007.56h4.69v2.74h-4.69zM126.93 1007.56h4.69v2.74h-4.69zM56.56 1010.30h4.69v2.74h-4.69zM80.02 1010.30h4.69v2.74h-4.69zM98.79 1010.30h4.69v2.74h-4.69zM112.86 1010.30h4.69v2.74h-4.69zM117.55 1010.30h4.69v2.74h-4.69zM141.01 1010.30h4.69v2.74h-4.69zM155.08 1010.30h4.69v2.74h-4.69zM206.69 1010.30h4.69v2.74h-4.69zM225.45 1010.30h4.69v2.74h-4.69zM262.98 1010.30h4.69v2.74h-4.69zM75.33 1013.04h4.69v2.74h-4.69zM112.86 1013.04h4.69v2.74h-4.69zM136.32 1013.04h4.69v2.74h-4.69zM248.91 1013.04h4.69v2.74h-4.69zM56.56 1015.78h4.69v2.74h-4.69zM309.89 1015.78h4.69v2.74h-4.69zM61.26 1018.52h4.69v2.74h-4.69zM65.95 1018.52h4.69v2.74h-4.69zM80.02 1018.52h4.69v2.74h-4.69zM145.70 1018.52h4.69v2.74h-4.69zM230.14 1018.52h4.69v2.74h-4.69zM173.85 1021.26h4.69v2.74h-4.69zM206.69 1021.26h4.69v2.74h-4.69zM295.82 1021.26h4.69v2.74h-4.69zM352.11 1021.26h4.69v2.74h-4.69zM70.64 1024.00h4.69v2.74h-4.69zM155.08 1024.00h4.69v2.74h-4.69zM159.77 1024.00h4.69v2.74h-4.69zM309.89 1024.00h4.69v2.74h-4.69zM61.26 1026.74h4.69v2.74h-4.69zM70.64 1026.74h4.69v2.74h-4.69zM183.23 1026.74h4.69v2.74h-4.69zM267.67 1026.74h4.69v2.74h-4.69zM319.28 1026.74h4.69v2.74h-4.69zM136.32 1029.48h4.69v2.74h-4.69zM211.38 1029.48h4.69v2.74h-4.69zM272.36 1029.48h4.69v2.74h-4.69zM56.56 1032.22h4.69v2.74h-4.69zM150.39 1032.22h4.69v2.74h-4.69zM173.85 1032.22h4.69v2.74h-4.69zM206.69 1032.22h4.69v2.74h-4.69zM225.45 1032.22h4.69v2.74h-4.69zM234.83 1032.22h4.69v2.74h-4.69zM112.86 1034.96h4.69v2.74h-4.69zM136.32 1034.96h4.69v2.74h-4.69zM295.82 1034.96h4.69v2.74h-4.69zM155.08 1037.70h4.69v2.74h-4.69zM272.36 1037.70h4.69v2.74h-4.69zM178.54 1040.44h4.69v2.74h-4.69zM201.99 1040.44h4.69v2.74h-4.69zM309.89 1040.44h4.69v2.74h-4.69zM328.66 1040.44h4.69v2.74h-4.69zM338.04 1040.44h4.69v2.74h-4.69zM183.23 1043.18h4.69v2.74h-4.69zM206.69 1043.18h4.69v2.74h-4.69zM220.76 1043.18h4.69v2.74h-4.69zM225.45 1043.18h4.69v2.74h-4.69zM314.58 1043.18h4.69v2.74h-4.69zM366.19 1043.18h4.69v2.74h-4.69zM403.72 1043.18h4.69v2.74h-4.69zM56.56 1045.92h4.69v2.74h-4.69zM94.09 1045.92h4.69v2.74h-4.69zM173.85 1045.92h4.69v2.74h-4.69zM267.67 1045.92h4.69v2.74h-4.69zM314.58 1045.92h4.69v2.74h-4.69zM333.35 1045.92h4.69v2.74h-4.69zM342.73 1045.92h4.69v2.74h-4.69zM352.11 1045.92h4.69v2.74h-4.69zM375.57 1045.92h4.69v2.74h-4.69zM47.18 1048.66h4.69v2.74h-4.69zM65.95 1048.66h4.69v2.74h-4.69zM75.33 1048.66h4.69v2.74h-4.69zM112.86 1048.66h4.69v2.74h-4.69zM178.54 1048.66h4.69v2.74h-4.69zM239.52 1048.66h4.69v2.74h-4.69z"/>
<path fill="#fede8e" d="M244.22 777.40h4.69v2.74h-4.69zM248.91 777.40h4.69v2.74h-4.69zM356.81 777.40h4.69v2.74h-4.69zM366.19 777.40h4.69v2.74h-4.69zM403.72 777.40h4.69v2.74h-4.69zM47.18 780.14h4.69v2.74h-4.69zM70.64 780.14h4.69v2.74h-4.69zM291.13 780.14h4.69v2.74h-4.69zM37.80 782.88h4.69v2.74h-4.69zM70.64 782.88h4.69v2.74h-4.69zM192.61 782.88h4.69v2.74h-4.69zM389.64 782.88h4.69v2.74h-4.69zM47.18 785.62h4.69v2.74h-4.69zM253.60 785.62h4.69v2.74h-4.69zM258.29 785.62h4.69v2.74h-4.69zM309.89 785.62h4.69v2.74h-4.69zM333.35 785.62h4.69v2.74h-4.69zM403.72 785.62h4.69v2.74h-4.69zM117.55 788.36h4.69v2.74h-4.69zM403.72 788.36h4.69v2.74h-4.69zM267.67 791.10h4.69v2.74h-4.69zM323.97 791.10h4.69v2.74h-4.69zM42.49 793.84h4.69v2.74h-4.69zM216.07 793.84h4.69v2.74h-4.69zM220.76 793.84h4.69v2.74h-4.69zM295.82 793.84h4.69v2.74h-4.69zM328.66 793.84h4.69v2.74h-4.69zM323.97 796.58h4.69v2.74h-4.69zM328.66 796.58h4.69v2.74h-4.69zM258.29 799.32h4.69v2.74h-4.69zM272.36 799.32h4.69v2.74h-4.69zM300.51 804.80h4.69v2.74h-4.69zM338.04 804.80h4.69v2.74h-4.69zM126.93 807.54h4.69v2.74h-4.69zM192.61 807.54h4.69v2.74h-4.69zM220.76 807.54h4.69v2.74h-4.69zM253.60 807.54h4.69v2.74h-4.69zM309.89 807.54h4.69v2.74h-4.69zM347.42 807.54h4.69v2.74h-4.69zM403.72 807.54h4.69v2.74h-4.69zM286.44 810.28h4.69v2.74h-4.69zM300.51 810.28h4.69v2.74h-4.69zM309.89 810.28h4.69v2.74h-4.69zM333.35 810.28h4.69v2.74h-4.69zM361.50 810.28h4.69v2.74h-4.69zM319.28 813.02h4.69v2.74h-4.69zM216.07 815.76h4.69v2.74h-4.69zM338.04 815.76h4.69v2.74h-4.69zM333.35 818.50h4.69v2.74h-4.69zM342.73 818.50h4.69v2.74h-4.69zM347.42 818.50h4.69v2.74h-4.69zM272.36 821.24h4.69v2.74h-4.69zM352.11 821.24h4.69v2.74h-4.69zM314.58 823.98h4.69v2.74h-4.69zM319.28 823.98h4.69v2.74h-4.69zM328.66 823.98h4.69v2.74h-4.69zM267.67 826.72h4.69v2.74h-4.69zM286.44 826.72h4.69v2.74h-4.69zM319.28 826.72h4.69v2.74h-4.69zM356.81 826.72h4.69v2.74h-4.69zM201.99 829.46h4.69v2.74h-4.69zM230.14 829.46h4.69v2.74h-4.69zM248.91 829.46h4.69v2.74h-4.69zM309.89 829.46h4.69v2.74h-4.69zM150.39 832.20h4.69v2.74h-4.69zM230.14 832.20h4.69v2.74h-4.69zM342.73 832.20h4.69v2.74h-4.69zM361.50 832.20h4.69v2.74h-4.69zM117.55 834.94h4.69v2.74h-4.69zM300.51 834.94h4.69v2.74h-4.69zM399.03 834.94h4.69v2.74h-4.69zM295.82 837.68h4.69v2.74h-4.69zM244.22 840.42h4.69v2.74h-4.69zM262.98 840.42h4.69v2.74h-4.69zM295.82 840.42h4.69v2.74h-4.69zM323.97 840.42h4.69v2.74h-4.69zM333.35 840.42h4.69v2.74h-4.69zM384.95 840.42h4.69v2.74h-4.69zM394.34 840.42h4.69v2.74h-4.69zM248.91 843.16h4.69v2.74h-4.69zM291.13 843.16h4.69v2.74h-4.69zM314.58 843.16h4.69v2.74h-4.69zM370.88 843.16h4.69v2.74h-4.69zM295.82 845.90h4.69v2.74h-4.69zM248.91 848.64h4.69v2.74h-4.69zM281.75 848.64h4.69v2.74h-4.69zM370.88 848.64h4.69v2.74h-4.69zM375.57 848.64h4.69v2.74h-4.69zM389.64 848.64h4.69v2.74h-4.69zM141.01 851.38h4.69v2.74h-4.69zM253.60 851.38h4.69v2.74h-4.69zM262.98 854.12h4.69v2.74h-4.69zM267.67 854.12h4.69v2.74h-4.69zM361.50 856.86h4.69v2.74h-4.69zM389.64 856.86h4.69v2.74h-4.69zM70.64 859.60h4.69v2.74h-4.69zM281.75 859.60h4.69v2.74h-4.69zM356.81 859.60h4.69v2.74h-4.69zM399.03 859.60h4.69v2.74h-4.69zM253.60 862.34h4.69v2.74h-4.69zM333.35 862.34h4.69v2.74h-4.69zM262.98 865.08h4.69v2.74h-4.69zM272.36 865.08h4.69v2.74h-4.69zM352.11 865.08h4.69v2.74h-4.69zM370.88 865.08h4.69v2.74h-4.69zM244.22 867.82h4.69v2.74h-4.69zM253.60 867.82h4.69v2.74h-4.69zM314.58 867.82h4.69v2.74h-4.69zM375.57 867.82h4.69v2.74h-4.69zM253.60 870.56h4.69v2.74h-4.69zM305.20 870.56h4.69v2.74h-4.69zM352.11 870.56h4.69v2.74h-4.69zM305.20 873.30h4.69v2.74h-4.69zM309.89 873.30h4.69v2.74h-4.69zM328.66 873.30h4.69v2.74h-4.69zM370.88 873.30h4.69v2.74h-4.69zM352.11 876.04h4.69v2.74h-4.69zM323.97 878.78h4.69v2.74h-4.69zM342.73 878.78h4.69v2.74h-4.69zM380.26 878.78h4.69v2.74h-4.69zM169.16 881.52h4.69v2.74h-4.69zM253.60 881.52h4.69v2.74h-4.69zM300.51 881.52h4.69v2.74h-4.69zM328.66 881.52h4.69v2.74h-4.69zM394.34 881.52h4.69v2.74h-4.69zM258.29 884.26h4.69v2.74h-4.69zM262.98 884.26h4.69v2.74h-4.69zM309.89 884.26h4.69v2.74h-4.69zM403.72 884.26h4.69v2.74h-4.69zM408.41 884.26h4.69v2.74h-4.69zM295.82 887.00h4.69v2.74h-4.69zM300.51 889.74h4.69v2.74h-4.69zM328.66 889.74h4.69v2.74h-4.69zM352.11 889.74h4.69v2.74h-4.69zM361.50 889.74h4.69v2.74h-4.69zM216.07 892.48h4.69v2.74h-4.69zM248.91 892.48h4.69v2.74h-4.69zM262.98 892.48h4.69v2.74h-4.69zM267.67 892.48h4.69v2.74h-4.69zM305.20 892.48h4.69v2.74h-4.69zM389.64 892.48h4.69v2.74h-4.69zM169.16 895.22h4.69v2.74h-4.69zM277.05 895.22h4.69v2.74h-4.69zM286.44 895.22h4.69v2.74h-4.69zM342.73 895.22h4.69v2.74h-4.69zM375.57 895.22h4.69v2.74h-4.69zM248.91 897.96h4.69v2.74h-4.69zM403.72 900.70h4.69v2.74h-4.69zM244.22 903.44h4.69v2.74h-4.69zM333.35 903.44h4.69v2.74h-4.69zM370.88 903.44h4.69v2.74h-4.69zM380.26 903.44h4.69v2.74h-4.69zM300.51 906.18h4.69v2.74h-4.69zM342.73 906.18h4.69v2.74h-4.69zM375.57 906.18h4.69v2.74h-4.69zM169.16 908.92h4.69v2.74h-4.69zM244.22 908.92h4.69v2.74h-4.69zM356.81 908.92h4.69v2.74h-4.69zM384.95 908.92h4.69v2.74h-4.69zM65.95 911.66h4.69v2.74h-4.69zM197.30 911.66h4.69v2.74h-4.69zM258.29 911.66h4.69v2.74h-4.69zM56.56 914.40h4.69v2.74h-4.69zM361.50 914.40h4.69v2.74h-4.69zM366.19 914.40h4.69v2.74h-4.69zM164.46 917.14h4.69v2.74h-4.69zM314.58 917.14h4.69v2.74h-4.69zM47.18 919.88h4.69v2.74h-4.69zM291.13 919.88h4.69v2.74h-4.69zM314.58 919.88h4.69v2.74h-4.69zM244.22 922.62h4.69v2.74h-4.69zM253.60 922.62h4.69v2.74h-4.69zM286.44 922.62h4.69v2.74h-4.69zM300.51 922.62h4.69v2.74h-4.69zM305.20 922.62h4.69v2.74h-4.69zM258.29 925.36h4.69v2.74h-4.69zM370.88 925.36h4.69v2.74h-4.69zM394.34 925.36h4.69v2.74h-4.69zM403.72 925.36h4.69v2.74h-4.69zM277.05 928.10h4.69v2.74h-4.69zM108.17 930.84h4.69v2.74h-4.69zM281.75 930.84h4.69v2.74h-4.69zM323.97 930.84h4.69v2.74h-4.69zM408.41 930.84h4.69v2.74h-4.69zM281.75 933.58h4.69v2.74h-4.69zM309.89 933.58h4.69v2.74h-4.69zM384.95 933.58h4.69v2.74h-4.69zM197.30 936.32h4.69v2.74h-4.69zM314.58 936.32h4.69v2.74h-4.69zM319.28 936.32h4.69v2.74h-4.69zM347.42 936.32h4.69v2.74h-4.69zM408.41 936.32h4.69v2.74h-4.69zM258.29 939.06h4.69v2.74h-4.69zM267.67 939.06h4.69v2.74h-4.69zM291.13 941.80h4.69v2.74h-4.69zM361.50 941.80h4.69v2.74h-4.69zM309.89 944.54h4.69v2.74h-4.69zM328.66 944.54h4.69v2.74h-4.69zM253.60 947.28h4.69v2.74h-4.69zM333.35 947.28h4.69v2.74h-4.69zM361.50 947.28h4.69v2.74h-4.69zM408.41 947.28h4.69v2.74h-4.69zM319.28 950.02h4.69v2.74h-4.69zM244.22 952.76h4.69v2.74h-4.69zM258.29 952.76h4.69v2.74h-4.69zM328.66 952.76h4.69v2.74h-4.69zM399.03 952.76h4.69v2.74h-4.69zM370.88 955.50h4.69v2.74h-4.69zM328.66 960.98h4.69v2.74h-4.69zM366.19 960.98h4.69v2.74h-4.69zM103.48 963.72h4.69v2.74h-4.69zM323.97 963.72h4.69v2.74h-4.69zM389.64 963.72h4.69v2.74h-4.69zM42.49 966.46h4.69v2.74h-4.69zM319.28 966.46h4.69v2.74h-4.69zM403.72 966.46h4.69v2.74h-4.69zM244.22 969.20h4.69v2.74h-4.69zM314.58 969.20h4.69v2.74h-4.69zM375.57 969.20h4.69v2.74h-4.69zM380.26 969.20h4.69v2.74h-4.69zM384.95 969.20h4.69v2.74h-4.69zM51.87 971.94h4.69v2.74h-4.69zM187.92 971.94h4.69v2.74h-4.69zM272.36 974.68h4.69v2.74h-4.69zM305.20 974.68h4.69v2.74h-4.69zM342.73 974.68h4.69v2.74h-4.69zM352.11 974.68h4.69v2.74h-4.69zM47.18 977.42h4.69v2.74h-4.69zM248.91 977.42h4.69v2.74h-4.69zM333.35 977.42h4.69v2.74h-4.69zM408.41 977.42h4.69v2.74h-4.69zM356.81 980.16h4.69v2.74h-4.69zM380.26 980.16h4.69v2.74h-4.69zM384.95 980.16h4.69v2.74h-4.69zM403.72 980.16h4.69v2.74h-4.69zM291.13 982.90h4.69v2.74h-4.69zM309.89 982.90h4.69v2.74h-4.69zM323.97 982.90h4.69v2.74h-4.69zM356.81 982.90h4.69v2.74h-4.69zM370.88 982.90h4.69v2.74h-4.69zM244.22 985.64h4.69v2.74h-4.69zM309.89 985.64h4.69v2.74h-4.69zM333.35 985.64h4.69v2.74h-4.69zM375.57 985.64h4.69v2.74h-4.69zM225.45 988.38h4.69v2.74h-4.69zM262.98 988.38h4.69v2.74h-4.69zM323.97 988.38h4.69v2.74h-4.69zM244.22 991.12h4.69v2.74h-4.69zM328.66 991.12h4.69v2.74h-4.69zM333.35 991.12h4.69v2.74h-4.69zM98.79 993.86h4.69v2.74h-4.69zM389.64 993.86h4.69v2.74h-4.69zM75.33 996.60h4.69v2.74h-4.69zM267.67 996.60h4.69v2.74h-4.69zM155.08 999.34h4.69v2.74h-4.69zM253.60 999.34h4.69v2.74h-4.69zM131.62 1002.08h4.69v2.74h-4.69zM267.67 1002.08h4.69v2.74h-4.69zM408.41 1002.08h4.69v2.74h-4.69zM192.61 1004.82h4.69v2.74h-4.69zM192.61 1007.56h4.69v2.74h-4.69zM244.22 1007.56h4.69v2.74h-4.69zM333.35 1007.56h4.69v2.74h-4.69zM370.88 1007.56h4.69v2.74h-4.69zM286.44 1010.30h4.69v2.74h-4.69zM37.80 1013.04h4.69v2.74h-4.69zM155.08 1013.04h4.69v2.74h-4.69zM314.58 1013.04h4.69v2.74h-4.69zM347.42 1013.04h4.69v2.74h-4.69zM248.91 1015.78h4.69v2.74h-4.69zM262.98 1015.78h4.69v2.74h-4.69zM291.13 1015.78h4.69v2.74h-4.69zM300.51 1015.78h4.69v2.74h-4.69zM328.66 1015.78h4.69v2.74h-4.69zM352.11 1015.78h4.69v2.74h-4.69zM225.45 1018.52h4.69v2.74h-4.69zM399.03 1018.52h4.69v2.74h-4.69zM248.91 1021.26h4.69v2.74h-4.69zM253.60 1021.26h4.69v2.74h-4.69zM399.03 1021.26h4.69v2.74h-4.69zM408.41 1021.26h4.69v2.74h-4.69zM126.93 1024.00h4.69v2.74h-4.69zM192.61 1024.00h4.69v2.74h-4.69zM370.88 1024.00h4.69v2.74h-4.69zM347.42 1026.74h4.69v2.74h-4.69zM248.91 1029.48h4.69v2.74h-4.69zM277.05 1029.48h4.69v2.74h-4.69zM361.50 1029.48h4.69v2.74h-4.69zM375.57 1029.48h4.69v2.74h-4.69zM408.41 1029.48h4.69v2.74h-4.69zM70.64 1032.22h4.69v2.74h-4.69zM201.99 1032.22h4.69v2.74h-4.69zM286.44 1032.22h4.69v2.74h-4.69zM314.58 1032.22h4.69v2.74h-4.69zM323.97 1032.22h4.69v2.74h-4.69zM366.19 1032.22h4.69v2.74h-4.69zM248.91 1034.96h4.69v2.74h-4.69zM338.04 1034.96h4.69v2.74h-4.69zM352.11 1034.96h4.69v2.74h-4.69zM380.26 1034.96h4.69v2.74h-4.69zM408.41 1034.96h4.69v2.74h-4.69zM253.60 1037.70h4.69v2.74h-4.69zM70.64 1040.44h4.69v2.74h-4.69zM380.26 1040.44h4.69v2.74h-4.69zM281.75 1043.18h4.69v2.74h-4.69zM300.51 1043.18h4.69v2.74h-4.69zM352.11 1043.18h4.69v2.74h-4.69zM384.95 1045.92h4.69v2.74h-4.69z"/>
<path fill="#fee99e" d="M262.98 777.40h4.69v2.74h-4.69zM291.13 777.40h4.69v2.74h-4.69zM309.89 777.40h4.69v2.74h-4.69zM136.32 780.14h4.69v2.74h-4.69zM319.28 780.14h4.69v2.74h-4.69zM286.44 782.88h4.69v2.74h-4.69zM122.24 785.62h4.69v2.74h-4.69zM220.76 785.62h4.69v2.74h-4.69zM159.77 788.36h4.69v2.74h-4.69zM314.58 788.36h4.69v2.74h-4.69zM389.64 791.10h4.69v2.74h-4.69zM169.16 793.84h4.69v2.74h-4.69zM262.98 793.84h4.69v2.74h-4.69zM356.81 793.84h4.69v2.74h-4.69zM253.60 796.58h4.69v2.74h-4.69zM389.64 796.58h4.69v2.74h-4.69zM206.69 799.32h4.69v2.74h-4.69zM244.22 799.32h4.69v2.74h-4.69zM277.05 799.32h4.69v2.74h-4.69zM380.26 799.32h4.69v2.74h-4.69zM258.29 802.06h4.69v2.74h-4.69zM314.58 802.06h4.69v2.74h-4.69zM323.97 802.06h4.69v2.74h-4.69zM399.03 802.06h4.69v2.74h-4.69zM117.55 804.80h4.69v2.74h-4.69zM277.05 804.80h4.69v2.74h-4.69zM253.60 810.28h4.69v2.74h-4.69zM136.32 813.02h4.69v2.74h-4.69zM183.23 813.02h4.69v2.74h-4.69zM267.67 813.02h4.69v2.74h-4.69zM356.81 813.02h4.69v2.74h-4.69zM150.39 815.76h4.69v2.74h-4.69zM277.05 818.50h4.69v2.74h-4.69zM248.91 821.24h4.69v2.74h-4.69zM281.75 821.24h4.69v2.74h-4.69zM286.44 821.24h4.69v2.74h-4.69zM323.97 821.24h4.69v2.74h-4.69zM169.16 823.98h4.69v2.74h-4.69zM323.97 823.98h4.69v2.74h-4.69zM342.73 823.98h4.69v2.74h-4.69zM380.26 823.98h4.69v2.74h-4.69zM206.69 826.72h4.69v2.74h-4.69zM277.05 826.72h4.69v2.74h-4.69zM342.73 826.72h4.69v2.74h-4.69zM342.73 829.46h4.69v2.74h-4.69zM352.11 829.46h4.69v2.74h-4.69zM248.91 832.20h4.69v2.74h-4.69zM309.89 832.20h4.69v2.74h-4.69zM319.28 832.20h4.69v2.74h-4.69zM323.97 832.20h4.69v2.74h-4.69zM347.42 832.20h4.69v2.74h-4.69zM338.04 834.94h4.69v2.74h-4.69zM380.26 834.94h4.69v2.74h-4.69zM225.45 837.68h4.69v2.74h-4.69zM239.52 837.68h4.69v2.74h-4.69zM281.75 837.68h4.69v2.74h-4.69zM309.89 837.68h4.69v2.74h-4.69zM356.81 837.68h4.69v2.74h-4.69zM286.44 840.42h4.69v2.74h-4.69zM126.93 843.16h4.69v2.74h-4.69zM225.45 843.16h4.69v2.74h-4.69zM262.98 843.16h4.69v2.74h-4.69zM342.73 843.16h4.69v2.74h-4.69zM281.75 845.90h4.69v2.74h-4.69zM403.72 845.90h4.69v2.74h-4.69zM295.82 848.64h4.69v2.74h-4.69zM300.51 848.64h4.69v2.74h-4.69zM286.44 851.38h4.69v2.74h-4.69zM328.66 851.38h4.69v2.74h-4.69zM333.35 851.38h4.69v2.74h-4.69zM356.81 851.38h4.69v2.74h-4.69zM361.50 851.38h4.69v2.74h-4.69zM159.77 854.12h4.69v2.74h-4.69zM291.13 854.12h4.69v2.74h-4.69zM333.35 854.12h4.69v2.74h-4.69zM384.95 854.12h4.69v2.74h-4.69zM305.20 856.86h4.69v2.74h-4.69zM347.42 856.86h4.69v2.74h-4.69zM211.38 859.60h4.69v2.74h-4.69zM338.04 859.60h4.69v2.74h-4.69zM80.02 862.34h4.69v2.74h-4.69zM309.89 862.34h4.69v2.74h-4.69zM267.67 865.08h4.69v2.74h-4.69zM319.28 865.08h4.69v2.74h-4.69zM375.57 865.08h4.69v2.74h-4.69zM258.29 867.82h4.69v2.74h-4.69zM295.82 867.82h4.69v2.74h-4.69zM347.42 867.82h4.69v2.74h-4.69zM399.03 867.82h4.69v2.74h-4.69zM183.23 870.56h4.69v2.74h-4.69zM347.42 870.56h4.69v2.74h-4.69zM361.50 870.56h4.69v2.74h-4.69zM206.69 873.30h4.69v2.74h-4.69zM277.05 873.30h4.69v2.74h-4.69zM366.19 873.30h4.69v2.74h-4.69zM394.34 873.30h4.69v2.74h-4.69zM178.54 876.04h4.69v2.74h-4.69zM258.29 876.04h4.69v2.74h-4.69zM314.58 876.04h4.69v2.74h-4.69zM389.64 876.04h4.69v2.74h-4.69zM230.14 878.78h4.69v2.74h-4.69zM253.60 878.78h4.69v2.74h-4.69zM356.81 878.78h4.69v2.74h-4.69zM361.50 878.78h4.69v2.74h-4.69zM399.03 878.78h4.69v2.74h-4.69zM84.71 881.52h4.69v2.74h-4.69zM136.32 881.52h4.69v2.74h-4.69zM333.35 881.52h4.69v2.74h-4.69zM384.95 881.52h4.69v2.74h-4.69zM37.80 884.26h4.69v2.74h-4.69zM103.48 884.26h4.69v2.74h-4.69zM333.35 884.26h4.69v2.74h-4.69zM291.13 887.00h4.69v2.74h-4.69zM389.64 887.00h4.69v2.74h-4.69zM394.34 887.00h4.69v2.74h-4.69zM408.41 887.00h4.69v2.74h-4.69zM309.89 889.74h4.69v2.74h-4.69zM314.58 889.74h4.69v2.74h-4.69zM103.48 892.48h4.69v2.74h-4.69zM211.38 892.48h4.69v2.74h-4.69zM300.51 892.48h4.69v2.74h-4.69zM309.89 892.48h4.69v2.74h-4.69zM356.81 892.48h4.69v2.74h-4.69zM192.61 895.22h4.69v2.74h-4.69zM291.13 895.22h4.69v2.74h-4.69zM314.58 895.22h4.69v2.74h-4.69zM361.50 895.22h4.69v2.74h-4.69zM389.64 895.22h4.69v2.74h-4.69zM291.13 897.96h4.69v2.74h-4.69zM338.04 897.96h4.69v2.74h-4.69zM347.42 897.96h4.69v2.74h-4.69zM375.57 897.96h4.69v2.74h-4.69zM150.39 900.70h4.69v2.74h-4.69zM258.29 900.70h4.69v2.74h-4.69zM267.67 903.44h4.69v2.74h-4.69zM309.89 903.44h4.69v2.74h-4.69zM108.17 906.18h4.69v2.74h-4.69zM131.62 906.18h4.69v2.74h-4.69zM150.39 908.92h4.69v2.74h-4.69zM258.29 908.92h4.69v2.74h-4.69zM117.55 911.66h4.69v2.74h-4.69zM295.82 911.66h4.69v2.74h-4.69zM384.95 911.66h4.69v2.74h-4.69zM314.58 914.40h4.69v2.74h-4.69zM408.41 914.40h4.69v2.74h-4.69zM262.98 917.14h4.69v2.74h-4.69zM323.97 917.14h4.69v2.74h-4.69zM61.26 919.88h4.69v2.74h-4.69zM347.42 919.88h4.69v2.74h-4.69zM384.95 919.88h4.69v2.74h-4.69zM394.34 919.88h4.69v2.74h-4.69zM403.72 919.88h4.69v2.74h-4.69zM211.38 922.62h4.69v2.74h-4.69zM408.41 922.62h4.69v2.74h-4.69zM42.49 925.36h4.69v2.74h-4.69zM173.85 925.36h4.69v2.74h-4.69zM253.60 928.10h4.69v2.74h-4.69zM347.42 928.10h4.69v2.74h-4.69zM380.26 928.10h4.69v2.74h-4.69zM403.72 928.10h4.69v2.74h-4.69zM173.85 930.84h4.69v2.74h-4.69zM183.23 930.84h4.69v2.74h-4.69zM319.28 930.84h4.69v2.74h-4.69zM352.11 930.84h4.69v2.74h-4.69zM356.81 930.84h4.69v2.74h-4.69zM305.20 933.58h4.69v2.74h-4.69zM389.64 933.58h4.69v2.74h-4.69zM75.33 936.32h4.69v2.74h-4.69zM281.75 936.32h4.69v2.74h-4.69zM399.03 936.32h4.69v2.74h-4.69zM37.80 939.06h4.69v2.74h-4.69zM295.82 939.06h4.69v2.74h-4.69zM314.58 939.06h4.69v2.74h-4.69zM117.55 941.80h4.69v2.74h-4.69zM248.91 941.80h4.69v2.74h-4.69zM272.36 941.80h4.69v2.74h-4.69zM366.19 944.54h4.69v2.74h-4.69zM380.26 944.54h4.69v2.74h-4.69zM145.70 947.28h4.69v2.74h-4.69zM258.29 947.28h4.69v2.74h-4.69zM375.57 947.28h4.69v2.74h-4.69zM272.36 950.02h4.69v2.74h-4.69zM333.35 950.02h4.69v2.74h-4.69zM84.71 952.76h4.69v2.74h-4.69zM150.39 952.76h4.69v2.74h-4.69zM352.11 952.76h4.69v2.74h-4.69zM408.41 952.76h4.69v2.74h-4.69zM258.29 955.50h4.69v2.74h-4.69zM262.98 955.50h4.69v2.74h-4.69zM342.73 955.50h4.69v2.74h-4.69zM347.42 955.50h4.69v2.74h-4.69zM305.20 958.24h4.69v2.74h-4.69zM328.66 958.24h4.69v2.74h-4.69zM352.11 958.24h4.69v2.74h-4.69zM150.39 960.98h4.69v2.74h-4.69zM277.05 960.98h4.69v2.74h-4.69zM300.51 960.98h4.69v2.74h-4.69zM309.89 960.98h4.69v2.74h-4.69zM319.28 960.98h4.69v2.74h-4.69zM333.35 960.98h4.69v2.74h-4.69zM342.73 960.98h4.69v2.74h-4.69zM375.57 960.98h4.69v2.74h-4.69zM305.20 963.72h4.69v2.74h-4.69zM333.35 963.72h4.69v2.74h-4.69zM366.19 963.72h4.69v2.74h-4.69zM244.22 966.46h4.69v2.74h-4.69zM291.13 966.46h4.69v2.74h-4.69zM300.51 966.46h4.69v2.74h-4.69zM352.11 966.46h4.69v2.74h-4.69zM389.64 966.46h4.69v2.74h-4.69zM192.61 969.20h4.69v2.74h-4.69zM234.83 969.20h4.69v2.74h-4.69zM253.60 969.20h4.69v2.74h-4.69zM323.97 969.20h4.69v2.74h-4.69zM342.73 969.20h4.69v2.74h-4.69zM403.72 969.20h4.69v2.74h-4.69zM277.05 971.94h4.69v2.74h-4.69zM356.81 971.94h4.69v2.74h-4.69zM408.41 971.94h4.69v2.74h-4.69zM108.17 974.68h4.69v2.74h-4.69zM230.14 974.68h4.69v2.74h-4.69zM286.44 974.68h4.69v2.74h-4.69zM375.57 974.68h4.69v2.74h-4.69zM286.44 977.42h4.69v2.74h-4.69zM389.64 977.42h4.69v2.74h-4.69zM277.05 980.16h4.69v2.74h-4.69zM309.89 980.16h4.69v2.74h-4.69zM347.42 980.16h4.69v2.74h-4.69zM272.36 982.90h4.69v2.74h-4.69zM389.64 982.90h4.69v2.74h-4.69zM314.58 988.38h4.69v2.74h-4.69zM61.26 991.12h4.69v2.74h-4.69zM248.91 991.12h4.69v2.74h-4.69zM272.36 991.12h4.69v2.74h-4.69zM338.04 991.12h4.69v2.74h-4.69zM403.72 991.12h4.69v2.74h-4.69zM267.67 993.86h4.69v2.74h-4.69zM305.20 993.86h4.69v2.74h-4.69zM328.66 993.86h4.69v2.74h-4.69zM300.51 996.60h4.69v2.74h-4.69zM338.04 996.60h4.69v2.74h-4.69zM366.19 996.60h4.69v2.74h-4.69zM183.23 999.34h4.69v2.74h-4.69zM230.14 999.34h4.69v2.74h-4.69zM300.51 1002.08h4.69v2.74h-4.69zM323.97 1002.08h4.69v2.74h-4.69zM389.64 1002.08h4.69v2.74h-4.69zM399.03 1002.08h4.69v2.74h-4.69zM262.98 1004.82h4.69v2.74h-4.69zM272.36 1004.82h4.69v2.74h-4.69zM281.75 1004.82h4.69v2.74h-4.69zM211.38 1007.56h4.69v2.74h-4.69zM286.44 1007.56h4.69v2.74h-4.69zM333.35 1010.30h4.69v2.74h-4.69zM295.82 1013.04h4.69v2.74h-4.69zM319.28 1013.04h4.69v2.74h-4.69zM361.50 1013.04h4.69v2.74h-4.69zM183.23 1015.78h4.69v2.74h-4.69zM277.05 1015.78h4.69v2.74h-4.69zM370.88 1015.78h4.69v2.74h-4.69zM375.57 1015.78h4.69v2.74h-4.69zM380.26 1015.78h4.69v2.74h-4.69zM389.64 1015.78h4.69v2.74h-4.69zM338.04 1018.52h4.69v2.74h-4.69zM347.42 1018.52h4.69v2.74h-4.69zM347.42 1021.26h4.69v2.74h-4.69zM356.81 1021.26h4.69v2.74h-4.69zM366.19 1021.26h4.69v2.74h-4.69zM394.34 1021.26h4.69v2.74h-4.69zM403.72 1021.26h4.69v2.74h-4.69zM258.29 1024.00h4.69v2.74h-4.69zM248.91 1026.74h4.69v2.74h-4.69zM272.36 1026.74h4.69v2.74h-4.69zM286.44 1026.74h4.69v2.74h-4.69zM333.35 1026.74h4.69v2.74h-4.69zM352.11 1026.74h4.69v2.74h-4.69zM183.23 1029.48h4.69v2.74h-4.69zM314.58 1029.48h4.69v2.74h-4.69zM356.81 1029.48h4.69v2.74h-4.69zM248.91 1032.22h4.69v2.74h-4.69zM375.57 1032.22h4.69v2.74h-4.69zM56.56 1034.96h4.69v2.74h-4.69zM258.29 1034.96h4.69v2.74h-4.69zM262.98 1034.96h4.69v2.74h-4.69zM305.20 1034.96h4.69v2.74h-4.69zM389.64 1034.96h4.69v2.74h-4.69zM42.49 1037.70h4.69v2.74h-4.69zM262.98 1037.70h4.69v2.74h-4.69zM314.58 1037.70h4.69v2.74h-4.69zM375.57 1037.70h4.69v2.74h-4.69zM384.95 1037.70h4.69v2.74h-4.69zM333.35 1040.44h4.69v2.74h-4.69zM408.41 1040.44h4.69v2.74h-4.69zM248.91 1043.18h4.69v2.74h-4.69zM258.29 1043.18h4.69v2.74h-4.69zM281.75 1045.92h4.69v2.74h-4.69zM403.72 1045.92h4.69v2.74h-4.69zM155.08 1048.66h4.69v2.74h-4.69z"/>
<path fill="#fee699" d="M277.05 777.40h4.69v2.74h-4.69zM309.89 780.14h4.69v2.74h-4.69zM253.60 782.88h4.69v2.74h-4.69zM389.64 785.62h4.69v2.74h-4.69zM248.91 788.36h4.69v2.74h-4.69zM277.05 788.36h4.69v2.74h-4.69zM84.71 791.10h4.69v2.74h-4.69zM211.38 791.10h4.69v2.74h-4.69zM403.72 791.10h4.69v2.74h-4.69zM197.30 793.84h4.69v2.74h-4.69zM267.67 793.84h4.69v2.74h-4.69zM352.11 796.58h4.69v2.74h-4.69zM169.16 799.32h4.69v2.74h-4.69zM220.76 799.32h4.69v2.74h-4.69zM216.07 802.06h4.69v2.74h-4.69zM253.60 802.06h4.69v2.74h-4.69zM272.36 802.06h4.69v2.74h-4.69zM291.13 802.06h4.69v2.74h-4.69zM262.98 804.80h4.69v2.74h-4.69zM347.42 804.80h4.69v2.74h-4.69zM338.04 807.54h4.69v2.74h-4.69zM145.70 810.28h4.69v2.74h-4.69zM272.36 810.28h4.69v2.74h-4.69zM347.42 813.02h4.69v2.74h-4.69zM403.72 813.02h4.69v2.74h-4.69zM361.50 815.76h4.69v2.74h-4.69zM122.24 818.50h4.69v2.74h-4.69zM262.98 818.50h4.69v2.74h-4.69zM295.82 818.50h4.69v2.74h-4.69zM314.58 818.50h4.69v2.74h-4.69zM319.28 818.50h4.69v2.74h-4.69zM328.66 818.50h4.69v2.74h-4.69zM342.73 821.24h4.69v2.74h-4.69zM262.98 823.98h4.69v2.74h-4.69zM370.88 823.98h4.69v2.74h-4.69zM305.20 826.72h4.69v2.74h-4.69zM272.36 829.46h4.69v2.74h-4.69zM347.42 829.46h4.69v2.74h-4.69zM352.11 832.20h4.69v2.74h-4.69zM366.19 832.20h4.69v2.74h-4.69zM370.88 832.20h4.69v2.74h-4.69zM244.22 834.94h4.69v2.74h-4.69zM267.67 834.94h4.69v2.74h-4.69zM272.36 834.94h4.69v2.74h-4.69zM314.58 834.94h4.69v2.74h-4.69zM356.81 834.94h4.69v2.74h-4.69zM248.91 837.68h4.69v2.74h-4.69zM253.60 837.68h4.69v2.74h-4.69zM291.13 837.68h4.69v2.74h-4.69zM375.57 837.68h4.69v2.74h-4.69zM230.14 840.42h4.69v2.74h-4.69zM281.75 840.42h4.69v2.74h-4.69zM300.51 840.42h4.69v2.74h-4.69zM328.66 840.42h4.69v2.74h-4.69zM98.79 843.16h4.69v2.74h-4.69zM281.75 843.16h4.69v2.74h-4.69zM286.44 843.16h4.69v2.74h-4.69zM361.50 843.16h4.69v2.74h-4.69zM258.29 845.90h4.69v2.74h-4.69zM291.13 845.90h4.69v2.74h-4.69zM347.42 845.90h4.69v2.74h-4.69zM244.22 848.64h4.69v2.74h-4.69zM366.19 848.64h4.69v2.74h-4.69zM131.62 851.38h4.69v2.74h-4.69zM342.73 851.38h4.69v2.74h-4.69zM253.60 854.12h4.69v2.74h-4.69zM338.04 854.12h4.69v2.74h-4.69zM366.19 854.12h4.69v2.74h-4.69zM352.11 856.86h4.69v2.74h-4.69zM356.81 856.86h4.69v2.74h-4.69zM375.57 856.86h4.69v2.74h-4.69zM380.26 856.86h4.69v2.74h-4.69zM239.52 859.60h4.69v2.74h-4.69zM277.05 859.60h4.69v2.74h-4.69zM300.51 859.60h4.69v2.74h-4.69zM333.35 859.60h4.69v2.74h-4.69zM361.50 862.34h4.69v2.74h-4.69zM258.29 865.08h4.69v2.74h-4.69zM277.05 870.56h4.69v2.74h-4.69zM370.88 870.56h4.69v2.74h-4.69zM384.95 870.56h4.69v2.74h-4.69zM155.08 873.30h4.69v2.74h-4.69zM262.98 873.30h4.69v2.74h-4.69zM267.67 873.30h4.69v2.74h-4.69zM300.51 873.30h4.69v2.74h-4.69zM75.33 876.04h4.69v2.74h-4.69zM262.98 876.04h4.69v2.74h-4.69zM328.66 878.78h4.69v2.74h-4.69zM370.88 878.78h4.69v2.74h-4.69zM384.95 878.78h4.69v2.74h-4.69zM192.61 881.52h4.69v2.74h-4.69zM272.36 881.52h4.69v2.74h-4.69zM342.73 881.52h4.69v2.74h-4.69zM370.88 881.52h4.69v2.74h-4.69zM281.75 884.26h4.69v2.74h-4.69zM356.81 884.26h4.69v2.74h-4.69zM361.50 884.26h4.69v2.74h-4.69zM314.58 887.00h4.69v2.74h-4.69zM328.66 887.00h4.69v2.74h-4.69zM361.50 887.00h4.69v2.74h-4.69zM380.26 887.00h4.69v2.74h-4.69zM65.95 889.74h4.69v2.74h-4.69zM145.70 889.74h4.69v2.74h-4.69zM258.29 889.74h4.69v2.74h-4.69zM338.04 889.74h4.69v2.74h-4.69zM225.45 892.48h4.69v2.74h-4.69zM286.44 892.48h4.69v2.74h-4.69zM370.88 892.48h4.69v2.74h-4.69zM408.41 892.48h4.69v2.74h-4.69zM84.71 895.22h4.69v2.74h-4.69zM305.20 895.22h4.69v2.74h-4.69zM183.23 897.96h4.69v2.74h-4.69zM300.51 897.96h4.69v2.74h-4.69zM384.95 897.96h4.69v2.74h-4.69zM399.03 897.96h4.69v2.74h-4.69zM253.60 900.70h4.69v2.74h-4.69zM314.58 900.70h4.69v2.74h-4.69zM366.19 900.70h4.69v2.74h-4.69zM122.24 903.44h4.69v2.74h-4.69zM225.45 903.44h4.69v2.74h-4.69zM277.05 903.44h4.69v2.74h-4.69zM291.13 903.44h4.69v2.74h-4.69zM281.75 906.18h4.69v2.74h-4.69zM384.95 906.18h4.69v2.74h-4.69zM262.98 908.92h4.69v2.74h-4.69zM338.04 908.92h4.69v2.74h-4.69zM366.19 908.92h4.69v2.74h-4.69zM380.26 908.92h4.69v2.74h-4.69zM323.97 911.66h4.69v2.74h-4.69zM352.11 911.66h4.69v2.74h-4.69zM356.81 911.66h4.69v2.74h-4.69zM262.98 914.40h4.69v2.74h-4.69zM300.51 914.40h4.69v2.74h-4.69zM333.35 914.40h4.69v2.74h-4.69zM361.50 917.14h4.69v2.74h-4.69zM366.19 917.14h4.69v2.74h-4.69zM155.08 919.88h4.69v2.74h-4.69zM295.82 919.88h4.69v2.74h-4.69zM356.81 922.62h4.69v2.74h-4.69zM370.88 922.62h4.69v2.74h-4.69zM389.64 922.62h4.69v2.74h-4.69zM399.03 922.62h4.69v2.74h-4.69zM305.20 925.36h4.69v2.74h-4.69zM117.55 928.10h4.69v2.74h-4.69zM333.35 928.10h4.69v2.74h-4.69zM122.24 930.84h4.69v2.74h-4.69zM253.60 933.58h4.69v2.74h-4.69zM319.28 933.58h4.69v2.74h-4.69zM328.66 933.58h4.69v2.74h-4.69zM333.35 933.58h4.69v2.74h-4.69zM267.67 936.32h4.69v2.74h-4.69zM380.26 936.32h4.69v2.74h-4.69zM394.34 936.32h4.69v2.74h-4.69zM80.02 939.06h4.69v2.74h-4.69zM122.24 939.06h4.69v2.74h-4.69zM361.50 939.06h4.69v2.74h-4.69zM380.26 939.06h4.69v2.74h-4.69zM253.60 941.80h4.69v2.74h-4.69zM328.66 941.80h4.69v2.74h-4.69zM370.88 941.80h4.69v2.74h-4.69zM211.38 944.54h4.69v2.74h-4.69zM253.60 944.54h4.69v2.74h-4.69zM286.44 944.54h4.69v2.74h-4.69zM314.58 944.54h4.69v2.74h-4.69zM394.34 944.54h4.69v2.74h-4.69zM291.13 947.28h4.69v2.74h-4.69zM352.11 947.28h4.69v2.74h-4.69zM258.29 950.02h4.69v2.74h-4.69zM286.44 950.02h4.69v2.74h-4.69zM305.20 950.02h4.69v2.74h-4.69zM361.50 950.02h4.69v2.74h-4.69zM384.95 950.02h4.69v2.74h-4.69zM403.72 950.02h4.69v2.74h-4.69zM291.13 952.76h4.69v2.74h-4.69zM342.73 952.76h4.69v2.74h-4.69zM319.28 955.50h4.69v2.74h-4.69zM84.71 958.24h4.69v2.74h-4.69zM216.07 958.24h4.69v2.74h-4.69zM281.75 958.24h4.69v2.74h-4.69zM323.97 958.24h4.69v2.74h-4.69zM380.26 958.24h4.69v2.74h-4.69zM389.64 958.24h4.69v2.74h-4.69zM70.64 960.98h4.69v2.74h-4.69zM112.86 960.98h4.69v2.74h-4.69zM253.60 960.98h4.69v2.74h-4.69zM291.13 960.98h4.69v2.74h-4.69zM131.62 963.72h4.69v2.74h-4.69zM258.29 966.46h4.69v2.74h-4.69zM314.58 966.46h4.69v2.74h-4.69zM323.97 966.46h4.69v2.74h-4.69zM347.42 966.46h4.69v2.74h-4.69zM380.26 966.46h4.69v2.74h-4.69zM75.33 971.94h4.69v2.74h-4.69zM89.40 971.94h4.69v2.74h-4.69zM305.20 971.94h4.69v2.74h-4.69zM323.97 971.94h4.69v2.74h-4.69zM380.26 971.94h4.69v2.74h-4.69zM239.52 974.68h4.69v2.74h-4.69zM333.35 974.68h4.69v2.74h-4.69zM399.03 974.68h4.69v2.74h-4.69zM136.32 977.42h4.69v2.74h-4.69zM277.05 977.42h4.69v2.74h-4.69zM347.42 977.42h4.69v2.74h-4.69zM225.45 980.16h4.69v2.74h-4.69zM389.64 980.16h4.69v2.74h-4.69zM281.75 982.90h4.69v2.74h-4.69zM328.66 982.90h4.69v2.74h-4.69zM399.03 982.90h4.69v2.74h-4.69zM281.75 985.64h4.69v2.74h-4.69zM384.95 985.64h4.69v2.74h-4.69zM94.09 988.38h4.69v2.74h-4.69zM295.82 988.38h4.69v2.74h-4.69zM281.75 991.12h4.69v2.74h-4.69zM291.13 991.12h4.69v2.74h-4.69zM305.20 991.12h4.69v2.74h-4.69zM356.81 991.12h4.69v2.74h-4.69zM375.57 991.12h4.69v2.74h-4.69zM197.30 993.86h4.69v2.74h-4.69zM216.07 993.86h4.69v2.74h-4.69zM225.45 993.86h4.69v2.74h-4.69zM399.03 993.86h4.69v2.74h-4.69zM295.82 996.60h4.69v2.74h-4.69zM314.58 996.60h4.69v2.74h-4.69zM352.11 996.60h4.69v2.74h-4.69zM258.29 999.34h4.69v2.74h-4.69zM267.67 999.34h4.69v2.74h-4.69zM277.05 999.34h4.69v2.74h-4.69zM352.11 999.34h4.69v2.74h-4.69zM356.81 999.34h4.69v2.74h-4.69zM384.95 999.34h4.69v2.74h-4.69zM56.56 1002.08h4.69v2.74h-4.69zM187.92 1002.08h4.69v2.74h-4.69zM309.89 1002.08h4.69v2.74h-4.69zM338.04 1004.82h4.69v2.74h-4.69zM272.36 1007.56h4.69v2.74h-4.69zM281.75 1007.56h4.69v2.74h-4.69zM314.58 1007.56h4.69v2.74h-4.69zM356.81 1010.30h4.69v2.74h-4.69zM408.41 1010.30h4.69v2.74h-4.69zM253.60 1013.04h4.69v2.74h-4.69zM262.98 1013.04h4.69v2.74h-4.69zM309.89 1013.04h4.69v2.74h-4.69zM333.35 1013.04h4.69v2.74h-4.69zM356.81 1013.04h4.69v2.74h-4.69zM403.72 1013.04h4.69v2.74h-4.69zM244.22 1015.78h4.69v2.74h-4.69zM281.75 1015.78h4.69v2.74h-4.69zM309.89 1018.52h4.69v2.74h-4.69zM403.72 1018.52h4.69v2.74h-4.69zM262.98 1021.26h4.69v2.74h-4.69zM272.36 1021.26h4.69v2.74h-4.69zM277.05 1021.26h4.69v2.74h-4.69zM323.97 1021.26h4.69v2.74h-4.69zM384.95 1021.26h4.69v2.74h-4.69zM323.97 1024.00h4.69v2.74h-4.69zM347.42 1024.00h4.69v2.74h-4.69zM356.81 1024.00h4.69v2.74h-4.69zM309.89 1026.74h4.69v2.74h-4.69zM323.97 1026.74h4.69v2.74h-4.69zM394.34 1026.74h4.69v2.74h-4.69zM399.03 1026.74h4.69v2.74h-4.69zM159.77 1029.48h4.69v2.74h-4.69zM267.67 1029.48h4.69v2.74h-4.69zM342.73 1029.48h4.69v2.74h-4.69zM403.72 1029.48h4.69v2.74h-4.69zM131.62 1032.22h4.69v2.74h-4.69zM178.54 1032.22h4.69v2.74h-4.69zM333.35 1034.96h4.69v2.74h-4.69zM342.73 1034.96h4.69v2.74h-4.69zM361.50 1034.96h4.69v2.74h-4.69zM305.20 1037.70h4.69v2.74h-4.69zM323.97 1037.70h4.69v2.74h-4.69zM220.76 1040.44h4.69v2.74h-4.69zM262.98 1040.44h4.69v2.74h-4.69zM347.42 1040.44h4.69v2.74h-4.69zM352.11 1040.44h4.69v2.74h-4.69zM356.81 1043.18h4.69v2.74h-4.69zM183.23 1045.92h4.69v2.74h-4.69zM248.91 1048.66h4.69v2.74h-4.69z"/>
<path fill="#fdb171" d="M328.66 777.40h4.69v2.74h-4.69zM366.19 793.84h4.69v2.74h-4.69zM244.22 823.98h4.69v2.74h-4.69zM399.03 843.16h4.69v2.74h-4.69zM370.88 876.04h4.69v2.74h-4.69zM366.19 966.46h4.69v2.74h-4.69zM244.22 971.94h4.69v2.74h-4.69zM262.98 971.94h4.69v2.74h-4.69zM253.60 977.42h4.69v2.74h-4.69zM253.60 980.16h4.69v2.74h-4.69zM361.50 980.16h4.69v2.74h-4.69zM384.95 988.38h4.69v2.74h-4.69z"/>
<path fill="#fff3ad" d="M389.64 777.40h4.69v2.74h-4.69zM84.71 780.14h4.69v2.74h-4.69zM399.03 780.14h4.69v2.74h-4.69zM300.51 782.88h4.69v2.74h-4.69zM370.88 782.88h4.69v2.74h-4.69zM108.17 785.62h4.69v2.74h-4.69zM375.57 785.62h4.69v2.74h-4.69zM211.38 788.36h4.69v2.74h-4.69zM309.89 788.36h4.69v2.74h-4.69zM366.19 788.36h4.69v2.74h-4.69zM173.85 791.10h4.69v2.74h-4.69zM291.13 791.10h4.69v2.74h-4.69zM262.98 796.58h4.69v2.74h-4.69zM342.73 796.58h4.69v2.74h-4.69zM98.79 802.06h4.69v2.74h-4.69zM136.32 804.80h4.69v2.74h-4.69zM225.45 804.80h4.69v2.74h-4.69zM244.22 804.80h4.69v2.74h-4.69zM80.02 810.28h4.69v2.74h-4.69zM375.57 810.28h4.69v2.74h-4.69zM141.01 813.02h4.69v2.74h-4.69zM234.83 813.02h4.69v2.74h-4.69zM291.13 815.76h4.69v2.74h-4.69zM328.66 815.76h4.69v2.74h-4.69zM197.30 818.50h4.69v2.74h-4.69zM51.87 821.24h4.69v2.74h-4.69zM70.64 821.24h4.69v2.74h-4.69zM399.03 821.24h4.69v2.74h-4.69zM408.41 821.24h4.69v2.74h-4.69zM394.34 823.98h4.69v2.74h-4.69zM253.60 826.72h4.69v2.74h-4.69zM347.42 826.72h4.69v2.74h-4.69zM408.41 829.46h4.69v2.74h-4.69zM169.16 834.94h4.69v2.74h-4.69zM80.02 837.68h4.69v2.74h-4.69zM98.79 837.68h4.69v2.74h-4.69zM136.32 843.16h4.69v2.74h-4.69zM155.08 843.16h4.69v2.74h-4.69zM103.48 854.12h4.69v2.74h-4.69zM230.14 856.86h4.69v2.74h-4.69zM295.82 856.86h4.69v2.74h-4.69zM309.89 859.60h4.69v2.74h-4.69zM375.57 859.60h4.69v2.74h-4.69zM272.36 862.34h4.69v2.74h-4.69zM300.51 862.34h4.69v2.74h-4.69zM225.45 865.08h4.69v2.74h-4.69zM42.49 867.82h4.69v2.74h-4.69zM192.61 867.82h4.69v2.74h-4.69zM230.14 867.82h4.69v2.74h-4.69zM164.46 873.30h4.69v2.74h-4.69zM338.04 873.30h4.69v2.74h-4.69zM89.40 876.04h4.69v2.74h-4.69zM159.77 876.04h4.69v2.74h-4.69zM211.38 878.78h4.69v2.74h-4.69zM277.05 881.52h4.69v2.74h-4.69zM42.49 884.26h4.69v2.74h-4.69zM70.64 884.26h4.69v2.74h-4.69zM117.55 884.26h4.69v2.74h-4.69zM126.93 887.00h4.69v2.74h-4.69zM305.20 887.00h4.69v2.74h-4.69zM84.71 889.74h4.69v2.74h-4.69zM234.83 892.48h4.69v2.74h-4.69zM136.32 895.22h4.69v2.74h-4.69zM389.64 897.96h4.69v2.74h-4.69zM89.40 900.70h4.69v2.74h-4.69zM98.79 900.70h4.69v2.74h-4.69zM352.11 900.70h4.69v2.74h-4.69zM394.34 900.70h4.69v2.74h-4.69zM319.28 903.44h4.69v2.74h-4.69zM164.46 908.92h4.69v2.74h-4.69zM291.13 908.92h4.69v2.74h-4.69zM295.82 908.92h4.69v2.74h-4.69zM314.58 908.92h4.69v2.74h-4.69zM108.17 911.66h4.69v2.74h-4.69zM267.67 911.66h4.69v2.74h-4.69zM319.28 914.40h4.69v2.74h-4.69zM328.66 914.40h4.69v2.74h-4.69zM169.16 917.14h4.69v2.74h-4.69zM178.54 919.88h4.69v2.74h-4.69zM375.57 928.10h4.69v2.74h-4.69zM384.95 928.10h4.69v2.74h-4.69zM75.33 930.84h4.69v2.74h-4.69zM366.19 930.84h4.69v2.74h-4.69zM239.52 933.58h4.69v2.74h-4.69zM366.19 939.06h4.69v2.74h-4.69zM150.39 941.80h4.69v2.74h-4.69zM216.07 941.80h4.69v2.74h-4.69zM286.44 941.80h4.69v2.74h-4.69zM225.45 947.28h4.69v2.74h-4.69zM126.93 950.02h4.69v2.74h-4.69zM187.92 955.50h4.69v2.74h-4.69zM286.44 955.50h4.69v2.74h-4.69zM356.81 955.50h4.69v2.74h-4.69zM366.19 955.50h4.69v2.74h-4.69zM253.60 958.24h4.69v2.74h-4.69zM84.71 960.98h4.69v2.74h-4.69zM370.88 960.98h4.69v2.74h-4.69zM239.52 966.46h4.69v2.74h-4.69zM262.98 966.46h4.69v2.74h-4.69zM309.89 969.20h4.69v2.74h-4.69zM150.39 977.42h4.69v2.74h-4.69zM183.23 977.42h4.69v2.74h-4.69zM230.14 980.16h4.69v2.74h-4.69zM169.16 982.90h4.69v2.74h-4.69zM380.26 982.90h4.69v2.74h-4.69zM56.56 991.12h4.69v2.74h-4.69zM75.33 991.12h4.69v2.74h-4.69zM342.73 991.12h4.69v2.74h-4.69zM164.46 993.86h4.69v2.74h-4.69zM291.13 993.86h4.69v2.74h-4.69zM94.09 996.60h4.69v2.74h-4.69zM211.38 999.34h4.69v2.74h-4.69zM89.40 1002.08h4.69v2.74h-4.69zM192.61 1002.08h4.69v2.74h-4.69zM258.29 1002.08h4.69v2.74h-4.69zM234.83 1010.30h4.69v2.74h-4.69zM352.11 1010.30h4.69v2.74h-4.69zM56.56 1018.52h4.69v2.74h-4.69zM150.39 1018.52h4.69v2.74h-4.69zM253.60 1018.52h4.69v2.74h-4.69zM375.57 1018.52h4.69v2.74h-4.69zM267.67 1024.00h4.69v2.74h-4.69zM122.24 1026.74h4.69v2.74h-4.69zM281.75 1026.74h4.69v2.74h-4.69zM370.88 1026.74h4.69v2.74h-4.69zM380.26 1026.74h4.69v2.74h-4.69zM75.33 1032.22h4.69v2.74h-4.69zM42.49 1034.96h4.69v2.74h-4.69zM108.17 1037.70h4.69v2.74h-4.69zM122.24 1040.44h4.69v2.74h-4.69zM183.23 1040.44h4.69v2.74h-4.69zM314.58 1040.44h4.69v2.74h-4.69zM201.99 1043.18h4.69v2.74h-4.69zM323.97 1043.18h4.69v2.74h-4.69zM408.41 1043.18h4.69v2.74h-4.69zM84.71 1048.66h4.69v2.74h-4.69z"/>
<path fill="#fffab7" d="M399.03 777.40h4.69v2.74h-4.69zM164.46 780.14h4.69v2.74h-4.69zM178.54 780.14h4.69v2.74h-4.69zM206.69 780.14h4.69v2.74h-4.69zM258.29 780.14h4.69v2.74h-4.69zM187.92 782.88h4.69v2.74h-4.69zM305.20 782.88h4.69v2.74h-4.69zM380.26 782.88h4.69v2.74h-4.69zM126.93 785.62h4.69v2.74h-4.69zM164.46 785.62h4.69v2.74h-4.69zM225.45 785.62h4.69v2.74h-4.69zM131.62 788.36h4.69v2.74h-4.69zM216.07 788.36h4.69v2.74h-4.69zM319.28 788.36h4.69v2.74h-4.69zM94.09 791.10h4.69v2.74h-4.69zM206.69 791.10h4.69v2.74h-4.69zM286.44 791.10h4.69v2.74h-4.69zM375.57 791.10h4.69v2.74h-4.69zM408.41 791.10h4.69v2.74h-4.69zM98.79 793.84h4.69v2.74h-4.69zM211.38 793.84h4.69v2.74h-4.69zM234.83 793.84h4.69v2.74h-4.69zM314.58 793.84h4.69v2.74h-4.69zM342.73 793.84h4.69v2.74h-4.69zM347.42 793.84h4.69v2.74h-4.69zM352.11 793.84h4.69v2.74h-4.69zM98.79 796.58h4.69v2.74h-4.69zM314.58 796.58h4.69v2.74h-4.69zM98.79 799.32h4.69v2.74h-4.69zM145.70 799.32h4.69v2.74h-4.69zM239.52 799.32h4.69v2.74h-4.69zM65.95 802.06h4.69v2.74h-4.69zM80.02 802.06h4.69v2.74h-4.69zM230.14 802.06h4.69v2.74h-4.69zM356.81 802.06h4.69v2.74h-4.69zM375.57 802.06h4.69v2.74h-4.69zM267.67 804.80h4.69v2.74h-4.69zM328.66 804.80h4.69v2.74h-4.69zM70.64 807.54h4.69v2.74h-4.69zM84.71 807.54h4.69v2.74h-4.69zM108.17 807.54h4.69v2.74h-4.69zM187.92 807.54h4.69v2.74h-4.69zM277.05 807.54h4.69v2.74h-4.69zM328.66 807.54h4.69v2.74h-4.69zM352.11 807.54h4.69v2.74h-4.69zM42.49 810.28h4.69v2.74h-4.69zM356.81 810.28h4.69v2.74h-4.69zM173.85 813.02h4.69v2.74h-4.69zM211.38 813.02h4.69v2.74h-4.69zM328.66 813.02h4.69v2.74h-4.69zM89.40 815.76h4.69v2.74h-4.69zM103.48 815.76h4.69v2.74h-4.69zM108.17 815.76h4.69v2.74h-4.69zM319.28 815.76h4.69v2.74h-4.69zM328.66 821.24h4.69v2.74h-4.69zM366.19 821.24h4.69v2.74h-4.69zM117.55 823.98h4.69v2.74h-4.69zM122.24 823.98h4.69v2.74h-4.69zM126.93 823.98h4.69v2.74h-4.69zM136.32 823.98h4.69v2.74h-4.69zM197.30 823.98h4.69v2.74h-4.69zM248.91 823.98h4.69v2.74h-4.69zM253.60 823.98h4.69v2.74h-4.69zM286.44 823.98h4.69v2.74h-4.69zM70.64 826.72h4.69v2.74h-4.69zM131.62 826.72h4.69v2.74h-4.69zM169.16 826.72h4.69v2.74h-4.69zM356.81 829.46h4.69v2.74h-4.69zM380.26 829.46h4.69v2.74h-4.69zM65.95 832.20h4.69v2.74h-4.69zM98.79 832.20h4.69v2.74h-4.69zM141.01 834.94h4.69v2.74h-4.69zM178.54 834.94h4.69v2.74h-4.69zM281.75 834.94h4.69v2.74h-4.69zM42.49 837.68h4.69v2.74h-4.69zM361.50 837.68h4.69v2.74h-4.69zM155.08 840.42h4.69v2.74h-4.69zM169.16 840.42h4.69v2.74h-4.69zM319.28 840.42h4.69v2.74h-4.69zM61.26 843.16h4.69v2.74h-4.69zM70.64 843.16h4.69v2.74h-4.69zM197.30 843.16h4.69v2.74h-4.69zM244.22 843.16h4.69v2.74h-4.69zM333.35 843.16h4.69v2.74h-4.69zM98.79 845.90h4.69v2.74h-4.69zM108.17 845.90h4.69v2.74h-4.69zM173.85 845.90h4.69v2.74h-4.69zM394.34 845.90h4.69v2.74h-4.69zM141.01 848.64h4.69v2.74h-4.69zM234.83 848.64h4.69v2.74h-4.69zM262.98 848.64h4.69v2.74h-4.69zM117.55 851.38h4.69v2.74h-4.69zM225.45 851.38h4.69v2.74h-4.69zM291.13 851.38h4.69v2.74h-4.69zM366.19 851.38h4.69v2.74h-4.69zM375.57 851.38h4.69v2.74h-4.69zM56.56 854.12h4.69v2.74h-4.69zM108.17 854.12h4.69v2.74h-4.69zM155.08 854.12h4.69v2.74h-4.69zM225.45 854.12h4.69v2.74h-4.69zM239.52 854.12h4.69v2.74h-4.69zM248.91 854.12h4.69v2.74h-4.69zM89.40 856.86h4.69v2.74h-4.69zM183.23 856.86h4.69v2.74h-4.69zM277.05 856.86h4.69v2.74h-4.69zM37.80 859.60h4.69v2.74h-4.69zM112.86 859.60h4.69v2.74h-4.69zM323.97 859.60h4.69v2.74h-4.69zM98.79 862.34h4.69v2.74h-4.69zM126.93 862.34h4.69v2.74h-4.69zM164.46 862.34h4.69v2.74h-4.69zM169.16 862.34h4.69v2.74h-4.69zM75.33 865.08h4.69v2.74h-4.69zM108.17 865.08h4.69v2.74h-4.69zM248.91 865.08h4.69v2.74h-4.69zM300.51 865.08h4.69v2.74h-4.69zM65.95 867.82h4.69v2.74h-4.69zM262.98 867.82h4.69v2.74h-4.69zM361.50 867.82h4.69v2.74h-4.69zM403.72 867.82h4.69v2.74h-4.69zM42.49 870.56h4.69v2.74h-4.69zM131.62 870.56h4.69v2.74h-4.69zM150.39 870.56h4.69v2.74h-4.69zM211.38 870.56h4.69v2.74h-4.69zM262.98 870.56h4.69v2.74h-4.69zM84.71 873.30h4.69v2.74h-4.69zM98.79 873.30h4.69v2.74h-4.69zM197.30 873.30h4.69v2.74h-4.69zM342.73 873.30h4.69v2.74h-4.69zM361.50 873.30h4.69v2.74h-4.69zM42.49 876.04h4.69v2.74h-4.69zM98.79 876.04h4.69v2.74h-4.69zM112.86 876.04h4.69v2.74h-4.69zM201.99 876.04h4.69v2.74h-4.69zM211.38 876.04h4.69v2.74h-4.69zM220.76 876.04h4.69v2.74h-4.69zM394.34 876.04h4.69v2.74h-4.69zM42.49 878.78h4.69v2.74h-4.69zM136.32 878.78h4.69v2.74h-4.69zM300.51 878.78h4.69v2.74h-4.69zM65.95 884.26h4.69v2.74h-4.69zM80.02 884.26h4.69v2.74h-4.69zM309.89 887.00h4.69v2.74h-4.69zM323.97 887.00h4.69v2.74h-4.69zM352.11 887.00h4.69v2.74h-4.69zM122.24 889.74h4.69v2.74h-4.69zM220.76 889.74h4.69v2.74h-4.69zM347.42 889.74h4.69v2.74h-4.69zM384.95 889.74h4.69v2.74h-4.69zM150.39 892.48h4.69v2.74h-4.69zM314.58 892.48h4.69v2.74h-4.69zM328.66 892.48h4.69v2.74h-4.69zM145.70 895.22h4.69v2.74h-4.69zM155.08 895.22h4.69v2.74h-4.69zM234.83 895.22h4.69v2.74h-4.69zM253.60 895.22h4.69v2.74h-4.69zM319.28 895.22h4.69v2.74h-4.69zM399.03 895.22h4.69v2.74h-4.69zM51.87 897.96h4.69v2.74h-4.69zM286.44 897.96h4.69v2.74h-4.69zM342.73 897.96h4.69v2.74h-4.69zM56.56 900.70h4.69v2.74h-4.69zM338.04 900.70h4.69v2.74h-4.69zM56.56 903.44h4.69v2.74h-4.69zM89.40 903.44h4.69v2.74h-4.69zM173.85 903.44h4.69v2.74h-4.69zM183.23 903.44h4.69v2.74h-4.69zM253.60 903.44h4.69v2.74h-4.69zM281.75 903.44h4.69v2.74h-4.69zM394.34 903.44h4.69v2.74h-4.69zM399.03 903.44h4.69v2.74h-4.69zM197.30 906.18h4.69v2.74h-4.69zM206.69 906.18h4.69v2.74h-4.69zM328.66 906.18h4.69v2.74h-4.69zM42.49 908.92h4.69v2.74h-4.69zM61.26 908.92h4.69v2.74h-4.69zM94.09 908.92h4.69v2.74h-4.69zM239.52 908.92h4.69v2.74h-4.69zM323.97 908.92h4.69v2.74h-4.69zM173.85 911.66h4.69v2.74h-4.69zM178.54 911.66h4.69v2.74h-4.69zM201.99 911.66h4.69v2.74h-4.69zM234.83 914.40h4.69v2.74h-4.69zM244.22 914.40h4.69v2.74h-4.69zM356.81 914.40h4.69v2.74h-4.69zM61.26 917.14h4.69v2.74h-4.69zM103.48 917.14h4.69v2.74h-4.69zM155.08 917.14h4.69v2.74h-4.69zM159.77 917.14h4.69v2.74h-4.69zM333.35 917.14h4.69v2.74h-4.69zM75.33 919.88h4.69v2.74h-4.69zM98.79 919.88h4.69v2.74h-4.69zM70.64 922.62h4.69v2.74h-4.69zM80.02 922.62h4.69v2.74h-4.69zM239.52 922.62h4.69v2.74h-4.69zM277.05 922.62h4.69v2.74h-4.69zM361.50 922.62h4.69v2.74h-4.69zM403.72 922.62h4.69v2.74h-4.69zM201.99 925.36h4.69v2.74h-4.69zM225.45 925.36h4.69v2.74h-4.69zM319.28 925.36h4.69v2.74h-4.69zM51.87 928.10h4.69v2.74h-4.69zM150.39 928.10h4.69v2.74h-4.69zM230.14 928.10h4.69v2.74h-4.69zM262.98 928.10h4.69v2.74h-4.69zM305.20 928.10h4.69v2.74h-4.69zM117.55 930.84h4.69v2.74h-4.69zM136.32 930.84h4.69v2.74h-4.69zM150.39 930.84h4.69v2.74h-4.69zM230.14 930.84h4.69v2.74h-4.69zM277.05 930.84h4.69v2.74h-4.69zM295.82 930.84h4.69v2.74h-4.69zM37.80 933.58h4.69v2.74h-4.69zM84.71 933.58h4.69v2.74h-4.69zM244.22 933.58h4.69v2.74h-4.69zM338.04 933.58h4.69v2.74h-4.69zM159.77 936.32h4.69v2.74h-4.69zM253.60 936.32h4.69v2.74h-4.69zM262.98 936.32h4.69v2.74h-4.69zM309.89 936.32h4.69v2.74h-4.69zM384.95 936.32h4.69v2.74h-4.69zM403.72 936.32h4.69v2.74h-4.69zM131.62 939.06h4.69v2.74h-4.69zM201.99 939.06h4.69v2.74h-4.69zM187.92 941.80h4.69v2.74h-4.69zM173.85 944.54h4.69v2.74h-4.69zM183.23 944.54h4.69v2.74h-4.69zM244.22 944.54h4.69v2.74h-4.69zM333.35 944.54h4.69v2.74h-4.69zM370.88 944.54h4.69v2.74h-4.69zM375.57 944.54h4.69v2.74h-4.69zM51.87 947.28h4.69v2.74h-4.69zM61.26 947.28h4.69v2.74h-4.69zM244.22 947.28h4.69v2.74h-4.69zM61.26 950.02h4.69v2.74h-4.69zM122.24 950.02h4.69v2.74h-4.69zM173.85 950.02h4.69v2.74h-4.69zM248.91 950.02h4.69v2.74h-4.69zM272.36 952.76h4.69v2.74h-4.69zM370.88 952.76h4.69v2.74h-4.69zM65.95 958.24h4.69v2.74h-4.69zM145.70 958.24h4.69v2.74h-4.69zM178.54 958.24h4.69v2.74h-4.69zM314.58 958.24h4.69v2.74h-4.69zM141.01 960.98h4.69v2.74h-4.69zM178.54 960.98h4.69v2.74h-4.69zM403.72 960.98h4.69v2.74h-4.69zM37.80 963.72h4.69v2.74h-4.69zM178.54 963.72h4.69v2.74h-4.69zM272.36 963.72h4.69v2.74h-4.69zM314.58 963.72h4.69v2.74h-4.69zM370.88 963.72h4.69v2.74h-4.69zM403.72 963.72h4.69v2.74h-4.69zM408.41 963.72h4.69v2.74h-4.69zM94.09 966.46h4.69v2.74h-4.69zM117.55 966.46h4.69v2.74h-4.69zM173.85 966.46h4.69v2.74h-4.69zM94.09 969.20h4.69v2.74h-4.69zM126.93 969.20h4.69v2.74h-4.69zM239.52 969.20h4.69v2.74h-4.69zM319.28 969.20h4.69v2.74h-4.69zM352.11 971.94h4.69v2.74h-4.69zM361.50 971.94h4.69v2.74h-4.69zM366.19 971.94h4.69v2.74h-4.69zM70.64 974.68h4.69v2.74h-4.69zM141.01 974.68h4.69v2.74h-4.69zM220.76 974.68h4.69v2.74h-4.69zM225.45 974.68h4.69v2.74h-4.69zM281.75 974.68h4.69v2.74h-4.69zM272.36 977.42h4.69v2.74h-4.69zM380.26 977.42h4.69v2.74h-4.69zM192.61 980.16h4.69v2.74h-4.69zM394.34 980.16h4.69v2.74h-4.69zM131.62 982.90h4.69v2.74h-4.69zM145.70 982.90h4.69v2.74h-4.69zM159.77 982.90h4.69v2.74h-4.69zM173.85 982.90h4.69v2.74h-4.69zM262.98 982.90h4.69v2.74h-4.69zM267.67 982.90h4.69v2.74h-4.69zM300.51 982.90h4.69v2.74h-4.69zM347.42 982.90h4.69v2.74h-4.69zM47.18 985.64h4.69v2.74h-4.69zM112.86 985.64h4.69v2.74h-4.69zM314.58 985.64h4.69v2.74h-4.69zM338.04 985.64h4.69v2.74h-4.69zM117.55 988.38h4.69v2.74h-4.69zM192.61 988.38h4.69v2.74h-4.69zM328.66 988.38h4.69v2.74h-4.69zM103.48 991.12h4.69v2.74h-4.69zM183.23 991.12h4.69v2.74h-4.69zM187.92 991.12h4.69v2.74h-4.69zM408.41 991.12h4.69v2.74h-4.69zM94.09 993.86h4.69v2.74h-4.69zM178.54 993.86h4.69v2.74h-4.69zM220.76 993.86h4.69v2.74h-4.69zM314.58 993.86h4.69v2.74h-4.69zM319.28 993.86h4.69v2.74h-4.69zM370.88 993.86h4.69v2.74h-4.69zM375.57 993.86h4.69v2.74h-4.69zM37.80 996.60h4.69v2.74h-4.69zM183.23 996.60h4.69v2.74h-4.69zM272.36 996.60h4.69v2.74h-4.69zM323.97 996.60h4.69v2.74h-4.69zM342.73 996.60h4.69v2.74h-4.69zM51.87 1002.08h4.69v2.74h-4.69zM65.95 1002.08h4.69v2.74h-4.69zM173.85 1002.08h4.69v2.74h-4.69zM220.76 1002.08h4.69v2.74h-4.69zM361.50 1002.08h4.69v2.74h-4.69zM375.57 1002.08h4.69v2.74h-4.69zM216.07 1004.82h4.69v2.74h-4.69zM291.13 1004.82h4.69v2.74h-4.69zM42.49 1007.56h4.69v2.74h-4.69zM47.18 1007.56h4.69v2.74h-4.69zM230.14 1007.56h4.69v2.74h-4.69zM352.11 1007.56h4.69v2.74h-4.69zM356.81 1007.56h4.69v2.74h-4.69zM408.41 1007.56h4.69v2.74h-4.69zM253.60 1010.30h4.69v2.74h-4.69zM267.67 1010.30h4.69v2.74h-4.69zM300.51 1010.30h4.69v2.74h-4.69zM70.64 1013.04h4.69v2.74h-4.69zM366.19 1013.04h4.69v2.74h-4.69zM37.80 1015.78h4.69v2.74h-4.69zM84.71 1015.78h4.69v2.74h-4.69zM108.17 1015.78h4.69v2.74h-4.69zM342.73 1015.78h4.69v2.74h-4.69zM183.23 1018.52h4.69v2.74h-4.69zM201.99 1018.52h4.69v2.74h-4.69zM300.51 1018.52h4.69v2.74h-4.69zM361.50 1018.52h4.69v2.74h-4.69zM37.80 1021.26h4.69v2.74h-4.69zM338.04 1021.26h4.69v2.74h-4.69zM94.09 1024.00h4.69v2.74h-4.69zM211.38 1024.00h4.69v2.74h-4.69zM403.72 1024.00h4.69v2.74h-4.69zM75.33 1026.74h4.69v2.74h-4.69zM145.70 1026.74h4.69v2.74h-4.69zM342.73 1026.74h4.69v2.74h-4.69zM56.56 1029.48h4.69v2.74h-4.69zM309.89 1029.48h4.69v2.74h-4.69zM319.28 1029.48h4.69v2.74h-4.69zM380.26 1029.48h4.69v2.74h-4.69zM117.55 1032.22h4.69v2.74h-4.69zM122.24 1032.22h4.69v2.74h-4.69zM155.08 1032.22h4.69v2.74h-4.69zM211.38 1032.22h4.69v2.74h-4.69zM216.07 1032.22h4.69v2.74h-4.69zM103.48 1034.96h4.69v2.74h-4.69zM253.60 1034.96h4.69v2.74h-4.69zM117.55 1037.70h4.69v2.74h-4.69zM150.39 1037.70h4.69v2.74h-4.69zM248.91 1037.70h4.69v2.74h-4.69zM164.46 1040.44h4.69v2.74h-4.69zM258.29 1040.44h4.69v2.74h-4.69zM361.50 1040.44h4.69v2.74h-4.69zM272.36 1043.18h4.69v2.74h-4.69zM375.57 1043.18h4.69v2.74h-4.69zM51.87 1045.92h4.69v2.74h-4.69zM225.45 1045.92h4.69v2.74h-4.69zM248.91 1045.92h4.69v2.74h-4.69zM42.49 1048.66h4.69v2.74h-4.69zM51.87 1048.66h4.69v2.74h-4.69zM126.93 1048.66h4.69v2.74h-4.69zM356.81 1048.66h4.69v2.74h-4.69z"/>
<path fill="#fdc37d" d="M56.56 780.14h4.69v2.74h-4.69zM42.49 785.62h4.69v2.74h-4.69zM61.26 788.36h4.69v2.74h-4.69zM253.60 791.10h4.69v2.74h-4.69zM65.95 796.58h4.69v2.74h-4.69zM394.34 821.24h4.69v2.74h-4.69zM272.36 826.72h4.69v2.74h-4.69zM267.67 925.36h4.69v2.74h-4.69zM51.87 977.42h4.69v2.74h-4.69z"/>
<path fill="#fee294" d="M98.79 780.14h4.69v2.74h-4.69zM159.77 780.14h4.69v2.74h-4.69zM230.14 780.14h4.69v2.74h-4.69zM342.73 780.14h4.69v2.74h-4.69zM380.26 780.14h4.69v2.74h-4.69zM98.79 782.88h4.69v2.74h-4.69zM239.52 782.88h4.69v2.74h-4.69zM272.36 782.88h4.69v2.74h-4.69zM281.75 782.88h4.69v2.74h-4.69zM314.58 782.88h4.69v2.74h-4.69zM136.32 785.62h4.69v2.74h-4.69zM197.30 785.62h4.69v2.74h-4.69zM295.82 785.62h4.69v2.74h-4.69zM305.20 785.62h4.69v2.74h-4.69zM342.73 785.62h4.69v2.74h-4.69zM80.02 788.36h4.69v2.74h-4.69zM126.93 791.10h4.69v2.74h-4.69zM258.29 791.10h4.69v2.74h-4.69zM295.82 791.10h4.69v2.74h-4.69zM244.22 793.84h4.69v2.74h-4.69zM248.91 796.58h4.69v2.74h-4.69zM323.97 799.32h4.69v2.74h-4.69zM384.95 799.32h4.69v2.74h-4.69zM150.39 802.06h4.69v2.74h-4.69zM342.73 802.06h4.69v2.74h-4.69zM295.82 807.54h4.69v2.74h-4.69zM216.07 810.28h4.69v2.74h-4.69zM80.02 813.02h4.69v2.74h-4.69zM192.61 813.02h4.69v2.74h-4.69zM258.29 813.02h4.69v2.74h-4.69zM295.82 813.02h4.69v2.74h-4.69zM338.04 813.02h4.69v2.74h-4.69zM272.36 815.76h4.69v2.74h-4.69zM244.22 818.50h4.69v2.74h-4.69zM258.29 818.50h4.69v2.74h-4.69zM286.44 818.50h4.69v2.74h-4.69zM361.50 818.50h4.69v2.74h-4.69zM80.02 821.24h4.69v2.74h-4.69zM295.82 821.24h4.69v2.74h-4.69zM309.89 821.24h4.69v2.74h-4.69zM370.88 821.24h4.69v2.74h-4.69zM389.64 821.24h4.69v2.74h-4.69zM239.52 823.98h4.69v2.74h-4.69zM375.57 823.98h4.69v2.74h-4.69zM408.41 823.98h4.69v2.74h-4.69zM352.11 826.72h4.69v2.74h-4.69zM211.38 829.46h4.69v2.74h-4.69zM338.04 829.46h4.69v2.74h-4.69zM403.72 832.20h4.69v2.74h-4.69zM361.50 834.94h4.69v2.74h-4.69zM155.08 837.68h4.69v2.74h-4.69zM356.81 840.42h4.69v2.74h-4.69zM319.28 843.16h4.69v2.74h-4.69zM314.58 845.90h4.69v2.74h-4.69zM328.66 845.90h4.69v2.74h-4.69zM408.41 845.90h4.69v2.74h-4.69zM323.97 848.64h4.69v2.74h-4.69zM384.95 848.64h4.69v2.74h-4.69zM281.75 851.38h4.69v2.74h-4.69zM314.58 851.38h4.69v2.74h-4.69zM131.62 854.12h4.69v2.74h-4.69zM300.51 854.12h4.69v2.74h-4.69zM342.73 854.12h4.69v2.74h-4.69zM352.11 854.12h4.69v2.74h-4.69zM42.49 856.86h4.69v2.74h-4.69zM403.72 856.86h4.69v2.74h-4.69zM262.98 859.60h4.69v2.74h-4.69zM295.82 859.60h4.69v2.74h-4.69zM352.11 859.60h4.69v2.74h-4.69zM366.19 859.60h4.69v2.74h-4.69zM295.82 862.34h4.69v2.74h-4.69zM347.42 862.34h4.69v2.74h-4.69zM84.71 865.08h4.69v2.74h-4.69zM126.93 865.08h4.69v2.74h-4.69zM281.75 865.08h4.69v2.74h-4.69zM305.20 865.08h4.69v2.74h-4.69zM309.89 865.08h4.69v2.74h-4.69zM361.50 865.08h4.69v2.74h-4.69zM389.64 865.08h4.69v2.74h-4.69zM394.34 865.08h4.69v2.74h-4.69zM267.67 867.82h4.69v2.74h-4.69zM291.13 867.82h4.69v2.74h-4.69zM309.89 867.82h4.69v2.74h-4.69zM342.73 867.82h4.69v2.74h-4.69zM295.82 870.56h4.69v2.74h-4.69zM399.03 870.56h4.69v2.74h-4.69zM347.42 873.30h4.69v2.74h-4.69zM286.44 876.04h4.69v2.74h-4.69zM300.51 876.04h4.69v2.74h-4.69zM305.20 876.04h4.69v2.74h-4.69zM319.28 876.04h4.69v2.74h-4.69zM408.41 876.04h4.69v2.74h-4.69zM248.91 878.78h4.69v2.74h-4.69zM258.29 878.78h4.69v2.74h-4.69zM37.80 881.52h4.69v2.74h-4.69zM206.69 881.52h4.69v2.74h-4.69zM352.11 881.52h4.69v2.74h-4.69zM286.44 884.26h4.69v2.74h-4.69zM323.97 884.26h4.69v2.74h-4.69zM159.77 887.00h4.69v2.74h-4.69zM267.67 887.00h4.69v2.74h-4.69zM286.44 887.00h4.69v2.74h-4.69zM333.35 887.00h4.69v2.74h-4.69zM356.81 887.00h4.69v2.74h-4.69zM380.26 889.74h4.69v2.74h-4.69zM277.05 892.48h4.69v2.74h-4.69zM319.28 892.48h4.69v2.74h-4.69zM352.11 892.48h4.69v2.74h-4.69zM361.50 892.48h4.69v2.74h-4.69zM380.26 892.48h4.69v2.74h-4.69zM47.18 895.22h4.69v2.74h-4.69zM117.55 895.22h4.69v2.74h-4.69zM309.89 895.22h4.69v2.74h-4.69zM347.42 895.22h4.69v2.74h-4.69zM408.41 895.22h4.69v2.74h-4.69zM361.50 897.96h4.69v2.74h-4.69zM112.86 900.70h4.69v2.74h-4.69zM356.81 900.70h4.69v2.74h-4.69zM262.98 903.44h4.69v2.74h-4.69zM375.57 903.44h4.69v2.74h-4.69zM384.95 903.44h4.69v2.74h-4.69zM277.05 906.18h4.69v2.74h-4.69zM305.20 906.18h4.69v2.74h-4.69zM356.81 906.18h4.69v2.74h-4.69zM51.87 908.92h4.69v2.74h-4.69zM342.73 908.92h4.69v2.74h-4.69zM352.11 908.92h4.69v2.74h-4.69zM361.50 908.92h4.69v2.74h-4.69zM253.60 911.66h4.69v2.74h-4.69zM286.44 911.66h4.69v2.74h-4.69zM305.20 911.66h4.69v2.74h-4.69zM338.04 911.66h4.69v2.74h-4.69zM399.03 911.66h4.69v2.74h-4.69zM338.04 914.40h4.69v2.74h-4.69zM389.64 914.40h4.69v2.74h-4.69zM403.72 914.40h4.69v2.74h-4.69zM291.13 917.14h4.69v2.74h-4.69zM112.86 919.88h4.69v2.74h-4.69zM197.30 919.88h4.69v2.74h-4.69zM211.38 919.88h4.69v2.74h-4.69zM356.81 919.88h4.69v2.74h-4.69zM216.07 922.62h4.69v2.74h-4.69zM309.89 922.62h4.69v2.74h-4.69zM112.86 925.36h4.69v2.74h-4.69zM272.36 925.36h4.69v2.74h-4.69zM323.97 925.36h4.69v2.74h-4.69zM333.35 925.36h4.69v2.74h-4.69zM347.42 925.36h4.69v2.74h-4.69zM361.50 925.36h4.69v2.74h-4.69zM47.18 928.10h4.69v2.74h-4.69zM98.79 928.10h4.69v2.74h-4.69zM244.22 928.10h4.69v2.74h-4.69zM258.29 928.10h4.69v2.74h-4.69zM286.44 928.10h4.69v2.74h-4.69zM323.97 928.10h4.69v2.74h-4.69zM408.41 928.10h4.69v2.74h-4.69zM98.79 930.84h4.69v2.74h-4.69zM253.60 930.84h4.69v2.74h-4.69zM267.67 930.84h4.69v2.74h-4.69zM394.34 930.84h4.69v2.74h-4.69zM211.38 933.58h4.69v2.74h-4.69zM272.36 933.58h4.69v2.74h-4.69zM286.44 933.58h4.69v2.74h-4.69zM347.42 933.58h4.69v2.74h-4.69zM248.91 936.32h4.69v2.74h-4.69zM295.82 936.32h4.69v2.74h-4.69zM389.64 939.06h4.69v2.74h-4.69zM394.34 939.06h4.69v2.74h-4.69zM258.29 941.80h4.69v2.74h-4.69zM338.04 941.80h4.69v2.74h-4.69zM352.11 941.80h4.69v2.74h-4.69zM389.64 941.80h4.69v2.74h-4.69zM394.34 941.80h4.69v2.74h-4.69zM277.05 944.54h4.69v2.74h-4.69zM319.28 944.54h4.69v2.74h-4.69zM108.17 947.28h4.69v2.74h-4.69zM356.81 950.02h4.69v2.74h-4.69zM380.26 950.02h4.69v2.74h-4.69zM399.03 950.02h4.69v2.74h-4.69zM253.60 952.76h4.69v2.74h-4.69zM262.98 952.76h4.69v2.74h-4.69zM286.44 952.76h4.69v2.74h-4.69zM319.28 952.76h4.69v2.74h-4.69zM277.05 955.50h4.69v2.74h-4.69zM309.89 955.50h4.69v2.74h-4.69zM314.58 955.50h4.69v2.74h-4.69zM323.97 955.50h4.69v2.74h-4.69zM262.98 958.24h4.69v2.74h-4.69zM262.98 960.98h4.69v2.74h-4.69zM295.82 960.98h4.69v2.74h-4.69zM244.22 963.72h4.69v2.74h-4.69zM347.42 963.72h4.69v2.74h-4.69zM380.26 963.72h4.69v2.74h-4.69zM399.03 963.72h4.69v2.74h-4.69zM295.82 966.46h4.69v2.74h-4.69zM42.49 971.94h4.69v2.74h-4.69zM300.51 971.94h4.69v2.74h-4.69zM333.35 971.94h4.69v2.74h-4.69zM347.42 971.94h4.69v2.74h-4.69zM47.18 974.68h4.69v2.74h-4.69zM267.67 974.68h4.69v2.74h-4.69zM300.51 974.68h4.69v2.74h-4.69zM328.66 974.68h4.69v2.74h-4.69zM244.22 977.42h4.69v2.74h-4.69zM305.20 977.42h4.69v2.74h-4.69zM314.58 977.42h4.69v2.74h-4.69zM319.28 977.42h4.69v2.74h-4.69zM328.66 977.42h4.69v2.74h-4.69zM342.73 977.42h4.69v2.74h-4.69zM356.81 977.42h4.69v2.74h-4.69zM361.50 977.42h4.69v2.74h-4.69zM272.36 980.16h4.69v2.74h-4.69zM291.13 980.16h4.69v2.74h-4.69zM338.04 980.16h4.69v2.74h-4.69zM333.35 982.90h4.69v2.74h-4.69zM262.98 985.64h4.69v2.74h-4.69zM300.51 985.64h4.69v2.74h-4.69zM319.28 985.64h4.69v2.74h-4.69zM361.50 985.64h4.69v2.74h-4.69zM333.35 988.38h4.69v2.74h-4.69zM338.04 988.38h4.69v2.74h-4.69zM342.73 988.38h4.69v2.74h-4.69zM277.05 991.12h4.69v2.74h-4.69zM239.52 996.60h4.69v2.74h-4.69zM244.22 996.60h4.69v2.74h-4.69zM262.98 996.60h4.69v2.74h-4.69zM309.89 996.60h4.69v2.74h-4.69zM319.28 996.60h4.69v2.74h-4.69zM328.66 996.60h4.69v2.74h-4.69zM347.42 996.60h4.69v2.74h-4.69zM272.36 999.34h4.69v2.74h-4.69zM291.13 999.34h4.69v2.74h-4.69zM370.88 999.34h4.69v2.74h-4.69zM370.88 1002.08h4.69v2.74h-4.69zM347.42 1004.82h4.69v2.74h-4.69zM300.51 1007.56h4.69v2.74h-4.69zM305.20 1007.56h4.69v2.74h-4.69zM366.19 1007.56h4.69v2.74h-4.69zM126.93 1010.30h4.69v2.74h-4.69zM258.29 1010.30h4.69v2.74h-4.69zM314.58 1010.30h4.69v2.74h-4.69zM65.95 1013.04h4.69v2.74h-4.69zM300.51 1013.04h4.69v2.74h-4.69zM342.73 1013.04h4.69v2.74h-4.69zM201.99 1015.78h4.69v2.74h-4.69zM267.67 1015.78h4.69v2.74h-4.69zM319.28 1015.78h4.69v2.74h-4.69zM333.35 1015.78h4.69v2.74h-4.69zM291.13 1018.52h4.69v2.74h-4.69zM352.11 1018.52h4.69v2.74h-4.69zM258.29 1021.26h4.69v2.74h-4.69zM319.28 1021.26h4.69v2.74h-4.69zM342.73 1021.26h4.69v2.74h-4.69zM47.18 1024.00h4.69v2.74h-4.69zM47.18 1026.74h4.69v2.74h-4.69zM389.64 1026.74h4.69v2.74h-4.69zM187.92 1032.22h4.69v2.74h-4.69zM361.50 1032.22h4.69v2.74h-4.69zM389.64 1032.22h4.69v2.74h-4.69zM399.03 1032.22h4.69v2.74h-4.69zM47.18 1034.96h4.69v2.74h-4.69zM384.95 1034.96h4.69v2.74h-4.69zM258.29 1037.70h4.69v2.74h-4.69zM328.66 1037.70h4.69v2.74h-4.69zM333.35 1037.70h4.69v2.74h-4.69zM366.19 1037.70h4.69v2.74h-4.69zM141.01 1040.44h4.69v2.74h-4.69zM295.82 1040.44h4.69v2.74h-4.69zM389.64 1040.44h4.69v2.74h-4.69zM394.34 1040.44h4.69v2.74h-4.69zM141.01 1043.18h4.69v2.74h-4.69zM150.39 1043.18h4.69v2.74h-4.69zM277.05 1043.18h4.69v2.74h-4.69zM361.50 1045.92h4.69v2.74h-4.69zM366.19 1045.92h4.69v2.74h-4.69zM56.56 1048.66h4.69v2.74h-4.69zM173.85 1048.66h4.69v2.74h-4.69zM394.34 1048.66h4.69v2.74h-4.69z"/>
<path fill="#feeca3" d="M126.93 780.14h4.69v2.74h-4.69zM187.92 780.14h4.69v2.74h-4.69zM211.38 780.14h4.69v2.74h-4.69zM258.29 782.88h4.69v2.74h-4.69zM173.85 785.62h4.69v2.74h-4.69zM230.14 788.36h4.69v2.74h-4.69zM169.16 791.10h4.69v2.74h-4.69zM183.23 796.58h4.69v2.74h-4.69zM314.58 799.32h4.69v2.74h-4.69zM234.83 802.06h4.69v2.74h-4.69zM338.04 802.06h4.69v2.74h-4.69zM211.38 804.80h4.69v2.74h-4.69zM89.40 810.28h4.69v2.74h-4.69zM328.66 810.28h4.69v2.74h-4.69zM131.62 813.02h4.69v2.74h-4.69zM187.92 813.02h4.69v2.74h-4.69zM136.32 821.24h4.69v2.74h-4.69zM300.51 821.24h4.69v2.74h-4.69zM380.26 821.24h4.69v2.74h-4.69zM361.50 823.98h4.69v2.74h-4.69zM94.09 826.72h4.69v2.74h-4.69zM314.58 837.68h4.69v2.74h-4.69zM248.91 840.42h4.69v2.74h-4.69zM230.14 848.64h4.69v2.74h-4.69zM323.97 854.12h4.69v2.74h-4.69zM399.03 854.12h4.69v2.74h-4.69zM42.49 862.34h4.69v2.74h-4.69zM277.05 862.34h4.69v2.74h-4.69zM305.20 862.34h4.69v2.74h-4.69zM366.19 862.34h4.69v2.74h-4.69zM37.80 865.08h4.69v2.74h-4.69zM131.62 865.08h4.69v2.74h-4.69zM47.18 867.82h4.69v2.74h-4.69zM61.26 867.82h4.69v2.74h-4.69zM61.26 870.56h4.69v2.74h-4.69zM122.24 870.56h4.69v2.74h-4.69zM338.04 870.56h4.69v2.74h-4.69zM141.01 876.04h4.69v2.74h-4.69zM225.45 878.78h4.69v2.74h-4.69zM291.13 878.78h4.69v2.74h-4.69zM338.04 878.78h4.69v2.74h-4.69zM309.89 881.52h4.69v2.74h-4.69zM230.14 884.26h4.69v2.74h-4.69zM173.85 887.00h4.69v2.74h-4.69zM258.29 887.00h4.69v2.74h-4.69zM80.02 892.48h4.69v2.74h-4.69zM206.69 897.96h4.69v2.74h-4.69zM131.62 900.70h4.69v2.74h-4.69zM173.85 900.70h4.69v2.74h-4.69zM408.41 903.44h4.69v2.74h-4.69zM295.82 906.18h4.69v2.74h-4.69zM141.01 908.92h4.69v2.74h-4.69zM159.77 911.66h4.69v2.74h-4.69zM164.46 911.66h4.69v2.74h-4.69zM352.11 914.40h4.69v2.74h-4.69zM295.82 917.14h4.69v2.74h-4.69zM164.46 919.88h4.69v2.74h-4.69zM267.67 919.88h4.69v2.74h-4.69zM56.56 922.62h4.69v2.74h-4.69zM248.91 922.62h4.69v2.74h-4.69zM131.62 928.10h4.69v2.74h-4.69zM197.30 928.10h4.69v2.74h-4.69zM206.69 928.10h4.69v2.74h-4.69zM216.07 933.58h4.69v2.74h-4.69zM262.98 933.58h4.69v2.74h-4.69zM201.99 936.32h4.69v2.74h-4.69zM98.79 939.06h4.69v2.74h-4.69zM141.01 939.06h4.69v2.74h-4.69zM309.89 941.80h4.69v2.74h-4.69zM201.99 947.28h4.69v2.74h-4.69zM211.38 947.28h4.69v2.74h-4.69zM272.36 947.28h4.69v2.74h-4.69zM70.64 952.76h4.69v2.74h-4.69zM347.42 952.76h4.69v2.74h-4.69zM98.79 955.50h4.69v2.74h-4.69zM126.93 958.24h4.69v2.74h-4.69zM347.42 958.24h4.69v2.74h-4.69zM94.09 960.98h4.69v2.74h-4.69zM380.26 960.98h4.69v2.74h-4.69zM281.75 963.72h4.69v2.74h-4.69zM47.18 966.46h4.69v2.74h-4.69zM145.70 966.46h4.69v2.74h-4.69zM272.36 966.46h4.69v2.74h-4.69zM80.02 969.20h4.69v2.74h-4.69zM159.77 969.20h4.69v2.74h-4.69zM220.76 969.20h4.69v2.74h-4.69zM65.95 977.42h4.69v2.74h-4.69zM51.87 982.90h4.69v2.74h-4.69zM328.66 985.64h4.69v2.74h-4.69zM380.26 985.64h4.69v2.74h-4.69zM75.33 988.38h4.69v2.74h-4.69zM183.23 988.38h4.69v2.74h-4.69zM206.69 988.38h4.69v2.74h-4.69zM347.42 988.38h4.69v2.74h-4.69zM145.70 991.12h4.69v2.74h-4.69zM47.18 996.60h4.69v2.74h-4.69zM51.87 996.60h4.69v2.74h-4.69zM408.41 996.60h4.69v2.74h-4.69zM65.95 999.34h4.69v2.74h-4.69zM234.83 1007.56h4.69v2.74h-4.69zM164.46 1010.30h4.69v2.74h-4.69zM94.09 1013.04h4.69v2.74h-4.69zM291.13 1013.04h4.69v2.74h-4.69zM51.87 1015.78h4.69v2.74h-4.69zM258.29 1018.52h4.69v2.74h-4.69zM408.41 1024.00h4.69v2.74h-4.69zM108.17 1029.48h4.69v2.74h-4.69zM300.51 1032.22h4.69v2.74h-4.69zM37.80 1034.96h4.69v2.74h-4.69zM145.70 1034.96h4.69v2.74h-4.69zM65.95 1037.70h4.69v2.74h-4.69zM309.89 1037.70h4.69v2.74h-4.69zM197.30 1040.44h4.69v2.74h-4.69zM117.55 1045.92h4.69v2.74h-4.69zM347.42 1045.92h4.69v2.74h-4.69zM117.55 1048.66h4.69v2.74h-4.69z"/>
<path fill="#fda86b" d="M366.19 780.14h4.69v2.74h-4.69zM253.60 793.84h4.69v2.74h-4.69zM375.57 796.58h4.69v2.74h-4.69zM380.26 796.58h4.69v2.74h-4.69zM300.51 799.32h4.69v2.74h-4.69zM309.89 802.06h4.69v2.74h-4.69zM305.20 804.80h4.69v2.74h-4.69zM309.89 804.80h4.69v2.74h-4.69zM389.64 807.54h4.69v2.74h-4.69zM380.26 810.28h4.69v2.74h-4.69zM380.26 815.76h4.69v2.74h-4.69zM338.04 818.50h4.69v2.74h-4.69zM338.04 823.98h4.69v2.74h-4.69zM384.95 823.98h4.69v2.74h-4.69zM399.03 823.98h4.69v2.74h-4.69zM291.13 826.72h4.69v2.74h-4.69zM314.58 826.72h4.69v2.74h-4.69zM314.58 829.46h4.69v2.74h-4.69zM399.03 832.20h4.69v2.74h-4.69zM375.57 840.42h4.69v2.74h-4.69zM380.26 840.42h4.69v2.74h-4.69zM375.57 843.16h4.69v2.74h-4.69zM380.26 845.90h4.69v2.74h-4.69zM380.26 854.12h4.69v2.74h-4.69zM389.64 854.12h4.69v2.74h-4.69zM399.03 862.34h4.69v2.74h-4.69zM380.26 867.82h4.69v2.74h-4.69zM286.44 870.56h4.69v2.74h-4.69zM356.81 876.04h4.69v2.74h-4.69zM361.50 876.04h4.69v2.74h-4.69zM328.66 884.26h4.69v2.74h-4.69zM248.91 887.00h4.69v2.74h-4.69zM253.60 889.74h4.69v2.74h-4.69zM272.36 889.74h4.69v2.74h-4.69zM291.13 900.70h4.69v2.74h-4.69zM366.19 906.18h4.69v2.74h-4.69zM399.03 906.18h4.69v2.74h-4.69zM286.44 908.92h4.69v2.74h-4.69zM394.34 908.92h4.69v2.74h-4.69zM248.91 914.40h4.69v2.74h-4.69zM291.13 922.62h4.69v2.74h-4.69zM295.82 922.62h4.69v2.74h-4.69zM300.51 925.36h4.69v2.74h-4.69zM300.51 928.10h4.69v2.74h-4.69zM389.64 928.10h4.69v2.74h-4.69zM305.20 930.84h4.69v2.74h-4.69zM370.88 930.84h4.69v2.74h-4.69zM394.34 933.58h4.69v2.74h-4.69zM305.20 936.32h4.69v2.74h-4.69zM272.36 939.06h4.69v2.74h-4.69zM262.98 941.80h4.69v2.74h-4.69zM384.95 952.76h4.69v2.74h-4.69zM248.91 958.24h4.69v2.74h-4.69zM277.05 963.72h4.69v2.74h-4.69zM286.44 966.46h4.69v2.74h-4.69zM399.03 966.46h4.69v2.74h-4.69zM366.19 969.20h4.69v2.74h-4.69zM253.60 971.94h4.69v2.74h-4.69zM295.82 971.94h4.69v2.74h-4.69zM262.98 974.68h4.69v2.74h-4.69zM258.29 980.16h4.69v2.74h-4.69zM352.11 980.16h4.69v2.74h-4.69zM408.41 985.64h4.69v2.74h-4.69zM277.05 988.38h4.69v2.74h-4.69zM408.41 988.38h4.69v2.74h-4.69zM403.72 993.86h4.69v2.74h-4.69zM258.29 996.60h4.69v2.74h-4.69zM394.34 996.60h4.69v2.74h-4.69zM394.34 1007.56h4.69v2.74h-4.69zM272.36 1010.30h4.69v2.74h-4.69zM314.58 1024.00h4.69v2.74h-4.69zM356.81 1034.96h4.69v2.74h-4.69zM267.67 1040.44h4.69v2.74h-4.69z"/>
<path fill="#ec6544" d="M56.56 782.88h4.69v2.74h-4.69zM65.95 810.28h4.69v2.74h-4.69zM403.72 1004.82h4.69v2.74h-4.69z"/>
<path fill="#dff3f8" d="M183.23 782.88h4.69v2.74h-4.69zM192.61 788.36h4.69v2.74h-4.69zM225.45 788.36h4.69v2.74h-4.69zM342.73 791.10h4.69v2.74h-4.69zM258.29 793.84h4.69v2.74h-4.69zM108.17 799.32h4.69v2.74h-4.69zM112.86 799.32h4.69v2.74h-4.69zM131.62 804.80h4.69v2.74h-4.69zM225.45 807.54h4.69v2.74h-4.69zM220.76 810.28h4.69v2.74h-4.69zM342.73 815.76h4.69v2.74h-4.69zM80.02 818.50h4.69v2.74h-4.69zM187.92 818.50h4.69v2.74h-4.69zM220.76 826.72h4.69v2.74h-4.69zM103.48 837.68h4.69v2.74h-4.69zM403.72 840.42h4.69v2.74h-4.69zM80.02 843.16h4.69v2.74h-4.69zM211.38 856.86h4.69v2.74h-4.69zM155.08 859.60h4.69v2.74h-4.69zM225.45 862.34h4.69v2.74h-4.69zM136.32 870.56h4.69v2.74h-4.69zM65.95 873.30h4.69v2.74h-4.69zM80.02 873.30h4.69v2.74h-4.69zM70.64 878.78h4.69v2.74h-4.69zM225.45 887.00h4.69v2.74h-4.69zM37.80 889.74h4.69v2.74h-4.69zM80.02 889.74h4.69v2.74h-4.69zM187.92 889.74h4.69v2.74h-4.69zM230.14 900.70h4.69v2.74h-4.69zM286.44 914.40h4.69v2.74h-4.69zM112.86 922.62h4.69v2.74h-4.69zM108.17 933.58h4.69v2.74h-4.69zM61.26 939.06h4.69v2.74h-4.69zM42.49 944.54h4.69v2.74h-4.69zM295.82 944.54h4.69v2.74h-4.69zM42.49 947.28h4.69v2.74h-4.69zM164.46 952.76h4.69v2.74h-4.69zM112.86 955.50h4.69v2.74h-4.69zM234.83 958.24h4.69v2.74h-4.69zM47.18 960.98h4.69v2.74h-4.69zM122.24 963.72h4.69v2.74h-4.69zM206.69 971.94h4.69v2.74h-4.69zM112.86 974.68h4.69v2.74h-4.69zM103.48 977.42h4.69v2.74h-4.69zM61.26 988.38h4.69v2.74h-4.69zM178.54 988.38h4.69v2.74h-4.69zM103.48 993.86h4.69v2.74h-4.69zM159.77 999.34h4.69v2.74h-4.69zM211.38 1004.82h4.69v2.74h-4.69zM164.46 1007.56h4.69v2.74h-4.69zM108.17 1018.52h4.69v2.74h-4.69zM51.87 1026.74h4.69v2.74h-4.69zM108.17 1032.22h4.69v2.74h-4.69zM51.87 1034.96h4.69v2.74h-4.69zM80.02 1037.70h4.69v2.74h-4.69zM192.61 1040.44h4.69v2.74h-4.69zM89.40 1045.92h4.69v2.74h-4.69zM258.29 1048.66h4.69v2.74h-4.69z"/>
<path fill="#fc9f65" d="M328.66 782.88h4.69v2.74h-4.69zM300.51 796.58h4.69v2.74h-4.69zM366.19 796.58h4.69v2.74h-4.69zM399.03 799.32h4.69v2.74h-4.69zM333.35 802.06h4.69v2.74h-4.69zM309.89 813.02h4.69v2.74h-4.69zM384.95 815.76h4.69v2.74h-4.69zM291.13 818.50h4.69v2.74h-4.69zM291.13 821.24h4.69v2.74h-4.69zM384.95 821.24h4.69v2.74h-4.69zM291.13 823.98h4.69v2.74h-4.69zM361.50 826.72h4.69v2.74h-4.69zM295.82 829.46h4.69v2.74h-4.69zM384.95 834.94h4.69v2.74h-4.69zM399.03 840.42h4.69v2.74h-4.69zM267.67 843.16h4.69v2.74h-4.69zM272.36 843.16h4.69v2.74h-4.69zM399.03 845.90h4.69v2.74h-4.69zM380.26 851.38h4.69v2.74h-4.69zM394.34 851.38h4.69v2.74h-4.69zM272.36 854.12h4.69v2.74h-4.69zM408.41 854.12h4.69v2.74h-4.69zM272.36 856.86h4.69v2.74h-4.69zM394.34 856.86h4.69v2.74h-4.69zM408.41 856.86h4.69v2.74h-4.69zM380.26 859.60h4.69v2.74h-4.69zM408.41 867.82h4.69v2.74h-4.69zM272.36 870.56h4.69v2.74h-4.69zM366.19 876.04h4.69v2.74h-4.69zM380.26 876.04h4.69v2.74h-4.69zM267.67 881.52h4.69v2.74h-4.69zM375.57 881.52h4.69v2.74h-4.69zM338.04 884.26h4.69v2.74h-4.69zM277.05 887.00h4.69v2.74h-4.69zM375.57 887.00h4.69v2.74h-4.69zM248.91 889.74h4.69v2.74h-4.69zM375.57 889.74h4.69v2.74h-4.69zM375.57 900.70h4.69v2.74h-4.69zM248.91 908.92h4.69v2.74h-4.69zM291.13 911.66h4.69v2.74h-4.69zM394.34 911.66h4.69v2.74h-4.69zM375.57 919.88h4.69v2.74h-4.69zM380.26 919.88h4.69v2.74h-4.69zM286.44 930.84h4.69v2.74h-4.69zM309.89 930.84h4.69v2.74h-4.69zM314.58 930.84h4.69v2.74h-4.69zM291.13 933.58h4.69v2.74h-4.69zM300.51 933.58h4.69v2.74h-4.69zM356.81 933.58h4.69v2.74h-4.69zM281.75 941.80h4.69v2.74h-4.69zM300.51 944.54h4.69v2.74h-4.69zM384.95 944.54h4.69v2.74h-4.69zM305.20 952.76h4.69v2.74h-4.69zM258.29 960.98h4.69v2.74h-4.69zM267.67 960.98h4.69v2.74h-4.69zM248.91 963.72h4.69v2.74h-4.69zM248.91 966.46h4.69v2.74h-4.69zM370.88 966.46h4.69v2.74h-4.69zM384.95 966.46h4.69v2.74h-4.69zM248.91 969.20h4.69v2.74h-4.69zM370.88 969.20h4.69v2.74h-4.69zM258.29 971.94h4.69v2.74h-4.69zM291.13 971.94h4.69v2.74h-4.69zM248.91 974.68h4.69v2.74h-4.69zM370.88 980.16h4.69v2.74h-4.69zM305.20 982.90h4.69v2.74h-4.69zM126.93 985.64h4.69v2.74h-4.69zM131.62 985.64h4.69v2.74h-4.69zM352.11 993.86h4.69v2.74h-4.69zM286.44 999.34h4.69v2.74h-4.69zM389.64 999.34h4.69v2.74h-4.69zM394.34 999.34h4.69v2.74h-4.69zM399.03 999.34h4.69v2.74h-4.69zM403.72 1010.30h4.69v2.74h-4.69zM408.41 1018.52h4.69v2.74h-4.69zM403.72 1037.70h4.69v2.74h-4.69zM408.41 1037.70h4.69v2.74h-4.69z"/>
<path fill="#e85c3e" d="M370.88 793.84h4.69v2.74h-4.69zM356.81 889.74h4.69v2.74h-4.69zM356.81 993.86h4.69v2.74h-4.69z"/>
<path fill="#d7edf5" d="M187.92 796.58h4.69v2.74h-4.69zM126.93 804.80h4.69v2.74h-4.69zM164.46 810.28h4.69v2.74h-4.69zM131.62 821.24h4.69v2.74h-4.69zM42.49 823.98h4.69v2.74h-4.69zM338.04 832.20h4.69v2.74h-4.69zM84.71 837.68h4.69v2.74h-4.69zM277.05 837.68h4.69v2.74h-4.69zM272.36 840.42h4.69v2.74h-4.69zM192.61 845.90h4.69v2.74h-4.69zM201.99 845.90h4.69v2.74h-4.69zM220.76 851.38h4.69v2.74h-4.69zM94.09 856.86h4.69v2.74h-4.69zM94.09 859.60h4.69v2.74h-4.69zM56.56 865.08h4.69v2.74h-4.69zM183.23 865.08h4.69v2.74h-4.69zM84.71 867.82h4.69v2.74h-4.69zM244.22 887.00h4.69v2.74h-4.69zM141.01 889.74h4.69v2.74h-4.69zM399.03 889.74h4.69v2.74h-4.69zM187.92 900.70h4.69v2.74h-4.69zM211.38 903.44h4.69v2.74h-4.69zM183.23 908.92h4.69v2.74h-4.69zM225.45 914.40h4.69v2.74h-4.69zM164.46 925.36h4.69v2.74h-4.69zM98.79 936.32h4.69v2.74h-4.69zM155.08 936.32h4.69v2.74h-4.69zM178.54 941.80h4.69v2.74h-4.69zM65.95 955.50h4.69v2.74h-4.69zM70.64 963.72h4.69v2.74h-4.69zM267.67 966.46h4.69v2.74h-4.69zM333.35 980.16h4.69v2.74h-4.69zM164.46 985.64h4.69v2.74h-4.69zM366.19 991.12h4.69v2.74h-4.69zM262.98 993.86h4.69v2.74h-4.69zM56.56 1004.82h4.69v2.74h-4.69zM145.70 1013.04h4.69v2.74h-4.69zM155.08 1026.74h4.69v2.74h-4.69zM98.79 1037.70h4.69v2.74h-4.69zM225.45 1037.70h4.69v2.74h-4.69zM126.93 1040.44h4.69v2.74h-4.69z"/>
<path fill="#cee7f2" d="M244.22 796.58h4.69v2.74h-4.69zM267.67 810.28h4.69v2.74h-4.69zM94.09 818.50h4.69v2.74h-4.69zM70.64 854.12h4.69v2.74h-4.69zM169.16 865.08h4.69v2.74h-4.69zM131.62 867.82h4.69v2.74h-4.69zM234.83 889.74h4.69v2.74h-4.69zM201.99 895.22h4.69v2.74h-4.69zM89.40 917.14h4.69v2.74h-4.69zM112.86 930.84h4.69v2.74h-4.69zM211.38 988.38h4.69v2.74h-4.69zM145.70 999.34h4.69v2.74h-4.69zM338.04 1002.08h4.69v2.74h-4.69zM103.48 1021.26h4.69v2.74h-4.69zM239.52 1043.18h4.69v2.74h-4.69z"/>
<path fill="#f06f49" d="M309.89 799.32h4.69v2.74h-4.69zM380.26 804.80h4.69v2.74h-4.69zM380.26 843.16h4.69v2.74h-4.69zM375.57 845.90h4.69v2.74h-4.69zM408.41 859.60h4.69v2.74h-4.69zM394.34 993.86h4.69v2.74h-4.69z"/>
<path fill="#fdba77" d="M75.33 802.06h4.69v2.74h-4.69zM51.87 807.54h4.69v2.74h-4.69z"/>
<path fill="#e45239" d="M61.26 807.54h4.69v2.74h-4.69zM380.26 813.02h4.69v2.74h-4.69zM328.66 834.94h4.69v2.74h-4.69zM399.03 865.08h4.69v2.74h-4.69zM380.26 917.14h4.69v2.74h-4.69zM277.05 985.64h4.69v2.74h-4.69zM389.64 1004.82h4.69v2.74h-4.69z"/>
<path fill="#bddceb" d="M136.32 810.28h4.69v2.74h-4.69zM80.02 878.78h4.69v2.74h-4.69zM70.64 991.12h4.69v2.74h-4.69z"/>
<path fill="#b5d7e8" d="M94.09 813.02h4.69v2.74h-4.69z"/>
<path fill="#acd1e5" d="M183.23 851.38h4.69v2.74h-4.69z"/>
<path d="M37.80 777.40V1051.40M42.49 777.40V1051.40M47.18 777.40V1051.40M51.87 777.40V1051.40M56.56 777.40V1051.40M61.26 777.40V1051.40M65.95 777.40V1051.40M70.64 777.40V1051.40M75.33 777.40V1051.40M80.02 777.40V1051.40M84.71 777.40V1051.40M89.40 777.40V1051.40M94.09 777.40V1051.40M98.79 777.40V1051.40M103.48 777.40V1051.40M108.17 777.40V1051.40M112.86 777.40V1051.40M117.55 777.40V1051.40M122.24 777.40V1051.40M126.93 777.40V1051.40M131.62 777.40V1051.40M136.32 777.40V1051.40M141.01 777.40V1051.40M145.70 777.40V1051.40M150.39 777.40V1051.40M155.08 777.40V1051.40M159.77 777.40V1051.40M164.46 777.40V1051.40M169.16 777.40V1051.40M173.85 777.40V1051.40M178.54 777.40V1051.40M183.23 777.40V1051.40M187.92 777.40V1051.40M192.61 777.40V1051.40M197.30 777.40V1051.40M201.99 777.40V1051.40M206.69 777.40V1051.40M211.38 777.40V1051.40M216.07 777.40V1051.40M220.76 777.40V1051.40M225.45 777.40V1051.40M230.14 777.40V1051.40M234.83 777.40V1051.40M239.52 777.40V1051.40M244.22 777.40V1051.40M248.91 777.40V1051.40M253.60 777.40V1051.40M258.29 777.40V1051.40M262.98 777.40V1051.40M267.67 777.40V1051.40M272.36 777.40V1051.40M277.05 777.40V1051.40M281.75 777.40V1051.40M286.44 777.40V1051.40M291.13 777.40V1051.40M295.82 777.40V1051.40M300.51 777.40V1051.40M305.20 777.40V1051.40M309.89 777.40V1051.40M314.58 777.40V1051.40M319.28 777.40V1051.40M323.97 777.40V1051.40M328.66 777.40V1051.40M333.35 777.40V1051.40M338.04 777.40V1051.40M342.73 777.40V1051.40M347.42 777.40V1051.40M352.11 777.40V1051.40M356.81 777.40V1051.40M361.50 777.40V1051.40M366.19 777.40V1051.40M370.88 777.40V1051.40M375.57 777.40V1051.40M380.26 777.40V1051.40M384.95 777.40V1051.40M389.64 777.40V1051.40M394.34 777.40V1051.40M399.03 777.40V1051.40M403.72 777.40V1051.40M408.41 777.40V1051.40M413.10 777.40V1051.40M37.80 777.40H413.10M37.80 780.14H413.10M37.80 782.88H413.10M37.80 785.62H413.10M37.80 788.36H413.10M37.80 791.10H413.10M37.80 793.84H413.10M37.80 796.58H413.10M37.80 799.32H413.10M37.80 802.06H413.10M37.80 804.80H413.10M37.80 807.54H413.10M37.80 810.28H413.10M37.80 813.02H413.10M37.80 815.76H413.10M37.80 818.50H413.10M37.80 821.24H413.10M37.80 823.98H413.10M37.80 826.72H413.10M37.80 829.46H413.10M37.80 832.20H413.10M37.80 834.94H413.10M37.80 837.68H413.10M37.80 840.42H413.10M37.80 843.16H413.10M37.80 845.90H413.10M37.80 848.64H413.10M37.80 851.38H413.10M37.80 854.12H413.10M37.80 856.86H413.10M37.80 859.60H413.10M37.80 862.34H413.10M37.80 865.08H413.10M37.80 867.82H413.10M37.80 870.56H413.10M37.80 873.30H413.10M37.80 876.04H413.10M37.80 878.78H413.10M37.80 881.52H413.10M37.80 884.26H413.10M37.80 887.00H413.10M37.80 889.74H413.10M37.80 892.48H413.10M37.80 895.22H413.10M37.80 897.96H413.10M37.80 900.70H413.10M37.80 903.44H413.10M37.80 906.18H413.10M37.80 908.92H413.10M37.80 911.66H413.10M37.80 914.40H413.10M37.80 917.14H413.10M37.80 919.88H413.10M37.80 922.62H413.10M37.80 925.36H413.10M37.80 928.10H413.10M37.80 930.84H413.10M37.80 933.58H413.10M37.80 936.32H413.10M37.80 939.06H413.10M37.80 941.80H413.10M37.80 944.54H413.10M37.80 947.28H413.10M37.80 950.02H413.10M37.80 952.76H413.10M37.80 955.50H413.10M37.80 958.24H413.10M37.80 960.98H413.10M37.80 963.72H413.10M37.80 966.46H413.10M37.80 969.20H413.10M37.80 971.94H413.10M37.80 974.68H413.10M37.80 977.42H413.10M37.80 980.16H413.10M37.80 982.90H413.10M37.80 985.64H413.10M37.80 988.38H413.10M37.80 991.12H413.10M37.80 993.86H413.10M37.80 996.60H413.10M37.80 999.34H413.10M37.80 1002.08H413.10M37.80 1004.82H413.10M37.80 1007.56H413.10M37.80 1010.30H413.10M37.80 1013.04H413.10M37.80 1015.78H413.10M37.80 1018.52H413.10M37.80 1021.26H413.10M37.80 1024.00H413.10M37.80 1026.74H413.10M37.80 1029.48H413.10M37.80 1032.22H413.10M37.80 1034.96H413.10M37.80 1037.70H413.10M37.80 1040.44H413.10M37.80 1043.18H413.10M37.80 1045.92H413.10M37.80 1048.66H413.10M37.80 1051.40H413.10" stroke="#ababab" stroke-width="0.75" fill="none"/>
<path d="M44.84 770.30V760.00H49.53V770.30M40.15 770.30V760.00H47.18V760.00M54.22 770.30V760.00H58.91V770.30M43.66 760.00V759.71H56.56V760.00M63.60 770.30V760.00H68.29V770.30M65.95 760.00V760.00H72.98V770.30M50.11 759.71V757.60H69.47V760.00M77.68 770.30V760.00H82.37V770.30M80.02 760.00V759.25H87.06V770.30M91.75 770.30V758.92H96.44V770.30M83.54 759.25V757.00H94.09V758.92M101.13 770.30V760.00H105.82V770.30M110.51 770.30V760.00H115.21V770.30M112.86 760.00V760.00H119.90V770.30M103.48 760.00V759.91H116.38V760.00M129.28 770.30V760.00H133.97V770.30M124.59 770.30V759.34H131.62V760.00M109.93 759.91V758.00H128.11V759.34M138.66 770.30V760.00H143.35V770.30M152.74 770.30V760.00H157.43V770.30M148.04 770.30V760.00H155.08V760.00M141.01 760.00V758.32H151.56V760.00M119.02 758.00V757.13H146.29V758.32M162.12 770.30V760.00H166.81V770.30M171.50 770.30V760.00H176.19V770.30M180.88 770.30V760.00H185.57V770.30M173.85 760.00V760.00H183.23V760.00M164.46 760.00V758.53H178.54V760.00M190.27 770.30V760.00H194.96V770.30M199.65 770.30V760.00H204.34V770.30M192.61 760.00V760.00H201.99V760.00M209.03 770.30V760.00H213.72V770.30M197.30 760.00V758.53H211.38V760.00M171.50 758.53V757.44H204.34V758.53M132.65 757.13V756.00H187.92V757.44M88.82 757.00V754.50H160.29V756.00M59.79 757.60V752.10H124.55V754.50M218.41 770.30V753.97H223.10V770.30M227.80 770.30V754.38H232.49V770.30M220.76 753.97V752.20H230.14V754.38M241.87 770.30V759.98H246.56V770.30M244.22 759.98V758.18H251.25V770.30M237.18 770.30V755.82H247.73V758.18M255.94 770.30V756.88H260.63V770.30M258.29 756.88V755.23H265.33V770.30M242.46 755.82V753.28H261.81V755.23M225.45 752.20V750.42H252.13V753.28M270.02 770.30V756.80H274.71V770.30M284.09 770.30V758.31H288.78V770.30M279.40 770.30V756.50H286.44V758.31M272.36 756.80V753.94H282.92V756.50M293.47 770.30V753.82H298.16V770.30M277.64 753.94V751.20H295.82V753.82M302.86 770.30V753.93H307.55V770.30M312.24 770.30V754.49H316.93V770.30M305.20 753.93V751.86H314.58V754.49M326.31 770.30V753.28H331.00V770.30M321.62 770.30V752.20H328.66V753.28M309.89 751.86V750.31H325.14V752.20M286.73 751.20V748.98H317.52V750.31M238.79 750.42V747.90H302.12V748.98M335.69 770.30V754.28H340.39V770.30M345.08 770.30V755.48H349.77V770.30M347.42 755.48V753.68H354.46V770.30M338.04 754.28V752.00H350.94V753.68M359.15 770.30V752.46H363.84V770.30M344.49 752.00V750.05H361.50V752.46M368.53 770.30V752.06H373.22V770.30M382.61 770.30V756.31H387.30V770.30M384.95 756.31V753.63H391.99V770.30M377.92 770.30V752.16H388.47V753.63M370.88 752.06V750.71H383.19V752.16M396.68 770.30V753.67H401.37V770.30M406.06 770.30V754.14H410.75V770.30M399.03 753.67V751.36H408.41V754.14M377.04 750.71V749.62H403.72V751.36M352.99 750.05V747.30H390.38V749.62M270.46 747.90V744.40H371.69V747.30M92.17 752.10V741.30H321.07V744.40" stroke="#6a6a6a" stroke-width="0.55" fill="none"/>
<path d="M37.60 778.77H23.02V781.51H37.60M37.60 784.25H27.96V786.99H37.60M27.96 785.62H25.45V789.73H37.60M25.45 787.67H24.02V792.47H37.60M23.02 780.14H21.55V790.07H24.02M37.60 795.21H27.56V797.95H37.60M37.60 800.69H27.41V803.43H37.60M27.56 796.58H24.76V802.06H27.41M37.60 806.17H29.06V808.91H37.60M29.06 807.54H27.00V811.65H37.60M27.00 809.60H23.91V814.39H37.60M24.76 799.32H22.09V811.99H23.91M21.55 785.11H19.03V805.66H22.09M37.60 819.87H23.18V822.61H37.60M37.60 817.13H19.82V821.24H23.18M37.60 828.09H25.84V830.83H37.60M37.60 825.35H22.90V829.46H25.84M37.60 833.57H26.02V836.31H37.60M37.60 839.05H27.51V841.79H37.60M26.02 834.94H24.01V840.42H27.51M22.90 827.40H21.37V837.68H24.01M19.82 819.18H18.40V832.54H21.37M19.03 795.38H16.42V825.86H18.40M37.60 844.53H20.36V847.27H37.60M37.60 852.75H22.37V855.49H37.60M37.60 850.01H20.99V854.12H22.37M20.36 845.90H18.77V852.07H20.99M37.60 860.97H27.79V863.71H37.60M37.60 858.23H25.01V862.34H27.79M25.01 860.29H21.58V866.45H37.60M37.60 869.19H24.84V871.93H37.60M24.84 870.56H22.72V874.67H37.60M22.72 872.62H20.43V877.41H37.60M21.58 863.37H18.82V875.01H20.43M18.77 848.98H16.94V869.19H18.82M16.42 810.62H13.88V859.09H16.94M37.60 880.15H23.69V882.89H37.60M37.60 885.63H23.53V888.37H37.60M23.69 881.52H20.13V887.00H23.53M37.60 893.85H21.40V896.59H37.60M37.60 891.11H19.88V895.22H21.40M20.13 884.26H17.64V893.16H19.88M37.60 899.33H20.48V902.07H37.60M37.60 907.55H24.78V910.29H37.60M37.60 904.81H22.54V908.92H24.78M20.48 900.70H19.05V906.87H22.54M37.60 915.77H25.77V918.51H37.60M25.77 917.14H22.82V921.25H37.60M37.60 913.03H21.28V919.19H22.82M37.60 923.99H23.98V926.73H37.60M37.60 929.47H23.89V932.21H37.60M23.89 930.84H22.09V934.95H37.60M23.98 925.36H20.54V932.89H22.09M21.28 916.11H18.06V929.13H20.54M19.05 903.78H16.42V922.62H18.06M17.64 888.71H14.51V913.20H16.42M13.88 834.85H11.97V900.96H14.51M37.60 940.43H23.69V943.17H37.60M37.60 937.69H22.16V941.80H23.69M37.60 945.91H23.57V948.65H37.60M22.16 939.75H20.01V947.28H23.57M37.60 951.39H24.38V954.13H37.60M24.38 952.76H22.41V956.87H37.60M37.60 962.35H26.73V965.09H37.60M37.60 959.61H23.14V963.72H26.73M22.41 954.82H19.72V961.66H23.14M20.01 943.51H17.06V958.24H19.72M37.60 970.57H27.25V973.31H37.60M37.60 967.83H23.99V971.94H27.25M37.60 976.05H25.22V978.79H37.60M23.99 969.88H22.03V977.42H25.22M37.60 981.53H24.03V984.27H37.60M22.03 973.65H20.35V982.90H24.03M37.60 989.75H25.95V992.49H37.60M37.60 987.01H23.71V991.12H25.95M37.60 997.97H26.10V1000.71H37.60M26.10 999.34H24.16V1003.45H37.60M37.60 995.23H22.36V1001.39H24.16M23.71 989.07H20.82V998.31H22.36M20.35 978.28H17.88V993.69H20.82M17.06 950.88H14.70V985.98H17.88M37.60 1008.93H22.58V1011.67H37.60M37.60 1006.19H19.06V1010.30H22.58M37.60 1014.41H17.79V1017.15H37.60M19.06 1008.25H15.80V1015.78H17.79M37.60 1019.89H24.12V1022.63H37.60M37.60 1025.37H23.80V1028.11H37.60M24.12 1021.26H21.05V1026.74H23.80M37.60 1030.85H24.10V1033.59H37.60M37.60 1036.33H23.57V1039.07H37.60M24.10 1032.22H21.59V1037.70H23.57M21.05 1024.00H18.35V1034.96H21.59M37.60 1047.29H23.39V1050.03H37.60M37.60 1044.55H21.43V1048.66H23.39M37.60 1041.81H18.70V1046.61H21.43M18.35 1029.48H16.13V1044.21H18.70M15.80 1012.01H14.28V1036.84H16.13M14.70 968.43H12.88V1024.43H14.28M11.97 867.91H9.80V996.43H12.88" stroke="#6a6a6a" stroke-width="0.55" fill="none"/>
<text x="418.30" y="777.30" font-size="11.5" text-anchor="start" fill="#000" textLength="30.70" lengthAdjust="spacingAndGlyphs" >Group</text>
<defs><linearGradient id="cb" x1="0" y1="1" x2="0" y2="0"><stop offset="0.0000" stop-color="#4575B4"/><stop offset="0.1667" stop-color="#91BFDB"/><stop offset="0.3333" stop-color="#E0F3F8"/><stop offset="0.5000" stop-color="#FFFFBF"/><stop offset="0.6667" stop-color="#FEE090"/><stop offset="0.8333" stop-color="#FC8D59"/><stop offset="1.0000" stop-color="#D73027"/></linearGradient></defs>
<rect x="417.3" y="781.7" width="7" height="88.5" fill="url(#cb)"/>
<text x="436.40" y="791.00" font-size="11" text-anchor="end" fill="#000" >4</text>
<text x="436.40" y="808.50" font-size="11" text-anchor="end" fill="#000" >2</text>
<text x="436.40" y="829.40" font-size="11" text-anchor="end" fill="#000" >0</text>
<text x="436.40" y="846.70" font-size="11" text-anchor="end" fill="#000" >−2</text>
<text x="436.40" y="867.00" font-size="11" text-anchor="end" fill="#000" >−4</text>
<text x="449.60" y="795.80" font-size="11.5" text-anchor="start" fill="#000" textLength="31.70" lengthAdjust="spacingAndGlyphs" >Group</text>
<rect x="449.6" y="800.4" width="10" height="9.6" fill="#00d2d8"/>
<rect x="449.6" y="810" width="10" height="9.2" fill="#fb8a80"/>
<text x="463.00" y="808.10" font-size="11" text-anchor="start" fill="#000" textLength="19.30" lengthAdjust="spacingAndGlyphs" >PCL</text>
<text x="463.00" y="817.70" font-size="11" text-anchor="start" fill="#000" textLength="43.30" lengthAdjust="spacingAndGlyphs" >PCL1114</text>
<rect x="1" y="1" width="518" height="1063" fill="none" stroke="#000" stroke-width="2"/>
</svg></body></html>
